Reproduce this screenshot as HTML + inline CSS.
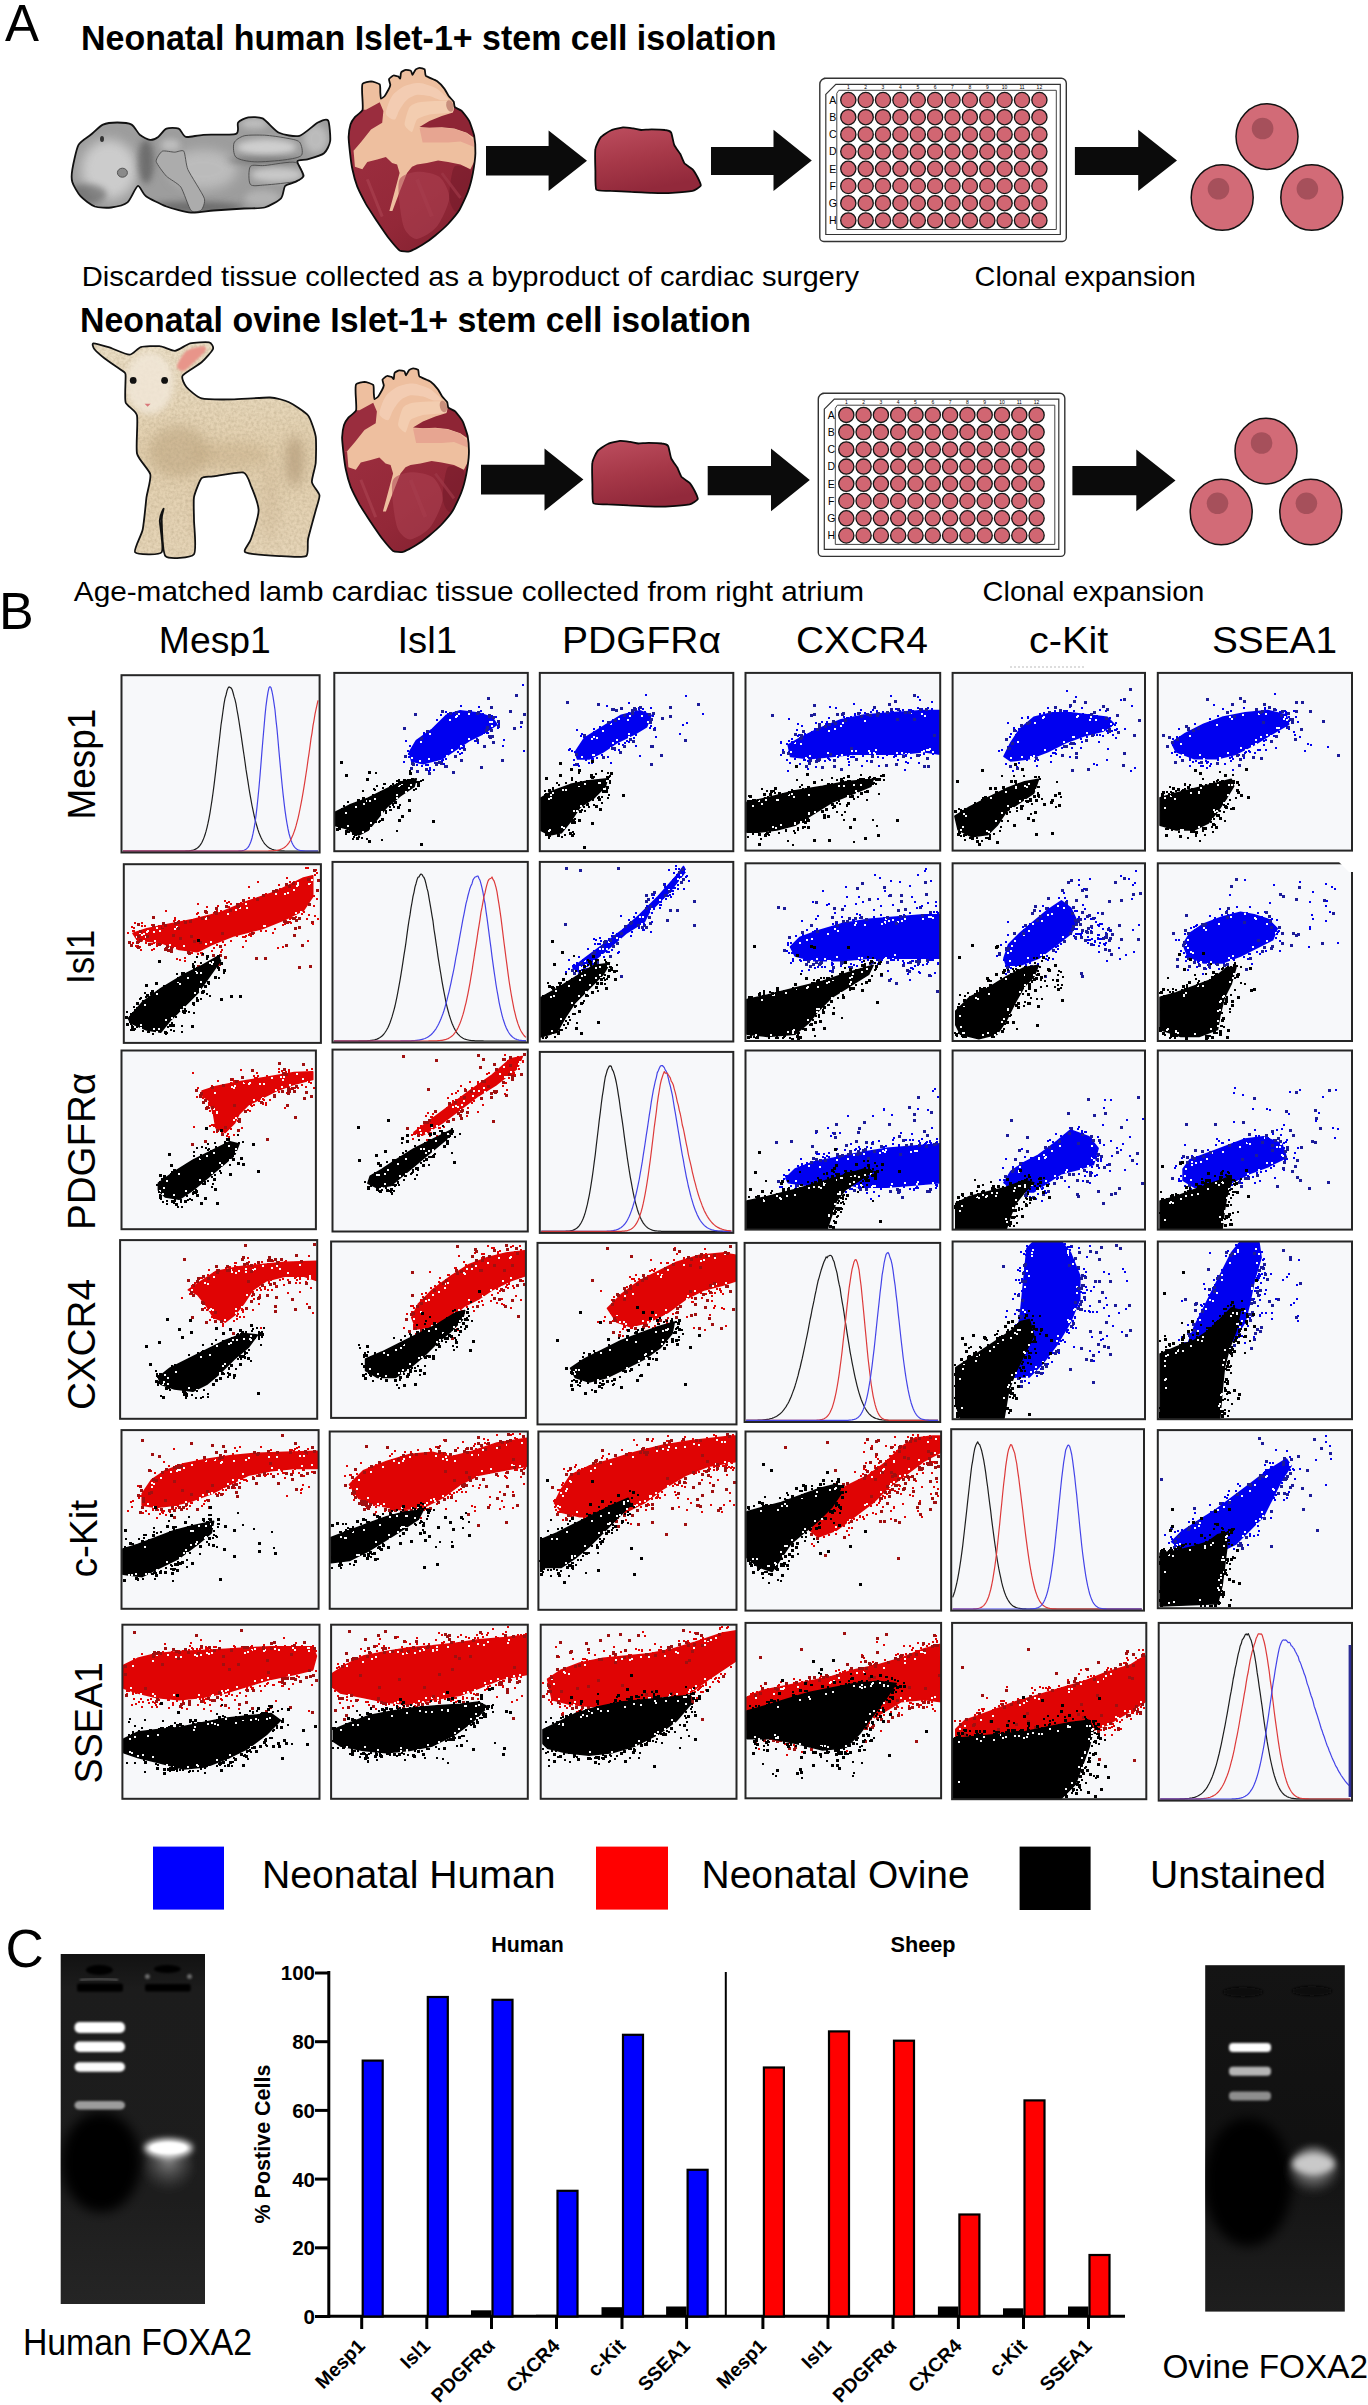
<!DOCTYPE html>
<html><head><meta charset="utf-8"><title>Figure</title>
<style>
html,body{margin:0;padding:0;background:#fff;}
body{width:1368px;height:2405px;overflow:hidden;}
svg{display:block;font-family:"Liberation Sans", sans-serif;}
</style></head><body>
<svg width="1368" height="2405" viewBox="0 0 1368 2405">
<rect width="1368" height="2405" fill="#fff"/>
<defs><filter id="blur1" x="-50%" y="-50%" width="200%" height="200%"><feGaussianBlur stdDeviation="1.2"/></filter><filter id="blur3" x="-100%" y="-100%" width="300%" height="300%"><feGaussianBlur stdDeviation="3"/></filter><filter id="blur6" x="-50%" y="-50%" width="200%" height="200%"><feGaussianBlur stdDeviation="6"/></filter></defs>
<text x="5" y="40.5" font-size="51" font-weight="normal" text-anchor="start" fill="#000" textLength="34" lengthAdjust="spacingAndGlyphs" >A</text>
<text x="81" y="50" font-size="34.5" font-weight="bold" text-anchor="start" fill="#000" textLength="695.5" lengthAdjust="spacingAndGlyphs" >Neonatal human Islet-1+ stem cell isolation</text>
<text x="80" y="331.5" font-size="34.5" font-weight="bold" text-anchor="start" fill="#000" textLength="671" lengthAdjust="spacingAndGlyphs" >Neonatal ovine Islet-1+ stem cell isolation</text>
<text x="81.8" y="285.6" font-size="28.5" font-weight="normal" text-anchor="start" fill="#000" textLength="777.3" lengthAdjust="spacingAndGlyphs" >Discarded tissue collected as a byproduct of cardiac surgery</text>
<text x="974.6" y="285.6" font-size="28.5" font-weight="normal" text-anchor="start" fill="#000" textLength="221.2" lengthAdjust="spacingAndGlyphs" >Clonal expansion</text>
<text x="73.8" y="600.7" font-size="28.5" font-weight="normal" text-anchor="start" fill="#000" textLength="790.2" lengthAdjust="spacingAndGlyphs" >Age-matched lamb cardiac tissue collected from right atrium</text>
<text x="982.6" y="600.7" font-size="28.5" font-weight="normal" text-anchor="start" fill="#000" textLength="221.7" lengthAdjust="spacingAndGlyphs" >Clonal expansion</text>
<defs><clipPath id="bclip"><path d="M72.3,169.6C73,165.3 76.3,149.1 78.4,145.1C80.6,141 87.8,137.2 90.7,134.8C93.6,132.4 99.9,126 103,124.6C106.1,123.2 114,122.5 117.3,122.5C120.6,122.5 129,123.2 131.6,124.6C134.3,126 137.7,133 139.8,134.8C142,136.6 147.9,139.7 150.1,139.9C152.2,140.2 156.3,138.2 158.2,136.9C160.2,135.6 164,129.6 166.4,128.7C168.8,127.7 176.4,127.7 178.7,128.7C181,129.6 183,136.2 185.9,136.9C188.7,137.6 197.4,135.2 203.3,134.8C209.1,134.5 232,135.2 236,133.8C240.1,132.4 236.6,124.5 238.1,122.5C239.5,120.6 245.4,117.9 248.3,117.4C251.2,116.9 259,116.7 262.6,118.4C266.2,120.2 274.7,130.7 279,132.8C283.3,134.8 294.9,137 299.5,135.8C304,134.6 314.5,124.3 317.9,122.5C321.2,120.7 326.7,118.3 328.1,120.5C329.5,122.6 330.6,137.1 330.2,141C329.7,144.8 326.6,151.1 324,153.2C321.4,155.4 310.8,158.4 307.6,159.4C304.5,160.3 297.9,159.5 297.4,161.4C296.9,163.3 303.8,173.4 303.6,175.8C303.3,178.1 297.5,180.7 295.4,181.9C293.2,183.1 286.8,184.1 285.1,186C283.5,187.9 283.4,195.8 281,198.3C278.7,200.8 269,206.3 264.7,207.5C260.4,208.7 250.2,208.1 244.2,208.5C238.2,208.9 219.7,210.1 213.5,210.5C207.3,211 196.5,213.1 191,212.6C185.5,212.1 171.7,208.4 166.4,206.5C161.2,204.5 149.3,198.6 146,196.2C142.6,193.8 139.9,185.3 137.8,186C135.6,186.7 130.6,199.9 127.5,202.4C124.4,204.9 115,207 111.2,207.5C107.3,208 98.4,207.8 94.8,206.5C91.2,205.1 83.1,199.1 80.5,196.2C77.8,193.4 73.2,185 72.3,181.9C71.3,178.8 71.6,173.9 72.3,169.6Z"/></clipPath></defs>
<path d="M72.3,169.6C73,165.3 76.3,149.1 78.4,145.1C80.6,141 87.8,137.2 90.7,134.8C93.6,132.4 99.9,126 103,124.6C106.1,123.2 114,122.5 117.3,122.5C120.6,122.5 129,123.2 131.6,124.6C134.3,126 137.7,133 139.8,134.8C142,136.6 147.9,139.7 150.1,139.9C152.2,140.2 156.3,138.2 158.2,136.9C160.2,135.6 164,129.6 166.4,128.7C168.8,127.7 176.4,127.7 178.7,128.7C181,129.6 183,136.2 185.9,136.9C188.7,137.6 197.4,135.2 203.3,134.8C209.1,134.5 232,135.2 236,133.8C240.1,132.4 236.6,124.5 238.1,122.5C239.5,120.6 245.4,117.9 248.3,117.4C251.2,116.9 259,116.7 262.6,118.4C266.2,120.2 274.7,130.7 279,132.8C283.3,134.8 294.9,137 299.5,135.8C304,134.6 314.5,124.3 317.9,122.5C321.2,120.7 326.7,118.3 328.1,120.5C329.5,122.6 330.6,137.1 330.2,141C329.7,144.8 326.6,151.1 324,153.2C321.4,155.4 310.8,158.4 307.6,159.4C304.5,160.3 297.9,159.5 297.4,161.4C296.9,163.3 303.8,173.4 303.6,175.8C303.3,178.1 297.5,180.7 295.4,181.9C293.2,183.1 286.8,184.1 285.1,186C283.5,187.9 283.4,195.8 281,198.3C278.7,200.8 269,206.3 264.7,207.5C260.4,208.7 250.2,208.1 244.2,208.5C238.2,208.9 219.7,210.1 213.5,210.5C207.3,211 196.5,213.1 191,212.6C185.5,212.1 171.7,208.4 166.4,206.5C161.2,204.5 149.3,198.6 146,196.2C142.6,193.8 139.9,185.3 137.8,186C135.6,186.7 130.6,199.9 127.5,202.4C124.4,204.9 115,207 111.2,207.5C107.3,208 98.4,207.8 94.8,206.5C91.2,205.1 83.1,199.1 80.5,196.2C77.8,193.4 73.2,185 72.3,181.9C71.3,178.8 71.6,173.9 72.3,169.6Z" fill="#9d9d9d"/>
<g clip-path="url(#bclip)">
<ellipse cx="109.1" cy="169.6" rx="28" ry="30" fill="#d2d2d2" opacity="0.9" filter="url(#blur6)"/>
<ellipse cx="86.6" cy="194.2" rx="20" ry="10" fill="#5e5e5e" opacity="0.6" filter="url(#blur3)"/>
<ellipse cx="203.3" cy="169.6" rx="34" ry="20" fill="#c4c4c4" opacity="0.8" filter="url(#blur6)"/>
<ellipse cx="193" cy="207.5" rx="50" ry="6" fill="#5a5a5a" opacity="0.7" filter="url(#blur3)"/>
<ellipse cx="146" cy="161.4" rx="8" ry="22" fill="#5c5c5c" opacity="0.7" filter="url(#blur3)"/>
<ellipse cx="266.7" cy="147.1" rx="30" ry="8" fill="#d4d4d4" opacity="0.9" filter="url(#blur3)"/>
<ellipse cx="264.7" cy="160.4" rx="38" ry="3" fill="#5a5a5a" opacity="0.6" filter="url(#blur3)"/>
<ellipse cx="315.8" cy="138.9" rx="12" ry="14" fill="#c4c4c4" opacity="0.8" filter="url(#blur3)"/>
<ellipse cx="276.9" cy="174.7" rx="26" ry="7" fill="#cdcdcd" opacity="0.9" filter="url(#blur3)"/>
<ellipse cx="262.6" cy="198.3" rx="18" ry="8" fill="#b8b8b8" opacity="0.8" filter="url(#blur3)"/>
<ellipse cx="170.5" cy="145.1" rx="10" ry="6" fill="#c8c8c8" opacity="0.8" filter="url(#blur3)"/>
<ellipse cx="254.4" cy="123.6" rx="14" ry="5" fill="#c8c8c8" opacity="0.8" filter="url(#blur3)"/>
</g>
<path d="M234,143C235.1,140.1 240.1,136.9 244.2,135.8C248.3,134.8 259.2,135 264.7,135.2C270.1,135.5 280.5,137 285.1,137.9C289.8,138.8 297.3,139.7 299.5,142C301.6,144.3 303.4,152.9 301.5,155.3C299.6,157.7 291.4,158.9 285.1,159.8C278.9,160.7 261,162.2 254.4,161.8C247.9,161.5 238.7,159.8 236,157.3C233.3,154.8 232.9,145.9 234,143Z" fill="none" stroke="#4a4a4a" stroke-width="0.9"/>
<path d="M250.3,166.5C252.2,164 258.7,166.1 264.7,165.5C270.7,165 290.3,161.1 295.4,162.4C300.4,163.8 302.5,173.2 302.5,175.8C302.5,178.3 300.4,180.3 295.4,181.5C290.3,182.7 270.7,184.6 264.7,185C258.7,185.3 252.2,186.8 250.3,184.3C248.4,181.9 248.4,169.1 250.3,166.5Z" fill="none" stroke="#4a4a4a" stroke-width="0.9"/>
<path d="M156.2,161.4C155.8,158.9 160.5,152.1 162.3,151.2C164.2,150.3 172.5,152.2 174.6,152.2C176.8,152.2 182.5,149.5 183.8,151.2C185.2,152.9 185.9,164.9 187.9,169.6C190,174.3 203,194.2 204.3,198.3C205.6,202.3 202.6,208.9 201.2,210.1C199.9,211.4 193,212.9 191,210.5C188.9,208.2 183.2,190.4 180.8,187C178.3,183.6 168.9,178.7 166.4,176.2C164,173.6 156.6,163.9 156.2,161.4Z" fill="#acacac" stroke="#4a4a4a" stroke-width="0.9"/>
<ellipse cx="122.4" cy="172.7" rx="5" ry="4.5" fill="#8a8a8a" stroke="#555" stroke-width="1"/>
<ellipse cx="102" cy="138.9" rx="2" ry="3" fill="#333"/>
<path d="M72.3,169.6C73,165.3 76.3,149.1 78.4,145.1C80.6,141 87.8,137.2 90.7,134.8C93.6,132.4 99.9,126 103,124.6C106.1,123.2 114,122.5 117.3,122.5C120.6,122.5 129,123.2 131.6,124.6C134.3,126 137.7,133 139.8,134.8C142,136.6 147.9,139.7 150.1,139.9C152.2,140.2 156.3,138.2 158.2,136.9C160.2,135.6 164,129.6 166.4,128.7C168.8,127.7 176.4,127.7 178.7,128.7C181,129.6 183,136.2 185.9,136.9C188.7,137.6 197.4,135.2 203.3,134.8C209.1,134.5 232,135.2 236,133.8C240.1,132.4 236.6,124.5 238.1,122.5C239.5,120.6 245.4,117.9 248.3,117.4C251.2,116.9 259,116.7 262.6,118.4C266.2,120.2 274.7,130.7 279,132.8C283.3,134.8 294.9,137 299.5,135.8C304,134.6 314.5,124.3 317.9,122.5C321.2,120.7 326.7,118.3 328.1,120.5C329.5,122.6 330.6,137.1 330.2,141C329.7,144.8 326.6,151.1 324,153.2C321.4,155.4 310.8,158.4 307.6,159.4C304.5,160.3 297.9,159.5 297.4,161.4C296.9,163.3 303.8,173.4 303.6,175.8C303.3,178.1 297.5,180.7 295.4,181.9C293.2,183.1 286.8,184.1 285.1,186C283.5,187.9 283.4,195.8 281,198.3C278.7,200.8 269,206.3 264.7,207.5C260.4,208.7 250.2,208.1 244.2,208.5C238.2,208.9 219.7,210.1 213.5,210.5C207.3,211 196.5,213.1 191,212.6C185.5,212.1 171.7,208.4 166.4,206.5C161.2,204.5 149.3,198.6 146,196.2C142.6,193.8 139.9,185.3 137.8,186C135.6,186.7 130.6,199.9 127.5,202.4C124.4,204.9 115,207 111.2,207.5C107.3,208 98.4,207.8 94.8,206.5C91.2,205.1 83.1,199.1 80.5,196.2C77.8,193.4 73.2,185 72.3,181.9C71.3,178.8 71.6,173.9 72.3,169.6Z" fill="none" stroke="#111" stroke-width="1.8" stroke-linejoin="round"/>
<clipPath id="hc0"><path d="M362.6,109.7C363.2,107.6 362.1,94.4 362.1,92.3C362.1,90.1 361.8,84.7 362.6,83.8C363.3,82.9 369.6,81.3 371,81.3C372.4,81.4 378.9,83.4 379.7,84.3C380.5,85.2 380.2,91.1 380.3,92.3C380.4,93.5 380.6,98.2 381,98.5C381.3,98.8 384.1,96.7 384.7,96C385.3,95.3 387.9,90.7 388.4,89.8C388.9,88.9 390.2,85.7 390.3,84.8C390.3,83.9 388.8,80 389,79.2C389.3,78.5 392.6,75.7 393.4,75.5C394.1,75.3 397.5,76.1 398.1,76.4C398.7,76.6 400,78.9 400.2,78.6C400.5,78.3 400.6,73.1 401.1,72.4C401.5,71.7 405,70 405.8,69.9C406.6,69.8 410.5,70.5 411,70.9C411.6,71.3 412.1,75 412.5,74.9C412.9,74.8 414.9,70.2 415.5,69.7C416.1,69.1 419,67.9 419.7,67.9C420.5,67.9 424.2,68.8 424.7,69.4C425.2,70.1 424.9,74.9 425.9,75.9C427,76.9 435.3,80 436.9,81.1C438.4,82.2 443.3,87.3 444.3,88.6C445.3,89.8 447.9,94.9 448.7,96C449.5,97.1 453.1,100.7 453.6,101.6C454.2,102.5 454.2,106.4 454.9,107.2C455.6,108 460.5,109.8 461.7,110.9C462.9,112.1 468.1,118.8 469.2,120.9C470.2,122.9 473.6,133.1 474.2,135.8C474.7,138.5 475.5,150.1 475.4,153.2C475.3,156.3 473.5,169.8 472.9,173.1C472.3,176.3 469.1,188.6 467.9,191.7C466.8,194.8 460.9,207.6 459.2,210.3C457.6,213 450,221.9 448.1,224C446.1,226.1 437.8,233.4 435.6,235.2C433.5,237 424.1,243.8 422,245.1C419.8,246.5 411.4,250.9 409.5,251.3C407.7,251.8 401.4,251.5 399.6,250.4C397.8,249.2 390.3,240.1 388.4,237.7C386.5,235.3 379.1,224.3 377.2,221.5C375.4,218.7 367.7,207 366,204.1C364.4,201.2 358.5,189.6 357.3,186.7C356.2,183.8 353,172.2 352.4,169.3C351.7,166.4 350.2,154.6 349.9,151.9C349.6,149.2 348.6,139.3 348.6,137C348.7,134.7 350,126.2 350.5,124.6C351,122.9 353.8,118.4 354.9,117.1C355.9,115.9 362,111.7 362.6,109.7Z"/></clipPath>
<path d="M362.6,109.7C363.2,107.6 362.1,94.4 362.1,92.3C362.1,90.1 361.8,84.7 362.6,83.8C363.3,82.9 369.6,81.3 371,81.3C372.4,81.4 378.9,83.4 379.7,84.3C380.5,85.2 380.2,91.1 380.3,92.3C380.4,93.5 380.6,98.2 381,98.5C381.3,98.8 384.1,96.7 384.7,96C385.3,95.3 387.9,90.7 388.4,89.8C388.9,88.9 390.2,85.7 390.3,84.8C390.3,83.9 388.8,80 389,79.2C389.3,78.5 392.6,75.7 393.4,75.5C394.1,75.3 397.5,76.1 398.1,76.4C398.7,76.6 400,78.9 400.2,78.6C400.5,78.3 400.6,73.1 401.1,72.4C401.5,71.7 405,70 405.8,69.9C406.6,69.8 410.5,70.5 411,70.9C411.6,71.3 412.1,75 412.5,74.9C412.9,74.8 414.9,70.2 415.5,69.7C416.1,69.1 419,67.9 419.7,67.9C420.5,67.9 424.2,68.8 424.7,69.4C425.2,70.1 424.9,74.9 425.9,75.9C427,76.9 435.3,80 436.9,81.1C438.4,82.2 443.3,87.3 444.3,88.6C445.3,89.8 447.9,94.9 448.7,96C449.5,97.1 453.1,100.7 453.6,101.6C454.2,102.5 454.2,106.4 454.9,107.2C455.6,108 460.5,109.8 461.7,110.9C462.9,112.1 468.1,118.8 469.2,120.9C470.2,122.9 473.6,133.1 474.2,135.8C474.7,138.5 475.5,150.1 475.4,153.2C475.3,156.3 473.5,169.8 472.9,173.1C472.3,176.3 469.1,188.6 467.9,191.7C466.8,194.8 460.9,207.6 459.2,210.3C457.6,213 450,221.9 448.1,224C446.1,226.1 437.8,233.4 435.6,235.2C433.5,237 424.1,243.8 422,245.1C419.8,246.5 411.4,250.9 409.5,251.3C407.7,251.8 401.4,251.5 399.6,250.4C397.8,249.2 390.3,240.1 388.4,237.7C386.5,235.3 379.1,224.3 377.2,221.5C375.4,218.7 367.7,207 366,204.1C364.4,201.2 358.5,189.6 357.3,186.7C356.2,183.8 353,172.2 352.4,169.3C351.7,166.4 350.2,154.6 349.9,151.9C349.6,149.2 348.6,139.3 348.6,137C348.7,134.7 350,126.2 350.5,124.6C351,122.9 353.8,118.4 354.9,117.1C355.9,115.9 362,111.7 362.6,109.7Z" fill="#eebf9f"/>
<g clip-path="url(#hc0)">
<defs><linearGradient id="hg0" x1="0" y1="0" x2="1" y2="1"><stop offset="0" stop-color="#9c2e3f"/><stop offset="0.5" stop-color="#932838"/><stop offset="1" stop-color="#7a1d2c"/></linearGradient></defs>
<polygon points="344.9,151.9 353.6,150.7 354.9,166.8 362.3,169.3 367.3,161.9 377.2,159.4 385.9,156.9 392.1,163.1 397.1,164.4 399.6,173.1 394.6,191.7 389.4,211 392.4,211 399.6,191.7 407,173.1 412,166.8 417,164.4 426.9,163.1 438.1,160.6 448.1,161.9 460.5,164.4 470.4,169.3 476.6,156.9 485.3,154.4 485.3,266.3 342.4,266.3" fill="url(#hg0)"/>
<polygon points="342.4,137 344.9,119.6 354.9,113.4 362.6,109.7 366,109.7 379.7,102.2 383.4,110.9 382.2,122.7 371,129.6 361.1,142 353.6,150.7 344.9,153.2" fill="#9a2d3e"/>
<polygon points="419.5,127.1 429.4,120.9 441.8,115.9 453,112.4 454.3,104.7 461.7,109.7 479.1,120.9 479.1,139.5 472.9,137 466.7,132.7 454.3,128.6 441.8,127.3 429.4,127.7" fill="#8e2535"/>
<polygon points="419.5,128.1 441.8,127.8 454.3,129.1 466.7,133 474.2,140.7 474.2,147 460.5,141.4 448.1,142.6 435.6,142.6 422.6,142.6" fill="#e7a591"/>
<path d="M385.9,113.4C385.6,110.3 389.6,99.7 392.1,96C394.6,92.4 400.9,87.8 404.6,86.1C408.2,84.3 415.3,82.7 419.5,83C423.6,83.2 432.1,86.2 435.6,87.9C439.1,89.7 443.9,94.4 445.6,96C447.2,97.6 448.9,99.2 448.1,99.7C447.2,100.2 441.8,100.2 439.4,99.7C436.9,99.2 432.4,96.7 429.4,96C426.4,95.3 420,94.3 417,94.8C414,95.3 409.4,97.7 407,99.7C404.7,101.7 401.2,107 399.6,109.7C397.9,112.3 396.4,119.1 394.6,119.6C392.8,120.1 386.3,116.6 385.9,113.4Z" fill="#f4d0b6" opacity="0.8"/>
<path d="M404.6,124.6C404.3,122.1 408,109.4 409.5,107.2C411,105 415.6,102.8 419.5,102.2C423.3,101.6 444.6,100.5 448.1,101C451.5,101.5 453.3,106.1 453.6,107.2C454,108.3 454.2,111.4 451.8,112.2C449.4,112.9 432.9,113.9 429.4,114.6C425.9,115.4 418.7,117.9 417,119.6C415.2,121.4 413.3,131.6 412,132C410.8,132.5 404.8,127.1 404.6,124.6Z" fill="#f3cdb0"/>
<ellipse cx="449.9" cy="106" rx="3.5" ry="6" fill="#c98f7c" transform="rotate(-15 449.9 106)"/>
<path d="M399.6,179.3C401.9,175 411.7,172.1 417,171.8C422.3,171.5 435,173.3 439.4,176.8C443.7,180.3 449.6,191.3 449.3,197.9C449,204.5 441.2,221 436.9,226.5C432.6,232 421.3,238.6 417,238.9C412.7,239.3 406.9,233.6 404.6,229C402.2,224.3 400.3,210.8 399.6,204.1C398.9,197.5 397.3,183.6 399.6,179.3Z" fill="#ad4152" opacity="0.55"/>
<path d="M454.3,166.8C457.1,163.2 468.4,167.3 470.4,170.6C472.4,173.9 471,186.2 469.2,191.7C467.4,197.2 459.4,210.8 456.8,211.6C454.1,212.4 449.6,203.9 449.3,197.9C449,191.9 451.5,170.5 454.3,166.8Z" fill="#741a29" opacity="0.6"/>
<line x1="367.3" y1="179.3" x2="382.2" y2="216.6" stroke="#a9404f" stroke-width="3" opacity="0.7"/>
<line x1="417" y1="179.3" x2="431.9" y2="216.6" stroke="#a63c4c" stroke-width="4" opacity="0.7"/>
<line x1="441.8" y1="173.1" x2="460.5" y2="197.9" stroke="#9f3848" stroke-width="3" opacity="0.7"/>
<line x1="361.1" y1="197.9" x2="373.5" y2="216.6" stroke="#a33a4a" stroke-width="3" opacity="0.7"/>
</g>
<path d="M362.6,109.7C363.2,107.6 362.1,94.4 362.1,92.3C362.1,90.1 361.8,84.7 362.6,83.8C363.3,82.9 369.6,81.3 371,81.3C372.4,81.4 378.9,83.4 379.7,84.3C380.5,85.2 380.2,91.1 380.3,92.3C380.4,93.5 380.6,98.2 381,98.5C381.3,98.8 384.1,96.7 384.7,96C385.3,95.3 387.9,90.7 388.4,89.8C388.9,88.9 390.2,85.7 390.3,84.8C390.3,83.9 388.8,80 389,79.2C389.3,78.5 392.6,75.7 393.4,75.5C394.1,75.3 397.5,76.1 398.1,76.4C398.7,76.6 400,78.9 400.2,78.6C400.5,78.3 400.6,73.1 401.1,72.4C401.5,71.7 405,70 405.8,69.9C406.6,69.8 410.5,70.5 411,70.9C411.6,71.3 412.1,75 412.5,74.9C412.9,74.8 414.9,70.2 415.5,69.7C416.1,69.1 419,67.9 419.7,67.9C420.5,67.9 424.2,68.8 424.7,69.4C425.2,70.1 424.9,74.9 425.9,75.9C427,76.9 435.3,80 436.9,81.1C438.4,82.2 443.3,87.3 444.3,88.6C445.3,89.8 447.9,94.9 448.7,96C449.5,97.1 453.1,100.7 453.6,101.6C454.2,102.5 454.2,106.4 454.9,107.2C455.6,108 460.5,109.8 461.7,110.9C462.9,112.1 468.1,118.8 469.2,120.9C470.2,122.9 473.6,133.1 474.2,135.8C474.7,138.5 475.5,150.1 475.4,153.2C475.3,156.3 473.5,169.8 472.9,173.1C472.3,176.3 469.1,188.6 467.9,191.7C466.8,194.8 460.9,207.6 459.2,210.3C457.6,213 450,221.9 448.1,224C446.1,226.1 437.8,233.4 435.6,235.2C433.5,237 424.1,243.8 422,245.1C419.8,246.5 411.4,250.9 409.5,251.3C407.7,251.8 401.4,251.5 399.6,250.4C397.8,249.2 390.3,240.1 388.4,237.7C386.5,235.3 379.1,224.3 377.2,221.5C375.4,218.7 367.7,207 366,204.1C364.4,201.2 358.5,189.6 357.3,186.7C356.2,183.8 353,172.2 352.4,169.3C351.7,166.4 350.2,154.6 349.9,151.9C349.6,149.2 348.6,139.3 348.6,137C348.7,134.7 350,126.2 350.5,124.6C351,122.9 353.8,118.4 354.9,117.1C355.9,115.9 362,111.7 362.6,109.7Z" fill="none" stroke="#0d0d0d" stroke-width="1.8" stroke-linejoin="round"/>
<clipPath id="hc300"><path d="M356.1,410.2C356.7,408.1 355.6,394.9 355.6,392.8C355.6,390.6 355.3,385.2 356.1,384.3C356.8,383.4 363.1,381.8 364.5,381.8C365.9,381.9 372.4,383.9 373.2,384.8C374,385.7 373.7,391.6 373.8,392.8C373.9,394 374.1,398.7 374.5,399C374.8,399.3 377.6,397.2 378.2,396.5C378.8,395.8 381.4,391.2 381.9,390.3C382.4,389.4 383.7,386.2 383.8,385.3C383.8,384.4 382.3,380.5 382.5,379.7C382.8,379 386.1,376.2 386.9,376C387.6,375.8 391,376.6 391.6,376.9C392.2,377.1 393.5,379.4 393.7,379.1C394,378.8 394.1,373.6 394.6,372.9C395,372.2 398.5,370.5 399.3,370.4C400.1,370.3 404,371 404.5,371.4C405.1,371.8 405.6,375.5 406,375.4C406.4,375.3 408.4,370.7 409,370.2C409.6,369.6 412.5,368.4 413.2,368.4C414,368.4 417.7,369.3 418.2,369.9C418.7,370.6 418.4,375.4 419.4,376.4C420.5,377.4 428.8,380.5 430.4,381.6C431.9,382.7 436.8,387.8 437.8,389.1C438.8,390.3 441.4,395.4 442.2,396.5C443,397.6 446.6,401.2 447.1,402.1C447.7,403 447.7,406.9 448.4,407.7C449.1,408.5 454,410.3 455.2,411.4C456.4,412.6 461.6,419.3 462.7,421.4C463.7,423.4 467.1,433.6 467.7,436.3C468.2,439 469,450.6 468.9,453.7C468.8,456.8 467,470.3 466.4,473.6C465.8,476.8 462.6,489.1 461.4,492.2C460.3,495.3 454.4,508.1 452.7,510.8C451.1,513.5 443.5,522.4 441.6,524.5C439.6,526.6 431.3,533.9 429.1,535.7C427,537.5 417.6,544.3 415.5,545.6C413.3,547 404.9,551.4 403,551.8C401.2,552.3 394.9,552 393.1,550.9C391.3,549.7 383.8,540.6 381.9,538.2C380,535.8 372.6,524.8 370.7,522C368.9,519.2 361.2,507.5 359.5,504.6C357.9,501.7 352,490.1 350.8,487.2C349.7,484.3 346.5,472.7 345.9,469.8C345.2,466.9 343.7,455.1 343.4,452.4C343.1,449.7 342.1,439.8 342.1,437.5C342.2,435.2 343.5,426.7 344,425.1C344.5,423.4 347.3,418.9 348.4,417.6C349.4,416.4 355.5,412.2 356.1,410.2Z"/></clipPath>
<path d="M356.1,410.2C356.7,408.1 355.6,394.9 355.6,392.8C355.6,390.6 355.3,385.2 356.1,384.3C356.8,383.4 363.1,381.8 364.5,381.8C365.9,381.9 372.4,383.9 373.2,384.8C374,385.7 373.7,391.6 373.8,392.8C373.9,394 374.1,398.7 374.5,399C374.8,399.3 377.6,397.2 378.2,396.5C378.8,395.8 381.4,391.2 381.9,390.3C382.4,389.4 383.7,386.2 383.8,385.3C383.8,384.4 382.3,380.5 382.5,379.7C382.8,379 386.1,376.2 386.9,376C387.6,375.8 391,376.6 391.6,376.9C392.2,377.1 393.5,379.4 393.7,379.1C394,378.8 394.1,373.6 394.6,372.9C395,372.2 398.5,370.5 399.3,370.4C400.1,370.3 404,371 404.5,371.4C405.1,371.8 405.6,375.5 406,375.4C406.4,375.3 408.4,370.7 409,370.2C409.6,369.6 412.5,368.4 413.2,368.4C414,368.4 417.7,369.3 418.2,369.9C418.7,370.6 418.4,375.4 419.4,376.4C420.5,377.4 428.8,380.5 430.4,381.6C431.9,382.7 436.8,387.8 437.8,389.1C438.8,390.3 441.4,395.4 442.2,396.5C443,397.6 446.6,401.2 447.1,402.1C447.7,403 447.7,406.9 448.4,407.7C449.1,408.5 454,410.3 455.2,411.4C456.4,412.6 461.6,419.3 462.7,421.4C463.7,423.4 467.1,433.6 467.7,436.3C468.2,439 469,450.6 468.9,453.7C468.8,456.8 467,470.3 466.4,473.6C465.8,476.8 462.6,489.1 461.4,492.2C460.3,495.3 454.4,508.1 452.7,510.8C451.1,513.5 443.5,522.4 441.6,524.5C439.6,526.6 431.3,533.9 429.1,535.7C427,537.5 417.6,544.3 415.5,545.6C413.3,547 404.9,551.4 403,551.8C401.2,552.3 394.9,552 393.1,550.9C391.3,549.7 383.8,540.6 381.9,538.2C380,535.8 372.6,524.8 370.7,522C368.9,519.2 361.2,507.5 359.5,504.6C357.9,501.7 352,490.1 350.8,487.2C349.7,484.3 346.5,472.7 345.9,469.8C345.2,466.9 343.7,455.1 343.4,452.4C343.1,449.7 342.1,439.8 342.1,437.5C342.2,435.2 343.5,426.7 344,425.1C344.5,423.4 347.3,418.9 348.4,417.6C349.4,416.4 355.5,412.2 356.1,410.2Z" fill="#eebf9f"/>
<g clip-path="url(#hc300)">
<defs><linearGradient id="hg300" x1="0" y1="0" x2="1" y2="1"><stop offset="0" stop-color="#9c2e3f"/><stop offset="0.5" stop-color="#932838"/><stop offset="1" stop-color="#7a1d2c"/></linearGradient></defs>
<polygon points="338.4,452.4 347.1,451.2 348.4,467.3 355.8,469.8 360.8,462.4 370.7,459.9 379.4,457.4 385.6,463.6 390.6,464.9 393.1,473.6 388.1,492.2 382.9,511.5 385.9,511.5 393.1,492.2 400.5,473.6 405.5,467.3 410.5,464.9 420.4,463.6 431.6,461.1 441.6,462.4 454,464.9 463.9,469.8 470.1,457.4 478.8,454.9 478.8,566.8 335.9,566.8" fill="url(#hg300)"/>
<polygon points="335.9,437.5 338.4,420.1 348.4,413.9 356.1,410.2 359.5,410.2 373.2,402.7 376.9,411.4 375.7,423.2 364.5,430.1 354.6,442.5 347.1,451.2 338.4,453.7" fill="#9a2d3e"/>
<polygon points="413,427.6 422.9,421.4 435.3,416.4 446.5,412.9 447.8,405.2 455.2,410.2 472.6,421.4 472.6,440 466.4,437.5 460.2,433.2 447.8,429.1 435.3,427.8 422.9,428.2" fill="#8e2535"/>
<polygon points="413,428.6 435.3,428.3 447.8,429.6 460.2,433.5 467.7,441.2 467.7,447.5 454,441.9 441.6,443.1 429.1,443.1 416.1,443.1" fill="#e7a591"/>
<path d="M379.4,413.9C379.1,410.8 383.1,400.2 385.6,396.5C388.1,392.9 394.4,388.3 398.1,386.6C401.7,384.8 408.8,383.2 413,383.5C417.1,383.7 425.6,386.7 429.1,388.4C432.6,390.2 437.4,394.9 439.1,396.5C440.7,398.1 442.4,399.7 441.6,400.2C440.7,400.7 435.3,400.7 432.9,400.2C430.4,399.7 425.9,397.2 422.9,396.5C419.9,395.8 413.5,394.8 410.5,395.3C407.5,395.8 402.9,398.2 400.5,400.2C398.2,402.2 394.7,407.5 393.1,410.2C391.4,412.8 389.9,419.6 388.1,420.1C386.3,420.6 379.8,417.1 379.4,413.9Z" fill="#f4d0b6" opacity="0.8"/>
<path d="M398.1,425.1C397.8,422.6 401.5,409.9 403,407.7C404.5,405.5 409.1,403.3 413,402.7C416.8,402.1 438.1,401 441.6,401.5C445,402 446.8,406.6 447.1,407.7C447.5,408.8 447.7,411.9 445.3,412.7C442.9,413.4 426.4,414.4 422.9,415.1C419.4,415.9 412.2,418.4 410.5,420.1C408.7,421.9 406.8,432.1 405.5,432.5C404.3,433 398.3,427.6 398.1,425.1Z" fill="#f3cdb0"/>
<ellipse cx="443.4" cy="406.5" rx="3.5" ry="6" fill="#c98f7c" transform="rotate(-15 443.4 406.5)"/>
<path d="M393.1,479.8C395.4,475.5 405.2,472.6 410.5,472.3C415.8,472 428.5,473.8 432.9,477.3C437.2,480.8 443.1,491.8 442.8,498.4C442.5,505 434.7,521.5 430.4,527C426.1,532.5 414.8,539.1 410.5,539.4C406.2,539.8 400.4,534.1 398.1,529.5C395.7,524.8 393.8,511.3 393.1,504.6C392.4,498 390.8,484.1 393.1,479.8Z" fill="#ad4152" opacity="0.55"/>
<path d="M447.8,467.3C450.6,463.7 461.9,467.8 463.9,471.1C465.9,474.4 464.5,486.7 462.7,492.2C460.9,497.7 452.9,511.3 450.3,512.1C447.6,512.9 443.1,504.4 442.8,498.4C442.5,492.4 445,471 447.8,467.3Z" fill="#741a29" opacity="0.6"/>
<line x1="360.8" y1="479.8" x2="375.7" y2="517.1" stroke="#a9404f" stroke-width="3" opacity="0.7"/>
<line x1="410.5" y1="479.8" x2="425.4" y2="517.1" stroke="#a63c4c" stroke-width="4" opacity="0.7"/>
<line x1="435.3" y1="473.6" x2="454" y2="498.4" stroke="#9f3848" stroke-width="3" opacity="0.7"/>
<line x1="354.6" y1="498.4" x2="367" y2="517.1" stroke="#a33a4a" stroke-width="3" opacity="0.7"/>
</g>
<path d="M356.1,410.2C356.7,408.1 355.6,394.9 355.6,392.8C355.6,390.6 355.3,385.2 356.1,384.3C356.8,383.4 363.1,381.8 364.5,381.8C365.9,381.9 372.4,383.9 373.2,384.8C374,385.7 373.7,391.6 373.8,392.8C373.9,394 374.1,398.7 374.5,399C374.8,399.3 377.6,397.2 378.2,396.5C378.8,395.8 381.4,391.2 381.9,390.3C382.4,389.4 383.7,386.2 383.8,385.3C383.8,384.4 382.3,380.5 382.5,379.7C382.8,379 386.1,376.2 386.9,376C387.6,375.8 391,376.6 391.6,376.9C392.2,377.1 393.5,379.4 393.7,379.1C394,378.8 394.1,373.6 394.6,372.9C395,372.2 398.5,370.5 399.3,370.4C400.1,370.3 404,371 404.5,371.4C405.1,371.8 405.6,375.5 406,375.4C406.4,375.3 408.4,370.7 409,370.2C409.6,369.6 412.5,368.4 413.2,368.4C414,368.4 417.7,369.3 418.2,369.9C418.7,370.6 418.4,375.4 419.4,376.4C420.5,377.4 428.8,380.5 430.4,381.6C431.9,382.7 436.8,387.8 437.8,389.1C438.8,390.3 441.4,395.4 442.2,396.5C443,397.6 446.6,401.2 447.1,402.1C447.7,403 447.7,406.9 448.4,407.7C449.1,408.5 454,410.3 455.2,411.4C456.4,412.6 461.6,419.3 462.7,421.4C463.7,423.4 467.1,433.6 467.7,436.3C468.2,439 469,450.6 468.9,453.7C468.8,456.8 467,470.3 466.4,473.6C465.8,476.8 462.6,489.1 461.4,492.2C460.3,495.3 454.4,508.1 452.7,510.8C451.1,513.5 443.5,522.4 441.6,524.5C439.6,526.6 431.3,533.9 429.1,535.7C427,537.5 417.6,544.3 415.5,545.6C413.3,547 404.9,551.4 403,551.8C401.2,552.3 394.9,552 393.1,550.9C391.3,549.7 383.8,540.6 381.9,538.2C380,535.8 372.6,524.8 370.7,522C368.9,519.2 361.2,507.5 359.5,504.6C357.9,501.7 352,490.1 350.8,487.2C349.7,484.3 346.5,472.7 345.9,469.8C345.2,466.9 343.7,455.1 343.4,452.4C343.1,449.7 342.1,439.8 342.1,437.5C342.2,435.2 343.5,426.7 344,425.1C344.5,423.4 347.3,418.9 348.4,417.6C349.4,416.4 355.5,412.2 356.1,410.2Z" fill="none" stroke="#0d0d0d" stroke-width="1.8" stroke-linejoin="round"/>
<polygon points="486,146 548.6,146 548.6,130.5 587,160.8 548.6,191 548.6,175.5 486,175.5" fill="#0b0b0b"/>
<polygon points="711,146.9 773.5,146.9 773.5,129.8 811.8,160.4 773.5,191 773.5,175 711,175" fill="#0b0b0b"/>
<polygon points="1074.9,146.9 1138.2,146.9 1138.2,129.8 1177,160.4 1138.2,191 1138.2,175 1074.9,175" fill="#0b0b0b"/>
<polygon points="481,464.8 544.5,464.8 544.5,448.4 583.4,479.6 544.5,510.8 544.5,494.5 481,494.5" fill="#0b0b0b"/>
<polygon points="707.7,466 771,466 771,448.4 809.8,479.9 771,511.3 771,495.2 707.7,495.2" fill="#0b0b0b"/>
<polygon points="1072.4,466 1136.3,466 1136.3,449.4 1175.5,480.4 1136.3,511.3 1136.3,495.2 1072.4,495.2" fill="#0b0b0b"/>
<defs><linearGradient id="tg0" x1="0" y1="0" x2="0.3" y2="1"><stop offset="0" stop-color="#bd4e5f"/><stop offset="0.55" stop-color="#a63848"/><stop offset="1" stop-color="#92293b"/></linearGradient></defs>
<path d="M595.4,148.9C595.8,146.1 599.2,139.2 600.5,137.6C601.7,136.1 608.8,131.3 610.7,130.5C612.6,129.6 621.1,127.6 623,127.4C624.9,127.2 631.7,128.2 633.2,128.4C634.8,128.6 639.9,129.9 641.4,130C642.9,130 649.7,129.4 651.6,129.4C653.6,129.4 663.3,129.7 664.9,130C666.6,130.2 670.3,131.3 671.1,132.5C671.9,133.8 673.4,143 674.2,144.8C674.9,146.6 679.4,152.5 680.3,154C681.1,155.5 683.4,161.9 684.4,163.2C685.4,164.5 691.5,168.2 692.6,169.4C693.7,170.6 697,176.2 697.7,177.5C698.4,178.9 701.2,184.6 700.8,185.7C700.3,186.8 695,190.3 692.6,190.9C690.2,191.4 675.5,192.7 672.1,192.9C668.7,193.1 655.1,193 651.6,192.9C648.2,192.8 634.6,192 631.2,191.9C627.8,191.7 613.6,191 610.7,190.9C607.8,190.7 597.7,191.4 596.4,189.8C595.1,188.2 595.4,174.8 595.4,171.4C595.3,168 594.9,151.7 595.4,148.9Z" fill="url(#tg0)" stroke="#0a0a0a" stroke-width="1.8" stroke-linejoin="round"/>
<defs><linearGradient id="tg313" x1="0" y1="0" x2="0.3" y2="1"><stop offset="0" stop-color="#bd4e5f"/><stop offset="0.55" stop-color="#a63848"/><stop offset="1" stop-color="#92293b"/></linearGradient></defs>
<path d="M592.4,462.4C592.8,459.6 596.2,452.7 597.5,451.1C598.7,449.6 605.8,444.8 607.7,444C609.6,443.1 618.1,441.1 620,440.9C621.9,440.7 628.7,441.7 630.2,441.9C631.8,442.1 636.9,443.4 638.4,443.5C639.9,443.5 646.7,442.9 648.6,442.9C650.6,442.9 660.3,443.2 661.9,443.5C663.6,443.7 667.3,444.8 668.1,446C668.9,447.3 670.4,456.5 671.2,458.3C671.9,460.1 676.4,466 677.3,467.5C678.1,469 680.4,475.4 681.4,476.7C682.4,478 688.5,481.7 689.6,482.9C690.7,484.1 694,489.7 694.7,491C695.4,492.4 698.2,498.1 697.8,499.2C697.3,500.3 692,503.8 689.6,504.4C687.2,504.9 672.5,506.2 669.1,506.4C665.7,506.6 652.1,506.5 648.6,506.4C645.2,506.3 631.6,505.5 628.2,505.4C624.8,505.2 610.6,504.5 607.7,504.4C604.8,504.2 594.7,504.9 593.4,503.3C592.1,501.7 592.4,488.3 592.4,484.9C592.3,481.5 591.9,465.2 592.4,462.4Z" fill="url(#tg313)" stroke="#0a0a0a" stroke-width="1.8" stroke-linejoin="round"/>
<g>
<path d="M823.8,78.3 h237.5 a5,5 0 0 1 5,5 v154.2 a4,4 0 0 1 -4,4 h-238.5 a4,4 0 0 1 -4,-4 v-153.2 a6,6 0 0 1 6,-6z" fill="#fff" stroke="#333" stroke-width="1.4"/>
<path d="M825.8,94.3 L835.8,84.3 H1060.3 V234.5 H825.8 Z" fill="none" stroke="#333" stroke-width="1.2"/>
<path d="M836.8,93.3 L838.8,90.3 H1056.3 V229.5 H836.8 Z" fill="none" stroke="#444" stroke-width="1"/>
<g fill="#d16672" stroke="#161616" stroke-width="1.3"><circle cx="848.3" cy="100" r="7.6"/><circle cx="865.7" cy="100" r="7.6"/><circle cx="883" cy="100" r="7.6"/><circle cx="900.4" cy="100" r="7.6"/><circle cx="917.8" cy="100" r="7.6"/><circle cx="935.1" cy="100" r="7.6"/><circle cx="952.5" cy="100" r="7.6"/><circle cx="969.9" cy="100" r="7.6"/><circle cx="987.3" cy="100" r="7.6"/><circle cx="1004.6" cy="100" r="7.6"/><circle cx="1022" cy="100" r="7.6"/><circle cx="1039.4" cy="100" r="7.6"/><circle cx="848.3" cy="117.2" r="7.6"/><circle cx="865.7" cy="117.2" r="7.6"/><circle cx="883" cy="117.2" r="7.6"/><circle cx="900.4" cy="117.2" r="7.6"/><circle cx="917.8" cy="117.2" r="7.6"/><circle cx="935.1" cy="117.2" r="7.6"/><circle cx="952.5" cy="117.2" r="7.6"/><circle cx="969.9" cy="117.2" r="7.6"/><circle cx="987.3" cy="117.2" r="7.6"/><circle cx="1004.6" cy="117.2" r="7.6"/><circle cx="1022" cy="117.2" r="7.6"/><circle cx="1039.4" cy="117.2" r="7.6"/><circle cx="848.3" cy="134.4" r="7.6"/><circle cx="865.7" cy="134.4" r="7.6"/><circle cx="883" cy="134.4" r="7.6"/><circle cx="900.4" cy="134.4" r="7.6"/><circle cx="917.8" cy="134.4" r="7.6"/><circle cx="935.1" cy="134.4" r="7.6"/><circle cx="952.5" cy="134.4" r="7.6"/><circle cx="969.9" cy="134.4" r="7.6"/><circle cx="987.3" cy="134.4" r="7.6"/><circle cx="1004.6" cy="134.4" r="7.6"/><circle cx="1022" cy="134.4" r="7.6"/><circle cx="1039.4" cy="134.4" r="7.6"/><circle cx="848.3" cy="151.6" r="7.6"/><circle cx="865.7" cy="151.6" r="7.6"/><circle cx="883" cy="151.6" r="7.6"/><circle cx="900.4" cy="151.6" r="7.6"/><circle cx="917.8" cy="151.6" r="7.6"/><circle cx="935.1" cy="151.6" r="7.6"/><circle cx="952.5" cy="151.6" r="7.6"/><circle cx="969.9" cy="151.6" r="7.6"/><circle cx="987.3" cy="151.6" r="7.6"/><circle cx="1004.6" cy="151.6" r="7.6"/><circle cx="1022" cy="151.6" r="7.6"/><circle cx="1039.4" cy="151.6" r="7.6"/><circle cx="848.3" cy="168.8" r="7.6"/><circle cx="865.7" cy="168.8" r="7.6"/><circle cx="883" cy="168.8" r="7.6"/><circle cx="900.4" cy="168.8" r="7.6"/><circle cx="917.8" cy="168.8" r="7.6"/><circle cx="935.1" cy="168.8" r="7.6"/><circle cx="952.5" cy="168.8" r="7.6"/><circle cx="969.9" cy="168.8" r="7.6"/><circle cx="987.3" cy="168.8" r="7.6"/><circle cx="1004.6" cy="168.8" r="7.6"/><circle cx="1022" cy="168.8" r="7.6"/><circle cx="1039.4" cy="168.8" r="7.6"/><circle cx="848.3" cy="186" r="7.6"/><circle cx="865.7" cy="186" r="7.6"/><circle cx="883" cy="186" r="7.6"/><circle cx="900.4" cy="186" r="7.6"/><circle cx="917.8" cy="186" r="7.6"/><circle cx="935.1" cy="186" r="7.6"/><circle cx="952.5" cy="186" r="7.6"/><circle cx="969.9" cy="186" r="7.6"/><circle cx="987.3" cy="186" r="7.6"/><circle cx="1004.6" cy="186" r="7.6"/><circle cx="1022" cy="186" r="7.6"/><circle cx="1039.4" cy="186" r="7.6"/><circle cx="848.3" cy="203.2" r="7.6"/><circle cx="865.7" cy="203.2" r="7.6"/><circle cx="883" cy="203.2" r="7.6"/><circle cx="900.4" cy="203.2" r="7.6"/><circle cx="917.8" cy="203.2" r="7.6"/><circle cx="935.1" cy="203.2" r="7.6"/><circle cx="952.5" cy="203.2" r="7.6"/><circle cx="969.9" cy="203.2" r="7.6"/><circle cx="987.3" cy="203.2" r="7.6"/><circle cx="1004.6" cy="203.2" r="7.6"/><circle cx="1022" cy="203.2" r="7.6"/><circle cx="1039.4" cy="203.2" r="7.6"/><circle cx="848.3" cy="220.4" r="7.6"/><circle cx="865.7" cy="220.4" r="7.6"/><circle cx="883" cy="220.4" r="7.6"/><circle cx="900.4" cy="220.4" r="7.6"/><circle cx="917.8" cy="220.4" r="7.6"/><circle cx="935.1" cy="220.4" r="7.6"/><circle cx="952.5" cy="220.4" r="7.6"/><circle cx="969.9" cy="220.4" r="7.6"/><circle cx="987.3" cy="220.4" r="7.6"/><circle cx="1004.6" cy="220.4" r="7.6"/><circle cx="1022" cy="220.4" r="7.6"/><circle cx="1039.4" cy="220.4" r="7.6"/></g>
<text x="832.8" y="103.8" font-size="10.5" font-weight="normal" text-anchor="middle" fill="#000" >A</text>
<text x="832.8" y="121" font-size="10.5" font-weight="normal" text-anchor="middle" fill="#000" >B</text>
<text x="832.8" y="138.2" font-size="10.5" font-weight="normal" text-anchor="middle" fill="#000" >C</text>
<text x="832.8" y="155.4" font-size="10.5" font-weight="normal" text-anchor="middle" fill="#000" >D</text>
<text x="832.8" y="172.6" font-size="10.5" font-weight="normal" text-anchor="middle" fill="#000" >E</text>
<text x="832.8" y="189.8" font-size="10.5" font-weight="normal" text-anchor="middle" fill="#000" >F</text>
<text x="832.8" y="207" font-size="10.5" font-weight="normal" text-anchor="middle" fill="#000" >G</text>
<text x="832.8" y="224.2" font-size="10.5" font-weight="normal" text-anchor="middle" fill="#000" >H</text>
<text x="848.3" y="88.8" font-size="5" font-weight="normal" text-anchor="middle" fill="#000" >1</text>
<text x="865.7" y="88.8" font-size="5" font-weight="normal" text-anchor="middle" fill="#000" >2</text>
<text x="883" y="88.8" font-size="5" font-weight="normal" text-anchor="middle" fill="#000" >3</text>
<text x="900.4" y="88.8" font-size="5" font-weight="normal" text-anchor="middle" fill="#000" >4</text>
<text x="917.8" y="88.8" font-size="5" font-weight="normal" text-anchor="middle" fill="#000" >5</text>
<text x="935.1" y="88.8" font-size="5" font-weight="normal" text-anchor="middle" fill="#000" >6</text>
<text x="952.5" y="88.8" font-size="5" font-weight="normal" text-anchor="middle" fill="#000" >7</text>
<text x="969.9" y="88.8" font-size="5" font-weight="normal" text-anchor="middle" fill="#000" >8</text>
<text x="987.3" y="88.8" font-size="5" font-weight="normal" text-anchor="middle" fill="#000" >9</text>
<text x="1004.6" y="88.8" font-size="5" font-weight="normal" text-anchor="middle" fill="#000" >10</text>
<text x="1022" y="88.8" font-size="5" font-weight="normal" text-anchor="middle" fill="#000" >11</text>
<text x="1039.4" y="88.8" font-size="5" font-weight="normal" text-anchor="middle" fill="#000" >12</text>
</g>
<g>
<path d="M822.3,393.2 h237.5 a5,5 0 0 1 5,5 v154.2 a4,4 0 0 1 -4,4 h-238.5 a4,4 0 0 1 -4,-4 v-153.2 a6,6 0 0 1 6,-6z" fill="#fff" stroke="#333" stroke-width="1.4"/>
<path d="M824.3,409.2 L834.3,399.2 H1058.8 V549.4 H824.3 Z" fill="none" stroke="#333" stroke-width="1.2"/>
<path d="M835.3,408.2 L837.3,405.2 H1054.8 V544.4 H835.3 Z" fill="none" stroke="#444" stroke-width="1"/>
<g fill="#d16672" stroke="#161616" stroke-width="1.3"><circle cx="846.3" cy="414.9" r="7.6"/><circle cx="863.6" cy="414.9" r="7.6"/><circle cx="880.9" cy="414.9" r="7.6"/><circle cx="898.2" cy="414.9" r="7.6"/><circle cx="915.5" cy="414.9" r="7.6"/><circle cx="932.8" cy="414.9" r="7.6"/><circle cx="950.1" cy="414.9" r="7.6"/><circle cx="967.4" cy="414.9" r="7.6"/><circle cx="984.7" cy="414.9" r="7.6"/><circle cx="1002" cy="414.9" r="7.6"/><circle cx="1019.3" cy="414.9" r="7.6"/><circle cx="1036.6" cy="414.9" r="7.6"/><circle cx="846.3" cy="432.1" r="7.6"/><circle cx="863.6" cy="432.1" r="7.6"/><circle cx="880.9" cy="432.1" r="7.6"/><circle cx="898.2" cy="432.1" r="7.6"/><circle cx="915.5" cy="432.1" r="7.6"/><circle cx="932.8" cy="432.1" r="7.6"/><circle cx="950.1" cy="432.1" r="7.6"/><circle cx="967.4" cy="432.1" r="7.6"/><circle cx="984.7" cy="432.1" r="7.6"/><circle cx="1002" cy="432.1" r="7.6"/><circle cx="1019.3" cy="432.1" r="7.6"/><circle cx="1036.6" cy="432.1" r="7.6"/><circle cx="846.3" cy="449.4" r="7.6"/><circle cx="863.6" cy="449.4" r="7.6"/><circle cx="880.9" cy="449.4" r="7.6"/><circle cx="898.2" cy="449.4" r="7.6"/><circle cx="915.5" cy="449.4" r="7.6"/><circle cx="932.8" cy="449.4" r="7.6"/><circle cx="950.1" cy="449.4" r="7.6"/><circle cx="967.4" cy="449.4" r="7.6"/><circle cx="984.7" cy="449.4" r="7.6"/><circle cx="1002" cy="449.4" r="7.6"/><circle cx="1019.3" cy="449.4" r="7.6"/><circle cx="1036.6" cy="449.4" r="7.6"/><circle cx="846.3" cy="466.6" r="7.6"/><circle cx="863.6" cy="466.6" r="7.6"/><circle cx="880.9" cy="466.6" r="7.6"/><circle cx="898.2" cy="466.6" r="7.6"/><circle cx="915.5" cy="466.6" r="7.6"/><circle cx="932.8" cy="466.6" r="7.6"/><circle cx="950.1" cy="466.6" r="7.6"/><circle cx="967.4" cy="466.6" r="7.6"/><circle cx="984.7" cy="466.6" r="7.6"/><circle cx="1002" cy="466.6" r="7.6"/><circle cx="1019.3" cy="466.6" r="7.6"/><circle cx="1036.6" cy="466.6" r="7.6"/><circle cx="846.3" cy="483.8" r="7.6"/><circle cx="863.6" cy="483.8" r="7.6"/><circle cx="880.9" cy="483.8" r="7.6"/><circle cx="898.2" cy="483.8" r="7.6"/><circle cx="915.5" cy="483.8" r="7.6"/><circle cx="932.8" cy="483.8" r="7.6"/><circle cx="950.1" cy="483.8" r="7.6"/><circle cx="967.4" cy="483.8" r="7.6"/><circle cx="984.7" cy="483.8" r="7.6"/><circle cx="1002" cy="483.8" r="7.6"/><circle cx="1019.3" cy="483.8" r="7.6"/><circle cx="1036.6" cy="483.8" r="7.6"/><circle cx="846.3" cy="501" r="7.6"/><circle cx="863.6" cy="501" r="7.6"/><circle cx="880.9" cy="501" r="7.6"/><circle cx="898.2" cy="501" r="7.6"/><circle cx="915.5" cy="501" r="7.6"/><circle cx="932.8" cy="501" r="7.6"/><circle cx="950.1" cy="501" r="7.6"/><circle cx="967.4" cy="501" r="7.6"/><circle cx="984.7" cy="501" r="7.6"/><circle cx="1002" cy="501" r="7.6"/><circle cx="1019.3" cy="501" r="7.6"/><circle cx="1036.6" cy="501" r="7.6"/><circle cx="846.3" cy="518.3" r="7.6"/><circle cx="863.6" cy="518.3" r="7.6"/><circle cx="880.9" cy="518.3" r="7.6"/><circle cx="898.2" cy="518.3" r="7.6"/><circle cx="915.5" cy="518.3" r="7.6"/><circle cx="932.8" cy="518.3" r="7.6"/><circle cx="950.1" cy="518.3" r="7.6"/><circle cx="967.4" cy="518.3" r="7.6"/><circle cx="984.7" cy="518.3" r="7.6"/><circle cx="1002" cy="518.3" r="7.6"/><circle cx="1019.3" cy="518.3" r="7.6"/><circle cx="1036.6" cy="518.3" r="7.6"/><circle cx="846.3" cy="535.5" r="7.6"/><circle cx="863.6" cy="535.5" r="7.6"/><circle cx="880.9" cy="535.5" r="7.6"/><circle cx="898.2" cy="535.5" r="7.6"/><circle cx="915.5" cy="535.5" r="7.6"/><circle cx="932.8" cy="535.5" r="7.6"/><circle cx="950.1" cy="535.5" r="7.6"/><circle cx="967.4" cy="535.5" r="7.6"/><circle cx="984.7" cy="535.5" r="7.6"/><circle cx="1002" cy="535.5" r="7.6"/><circle cx="1019.3" cy="535.5" r="7.6"/><circle cx="1036.6" cy="535.5" r="7.6"/></g>
<text x="831.3" y="418.7" font-size="10.5" font-weight="normal" text-anchor="middle" fill="#000" >A</text>
<text x="831.3" y="435.9" font-size="10.5" font-weight="normal" text-anchor="middle" fill="#000" >B</text>
<text x="831.3" y="453.2" font-size="10.5" font-weight="normal" text-anchor="middle" fill="#000" >C</text>
<text x="831.3" y="470.4" font-size="10.5" font-weight="normal" text-anchor="middle" fill="#000" >D</text>
<text x="831.3" y="487.6" font-size="10.5" font-weight="normal" text-anchor="middle" fill="#000" >E</text>
<text x="831.3" y="504.8" font-size="10.5" font-weight="normal" text-anchor="middle" fill="#000" >F</text>
<text x="831.3" y="522.1" font-size="10.5" font-weight="normal" text-anchor="middle" fill="#000" >G</text>
<text x="831.3" y="539.3" font-size="10.5" font-weight="normal" text-anchor="middle" fill="#000" >H</text>
<text x="846.3" y="403.7" font-size="5" font-weight="normal" text-anchor="middle" fill="#000" >1</text>
<text x="863.6" y="403.7" font-size="5" font-weight="normal" text-anchor="middle" fill="#000" >2</text>
<text x="880.9" y="403.7" font-size="5" font-weight="normal" text-anchor="middle" fill="#000" >3</text>
<text x="898.2" y="403.7" font-size="5" font-weight="normal" text-anchor="middle" fill="#000" >4</text>
<text x="915.5" y="403.7" font-size="5" font-weight="normal" text-anchor="middle" fill="#000" >5</text>
<text x="932.8" y="403.7" font-size="5" font-weight="normal" text-anchor="middle" fill="#000" >6</text>
<text x="950.1" y="403.7" font-size="5" font-weight="normal" text-anchor="middle" fill="#000" >7</text>
<text x="967.4" y="403.7" font-size="5" font-weight="normal" text-anchor="middle" fill="#000" >8</text>
<text x="984.7" y="403.7" font-size="5" font-weight="normal" text-anchor="middle" fill="#000" >9</text>
<text x="1002" y="403.7" font-size="5" font-weight="normal" text-anchor="middle" fill="#000" >10</text>
<text x="1019.3" y="403.7" font-size="5" font-weight="normal" text-anchor="middle" fill="#000" >11</text>
<text x="1036.6" y="403.7" font-size="5" font-weight="normal" text-anchor="middle" fill="#000" >12</text>
</g>
<ellipse cx="1267" cy="136.6" rx="31" ry="32.8" fill="#d26b77" stroke="#111" stroke-width="1.5"/>
<circle cx="1262.6" cy="128.5" r="10.8" fill="#a6505b"/>
<ellipse cx="1222.2" cy="197.5" rx="31" ry="32.8" fill="#d26b77" stroke="#111" stroke-width="1.5"/>
<circle cx="1218.5" cy="188.8" r="10.8" fill="#a6505b"/>
<ellipse cx="1311.8" cy="197.5" rx="31" ry="32.8" fill="#d26b77" stroke="#111" stroke-width="1.5"/>
<circle cx="1307.4" cy="188.8" r="10.8" fill="#a6505b"/>
<ellipse cx="1266" cy="451.1" rx="31" ry="32.8" fill="#d26b77" stroke="#111" stroke-width="1.5"/>
<circle cx="1261.6" cy="443" r="10.8" fill="#a6505b"/>
<ellipse cx="1221.2" cy="512" rx="31" ry="32.8" fill="#d26b77" stroke="#111" stroke-width="1.5"/>
<circle cx="1217.5" cy="503.3" r="10.8" fill="#a6505b"/>
<ellipse cx="1310.8" cy="512" rx="31" ry="32.8" fill="#d26b77" stroke="#111" stroke-width="1.5"/>
<circle cx="1306.4" cy="503.3" r="10.8" fill="#a6505b"/>
<defs><linearGradient id="lg1" x1="0" y1="0" x2="0" y2="1"><stop offset="0" stop-color="#ece0c8"/><stop offset="0.5" stop-color="#e2cfae"/><stop offset="1" stop-color="#e6d5b8"/></linearGradient><clipPath id="lclip"><path d="M93.3,343.3C94.7,343.1 104.9,346 108.5,347.1C112.1,348.2 126.2,354.7 129.4,354.7C132.6,354.7 137.8,348 140.8,347.1C143.9,346.2 156.4,345.8 159.8,346.2C163.2,346.5 172,351.2 175,350.9C178.1,350.6 186.8,344.2 190.2,343.3C193.6,342.4 206.9,341.8 209.2,342.4C211.5,342.9 213.8,347 213,349C212.3,351 204.7,359.6 201.6,362.3C198.6,365 184.1,373.1 182.6,375.6C181.1,378.1 184.5,384.7 186.4,387C188.3,389.3 197.1,397.2 201.6,398.4C206.2,399.7 225.2,399.5 232,399.4C238.9,399.3 264.3,397.2 270,397.5C275.7,397.7 285.2,400.4 289,402.2C292.8,404 305.4,412.1 308.1,415.5C310.7,418.9 314.9,431.7 315.7,436.4C316.4,441.2 316,458.5 315.7,463C315.3,467.6 311.5,478.8 311.9,482C312.2,485.3 319.1,492.5 319.5,495.3C319.8,498.2 316.8,506.2 315.7,510.5C314.5,514.9 309,534.5 308.1,539C307.1,543.6 309,554.4 306.1,556.1C303.3,557.9 285.6,556.5 279.5,556.1C273.5,555.8 248.2,554.1 245.3,552.3C242.5,550.6 249.7,543.2 251,539C252.4,534.9 258.6,515.9 258.6,510.5C258.6,505.2 252.6,489.6 251,485.8C249.5,482 247.2,473.5 243.4,472.5C239.6,471.6 217.2,475.8 213,476.3C208.8,476.9 203.5,476.1 201.6,478.2C199.7,480.3 194.8,493.1 194,497.2C193.3,501.4 194,514.3 194,520C194,525.7 196.9,550.6 194,554.2C191.2,557.9 168.7,559.6 165.5,556.1C162.3,552.7 161.9,524.8 161.7,520C161.5,515.3 163.8,508.6 163.6,508.6C163.4,508.6 160,515.7 159.8,520C159.6,524.4 164.2,549.1 161.7,552.3C159.2,555.6 137,554.6 135.1,552.3C133.2,550.1 141.6,535.1 142.7,529.5C143.9,524 145.8,502.7 146.5,497.2C147.3,491.7 151.3,478.8 150.3,474.4C149.4,470.1 138.3,459.4 137,453.5C135.7,447.6 138.2,420.6 137,415.5C135.9,410.4 126.8,406.2 125.6,402.2C124.5,398.2 125.8,378.7 125.6,375.6C125.4,372.6 125.8,373.5 123.7,371.8C121.6,370.1 107.7,360.8 104.7,358.5C101.8,356.2 95.4,350.5 94.3,349C93.1,347.5 91.9,343.5 93.3,343.3Z"/></clipPath><filter id="wool" x="0" y="0" width="100%" height="100%"><feTurbulence type="fractalNoise" baseFrequency="0.35" numOctaves="2" seed="3"/><feColorMatrix values="0 0 0 0 0.45  0 0 0 0 0.36  0 0 0 0 0.22  0 0 0 -1.6 1.05"/></filter></defs>
<path d="M93.3,343.3C94.7,343.1 104.9,346 108.5,347.1C112.1,348.2 126.2,354.7 129.4,354.7C132.6,354.7 137.8,348 140.8,347.1C143.9,346.2 156.4,345.8 159.8,346.2C163.2,346.5 172,351.2 175,350.9C178.1,350.6 186.8,344.2 190.2,343.3C193.6,342.4 206.9,341.8 209.2,342.4C211.5,342.9 213.8,347 213,349C212.3,351 204.7,359.6 201.6,362.3C198.6,365 184.1,373.1 182.6,375.6C181.1,378.1 184.5,384.7 186.4,387C188.3,389.3 197.1,397.2 201.6,398.4C206.2,399.7 225.2,399.5 232,399.4C238.9,399.3 264.3,397.2 270,397.5C275.7,397.7 285.2,400.4 289,402.2C292.8,404 305.4,412.1 308.1,415.5C310.7,418.9 314.9,431.7 315.7,436.4C316.4,441.2 316,458.5 315.7,463C315.3,467.6 311.5,478.8 311.9,482C312.2,485.3 319.1,492.5 319.5,495.3C319.8,498.2 316.8,506.2 315.7,510.5C314.5,514.9 309,534.5 308.1,539C307.1,543.6 309,554.4 306.1,556.1C303.3,557.9 285.6,556.5 279.5,556.1C273.5,555.8 248.2,554.1 245.3,552.3C242.5,550.6 249.7,543.2 251,539C252.4,534.9 258.6,515.9 258.6,510.5C258.6,505.2 252.6,489.6 251,485.8C249.5,482 247.2,473.5 243.4,472.5C239.6,471.6 217.2,475.8 213,476.3C208.8,476.9 203.5,476.1 201.6,478.2C199.7,480.3 194.8,493.1 194,497.2C193.3,501.4 194,514.3 194,520C194,525.7 196.9,550.6 194,554.2C191.2,557.9 168.7,559.6 165.5,556.1C162.3,552.7 161.9,524.8 161.7,520C161.5,515.3 163.8,508.6 163.6,508.6C163.4,508.6 160,515.7 159.8,520C159.6,524.4 164.2,549.1 161.7,552.3C159.2,555.6 137,554.6 135.1,552.3C133.2,550.1 141.6,535.1 142.7,529.5C143.9,524 145.8,502.7 146.5,497.2C147.3,491.7 151.3,478.8 150.3,474.4C149.4,470.1 138.3,459.4 137,453.5C135.7,447.6 138.2,420.6 137,415.5C135.9,410.4 126.8,406.2 125.6,402.2C124.5,398.2 125.8,378.7 125.6,375.6C125.4,372.6 125.8,373.5 123.7,371.8C121.6,370.1 107.7,360.8 104.7,358.5C101.8,356.2 95.4,350.5 94.3,349C93.1,347.5 91.9,343.5 93.3,343.3Z" fill="url(#lg1)"/>
<g clip-path="url(#lclip)">
<ellipse cx="178.8" cy="451.6" rx="30" ry="26" fill="#b59b74" opacity="0.45" filter="url(#blur6)"/>
<ellipse cx="232" cy="455.4" rx="38" ry="14" fill="#bfa47c" opacity="0.35" filter="url(#blur6)"/>
<ellipse cx="294.7" cy="461.1" rx="9" ry="26" fill="#9e8260" opacity="0.5" filter="url(#blur6)"/>
<ellipse cx="201.6" cy="516.2" rx="8" ry="30" fill="#c2a988" opacity="0.35" filter="url(#blur6)"/>
<ellipse cx="270" cy="501" rx="10" ry="40" fill="#c9b08e" opacity="0.3" filter="url(#blur6)"/>
<rect x="80" y="330" width="250" height="232" filter="url(#wool)" opacity="0.5"/>
<ellipse cx="149.4" cy="383.2" rx="24" ry="31" fill="#f1e7d8" opacity="0.85" filter="url(#blur3)"/>
</g>
<path d="M176.9,366.1C177.3,363.4 182.9,353.6 186.4,350.9C190,348.2 201,346.2 203.5,346.2C206.1,346.2 206.7,348.8 205.4,350.9C204.2,353.1 196.9,359.6 194,362.3C191.1,365 185.9,370.4 183.6,370.9C181.3,371.4 176.5,368.8 176.9,366.1Z" fill="#e8958a" filter="url(#blur1)"/>
<path d="M93.3,343.3C94.7,343.1 104.9,346 108.5,347.1C112.1,348.2 126.2,354.7 129.4,354.7C132.6,354.7 137.8,348 140.8,347.1C143.9,346.2 156.4,345.8 159.8,346.2C163.2,346.5 172,351.2 175,350.9C178.1,350.6 186.8,344.2 190.2,343.3C193.6,342.4 206.9,341.8 209.2,342.4C211.5,342.9 213.8,347 213,349C212.3,351 204.7,359.6 201.6,362.3C198.6,365 184.1,373.1 182.6,375.6C181.1,378.1 184.5,384.7 186.4,387C188.3,389.3 197.1,397.2 201.6,398.4C206.2,399.7 225.2,399.5 232,399.4C238.9,399.3 264.3,397.2 270,397.5C275.7,397.7 285.2,400.4 289,402.2C292.8,404 305.4,412.1 308.1,415.5C310.7,418.9 314.9,431.7 315.7,436.4C316.4,441.2 316,458.5 315.7,463C315.3,467.6 311.5,478.8 311.9,482C312.2,485.3 319.1,492.5 319.5,495.3C319.8,498.2 316.8,506.2 315.7,510.5C314.5,514.9 309,534.5 308.1,539C307.1,543.6 309,554.4 306.1,556.1C303.3,557.9 285.6,556.5 279.5,556.1C273.5,555.8 248.2,554.1 245.3,552.3C242.5,550.6 249.7,543.2 251,539C252.4,534.9 258.6,515.9 258.6,510.5C258.6,505.2 252.6,489.6 251,485.8C249.5,482 247.2,473.5 243.4,472.5C239.6,471.6 217.2,475.8 213,476.3C208.8,476.9 203.5,476.1 201.6,478.2C199.7,480.3 194.8,493.1 194,497.2C193.3,501.4 194,514.3 194,520C194,525.7 196.9,550.6 194,554.2C191.2,557.9 168.7,559.6 165.5,556.1C162.3,552.7 161.9,524.8 161.7,520C161.5,515.3 163.8,508.6 163.6,508.6C163.4,508.6 160,515.7 159.8,520C159.6,524.4 164.2,549.1 161.7,552.3C159.2,555.6 137,554.6 135.1,552.3C133.2,550.1 141.6,535.1 142.7,529.5C143.9,524 145.8,502.7 146.5,497.2C147.3,491.7 151.3,478.8 150.3,474.4C149.4,470.1 138.3,459.4 137,453.5C135.7,447.6 138.2,420.6 137,415.5C135.9,410.4 126.8,406.2 125.6,402.2C124.5,398.2 125.8,378.7 125.6,375.6C125.4,372.6 125.8,373.5 123.7,371.8C121.6,370.1 107.7,360.8 104.7,358.5C101.8,356.2 95.4,350.5 94.3,349C93.1,347.5 91.9,343.5 93.3,343.3Z" fill="none" stroke="#111" stroke-width="1.8" stroke-linejoin="round"/>
<circle cx="133.2" cy="380.4" r="3.4" fill="#111"/>
<circle cx="164.6" cy="380.4" r="3.4" fill="#111"/>
<path d="M144.6,403.7 l3,3 l3,-3z" fill="#d9787a"/>
<text x="-1" y="629" font-size="52" font-weight="normal" text-anchor="start" fill="#000" >B</text>
<text x="158.8" y="653" font-size="36.5" font-weight="normal" text-anchor="start" fill="#000" textLength="112" lengthAdjust="spacingAndGlyphs" >Mesp1</text>
<text x="397.4" y="653" font-size="36.5" font-weight="normal" text-anchor="start" fill="#000" textLength="59.6" lengthAdjust="spacingAndGlyphs" >Isl1</text>
<text x="562" y="653" font-size="36.5" font-weight="normal" text-anchor="start" fill="#000" textLength="159" lengthAdjust="spacingAndGlyphs" >PDGFRα</text>
<text x="796" y="653" font-size="36.5" font-weight="normal" text-anchor="start" fill="#000" textLength="132" lengthAdjust="spacingAndGlyphs" >CXCR4</text>
<text x="1029" y="653" font-size="36.5" font-weight="normal" text-anchor="start" fill="#000" textLength="79.2" lengthAdjust="spacingAndGlyphs" >c-Kit</text>
<text x="1212" y="653" font-size="36.5" font-weight="normal" text-anchor="start" fill="#000" textLength="125" lengthAdjust="spacingAndGlyphs" >SSEA1</text>
<rect x="120" y="656" width="1248" height="14" fill="#fff"/>
<line x1="1010" y1="667" x2="1085" y2="667" stroke="#bbb" stroke-width="1" stroke-dasharray="2,2"/>
<text x="0" y="0" font-size="38.5" transform="translate(95,819.4) rotate(-90)" textLength="110.7" lengthAdjust="spacingAndGlyphs">Mesp1</text>
<text x="0" y="0" font-size="38.5" transform="translate(93.8,983.9) rotate(-90)" textLength="54.1" lengthAdjust="spacingAndGlyphs">Isl1</text>
<text x="0" y="0" font-size="38.5" transform="translate(95.2,1229.9) rotate(-90)" textLength="157.1" lengthAdjust="spacingAndGlyphs">PDGFRα</text>
<text x="0" y="0" font-size="38.5" transform="translate(95.1,1410.1) rotate(-90)" textLength="131.1" lengthAdjust="spacingAndGlyphs">CXCR4</text>
<text x="0" y="0" font-size="38.5" transform="translate(96.7,1577.5) rotate(-90)" textLength="77.6" lengthAdjust="spacingAndGlyphs">c-Kit</text>
<text x="0" y="0" font-size="38.5" transform="translate(102.3,1783.4) rotate(-90)" textLength="121.4" lengthAdjust="spacingAndGlyphs">SSEA1</text>
<clipPath id="cp11"><rect x="121.5" y="675.2" width="198.1" height="177.3"/></clipPath>
<rect x="121.5" y="675.2" width="198.1" height="177.3" fill="#f7f8fa"/>
<g clip-path="url(#cp11)">
<polyline points="123,851 124,851 125,851 126,851 127,851 128,851 129,851 130,851 131,851 132,851 133,851 134,851 135,851 136,851 137,851 138,851 139,851 140,851 141,851 142,851 143,851 144,851 145,851 146,851 147,851 148,851 149,851 150,851 151,851 152,851 153,851 154,851 155,851 156,851 157,851 158,851 159,851 160,851 161,851 162,851 163,851 164,851 165,851 166,851 167,851 168,851 169,851 170,851 171,851 172,851 173,851 174,851 175,851 176,851 177,851 178,851 179,851 180,851 181,851 182,851 183,851 184,851 185,851 186,850.9 187,850.9 188,850.8 189,850.8 190,850.6 191,850.5 192,850.3 193,850.1 194,849.8 195,849.4 196,848.9 197,848.3 198,847.5 199,846.5 200,845.4 201,843.9 202,842.2 203,840.1 204,837.6 205,834.8 206,831.4 207,827.6 208,823.2 209,818.3 210,812.9 211,806.5 212,800.1 213,793 214,785.3 215,777.1 216,768.9 217,759.7 218,751 219,743 220,734.3 221,725 222,718.3 223,711 224,703.8 225,698.4 226,695 227,690.8 228,688.1 229,686.8 230,687.4 231,687.9 232,689.3 233,692.5 234,696.4 235,699.6 236,703.9 237,710 238,715.4 239,721.5 240,728.2 241,734.4 242,741.4 243,748.4 244,755 245,762 246,769.4 247,775.6 248,781.9 249,788.5 250,794.3 251,799.9 252,805.5 253,810.2 254,815 255,819.2 256,823.1 257,826.5 258,829.9 259,832.8 260,835.2 261,837.5 262,839.5 263,841.2 264,842.8 265,844.1 266,845.2 267,846.2 268,847.1 269,847.7 270,848.4 271,848.8 272,849.3 273,849.6 274,849.9 275,850.1 276,850.3 277,850.5 278,850.6 279,850.7 280,850.8 281,850.8 282,850.9 283,850.9 284,850.9 285,851 286,851 287,851 288,851 289,851 290,851 291,851 292,851 293,851 294,851 295,851 296,851 297,851 298,851 299,851 300,851 301,851 302,851 303,851 304,851 305,851 306,851 307,851 308,851 309,851 310,851 311,851 312,851 313,851 314,851 315,851 316,851 317,851 318,851" fill="none" stroke="#1e1e1e" stroke-width="1.2" stroke-linejoin="round"/>
<polyline points="123,851 124,851 125,851 126,851 127,851 128,851 129,851 130,851 131,851 132,851 133,851 134,851 135,851 136,851 137,851 138,851 139,851 140,851 141,851 142,851 143,851 144,851 145,851 146,851 147,851 148,851 149,851 150,851 151,851 152,851 153,851 154,851 155,851 156,851 157,851 158,851 159,851 160,851 161,851 162,851 163,851 164,851 165,851 166,851 167,851 168,851 169,851 170,851 171,851 172,851 173,851 174,851 175,851 176,851 177,851 178,851 179,851 180,851 181,851 182,851 183,851 184,851 185,851 186,851 187,851 188,851 189,851 190,851 191,851 192,851 193,851 194,851 195,851 196,851 197,851 198,851 199,851 200,851 201,851 202,851 203,851 204,851 205,851 206,851 207,851 208,851 209,851 210,851 211,851 212,851 213,851 214,851 215,851 216,851 217,851 218,851 219,851 220,851 221,851 222,851 223,851 224,851 225,851 226,851 227,851 228,851 229,851 230,851 231,851 232,851 233,851 234,851 235,851 236,851 237,851 238,851 239,850.9 240,850.9 241,850.8 242,850.7 243,850.5 244,850.2 245,849.8 246,849.2 247,848.4 248,847.3 249,845.8 250,843.8 251,841.2 252,838 253,833.7 254,828.6 255,822.7 256,815.6 257,807.1 258,797.5 259,787.3 260,775.8 261,763.4 262,750.6 263,738.7 264,727.3 265,715.6 266,705.8 267,698.4 268,692.1 269,687.7 270,686.6 271,687.7 272,691.5 273,696.6 274,703.2 275,710 276,720.4 277,729.1 278,740.3 279,751.8 280,762.6 281,773.4 282,783.8 283,793.4 284,802.1 285,810.4 286,817.3 287,823.5 288,828.9 289,833.5 290,837.1 291,840.3 292,842.8 293,844.8 294,846.4 295,847.6 296,848.5 297,849.2 298,849.7 299,850.1 300,850.4 301,850.6 302,850.7 303,850.8 304,850.9 305,851 306,851 307,851 308,851 309,851 310,851 311,851 312,851 313,851 314,851 315,851 316,851 317,851 318,851" fill="none" stroke="#4444e8" stroke-width="1.2" stroke-linejoin="round"/>
<polyline points="123,851 124,851 125,851 126,851 127,851 128,851 129,851 130,851 131,851 132,851 133,851 134,851 135,851 136,851 137,851 138,851 139,851 140,851 141,851 142,851 143,851 144,851 145,851 146,851 147,851 148,851 149,851 150,851 151,851 152,851 153,851 154,851 155,851 156,851 157,851 158,851 159,851 160,851 161,851 162,851 163,851 164,851 165,851 166,851 167,851 168,851 169,851 170,851 171,851 172,851 173,851 174,851 175,851 176,851 177,851 178,851 179,851 180,851 181,851 182,851 183,851 184,851 185,851 186,851 187,851 188,851 189,851 190,851 191,851 192,851 193,851 194,851 195,851 196,851 197,851 198,851 199,851 200,851 201,851 202,851 203,851 204,851 205,851 206,851 207,851 208,851 209,851 210,851 211,851 212,851 213,851 214,851 215,851 216,851 217,851 218,851 219,851 220,851 221,851 222,851 223,851 224,851 225,851 226,851 227,851 228,851 229,851 230,851 231,851 232,851 233,851 234,851 235,851 236,851 237,851 238,851 239,851 240,851 241,851 242,851 243,851 244,851 245,851 246,851 247,851 248,851 249,851 250,851 251,851 252,851 253,851 254,851 255,851 256,851 257,851 258,851 259,851 260,851 261,851 262,851 263,851 264,851 265,851 266,851 267,851 268,851 269,850.9 270,850.9 271,850.9 272,850.8 273,850.8 274,850.7 275,850.6 276,850.5 277,850.3 278,850.1 279,849.9 280,849.6 281,849.2 282,848.8 283,848.3 284,847.7 285,847 286,846.1 287,845.1 288,844 289,842.6 290,841 291,839.2 292,837 293,834.8 294,832.1 295,829.3 296,825.9 297,822.1 298,818.3 299,813.8 300,809 301,803.9 302,798.6 303,792.9 304,786.9 305,780.6 306,774 307,767.5 308,760.1 309,753.6 310,746.4 311,738.7 312,733.1 313,725.7 314,720.3 315,714.1 316,709.3 317,704.9 318,700.4" fill="none" stroke="#dd3a3a" stroke-width="1.2" stroke-linejoin="round"/>
</g>
<rect x="121.5" y="675.2" width="198.1" height="177.3" fill="none" stroke="#262626" stroke-width="2"/>
<clipPath id="cp12"><rect x="334.3" y="672.9" width="193.5" height="178.3"/></clipPath>
<rect x="334.3" y="672.9" width="193.5" height="178.3" fill="#f7f8fa"/>
<g clip-path="url(#cp12)">
<polygon points="409.4,752.1 416.3,740.6 432.4,729.1 446.3,715.3 460.1,710.7 478.5,713 492.3,717.6 496.9,724.5 483.1,733.7 469.3,740.6 455.5,749.8 441.6,759 423.2,763.6 411.7,761.3" fill="#0000f0" stroke="#0000f0" stroke-width="1.6" stroke-linejoin="round"/>
<path d="M491 722h2M449 720h2M421 739h2M458 714h2M483 734h2M419 761h2M455 717h2M429 734h2M456 716h2M412 748h2M489 722h2M411 758h2M428 759h2M491 726h2M460 746h2M420 742h2M446 756h2M477 714h2M468 714h2M468 739h2M451 750h2" stroke="#f7f8fa" stroke-width="2" fill="none"/>
<path d="M457 752h2M462 748h2M421 766h2M428 771h2M408 757h2M476 739h2M403 762h2M459 712h2M442 720h2M463 746h2M481 715h2M416 765h2M445 712h2M407 751h2M487 733h2M405 741h2M430 732h2M422 737h2M491 716h2M429 770h2M453 713h2M470 711h2M487 733h2M459 749h2M461 753h2M495 717h2M497 721h2M474 741h2M427 765h2M409 746h2M423 733h2M429 768h2M436 720h2M440 715h2M498 725h2M463 747h2M459 754h2M442 760h2M461 748h2M482 714h2M480 711h2M433 770h2M427 765h2M447 714h2M434 763h2M441 761h2M432 730h2M498 724h2M443 764h2M425 765h2M423 734h2M486 733h2M498 725h2M412 748h2M445 759h2M478 707h2M477 743h2M410 752h2M460 706h2M408 754h2" stroke="#0000f0" stroke-width="2" fill="none"/>
<path d="M488 716.5h3M491 736.5h3M497 721.5h3M404 756.5h3M441 711.5h3M410 768.5h3M488 715.5h3M435 763.5h3M445 766.5h3M412 764.5h3M476 713.5h3M438 762.5h3M454 756.5h3M411 763.5h3M476 740.5h3M497 726.5h3M463 749.5h3M455 712.5h3M428 773.5h3M420 738.5h3M449 713.5h3M477 712.5h3M425 769.5h3M426 731.5h3M440 763.5h3M490 730.5h3M468 711.5h3M435 764.5h3M492 717.5h3M483 746.5h3M515 695.5h3M480 767.5h3M416 771.5h3M452 772.5h3M414 714.5h3M460 760.5h3M403 728.5h3M501 760.5h3M444 766.5h3M489 737.5h3" stroke="#1c1c9a" stroke-width="3" fill="none"/>
<path d="M522 685h2M520 727h2M488 698h2M502 746h2M497 728h2M503 740h2M483 733h2M481 731h2M523 751h2M486 729h2" stroke="#0000f0" stroke-width="2" fill="none"/>
<path d="M513 728.5h3M490 707.5h3M492 742.5h3M488 736.5h3M523 714.5h3M485 730.5h3M520 722.5h3M487 698.5h3M486 727.5h3M509 711.5h3" stroke="#1c1c9a" stroke-width="3" fill="none"/>
<polygon points="335.7,812 349.5,805.1 367.9,798.2 386.4,789 404.8,780.7 416.3,778.8 414,786.7 400.2,795.9 386.4,807.4 377.2,818.9 367.9,830.4 358.7,835 344.9,828.1 335.7,825.8" fill="#000000" stroke="#000000" stroke-width="1.6" stroke-linejoin="round"/>
<path d="M381 812h2M374 799h2M370 823h2M363 804h2M410 785h2M370 828h2M365 801h2M345 813h2M396 798h2M355 807h2M369 801h2M401 784h2M405 792h2M362 832h2M408 788h2M381 814h2M399 785h2M398 786h2M396 795h2M347 826h2" stroke="#f7f8fa" stroke-width="2" fill="none"/>
<path d="M345 834h2M392 804h2M341 809h2M413 790h2M407 780h2M399 784h2M348 832h2M352 839h2M396 781h2M381 840h2M347 802h2M362 791h2M355 835h2M389 787h2M361 838h2M373 789h2M396 831h2M392 784h2M344 808h2M383 784h2M375 773h2M390 786h2M390 810h2M377 794h2M366 839h2M375 822h2M385 813h2M398 780h2M397 784h2M392 805h2M409 771h2M392 787h2M382 788h2M372 795h2M422 780h2M392 804h2M374 790h2M393 807h2M379 821h2M384 784h2M395 803h2M399 805h2M415 789h2M389 810h2M378 822h2M416 782h2M417 783h2M354 835h2M389 807h2M353 837h2M420 781h2M385 811h2M376 786h2M398 782h2M358 837h2M383 792h2M343 806h2M339 829h2M381 820h2M392 787h2" stroke="#000000" stroke-width="2" fill="none"/>
<path d="M401 816.5h3M411 779.5h3M404 781.5h3M400 782.5h3M407 780.5h3M388 789.5h3M336 812.5h3M377 794.5h3M393 786.5h3M397 807.5h3M336 829.5h3M338 828.5h3M408 800.5h3M396 784.5h3M380 792.5h3M352 833.5h3M381 819.5h3M368 841.5h3M356 838.5h3M417 785.5h3M363 800.5h3M417 782.5h3M362 798.5h3M403 780.5h3M345 831.5h3M394 802.5h3M399 782.5h3M345 775.5h3M432 821.5h3M357 800.5h3M366 779.5h3M398 820.5h3M408 810.5h3M409 773.5h3M340 762.5h3M420 844.5h3M368 772.5h3" stroke="#000000" stroke-width="3" fill="none"/>
</g>
<rect x="334.3" y="672.9" width="193.5" height="178.3" fill="none" stroke="#262626" stroke-width="2"/>
<clipPath id="cp13"><rect x="539.8" y="672.9" width="193.5" height="178.3"/></clipPath>
<rect x="539.8" y="672.9" width="193.5" height="178.3" fill="#f7f8fa"/>
<g clip-path="url(#cp13)">
<polygon points="575.2,752.1 584.4,738.3 602.9,726.8 621.3,715.3 639.7,710.7 651.2,715.3 646.6,726.8 635.1,733.7 616.7,742.9 602.9,752.1 589,759 577.5,759" fill="#0000f0" stroke="#0000f0" stroke-width="1.6" stroke-linejoin="round"/>
<path d="M612 743h2M610 724h2M647 722h2M610 748h2M627 720h2M596 738h2M641 716h2M593 755h2M628 734h2M616 740h2M591 739h2M592 755h2M628 737h2M581 757h2M618 719h2M602 731h2M629 716h2M593 737h2" stroke="#f7f8fa" stroke-width="2" fill="none"/>
<path d="M578 766h2M619 717h2M591 763h2M618 744h2M626 715h2M596 758h2M609 723h2M628 703h2M599 727h2M571 751h2M596 731h2M610 763h2M628 742h2M568 750h2M573 760h2M577 764h2M601 755h2M622 745h2M602 721h2M633 738h2M644 712h2M624 743h2M642 709h2M639 756h2M612 720h2M628 713h2M638 708h2M635 746h2M592 759h2M593 729h2M614 750h2M585 760h2M607 757h2M574 752h2M635 735h2M650 708h2M573 765h2M614 720h2M618 750h2M649 728h2M576 730h2M650 726h2M652 716h2M588 763h2M626 741h2M606 706h2M569 749h2M649 723h2M583 737h2M593 732h2M580 736h2M638 709h2M591 759h2M581 734h2" stroke="#0000f0" stroke-width="2" fill="none"/>
<path d="M629 739.5h3M607 722.5h3M631 713.5h3M575 754.5h3M602 757.5h3M611 709.5h3M633 708.5h3M648 714.5h3M575 764.5h3M639 707.5h3M611 748.5h3M614 720.5h3M653 729.5h3M612 709.5h3M623 715.5h3M631 710.5h3M652 713.5h3M620 708.5h3M631 711.5h3M661 718.5h3M650 719.5h3M583 735.5h3M613 748.5h3M649 722.5h3M623 746.5h3M650 746.5h3M619 752.5h3M650 764.5h3M615 710.5h3M597 704.5h3M660 755.5h3M566 702.5h3M632 741.5h3M651 746.5h3M634 709.5h3" stroke="#1c1c9a" stroke-width="3" fill="none"/>
<path d="M702 714h2M685 696h2M686 723h2M655 737h2M682 725h2M679 734h2M645 695h2M654 728h2" stroke="#0000f0" stroke-width="2" fill="none"/>
<path d="M684 740.5h3M669 707.5h3M697 704.5h3M669 716.5h3" stroke="#1c1c9a" stroke-width="3" fill="none"/>
<polygon points="540.7,798.2 552.2,791.3 570.6,784.4 589,780.7 607.5,778.8 605.2,786.7 593.6,798.2 579.8,807.4 570.6,821.2 561.4,832.7 549.9,835 540.7,830.4" fill="#000000" stroke="#000000" stroke-width="1.6" stroke-linejoin="round"/>
<path d="M563 828h2M565 790h2M606 781h2M584 784h2M578 786h2M580 806h2M599 783h2M561 827h2M550 795h2M549 830h2M598 783h2M548 831h2M562 790h2M552 793h2M550 798h2M603 789h2M548 799h2M576 811h2M573 811h2" stroke="#f7f8fa" stroke-width="2" fill="none"/>
<path d="M587 804h2M592 800h2M601 803h2M608 795h2M565 783h2M583 807h2M599 781h2M571 778h2M545 794h2M593 777h2M571 780h2M568 786h2M609 781h2M607 779h2M584 811h2M558 785h2M544 795h2M552 789h2M546 835h2M556 783h2M597 798h2M593 805h2M607 798h2M574 819h2M573 822h2M591 776h2M586 805h2M602 792h2M598 797h2M590 781h2M544 791h2M580 782h2M548 838h2M557 836h2M608 777h2M588 807h2M555 791h2M606 790h2M606 777h2M601 797h2M601 771h2M581 810h2M550 793h2M572 832h2M578 773h2M595 781h2M573 834h2M609 776h2M575 782h2M587 805h2M595 774h2M609 782h2M552 788h2M572 822h2M607 773h2M564 835h2M568 830h2M561 837h2M609 783h2" stroke="#000000" stroke-width="2" fill="none"/>
<path d="M605 791.5h3M548 835.5h3M572 820.5h3M571 822.5h3M578 820.5h3M590 775.5h3M610 773.5h3M602 791.5h3M590 776.5h3M569 833.5h3M591 777.5h3M548 790.5h3M599 809.5h3M545 834.5h3M579 811.5h3M606 787.5h3M541 799.5h3M586 781.5h3M598 799.5h3M559 775.5h3M578 784.5h3M571 835.5h3M573 822.5h3M583 847.5h3M545 778.5h3M591 761.5h3M622 795.5h3M557 835.5h3M591 823.5h3M570 769.5h3M559 763.5h3M595 806.5h3M578 770.5h3" stroke="#000000" stroke-width="3" fill="none"/>
</g>
<rect x="539.8" y="672.9" width="193.5" height="178.3" fill="none" stroke="#262626" stroke-width="2"/>
<clipPath id="cp14"><rect x="745.5" y="672.9" width="194.7" height="177.7"/></clipPath>
<rect x="745.5" y="672.9" width="194.7" height="177.7" fill="#f7f8fa"/>
<g clip-path="url(#cp14)">
<polygon points="788.2,744.9 799.7,738.1 818.1,728.9 841,719.7 864,715.1 891.5,712.8 923.7,710.5 940.2,710.5 940.2,754.1 923.7,751.8 900.7,754.1 877.7,754.1 854.8,754.1 831.8,756.4 808.9,758.7 790.5,756.4" fill="#0000f0" stroke="#0000f0" stroke-width="1.6" stroke-linejoin="round"/>
<path d="M809 756h2M794 743h2M908 754h2M790 752h2M921 753h2M873 753h2M840 726h2M851 751h2M896 753h2M850 756h2M921 752h2M932 752h2M827 753h2M921 714h2M842 723h2M841 755h2M923 751h2M928 750h2M800 744h2M869 753h2M910 713h2M929 749h2M836 756h2M901 753h2M875 750h2M805 758h2M864 721h2M924 716h2M868 751h2M806 759h2M874 754h2M834 729h2M855 751h2M926 750h2M905 754h2M828 731h2" stroke="#f7f8fa" stroke-width="2" fill="none"/>
<path d="M912 711h2M780 743h2M821 722h2M919 755h2M780 755h2M902 710h2M793 742h2M894 756h2M786 744h2M801 726h2M796 730h2M787 771h2M917 708h2M791 742h2M807 761h2M794 759h2M799 738h2M893 757h2M851 757h2M870 712h2M853 757h2M908 710h2M905 762h2M904 770h2M899 711h2M798 735h2M864 713h2M860 710h2M917 755h2M811 732h2M825 724h2M780 742h2M824 761h2M844 719h2M797 724h2M910 710h2M808 764h2M816 759h2M910 758h2M804 734h2M825 727h2M861 766h2M931 702h2M890 711h2M859 713h2M905 755h2M850 717h2M815 767h2M804 760h2M911 712h2M847 759h2M882 712h2M835 723h2M828 718h2M872 710h2M895 756h2M826 724h2M918 763h2M854 714h2M847 756h2M923 754h2M905 756h2M931 709h2M837 757h2M788 741h2M876 711h2M848 765h2M804 736h2M875 715h2M882 758h2M788 752h2M829 760h2M807 769h2M918 756h2M866 761h2M799 764h2M850 757h2M782 750h2M892 712h2M927 708h2M828 759h2M788 719h2M921 709h2M932 754h2M846 718h2M791 739h2M803 760h2M877 757h2M886 755h2M817 760h2M844 719h2M829 725h2M928 711h2M814 729h2M848 762h2M789 763h2M847 718h2M788 754h2M897 760h2M843 717h2M918 711h2M786 760h2M797 736h2M908 712h2M820 729h2M862 756h2M827 758h2M826 722h2M854 715h2" stroke="#0000f0" stroke-width="2" fill="none"/>
<path d="M800 735.5h3M818 759.5h3M886 712.5h3M871 756.5h3M844 720.5h3M919 709.5h3M836 714.5h3M860 716.5h3M866 714.5h3M816 729.5h3M799 738.5h3M877 713.5h3M908 712.5h3M857 713.5h3M897 709.5h3M802 731.5h3M869 715.5h3M834 723.5h3M828 724.5h3M794 734.5h3M842 713.5h3M917 755.5h3M916 755.5h3M821 767.5h3M926 758.5h3M824 726.5h3M890 709.5h3M815 761.5h3M782 752.5h3M787 753.5h3M800 737.5h3M805 766.5h3M833 766.5h3M873 707.5h3M833 760.5h3M841 714.5h3M876 713.5h3M809 760.5h3M817 760.5h3M808 763.5h3M902 756.5h3M876 715.5h3M818 727.5h3M925 709.5h3M771 715.5h3M885 765.5h3M840 769.5h3M888 704.5h3M813 705.5h3M927 766.5h3M904 712.5h3M923 766.5h3M870 761.5h3" stroke="#1c1c9a" stroke-width="3" fill="none"/>
<path d="M829 707h2M913 718h2M815 723h2M866 744h2M878 766h2M927 747h2M885 745h2M890 696h2M895 709h2M859 744h2M917 697h2M895 728h2M916 728h2M809 740h2M830 739h2M861 739h2M881 744h2M835 708h2M879 716h2M899 743h2M919 700h2M907 763h2M918 717h2M853 704h2M900 733h2M868 733h2M915 732h2" stroke="#0000f0" stroke-width="2" fill="none"/>
<path d="M895 764.5h3M813 714.5h3M810 715.5h3M829 754.5h3M850 748.5h3M832 721.5h3M933 735.5h3M913 695.5h3M855 759.5h3M896 719.5h3M894 701.5h3M913 719.5h3M818 724.5h3" stroke="#1c1c9a" stroke-width="3" fill="none"/>
<polygon points="746.9,802.3 767.5,797.7 795.1,790.9 822.6,786.3 845.6,781.7 873.1,779.4 870.9,786.3 854.8,793.1 831.8,802.3 813.5,813.8 795.1,825.3 776.7,829.9 758.4,832.2 746.9,832.2" fill="#000000" stroke="#000000" stroke-width="1.6" stroke-linejoin="round"/>
<path d="M777 800h2M838 786h2M761 804h2M808 814h2M775 828h2M765 800h2M752 806h2M855 791h2M795 792h2M794 823h2M856 793h2M843 786h2M802 822h2M860 785h2M805 820h2M780 825h2M800 822h2M808 795h2M814 812h2M808 813h2M788 795h2M791 794h2M765 800h2M772 827h2M758 801h2M794 824h2M793 797h2M853 785h2M847 796h2M776 800h2" stroke="#f7f8fa" stroke-width="2" fill="none"/>
<path d="M859 779h2M872 779h2M805 789h2M774 793h2M821 780h2M843 778h2M787 794h2M804 827h2M791 790h2M873 783h2M847 781h2M785 830h2M861 779h2M761 789h2M787 841h2M810 789h2M752 834h2M846 806h2M752 802h2M878 794h2M801 785h2M766 791h2M842 781h2M857 797h2M778 833h2M866 800h2M802 827h2M872 784h2M836 812h2M805 790h2M819 788h2M760 839h2M796 780h2M865 780h2M840 782h2M868 778h2M846 805h2M795 792h2M802 828h2M757 800h2M831 778h2M759 835h2M857 780h2M793 831h2M863 779h2M832 808h2M764 798h2M849 797h2M802 789h2M875 784h2M868 779h2M797 828h2M778 794h2M883 780h2M795 791h2M765 834h2M836 780h2M876 780h2M748 796h2M802 827h2M838 801h2M843 820h2M880 776h2M869 777h2M824 815h2M794 833h2M793 792h2M831 784h2M785 831h2M769 832h2M768 835h2M754 800h2M767 797h2M839 804h2M773 791h2M852 797h2M853 799h2M747 801h2M822 787h2M836 803h2M864 792h2M860 775h2M869 780h2M799 787h2" stroke="#000000" stroke-width="2" fill="none"/>
<path d="M807 787.5h3M749 796.5h3M848 781.5h3M763 794.5h3M758 834.5h3M766 833.5h3M798 791.5h3M831 804.5h3M762 800.5h3M792 791.5h3M833 806.5h3M878 779.5h3M847 781.5h3M808 789.5h3M875 779.5h3M764 835.5h3M840 779.5h3M807 827.5h3M866 791.5h3M873 778.5h3M778 793.5h3M769 794.5h3M770 791.5h3M827 816.5h3M752 800.5h3M859 781.5h3M847 803.5h3M782 794.5h3M806 819.5h3M882 775.5h3M749 801.5h3M827 784.5h3M813 789.5h3M851 796.5h3M847 776.5h3M821 811.5h3M860 793.5h3M877 779.5h3M825 809.5h3M804 822.5h3M863 780.5h3M813 782.5h3M823 815.5h3M795 766.5h3M806 774.5h3M823 817.5h3M774 788.5h3M807 820.5h3M853 819.5h3M864 838.5h3M788 792.5h3M896 820.5h3" stroke="#000000" stroke-width="3" fill="none"/>
<path d="M841 815h2M844 812h2M747 837h2M792 845h2M853 842h2M872 820h2M797 830h2M876 826h2" stroke="#000000" stroke-width="2" fill="none"/>
<path d="M828 840.5h3M758 844.5h3M877 835.5h3M813 840.5h3M806 820.5h3M849 827.5h3M802 821.5h3" stroke="#000000" stroke-width="3" fill="none"/>
</g>
<rect x="745.5" y="672.9" width="194.7" height="177.7" fill="none" stroke="#262626" stroke-width="2"/>
<clipPath id="cp15"><rect x="952.6" y="672.9" width="192.4" height="177.7"/></clipPath>
<rect x="952.6" y="672.9" width="192.4" height="177.7" fill="#f7f8fa"/>
<g clip-path="url(#cp15)">
<polygon points="1004,756.4 1010.9,742.6 1020.1,728.9 1033.8,717.4 1052.2,712.8 1070.6,712.8 1088.9,715.1 1107.3,717.4 1114.2,724.3 1102.7,731.2 1084.4,735.8 1066,742.6 1047.6,751.8 1029.3,758.7 1010.9,761" fill="#0000f0" stroke="#0000f0" stroke-width="1.6" stroke-linejoin="round"/>
<path d="M1010 758h2M1033 756h2M1017 742h2M1072 737h2M1021 757h2M1063 742h2M1044 750h2M1034 723h2M1110 724h2M1095 720h2M1112 727h2M1043 717h2M1090 717h2M1113 726h2M1073 737h2M1086 733h2M1089 720h2M1030 757h2M1076 717h2M1102 730h2M1032 758h2M1042 718h2M1030 758h2M1073 737h2M1077 716h2" stroke="#f7f8fa" stroke-width="2" fill="none"/>
<path d="M1063 711h2M1019 731h2M1009 737h2M1007 723h2M1052 753h2M1047 708h2M1114 725h2M1093 735h2M1096 716h2M1053 753h2M1069 707h2M1021 718h2M1010 734h2M1015 735h2M1061 748h2M998 751h2M1115 738h2M1063 747h2M1009 746h2M1060 713h2M1005 764h2M1036 766h2M1007 747h2M1032 720h2M1096 716h2M1039 714h2M1050 762h2M1054 711h2M1074 744h2M1081 742h2M1115 723h2M1116 729h2M1086 737h2M1039 715h2M1018 763h2M1088 715h2M1069 744h2M1016 767h2M1105 711h2M1071 748h2M1030 722h2M1115 730h2M1035 759h2M1054 753h2M1037 717h2M1116 729h2M1090 714h2M1106 731h2M1050 756h2M1098 742h2M1080 739h2M1011 743h2M1065 711h2M1091 715h2M1037 760h2M1057 713h2M1026 760h2M1114 730h2M1027 723h2M1001 750h2M1102 736h2M1096 735h2M1027 718h2M1013 728h2M1066 711h2M1029 722h2M1107 733h2M1012 771h2M1043 713h2M1027 717h2M1033 718h2M1015 731h2M1073 711h2M1012 741h2M1034 761h2M1018 729h2M1099 735h2M1020 729h2M1082 714h2M1109 718h2M1099 710h2M1055 750h2M1055 754h2" stroke="#0000f0" stroke-width="2" fill="none"/>
<path d="M1085 740.5h3M1059 710.5h3M1048 712.5h3M1007 748.5h3M1011 743.5h3M1009 766.5h3M1008 748.5h3M1035 758.5h3M1091 735.5h3M1093 712.5h3M1063 746.5h3M1026 723.5h3M1016 768.5h3M1013 730.5h3M1070 743.5h3M1108 729.5h3M1117 732.5h3M1090 714.5h3M1108 731.5h3M1063 746.5h3M1065 746.5h3M1028 722.5h3M1054 707.5h3M1069 705.5h3M1123 753.5h3M1102 706.5h3M1020 725.5h3M1122 765.5h3M1061 755.5h3M1073 701.5h3M1071 770.5h3M1005 739.5h3M1075 757.5h3" stroke="#1c1c9a" stroke-width="3" fill="none"/>
<path d="M1069 757h2M1124 729h2M1130 771h2M1066 691h2M1139 721h2M1075 697h2M1093 731h2M1106 760h2M1134 768h2M1077 721h2M1081 708h2M1112 735h2M1093 764h2M1131 706h2M1111 731h2M1080 748h2M1107 749h2M1096 765h2M1120 700h2" stroke="#0000f0" stroke-width="2" fill="none"/>
<path d="M1084 702.5h3M1129 689.5h3M1138 720.5h3M1116 715.5h3M1133 735.5h3M1105 718.5h3M1087 769.5h3M1072 743.5h3M1106 709.5h3M1123 699.5h3M1075 753.5h3" stroke="#1c1c9a" stroke-width="3" fill="none"/>
<polygon points="954.9,816.1 969.6,806.9 987.9,797.7 1006.3,788.6 1024.7,781.7 1038.4,779.4 1033.8,793.1 1020.1,802.3 1006.3,811.5 997.1,825.3 987.9,834.5 971.9,836.8 958.1,829.9" fill="#000000" stroke="#000000" stroke-width="1.6" stroke-linejoin="round"/>
<path d="M1005 792h2M960 830h2M1012 808h2M1035 790h2M986 831h2M1024 786h2M963 814h2M1015 787h2M1001 813h2M995 821h2M1015 788h2M1024 800h2M1028 784h2M1010 809h2M1007 806h2M990 798h2M962 827h2M988 832h2M1026 787h2M965 816h2M1019 801h2" stroke="#f7f8fa" stroke-width="2" fill="none"/>
<path d="M1037 793h2M963 835h2M995 794h2M989 835h2M975 805h2M1006 813h2M976 838h2M1035 777h2M1022 783h2M1023 776h2M982 800h2M964 840h2M981 800h2M995 793h2M993 834h2M960 836h2M964 809h2M985 838h2M1038 787h2M1015 784h2M1001 821h2M973 805h2M1016 811h2M1007 821h2M985 800h2M1016 808h2M1001 776h2M1034 777h2M986 838h2M974 803h2M999 831h2M1000 827h2M1024 782h2M1038 777h2M981 841h2M1013 776h2M1022 806h2M1030 801h2M1033 796h2M968 809h2M972 838h2M965 835h2M1028 801h2M1031 804h2M1009 812h2M963 836h2M1037 787h2M969 838h2M1025 801h2M983 800h2M1003 789h2M1006 814h2M965 811h2M1003 787h2M989 837h2M977 804h2M1039 779h2M985 800h2M1029 799h2M1020 806h2M958 809h2M1041 799h2M1027 802h2M960 810h2" stroke="#000000" stroke-width="2" fill="none"/>
<path d="M1018 784.5h3M996 842.5h3M984 797.5h3M994 788.5h3M1029 799.5h3M1033 796.5h3M1013 825.5h3M986 799.5h3M976 841.5h3M971 838.5h3M958 832.5h3M1037 795.5h3M1000 792.5h3M954 811.5h3M956 816.5h3M955 816.5h3M988 838.5h3M995 792.5h3M1024 782.5h3M1020 808.5h3M978 844.5h3M982 798.5h3M957 834.5h3M962 811.5h3M1014 781.5h3M960 812.5h3M1002 787.5h3M1014 764.5h3M1010 781.5h3M989 788.5h3M956 781.5h3M981 770.5h3M1021 769.5h3M1043 804.5h3M1051 833.5h3M1035 834.5h3" stroke="#000000" stroke-width="3" fill="none"/>
<path d="M1038 797h2M1055 807h2M1030 814h2M1056 782h2M1060 797h2" stroke="#000000" stroke-width="2" fill="none"/>
<path d="M1051 800.5h3M1032 820.5h3M1034 812.5h3M1026 801.5h3M1058 805.5h3M1058 793.5h3M1035 800.5h3M1027 818.5h3M1050 802.5h3M1054 795.5h3" stroke="#000000" stroke-width="3" fill="none"/>
</g>
<rect x="952.6" y="672.9" width="192.4" height="177.7" fill="none" stroke="#262626" stroke-width="2"/>
<clipPath id="cp16"><rect x="1157.8" y="672.9" width="194.2" height="177.7"/></clipPath>
<rect x="1157.8" y="672.9" width="194.2" height="177.7" fill="#f7f8fa"/>
<g clip-path="url(#cp16)">
<polygon points="1171.6,742.6 1185.4,733.5 1203.7,724.3 1222.1,717.4 1245.1,712.8 1268,710.5 1286.4,715.1 1288.7,724.3 1272.6,733.5 1254.2,744.9 1235.9,754.1 1217.5,758.7 1194.5,758.7 1176.2,751.8" fill="#0000f0" stroke="#0000f0" stroke-width="1.6" stroke-linejoin="round"/>
<path d="M1203 759h2M1189 736h2M1270 736h2M1229 717h2M1255 744h2M1242 715h2M1283 719h2M1265 714h2M1286 720h2M1219 758h2M1227 753h2M1216 725h2M1284 717h2M1180 744h2M1258 714h2M1266 735h2M1276 728h2M1245 750h2M1199 755h2M1260 737h2M1182 755h2M1240 748h2M1255 740h2M1231 719h2M1278 728h2M1251 746h2" stroke="#f7f8fa" stroke-width="2" fill="none"/>
<path d="M1206 763h2M1293 711h2M1230 711h2M1200 766h2M1263 745h2M1194 724h2M1229 758h2M1274 736h2M1209 719h2M1192 762h2M1209 766h2M1217 716h2M1286 728h2M1213 705h2M1232 759h2M1254 753h2M1232 770h2M1293 732h2M1237 756h2M1283 711h2M1248 751h2M1285 714h2M1226 712h2M1205 761h2M1238 755h2M1178 729h2M1275 710h2M1230 761h2M1176 755h2M1210 764h2M1217 760h2M1189 760h2M1198 763h2M1288 717h2M1209 722h2M1264 709h2M1195 761h2M1171 753h2M1264 708h2M1265 740h2M1299 737h2M1189 758h2M1288 721h2M1243 758h2M1284 711h2M1171 753h2M1206 768h2M1172 745h2M1202 766h2M1243 708h2M1172 739h2M1260 712h2M1289 720h2M1231 757h2M1244 753h2M1179 757h2M1189 766h2M1285 712h2M1279 712h2M1174 752h2M1288 729h2M1179 737h2M1207 762h2M1179 738h2M1278 732h2M1273 736h2M1286 727h2M1208 723h2M1176 737h2M1279 712h2M1245 752h2M1263 741h2M1222 718h2M1224 764h2M1222 709h2" stroke="#0000f0" stroke-width="2" fill="none"/>
<path d="M1192 730.5h3M1236 755.5h3M1171 742.5h3M1291 719.5h3M1174 762.5h3M1187 728.5h3M1233 716.5h3M1166 746.5h3M1242 755.5h3M1281 711.5h3M1291 722.5h3M1181 760.5h3M1200 762.5h3M1231 704.5h3M1185 726.5h3M1239 759.5h3M1162 735.5h3M1216 763.5h3M1268 707.5h3M1168 737.5h3M1243 701.5h3M1261 711.5h3M1289 719.5h3M1255 709.5h3M1197 728.5h3M1280 715.5h3M1275 736.5h3M1259 712.5h3M1187 729.5h3M1287 727.5h3M1259 712.5h3M1252 757.5h3M1176 739.5h3M1270 741.5h3M1287 713.5h3M1295 702.5h3M1226 712.5h3M1294 739.5h3M1206 699.5h3M1295 711.5h3M1238 765.5h3M1239 698.5h3M1273 709.5h3M1301 702.5h3M1260 758.5h3" stroke="#1c1c9a" stroke-width="3" fill="none"/>
<path d="M1295 717h2M1257 750h2M1307 744h2M1274 694h2M1327 747h2M1249 752h2M1265 750h2M1310 745h2M1297 722h2M1294 735h2M1258 712h2M1259 750h2M1246 748h2M1251 715h2M1267 723h2M1275 748h2M1267 732h2M1304 751h2M1268 728h2" stroke="#0000f0" stroke-width="2" fill="none"/>
<path d="M1300 729.5h3M1322 721.5h3M1263 704.5h3M1262 722.5h3M1337 755.5h3M1309 711.5h3" stroke="#1c1c9a" stroke-width="3" fill="none"/>
<polygon points="1160.1,797.7 1176.2,793.1 1194.5,788.6 1212.9,784 1231.3,779.4 1233.6,786.3 1226.7,797.7 1217.5,811.5 1208.3,823 1194.5,829.9 1176.2,829.9 1160.1,825.3" fill="#000000" stroke="#000000" stroke-width="1.6" stroke-linejoin="round"/>
<path d="M1227 795h2M1212 819h2M1174 799h2M1198 792h2M1182 830h2M1164 808h2M1223 803h2M1170 796h2M1228 785h2M1164 798h2M1180 830h2M1216 811h2M1200 788h2M1231 785h2M1190 793h2M1217 785h2M1198 793h2M1198 827h2M1214 812h2M1213 810h2" stroke="#f7f8fa" stroke-width="2" fill="none"/>
<path d="M1193 789h2M1224 821h2M1202 779h2M1227 804h2M1205 785h2M1226 781h2M1202 831h2M1165 829h2M1167 829h2M1204 835h2M1187 838h2M1208 786h2M1230 809h2M1166 792h2M1201 786h2M1235 798h2M1160 804h2M1184 785h2M1195 836h2M1219 782h2M1232 775h2M1175 791h2M1213 782h2M1229 800h2M1209 784h2M1224 806h2M1189 785h2M1195 834h2M1223 812h2M1171 830h2M1161 797h2M1170 792h2M1184 784h2M1181 791h2M1211 827h2M1223 805h2M1238 785h2M1172 793h2M1225 782h2M1219 811h2M1210 822h2M1214 825h2M1219 772h2M1217 780h2M1184 789h2M1216 781h2M1172 794h2M1169 787h2M1193 789h2M1212 832h2M1168 794h2M1160 810h2M1191 789h2M1199 841h2M1178 832h2M1213 819h2" stroke="#000000" stroke-width="2" fill="none"/>
<path d="M1224 775.5h3M1204 828.5h3M1232 808.5h3M1225 807.5h3M1174 794.5h3M1212 824.5h3M1216 815.5h3M1165 835.5h3M1232 781.5h3M1210 784.5h3M1236 782.5h3M1162 792.5h3M1221 781.5h3M1215 827.5h3M1172 788.5h3M1199 785.5h3M1182 790.5h3M1219 818.5h3M1190 831.5h3M1199 773.5h3M1161 794.5h3M1205 786.5h3M1192 831.5h3M1202 828.5h3M1177 789.5h3M1232 782.5h3M1175 794.5h3M1171 794.5h3M1224 806.5h3M1245 769.5h3M1236 790.5h3M1187 787.5h3M1217 815.5h3M1237 792.5h3M1247 797.5h3M1194 770.5h3M1179 836.5h3M1240 795.5h3M1195 832.5h3" stroke="#000000" stroke-width="3" fill="none"/>
</g>
<rect x="1157.8" y="672.9" width="194.2" height="177.7" fill="none" stroke="#262626" stroke-width="2"/>
<clipPath id="cp21"><rect x="123.8" y="864.2" width="197.1" height="178.7"/></clipPath>
<rect x="123.8" y="864.2" width="197.1" height="178.7" fill="#f7f8fa"/>
<g clip-path="url(#cp21)">
<polygon points="133,933.3 146.8,928.7 169.9,924.1 192.9,919.5 220.5,912.6 248.2,901.1 275.8,891.8 303.5,878 312.7,875.7 312.7,896.5 303.5,910.3 285,919.5 262,928.7 234.4,935.6 211.3,944.8 197.5,951.7 179.1,949.4 160.7,942.5 137.6,940.2" fill="#e00404" stroke="#e00404" stroke-width="1.6" stroke-linejoin="round"/>
<path d="M136 937h2M139 933h2M284 894h2M143 934h2M275 894h2M143 941h2M297 885h2M300 912h2M264 926h2M169 945h2M156 928h2M296 886h2M153 932h2M293 890h2M147 931h2M205 944h2M174 948h2M309 883h2M145 937h2M295 913h2M263 926h2M205 918h2M308 904h2M227 914h2M235 910h2M245 904h2M154 941h2M146 932h2M297 883h2M239 908h2M246 908h2M183 946h2M308 884h2M287 893h2M311 880h2M176 927h2M210 942h2M174 929h2M159 931h2M205 919h2M141 935h2" stroke="#f7f8fa" stroke-width="2" fill="none"/>
<path d="M272 933h2M242 937h2M308 915h2M306 919h2M170 948h2M303 912h2M314 875h2M179 960h2M282 925h2M257 898h2M286 884h2M239 904h2M144 926h2M150 944h2M228 907h2M308 905h2M294 883h2M183 921h2M230 904h2M153 943h2M132 931h2M216 911h2M135 946h2M178 921h2M160 944h2M222 942h2M139 947h2M279 889h2M248 887h2M228 902h2M253 933h2M245 941h2M184 958h2M242 900h2M289 919h2M197 954h2M213 948h2M236 907h2M192 920h2M285 921h2M265 894h2M236 936h2M200 953h2M151 944h2M242 947h2M213 913h2M211 963h2M133 931h2M230 941h2M214 913h2M158 926h2M248 898h2M256 899h2M160 926h2M214 914h2M316 873h2M198 917h2M240 903h2M171 949h2M293 882h2M315 870h2M226 911h2M134 923h2M284 924h2M191 953h2M219 947h2M295 917h2M248 935h2M140 950h2M307 868h2M127 933h2M184 961h2M129 943h2M145 943h2M180 923h2M153 949h2M132 943h2M156 944h2M245 936h2M137 946h2M196 914h2M174 920h2M260 931h2M286 878h2M316 899h2M216 945h2M305 868h2M290 923h2M257 882h2M244 937h2M226 903h2M136 939h2M173 921h2M301 914h2M227 911h2M204 917h2M251 901h2M276 892h2M224 901h2M151 925h2M240 904h2M176 959h2M136 947h2M253 898h2M171 925h2M169 925h2M138 942h2M141 923h2M265 931h2M289 885h2M197 904h2M249 934h2M206 907h2M250 936h2M224 945h2M141 926h2M217 906h2M289 922h2M271 894h2M197 913h2M288 922h2M289 882h2M313 896h2M313 906h2M201 953h2M156 946h2M285 922h2" stroke="#e00404" stroke-width="2" fill="none"/>
<path d="M316 890.5h3M293 918.5h3M229 910.5h3M262 895.5h3M137 947.5h3M164 949.5h3M136 942.5h3M177 922.5h3M174 923.5h3M308 904.5h3M242 900.5h3M295 920.5h3M201 954.5h3M219 946.5h3M189 921.5h3M214 912.5h3M311 922.5h3M166 946.5h3M292 918.5h3M286 922.5h3M236 905.5h3M158 944.5h3M298 918.5h3M236 904.5h3M313 870.5h3M275 890.5h3M148 944.5h3M188 953.5h3M288 886.5h3M212 955.5h3M165 948.5h3M187 952.5h3M256 899.5h3M164 925.5h3M167 950.5h3M207 917.5h3M139 931.5h3M317 880.5h3M237 906.5h3M152 925.5h3M251 933.5h3M162 923.5h3M161 927.5h3M177 922.5h3M152 917.5h3M255 958.5h3M298 927.5h3M298 967.5h3M128 942.5h3M197 966.5h3M309 966.5h3M264 958.5h3M204 911.5h3M218 964.5h3M285 945.5h3" stroke="#a01010" stroke-width="3" fill="none"/>
<path d="M221 950h2M175 935h2M165 911h2M166 931h2M131 927h2M151 950h2M189 944h2M203 943h2M162 927h2M199 927h2M133 928h2M220 952h2M206 927h2M188 936h2M211 951h2M174 918h2M220 911h2M162 930h2" stroke="#e00404" stroke-width="2" fill="none"/>
<path d="M139 940.5h3M219 955.5h3M177 928.5h3M179 938.5h3M130 945.5h3M215 913.5h3M199 942.5h3M224 957.5h3M201 918.5h3M221 933.5h3M184 922.5h3M137 936.5h3M225 906.5h3M193 941.5h3M146 936.5h3M170 948.5h3M170 951.5h3M190 936.5h3M215 908.5h3M137 924.5h3M172 935.5h3M205 912.5h3" stroke="#a01010" stroke-width="3" fill="none"/>
<path d="M272 893h2M277 948h2M312 924h2M307 941h2M300 883h2M278 885h2M274 929h2M317 919h2M314 916h2M290 918h2M282 947h2M309 882h2" stroke="#e00404" stroke-width="2" fill="none"/>
<path d="M272 891.5h3M283 921.5h3M293 935.5h3M301 945.5h3M294 928.5h3M307 879.5h3M292 883.5h3M285 884.5h3" stroke="#a01010" stroke-width="3" fill="none"/>
<polygon points="128.4,1018.5 142.2,1002.4 160.7,988.6 183.7,974.8 202.1,965.5 218.2,956.3 220.5,960.9 209,977.1 197.5,993.2 183.7,1007 169.9,1020.8 160.7,1032.3 146.8,1030 130.7,1023.1" fill="#000000" stroke="#000000" stroke-width="1.6" stroke-linejoin="round"/>
<path d="M187 978h2M158 1029h2M179 984h2M165 1020h2M211 964h2M140 1025h2M194 993h2M156 994h2M200 973h2M180 1010h2M209 963h2M196 973h2M199 991h2M199 989h2M144 1005h2M153 1029h2M177 982h2M183 1007h2M171 1018h2M212 962h2M140 1028h2M156 1032h2M200 982h2M195 971h2" stroke="#f7f8fa" stroke-width="2" fill="none"/>
<path d="M136 1027h2M140 998h2M148 1032h2M171 1023h2M218 970h2M206 994h2M181 1026h2M145 997h2M170 1030h2M167 1027h2M176 974h2M185 1011h2M200 999h2M130 1030h2M188 1012h2M217 967h2M218 968h2M193 971h2M209 996h2M152 1034h2M177 978h2M148 998h2M126 1012h2M193 969h2M173 1031h2M131 1014h2M126 1025h2M218 978h2M175 1017h2M196 998h2M140 1005h2M188 974h2M131 1026h2M130 1023h2M196 968h2M202 954h2M136 1008h2M184 1010h2M129 1021h2M142 1031h2M208 984h2M167 1027h2M194 962h2M192 964h2M132 1013h2M144 993h2M129 1017h2M181 1032h2M131 1027h2M133 1007h2M218 970h2M165 1034h2M147 1032h2M183 975h2M217 968h2M184 1009h2M193 1013h2M195 970h2M206 959h2M223 973h2M142 1001h2M166 1033h2M139 999h2M200 963h2M134 1029h2M193 1005h2M130 1024h2M196 957h2M170 983h2" stroke="#000000" stroke-width="2" fill="none"/>
<path d="M134 1010.5h3M196 968.5h3M188 973.5h3M202 991.5h3M182 1011.5h3M181 973.5h3M207 982.5h3M172 1025.5h3M131 1027.5h3M130 1014.5h3M157 991.5h3M206 956.5h3M126 1024.5h3M152 994.5h3M192 1003.5h3M223 970.5h3M220 963.5h3M136 1003.5h3M176 980.5h3M125 1017.5h3M192 966.5h3M129 1021.5h3M204 986.5h3M217 956.5h3M150 993.5h3M164 1032.5h3M163 986.5h3M201 992.5h3M146 995.5h3M196 1000.5h3M182 973.5h3M214 977.5h3M169 1025.5h3M183 1012.5h3M145 985.5h3M151 991.5h3M155 983.5h3M191 1026.5h3M239 996.5h3M230 996.5h3M220 999.5h3M197 940.5h3M132 1029.5h3M158 961.5h3" stroke="#000000" stroke-width="3" fill="none"/>
</g>
<rect x="123.8" y="864.2" width="197.1" height="178.7" fill="none" stroke="#262626" stroke-width="2"/>
<clipPath id="cp22"><rect x="332.5" y="861.9" width="195.3" height="180.6"/></clipPath>
<rect x="332.5" y="861.9" width="195.3" height="180.6" fill="#f7f8fa"/>
<g clip-path="url(#cp22)">
<polyline points="334,1041 335,1041 336,1041 337,1041 338,1041 339,1041 340,1041 341,1041 342,1041 343,1041 344,1041 345,1041 346,1041 347,1041 348,1041 349,1041 350,1041 351,1041 352,1041 353,1041 354,1041 355,1041 356,1041 357,1041 358,1041 359,1040.9 360,1040.9 361,1040.9 362,1040.9 363,1040.9 364,1040.9 365,1040.9 366,1040.8 367,1040.8 368,1040.7 369,1040.6 370,1040.6 371,1040.4 372,1040.3 373,1040.1 374,1040 375,1039.7 376,1039.4 377,1039.1 378,1038.6 379,1038.1 380,1037.5 381,1036.8 382,1036 383,1035 384,1033.9 385,1032.5 386,1031 387,1029.3 388,1027.5 389,1025.2 390,1022.8 391,1019.9 392,1016.9 393,1013.4 394,1009.8 395,1006 396,1001.3 397,996.6 398,991.4 399,985.8 400,980.3 401,974.3 402,968.1 403,961.7 404,954.9 405,948.9 406,942.1 407,934.3 408,927.2 409,920.5 410,914.9 411,907.8 412,902.5 413,896.4 414,892.3 415,886.9 416,883.7 417,879.9 418,877.3 419,876.9 420,875 421,874 422,874.5 423,876.3 424,877.5 425,880 426,883.8 427,888.4 428,891.8 429,897.8 430,903.7 431,909.4 432,915.6 433,921.2 434,929.5 435,935.6 436,942.6 437,949.1 438,956.6 439,962.9 440,969.1 441,975 442,981.4 443,986.9 444,992.1 445,997.2 446,1002.4 447,1006.6 448,1010.5 449,1014.2 450,1017.4 451,1020.4 452,1023.2 453,1025.6 454,1027.8 455,1029.6 456,1031.3 457,1032.8 458,1034.1 459,1035.1 460,1036.1 461,1036.9 462,1037.6 463,1038.2 464,1038.7 465,1039.1 466,1039.5 467,1039.7 468,1040 469,1040.2 470,1040.3 471,1040.5 472,1040.6 473,1040.7 474,1040.7 475,1040.8 476,1040.8 477,1040.9 478,1040.9 479,1040.9 480,1040.9 481,1040.9 482,1040.9 483,1040.9 484,1041 485,1041 486,1041 487,1041 488,1041 489,1041 490,1041 491,1041 492,1041 493,1041 494,1041 495,1041 496,1041 497,1041 498,1041 499,1041 500,1041 501,1041 502,1041 503,1041 504,1041 505,1041 506,1041 507,1041 508,1041 509,1041 510,1041 511,1041 512,1041 513,1041 514,1041 515,1041 516,1041 517,1041 518,1041 519,1041 520,1041 521,1041 522,1041 523,1041 524,1041 525,1041 526,1041" fill="none" stroke="#1e1e1e" stroke-width="1.2" stroke-linejoin="round"/>
<polyline points="334,1041 335,1041 336,1041 337,1041 338,1041 339,1041 340,1041 341,1041 342,1041 343,1041 344,1041 345,1041 346,1041 347,1041 348,1041 349,1041 350,1041 351,1041 352,1041 353,1041 354,1041 355,1041 356,1041 357,1041 358,1041 359,1041 360,1041 361,1041 362,1041 363,1041 364,1041 365,1041 366,1041 367,1041 368,1041 369,1041 370,1041 371,1041 372,1041 373,1041 374,1041 375,1041 376,1041 377,1041 378,1041 379,1041 380,1041 381,1041 382,1041 383,1041 384,1041 385,1041 386,1041 387,1041 388,1041 389,1041 390,1041 391,1041 392,1041 393,1041 394,1041 395,1041 396,1041 397,1041 398,1041 399,1041 400,1041 401,1040.9 402,1040.9 403,1040.9 404,1040.9 405,1040.9 406,1040.9 407,1040.9 408,1040.9 409,1040.8 410,1040.8 411,1040.8 412,1040.7 413,1040.7 414,1040.6 415,1040.5 416,1040.4 417,1040.3 418,1040.2 419,1040.1 420,1039.9 421,1039.7 422,1039.4 423,1039.2 424,1038.8 425,1038.5 426,1038 427,1037.5 428,1036.9 429,1036.3 430,1035.5 431,1034.7 432,1033.8 433,1032.7 434,1031.5 435,1030.1 436,1028.8 437,1027 438,1025.2 439,1023.3 440,1021.1 441,1018.7 442,1016.1 443,1013.5 444,1010.5 445,1007.1 446,1003.5 447,999.9 448,995.7 449,991.8 450,987.4 451,982.8 452,977.9 453,973.4 454,968.5 455,962.9 456,957 457,952.3 458,946.5 459,941.1 460,935.4 461,930 462,924.3 463,918.8 464,914.1 465,908.9 466,903.7 467,899.9 468,895.5 469,891.8 470,888.2 471,885.6 472,883.7 473,879.9 474,878.3 475,877 476,876.9 477,876.1 478,876 479,878.5 480,880.3 481,883.9 482,887.9 483,892.5 484,899 485,903.4 486,911.1 487,917.8 488,925.4 489,933.2 490,940.8 491,948.1 492,956.4 493,963.6 494,970.9 495,977.5 496,984.5 497,990.5 498,995.9 499,1001.8 500,1006.6 501,1010.9 502,1015.1 503,1018.7 504,1021.7 505,1024.7 506,1027.2 507,1029.4 508,1031.3 509,1033 510,1034.3 511,1035.5 512,1036.5 513,1037.4 514,1038.1 515,1038.7 516,1039.1 517,1039.5 518,1039.8 519,1040.1 520,1040.3 521,1040.4 522,1040.6 523,1040.7 524,1040.7 525,1040.8 526,1040.8" fill="none" stroke="#4444e8" stroke-width="1.2" stroke-linejoin="round"/>
<polyline points="334,1041 335,1041 336,1041 337,1041 338,1041 339,1041 340,1041 341,1041 342,1041 343,1041 344,1041 345,1041 346,1041 347,1041 348,1041 349,1041 350,1041 351,1041 352,1041 353,1041 354,1041 355,1041 356,1041 357,1041 358,1041 359,1041 360,1041 361,1041 362,1041 363,1041 364,1041 365,1041 366,1041 367,1041 368,1041 369,1041 370,1041 371,1041 372,1041 373,1041 374,1041 375,1041 376,1041 377,1041 378,1041 379,1041 380,1041 381,1041 382,1041 383,1041 384,1041 385,1041 386,1041 387,1041 388,1041 389,1041 390,1041 391,1041 392,1041 393,1041 394,1041 395,1041 396,1041 397,1041 398,1041 399,1041 400,1041 401,1041 402,1041 403,1041 404,1041 405,1041 406,1041 407,1041 408,1041 409,1041 410,1041 411,1041 412,1041 413,1041 414,1041 415,1041 416,1041 417,1041 418,1041 419,1041 420,1041 421,1041 422,1041 423,1041 424,1041 425,1041 426,1041 427,1041 428,1041 429,1040.9 430,1040.9 431,1040.9 432,1040.9 433,1040.9 434,1040.9 435,1040.8 436,1040.8 437,1040.8 438,1040.7 439,1040.6 440,1040.5 441,1040.4 442,1040.3 443,1040.1 444,1039.9 445,1039.7 446,1039.4 447,1039 448,1038.6 449,1038.1 450,1037.5 451,1036.8 452,1036 453,1035.1 454,1034 455,1032.7 456,1031.3 457,1029.6 458,1027.7 459,1025.6 460,1023.2 461,1020.6 462,1017.6 463,1014.4 464,1010.8 465,1006.7 466,1002.8 467,998.2 468,993.4 469,988.1 470,982.8 471,976.7 472,971 473,964.2 474,958 475,951.1 476,945.1 477,938.6 478,931.6 479,925.6 480,919.4 481,912.2 482,907.4 483,901.8 484,896.3 485,892.9 486,888.2 487,884.4 488,881.1 489,879.4 490,878.6 491,878.3 492,877 493,879.4 494,880.8 495,883.9 496,887.4 497,891.8 498,898.4 499,904.4 500,911.2 501,918.2 502,926.1 503,934.4 504,942.5 505,950.2 506,958 507,965.4 508,973.1 509,980.5 510,986.8 511,993 512,998.7 513,1003.8 514,1009.1 515,1013.2 516,1017.3 517,1020.8 518,1023.9 519,1026.6 520,1029 521,1031 522,1032.7 523,1034.2 524,1035.5 525,1036.5 526,1037.4" fill="none" stroke="#dd3a3a" stroke-width="1.2" stroke-linejoin="round"/>
</g>
<rect x="332.5" y="861.9" width="195.3" height="180.6" fill="none" stroke="#262626" stroke-width="2"/>
<clipPath id="cp23"><rect x="539.8" y="861.9" width="193.5" height="179.6"/></clipPath>
<rect x="539.8" y="861.9" width="193.5" height="179.6" fill="#f7f8fa"/>
<g clip-path="url(#cp23)">
<polygon points="572.9,967.9 584.4,958.6 602.9,944.8 621.3,931 639.7,914.9 658.1,896.5 676.6,875.7 683.5,866.5 685.8,871.1 669.6,891.8 648.9,912.6 644.3,921.8 625.9,933.3 607.5,949.4 593.6,960.9 579.8,972.5" fill="#0000f0" stroke="#0000f0" stroke-width="1.6" stroke-linejoin="round"/>
<path d="M599 949h2M593 961h2M679 880h2M599 949h2M579 967h2M601 955h2M582 967h2M641 924h2M659 900h2M585 965h2M651 909h2M680 875h2M642 917h2M677 879h2M685 871h2M580 972h2M584 961h2M583 967h2M619 939h2M650 911h2M602 949h2M579 969h2M585 968h2M639 917h2M668 890h2M606 949h2M616 938h2M608 942h2M680 879h2M581 968h2M639 926h2" stroke="#f7f8fa" stroke-width="2" fill="none"/>
<path d="M608 939h2M597 944h2M630 936h2M568 969h2M597 960h2M603 957h2M660 905h2M576 965h2M653 909h2M671 891h2M674 888h2M603 945h2M643 930h2M607 952h2M651 913h2M616 934h2M573 981h2M577 978h2M670 897h2M590 966h2M669 895h2M672 894h2M611 936h2M677 885h2M599 938h2M620 916h2M594 944h2M672 891h2M688 881h2M672 880h2M584 976h2M608 952h2M673 873h2M612 933h2M633 917h2M593 951h2M583 974h2M595 940h2M664 887h2M681 882h2M583 976h2M578 957h2M573 965h2M668 870h2M583 960h2M686 876h2M568 960h2M618 952h2M641 927h2M677 889h2M582 960h2M628 920h2M603 946h2M603 945h2M675 866h2M673 879h2M596 969h2M675 869h2M606 952h2M683 889h2M574 967h2M614 937h2M603 943h2M667 896h2M612 946h2M617 953h2M642 930h2M580 977h2M575 971h2M593 939h2M592 964h2M630 936h2M646 906h2M572 966h2M665 899h2M678 869h2M600 941h2M576 963h2M581 976h2M659 905h2M638 928h2M631 932h2M565 972h2M622 930h2M651 922h2M611 950h2M587 949h2M650 932h2M676 875h2M599 944h2M660 902h2" stroke="#0000f0" stroke-width="2" fill="none"/>
<path d="M579 977.5h3M676 910.5h3M645 908.5h3M663 884.5h3M643 925.5h3M616 943.5h3M649 923.5h3M596 964.5h3M609 940.5h3M603 942.5h3M647 899.5h3M599 967.5h3M620 933.5h3M666 920.5h3M580 963.5h3M645 901.5h3M678 872.5h3M600 971.5h3M613 936.5h3M649 906.5h3M591 954.5h3M604 941.5h3M629 923.5h3M571 970.5h3M584 975.5h3M645 927.5h3M593 952.5h3M601 946.5h3M573 973.5h3M624 926.5h3M596 961.5h3M578 974.5h3M609 956.5h3M669 910.5h3M648 917.5h3M641 927.5h3M651 894.5h3M612 946.5h3M681 869.5h3M680 882.5h3M579 870.5h3M564 924.5h3M693 925.5h3M585 969.5h3M682 879.5h3M565 868.5h3M617 868.5h3M630 922.5h3M693 901.5h3M620 976.5h3" stroke="#1c1c9a" stroke-width="3" fill="none"/>
<path d="M673 888h2M653 895h2M652 898h2M643 924h2M664 884h2M639 922h2M635 913h2M659 908h2M685 877h2M662 898h2" stroke="#0000f0" stroke-width="2" fill="none"/>
<path d="M664 895.5h3M653 892.5h3M645 895.5h3M637 925.5h3M668 891.5h3" stroke="#1c1c9a" stroke-width="3" fill="none"/>
<polygon points="540.7,997.8 556.8,988.6 575.2,977.1 593.6,965.5 609.8,963.2 602.9,974.8 589,988.6 575.2,1002.4 566,1016.2 556.8,1032.3 540.7,1036.9" fill="#000000" stroke="#000000" stroke-width="1.6" stroke-linejoin="round"/>
<path d="M581 976h2M578 996h2M551 1031h2M578 996h2M550 997h2M600 978h2M579 980h2M552 1035h2M553 996h2M584 975h2M595 978h2M568 986h2M599 967h2M609 964h2M595 968h2M599 975h2M571 1003h2M585 992h2M607 966h2M589 985h2M555 991h2M560 1019h2" stroke="#f7f8fa" stroke-width="2" fill="none"/>
<path d="M606 979h2M545 1038h2M547 983h2M610 968h2M609 967h2M561 1030h2M542 996h2M571 979h2M587 960h2M583 1001h2M604 975h2M574 1006h2M557 989h2M590 965h2M610 969h2M579 971h2M574 1014h2M575 971h2M576 1023h2M569 1020h2M587 965h2M565 1028h2M574 1006h2M558 987h2M579 972h2M560 986h2M563 986h2M611 968h2M597 991h2M574 1007h2M556 987h2M561 987h2M604 980h2M565 974h2M605 962h2M604 960h2M597 960h2M595 960h2M610 967h2M547 994h2M558 983h2M604 984h2M582 1003h2M616 971h2M542 1038h2M559 1030h2M557 1034h2M575 1006h2M611 970h2M587 996h2M607 964h2M603 978h2M567 1023h2M546 1037h2M566 982h2M568 1017h2M574 1007h2M572 1014h2M595 961h2M573 956h2M567 1024h2M563 1025h2M554 1037h2M559 985h2M552 992h2M560 983h2M565 1021h2M616 965h2M558 1032h2" stroke="#000000" stroke-width="2" fill="none"/>
<path d="M583 966.5h3M600 983.5h3M589 962.5h3M551 987.5h3M559 987.5h3M582 970.5h3M608 970.5h3M557 1033.5h3M571 980.5h3M575 1028.5h3M600 979.5h3M585 995.5h3M591 992.5h3M607 976.5h3M552 988.5h3M614 979.5h3M613 971.5h3M594 963.5h3M596 983.5h3M557 988.5h3M595 987.5h3M588 961.5h3M592 956.5h3M562 979.5h3M548 986.5h3M578 1011.5h3M551 941.5h3M580 1003.5h3M597 1022.5h3M607 963.5h3M553 964.5h3M605 988.5h3M580 1033.5h3M561 952.5h3" stroke="#000000" stroke-width="3" fill="none"/>
</g>
<rect x="539.8" y="861.9" width="193.5" height="179.6" fill="none" stroke="#262626" stroke-width="2"/>
<clipPath id="cp24"><rect x="745.5" y="863.3" width="194.7" height="177.7"/></clipPath>
<rect x="745.5" y="863.3" width="194.7" height="177.7" fill="#f7f8fa"/>
<g clip-path="url(#cp24)">
<polygon points="790.5,946.8 799.7,937.6 818.1,930.8 841,923.9 868.6,919.3 896.1,917 923.7,914.7 940.2,914.7 940.2,958.3 923.7,958.3 896.1,958.3 868.6,958.3 841,960.6 813.5,960.6 795.1,956" fill="#0000f0" stroke="#0000f0" stroke-width="1.6" stroke-linejoin="round"/>
<path d="M885 919h2M854 925h2M922 919h2M811 961h2M811 939h2M930 917h2M858 958h2M928 917h2M904 919h2M837 931h2M881 924h2M855 923h2M884 923h2M861 958h2M885 958h2M829 961h2M834 929h2M828 961h2M806 940h2M836 957h2M824 959h2M892 920h2M827 961h2M864 925h2M897 922h2M816 959h2M888 921h2M894 955h2M932 918h2M884 959h2M799 943h2M827 934h2M884 922h2M901 921h2M892 959h2" stroke="#f7f8fa" stroke-width="2" fill="none"/>
<path d="M816 932h2M813 964h2M890 960h2M919 960h2M792 959h2M835 924h2M910 968h2M867 960h2M786 951h2M933 912h2M859 960h2M787 945h2M836 925h2M915 961h2M929 960h2M861 962h2M806 930h2M873 917h2M893 960h2M911 968h2M799 940h2M829 928h2M859 918h2M829 971h2M800 961h2M792 946h2M819 931h2M894 918h2M814 931h2M909 913h2M927 962h2M840 925h2M824 967h2M850 964h2M832 924h2M918 972h2M917 959h2M930 960h2M835 924h2M799 939h2M844 923h2M801 921h2M855 919h2M903 965h2M914 966h2M897 960h2M853 922h2M922 965h2M790 963h2M831 918h2M805 936h2M932 916h2M932 960h2M937 913h2M853 965h2M903 965h2M832 964h2M790 943h2M803 960h2M892 960h2M891 918h2M817 967h2M806 965h2M791 953h2M821 967h2M810 966h2M816 932h2M878 919h2M853 921h2M828 928h2M831 963h2M917 965h2M840 966h2M902 961h2M805 960h2M911 961h2M787 943h2M820 963h2M852 920h2M801 971h2M932 916h2M925 915h2M806 960h2M876 960h2M795 936h2M883 918h2M903 915h2M926 964h2M831 965h2M877 964h2M799 960h2M907 963h2M878 960h2M935 906h2M793 953h2M832 969h2M802 935h2M788 953h2M841 917h2M848 967h2M856 966h2M937 963h2M792 961h2M912 961h2M881 960h2M814 968h2M936 912h2M849 923h2M808 970h2M937 964h2" stroke="#0000f0" stroke-width="2" fill="none"/>
<path d="M926 960.5h3M902 965.5h3M841 962.5h3M854 918.5h3M886 917.5h3M807 961.5h3M929 912.5h3M917 963.5h3M915 961.5h3M818 964.5h3M865 919.5h3M816 931.5h3M860 917.5h3M815 962.5h3M840 962.5h3M840 963.5h3M842 921.5h3M886 962.5h3M832 967.5h3M846 921.5h3M835 922.5h3M919 907.5h3M869 963.5h3M918 961.5h3M921 915.5h3M909 962.5h3M899 916.5h3M836 925.5h3M903 916.5h3M819 963.5h3M908 971.5h3M788 937.5h3M848 918.5h3M820 962.5h3M812 964.5h3M878 960.5h3M801 932.5h3M897 910.5h3M809 966.5h3M850 967.5h3M805 964.5h3M871 962.5h3M900 901.5h3M833 908.5h3M783 950.5h3M831 971.5h3M777 907.5h3M783 908.5h3M831 917.5h3" stroke="#1c1c9a" stroke-width="3" fill="none"/>
<path d="M828 904h2M890 881h2M917 875h2M826 905h2M858 897h2M862 902h2M909 886h2M812 932h2M844 906h2M859 921h2M873 910h2M884 891h2M899 882h2M845 887h2M914 902h2M855 904h2M911 897h2M925 869h2M843 927h2M880 906h2M836 923h2M935 902h2M880 921h2M892 905h2M919 918h2M815 919h2M930 881h2M921 906h2M874 875h2M846 897h2M859 915h2M834 913h2M816 929h2M927 903h2M822 891h2M916 908h2M856 914h2M930 914h2M812 902h2M877 899h2M888 896h2M879 878h2M883 924h2M817 916h2M880 915h2M924 871h2M873 924h2" stroke="#0000f0" stroke-width="2" fill="none"/>
<path d="M815 902.5h3M810 925.5h3M895 923.5h3M861 883.5h3M889 895.5h3M841 909.5h3M900 895.5h3M904 909.5h3M856 888.5h3M925 894.5h3M883 887.5h3M868 899.5h3M924 882.5h3" stroke="#1c1c9a" stroke-width="3" fill="none"/>
<path d="M887 971h2M930 976h2M903 963h2M909 980h2M919 973h2M890 979h2M907 974h2M934 973h2M912 969h2" stroke="#0000f0" stroke-width="2" fill="none"/>
<path d="M906 970.5h3M928 975.5h3M880 975.5h3M936 991.5h3M888 980.5h3M895 983.5h3" stroke="#1c1c9a" stroke-width="3" fill="none"/>
<polygon points="746.9,999.6 767.5,995 795.1,988.1 822.6,981.3 850.2,972.1 873.1,965.2 868.6,974.4 850.2,985.9 831.8,997.3 818.1,1011.1 808.9,1022.6 795.1,1034.1 767.5,1036.4 746.9,1034.1" fill="#000000" stroke="#000000" stroke-width="1.6" stroke-linejoin="round"/>
<path d="M828 982h2M866 969h2M817 987h2M826 983h2M772 995h2M828 982h2M849 978h2M831 998h2M755 1035h2M795 989h2M770 1035h2M773 995h2M792 1033h2M852 974h2M818 1009h2M792 1031h2M816 1009h2M785 993h2M807 1020h2M861 972h2M840 993h2M761 1000h2M849 984h2M832 980h2M816 1012h2M807 987h2M806 988h2M850 982h2M851 977h2M793 1030h2M787 1032h2" stroke="#f7f8fa" stroke-width="2" fill="none"/>
<path d="M809 1025h2M860 969h2M769 995h2M837 998h2M771 994h2M782 1038h2M836 977h2M849 990h2M784 1036h2M816 981h2M836 977h2M817 982h2M813 980h2M797 1034h2M871 966h2M818 1017h2M769 992h2M763 993h2M763 995h2M796 988h2M847 974h2M794 989h2M772 993h2M783 1037h2M828 978h2M792 988h2M844 968h2M763 996h2M872 958h2M777 988h2M751 997h2M800 974h2M815 1016h2M828 1005h2M818 1016h2M747 1013h2M756 998h2M820 978h2M880 962h2M783 991h2M823 978h2M755 1038h2M836 977h2M871 976h2M762 996h2M810 1025h2M775 993h2M750 1036h2M827 1005h2M874 963h2M869 963h2M793 989h2M763 991h2M842 995h2M841 1018h2M794 989h2M850 988h2M863 961h2M776 1037h2M875 969h2M833 1008h2M867 957h2M814 1036h2M789 1038h2M866 982h2M831 976h2M783 1037h2M818 1015h2M750 1037h2M812 1020h2M798 1033h2M753 1037h2M776 988h2M802 1029h2M759 993h2M822 1010h2M855 985h2M775 1038h2M765 996h2M813 983h2M825 981h2M768 1038h2M861 984h2M840 976h2M832 979h2M874 970h2M777 1038h2M818 983h2M864 964h2" stroke="#000000" stroke-width="2" fill="none"/>
<path d="M796 1036.5h3M748 997.5h3M823 1028.5h3M799 1037.5h3M842 997.5h3M855 970.5h3M804 1029.5h3M761 997.5h3M771 993.5h3M863 968.5h3M832 1013.5h3M797 1039.5h3M812 1029.5h3M839 974.5h3M758 994.5h3M805 978.5h3M861 965.5h3M791 1039.5h3M875 966.5h3M817 980.5h3M747 1024.5h3M776 990.5h3M794 984.5h3M870 961.5h3M811 983.5h3M810 1024.5h3M863 965.5h3M747 1037.5h3M849 988.5h3M814 1022.5h3M830 1001.5h3M823 981.5h3M868 980.5h3M823 981.5h3M826 978.5h3M823 1007.5h3M819 1021.5h3M756 1037.5h3M865 982.5h3M777 992.5h3M852 988.5h3M861 990.5h3M836 978.5h3M849 969.5h3M878 963.5h3M753 946.5h3M841 972.5h3M822 1012.5h3M810 946.5h3M844 962.5h3M876 1002.5h3M813 947.5h3M796 955.5h3M880 974.5h3M847 947.5h3" stroke="#000000" stroke-width="3" fill="none"/>
</g>
<rect x="745.5" y="863.3" width="194.7" height="177.7" fill="none" stroke="#262626" stroke-width="2"/>
<clipPath id="cp25"><rect x="952.6" y="863.3" width="192.4" height="177.7"/></clipPath>
<rect x="952.6" y="863.3" width="192.4" height="177.7" fill="#f7f8fa"/>
<g clip-path="url(#cp25)">
<polygon points="1004,958.3 1008.6,944.5 1020.1,933.1 1033.8,921.6 1047.6,910.1 1061.4,900.9 1070.6,907.8 1076.1,919.3 1071.5,933.1 1056.8,944.5 1038.4,958.3 1020.1,965.2 1006.3,965.2" fill="#0000f0" stroke="#0000f0" stroke-width="1.6" stroke-linejoin="round"/>
<path d="M1057 906h2M1019 966h2M1027 958h2M1009 961h2M1028 931h2M1070 934h2M1043 955h2M1051 914h2M1062 937h2M1071 917h2M1041 921h2M1007 953h2M1063 908h2M1032 924h2M1010 951h2M1023 935h2M1014 941h2M1040 955h2M1011 946h2M1047 915h2" stroke="#f7f8fa" stroke-width="2" fill="none"/>
<path d="M1066 901h2M1074 929h2M1084 909h2M1045 959h2M1073 936h2M1010 968h2M1007 935h2M1022 927h2M1078 917h2M996 956h2M1052 959h2M1028 926h2M1031 976h2M1027 928h2M1075 929h2M1004 958h2M1084 919h2M1005 974h2M1047 908h2M1010 943h2M1007 922h2M1008 967h2M1005 950h2M1037 964h2M1058 898h2M1004 958h2M1075 939h2M1015 938h2M1025 926h2M1005 966h2M1005 962h2M1029 924h2M1046 956h2M1047 960h2M1039 917h2M1057 946h2M1076 911h2M1055 952h2M1040 916h2M1042 906h2M1000 945h2M1057 904h2M1066 904h2M1024 973h2M1024 968h2M1023 930h2M1074 911h2M1005 942h2M1003 960h2M1060 944h2M1077 919h2M1057 949h2M1079 934h2M1063 893h2M1015 966h2M1012 941h2M1057 946h2M1055 947h2M1039 911h2M1025 965h2M1077 922h2M1029 963h2" stroke="#0000f0" stroke-width="2" fill="none"/>
<path d="M1045 908.5h3M1036 920.5h3M1031 913.5h3M1065 902.5h3M1030 966.5h3M1052 950.5h3M1081 912.5h3M998 954.5h3M1006 967.5h3M1021 974.5h3M1072 907.5h3M1006 949.5h3M1022 933.5h3M1007 948.5h3M1063 941.5h3M1005 948.5h3M1007 971.5h3M1024 925.5h3M1033 910.5h3M1036 920.5h3M1077 920.5h3M1044 976.5h3M1013 933.5h3M1061 890.5h3M1085 896.5h3M1047 898.5h3M1034 906.5h3M1085 889.5h3M1080 973.5h3M1081 976.5h3M998 953.5h3M1039 916.5h3M1080 937.5h3" stroke="#1c1c9a" stroke-width="3" fill="none"/>
<path d="M1077 922h2M1133 952h2M1118 948h2M1097 939h2M1089 879h2M1083 889h2M1094 942h2M1082 905h2M1064 898h2M1125 955h2M1132 930h2M1138 925h2M1128 879h2M1119 959h2M1131 899h2M1134 883h2M1078 880h2M1106 961h2M1135 871h2M1095 922h2M1098 952h2M1120 876h2M1097 913h2M1078 885h2M1064 932h2M1132 885h2M1097 935h2" stroke="#0000f0" stroke-width="2" fill="none"/>
<path d="M1110 954.5h3M1137 939.5h3M1111 934.5h3M1101 913.5h3M1118 925.5h3M1120 900.5h3M1104 949.5h3M1132 894.5h3M1067 882.5h3M1070 880.5h3M1075 921.5h3M1120 939.5h3M1081 890.5h3M1069 933.5h3M1108 940.5h3M1139 893.5h3M1109 930.5h3M1108 950.5h3M1075 900.5h3M1108 901.5h3M1123 878.5h3M1088 915.5h3M1114 882.5h3" stroke="#1c1c9a" stroke-width="3" fill="none"/>
<path d="M1102 929h2M1070 928h2M1089 940h2M1077 934h2M1099 939h2M1086 916h2M1101 924h2M1090 919h2M1099 924h2M1087 937h2M1099 943h2M1076 923h2M1094 941h2M1071 917h2M1075 934h2M1101 939h2M1104 937h2M1071 912h2M1090 931h2M1105 943h2M1080 935h2M1082 931h2M1091 928h2M1097 925h2M1094 918h2M1086 933h2M1072 928h2M1109 931h2M1074 925h2M1108 928h2M1091 939h2M1098 946h2M1076 929h2M1087 943h2M1093 945h2M1097 938h2M1087 940h2M1103 944h2M1081 933h2M1098 935h2M1105 933h2M1084 940h2M1075 925h2M1087 929h2M1104 945h2M1098 926h2" stroke="#0000f0" stroke-width="2" fill="none"/>
<path d="M1086 916.5h3M1105 934.5h3M1077 921.5h3M1087 928.5h3M1090 926.5h3M1071 929.5h3M1086 932.5h3M1079 924.5h3M1107 929.5h3M1090 944.5h3M1090 932.5h3M1074 937.5h3M1109 938.5h3M1072 926.5h3M1081 930.5h3M1085 931.5h3M1092 918.5h3M1071 913.5h3M1105 937.5h3M1102 938.5h3M1079 919.5h3M1084 940.5h3M1075 924.5h3M1074 920.5h3" stroke="#1c1c9a" stroke-width="3" fill="none"/>
<polygon points="955.8,1011.1 969.6,997.3 987.9,988.1 1006.3,976.7 1024.7,967.5 1038.4,965.2 1033.8,976.7 1024.7,985.9 1015.5,1001.9 1006.3,1020.3 997.1,1034.1 978.8,1038.7 960.4,1034.1 955.8,1024.9" fill="#000000" stroke="#000000" stroke-width="1.6" stroke-linejoin="round"/>
<path d="M1033 975h2M977 999h2M1007 1010h2M1023 975h2M959 1016h2M988 994h2M994 1035h2M975 998h2M982 1035h2M963 1006h2M1007 1009h2M987 1033h2M1001 1022h2M1009 1015h2M962 1033h2M1024 985h2M963 1033h2M1003 1019h2M1024 988h2M960 1027h2M997 1033h2M1005 979h2M1019 992h2" stroke="#f7f8fa" stroke-width="2" fill="none"/>
<path d="M1046 986h2M1016 1029h2M1013 971h2M961 1036h2M1030 998h2M1033 958h2M979 988h2M1037 971h2M955 1018h2M1037 966h2M1017 1004h2M1024 969h2M1010 1015h2M1003 1029h2M1007 970h2M1025 968h2M1019 966h2M1039 967h2M965 1037h2M976 992h2M1000 978h2M1036 958h2M1015 969h2M1008 976h2M991 1037h2M967 993h2M1034 963h2M1040 980h2M993 1037h2M1029 985h2M971 998h2M1024 1002h2M1031 981h2M1040 987h2M1036 979h2M990 986h2M1031 982h2M1012 969h2M1029 988h2M954 1033h2M958 1033h2M956 1036h2M1035 966h2M1035 966h2M1036 975h2M1048 958h2M958 1007h2M993 985h2M990 981h2M958 1004h2M1044 981h2M996 975h2M1009 1016h2M1041 961h2M1008 976h2M959 995h2M1004 1024h2M964 996h2M976 991h2M974 994h2M1044 976h2M1025 991h2" stroke="#000000" stroke-width="2" fill="none"/>
<path d="M1010 974.5h3M1037 974.5h3M1015 1005.5h3M1034 990.5h3M1003 970.5h3M1006 1022.5h3M1027 994.5h3M963 1000.5h3M1024 967.5h3M1033 979.5h3M1017 1007.5h3M989 985.5h3M1040 977.5h3M1037 1006.5h3M1028 988.5h3M1035 978.5h3M962 1036.5h3M955 1018.5h3M979 990.5h3M957 1007.5h3M1012 1022.5h3M1047 969.5h3M1028 987.5h3M987 980.5h3M995 974.5h3M987 988.5h3M1035 978.5h3M964 1003.5h3M1001 1031.5h3M1028 984.5h3M955 1034.5h3M969 997.5h3M1042 957.5h3M983 988.5h3M955 1012.5h3M963 1004.5h3M1016 970.5h3M1017 1003.5h3M995 947.5h3M1002 972.5h3M996 946.5h3M1036 1025.5h3M1028 1003.5h3M986 978.5h3M1027 1003.5h3M981 989.5h3M971 945.5h3M958 957.5h3" stroke="#000000" stroke-width="3" fill="none"/>
<path d="M1061 985h2M1058 971h2M1036 999h2M1022 994h2M1054 987h2M1060 988h2M1052 980h2M1057 975h2M1057 985h2M1062 977h2M1023 1006h2M1058 989h2M1060 972h2M1041 999h2" stroke="#000000" stroke-width="2" fill="none"/>
<path d="M1057 989.5h3M1054 965.5h3M1021 974.5h3M1061 1000.5h3M1056 980.5h3M1048 970.5h3" stroke="#000000" stroke-width="3" fill="none"/>
</g>
<rect x="952.6" y="863.3" width="192.4" height="177.7" fill="none" stroke="#262626" stroke-width="2"/>
<clipPath id="cp26"><rect x="1157.8" y="863.3" width="194.2" height="177.7"/></clipPath>
<rect x="1157.8" y="863.3" width="194.2" height="177.7" fill="#f7f8fa"/>
<g clip-path="url(#cp26)">
<polygon points="1183.1,944.5 1190,933.1 1203.7,923.9 1222.1,917 1240.5,912.4 1254.2,914.7 1268,919.3 1277.2,928.5 1272.6,939.9 1258.8,946.8 1240.5,956 1222.1,962.9 1203.7,962.9 1187.7,956" fill="#0000f0" stroke="#0000f0" stroke-width="1.6" stroke-linejoin="round"/>
<path d="M1200 962h2M1205 930h2M1230 917h2M1210 962h2M1192 953h2M1207 964h2M1187 948h2M1255 919h2M1190 952h2M1230 960h2M1244 914h2M1266 924h2M1203 928h2M1228 958h2M1252 947h2M1187 940h2M1266 941h2M1218 924h2M1185 945h2M1275 933h2M1254 918h2M1232 956h2" stroke="#f7f8fa" stroke-width="2" fill="none"/>
<path d="M1184 944h2M1248 954h2M1194 960h2M1261 917h2M1198 964h2M1209 968h2M1186 956h2M1269 920h2M1213 920h2M1185 957h2M1185 961h2M1276 934h2M1246 913h2M1202 974h2M1279 951h2M1251 964h2M1190 928h2M1275 938h2M1219 909h2M1271 919h2M1184 934h2M1264 912h2M1209 964h2M1187 956h2M1180 951h2M1195 926h2M1196 967h2M1223 964h2M1175 940h2M1183 953h2M1256 952h2M1276 920h2M1263 947h2M1209 916h2M1231 968h2M1257 913h2M1232 913h2M1278 931h2M1249 907h2M1205 969h2M1207 965h2M1265 951h2M1259 954h2M1194 930h2M1203 969h2M1197 962h2M1221 915h2M1236 907h2M1196 925h2M1215 920h2M1187 956h2M1178 940h2M1227 915h2M1218 969h2M1277 932h2M1226 911h2M1187 970h2M1193 927h2M1233 960h2M1215 964h2M1247 959h2M1214 918h2M1243 957h2M1249 954h2" stroke="#0000f0" stroke-width="2" fill="none"/>
<path d="M1203 968.5h3M1230 968.5h3M1223 965.5h3M1187 958.5h3M1188 966.5h3M1278 927.5h3M1182 945.5h3M1208 964.5h3M1216 964.5h3M1225 912.5h3M1193 962.5h3M1263 947.5h3M1176 959.5h3M1281 933.5h3M1208 966.5h3M1226 917.5h3M1204 924.5h3M1187 933.5h3M1201 924.5h3M1269 921.5h3M1270 948.5h3M1202 925.5h3M1281 943.5h3M1183 942.5h3M1245 969.5h3M1184 930.5h3M1249 958.5h3M1261 951.5h3M1198 965.5h3M1268 916.5h3M1271 946.5h3M1172 933.5h3M1297 934.5h3M1265 912.5h3M1185 915.5h3M1226 964.5h3M1227 908.5h3M1295 935.5h3M1176 966.5h3M1295 899.5h3" stroke="#1c1c9a" stroke-width="3" fill="none"/>
<path d="M1269 903h2M1331 887h2M1312 919h2M1273 885h2M1299 882h2M1252 929h2M1325 906h2M1260 928h2M1309 927h2M1249 947h2M1326 901h2M1244 880h2M1279 941h2M1309 902h2M1325 921h2M1265 920h2M1229 895h2M1308 947h2M1311 915h2M1337 943h2M1312 892h2M1309 929h2M1253 929h2M1329 912h2M1325 884h2M1258 933h2M1334 889h2" stroke="#0000f0" stroke-width="2" fill="none"/>
<path d="M1323 900.5h3M1230 886.5h3M1332 913.5h3M1282 896.5h3M1270 927.5h3M1279 894.5h3M1292 933.5h3M1298 887.5h3M1235 879.5h3M1290 945.5h3M1257 940.5h3M1321 943.5h3M1243 922.5h3" stroke="#1c1c9a" stroke-width="3" fill="none"/>
<polygon points="1160.1,997.3 1176.2,992.7 1194.5,985.9 1212.9,979 1226.7,967.5 1235.9,967.5 1231.3,983.6 1224.4,997.3 1219.8,1015.7 1217.5,1029.5 1199.1,1036.4 1180.8,1036.4 1160.1,1029.5" fill="#000000" stroke="#000000" stroke-width="1.6" stroke-linejoin="round"/>
<path d="M1217 1011h2M1210 1029h2M1223 996h2M1219 1010h2M1197 986h2M1220 1001h2M1194 1034h2M1177 1033h2M1175 1031h2M1219 1002h2M1229 982h2M1167 1029h2M1183 996h2M1202 986h2M1183 995h2M1233 974h2M1232 978h2M1175 1032h2M1166 1030h2M1217 1026h2M1222 997h2M1185 993h2M1217 1021h2" stroke="#f7f8fa" stroke-width="2" fill="none"/>
<path d="M1230 967h2M1169 1038h2M1218 976h2M1176 1036h2M1186 987h2M1211 979h2M1223 1027h2M1164 1035h2M1169 1038h2M1172 989h2M1213 977h2M1175 990h2M1206 1037h2M1181 990h2M1196 985h2M1159 993h2M1244 984h2M1225 1001h2M1236 966h2M1170 1037h2M1205 974h2M1229 1012h2M1221 969h2M1237 977h2M1235 966h2M1222 968h2M1230 995h2M1172 992h2M1229 1009h2M1234 978h2M1195 979h2M1227 967h2M1221 1013h2M1210 964h2M1197 983h2M1161 997h2M1163 996h2M1226 1002h2M1226 997h2M1240 967h2M1236 977h2M1216 1033h2M1174 1038h2M1209 1036h2M1160 1010h2M1186 985h2M1235 966h2M1234 963h2M1169 992h2M1221 1020h2M1236 966h2M1214 976h2M1167 978h2M1220 1026h2M1234 990h2M1225 1000h2M1159 1028h2M1211 977h2M1204 982h2M1194 975h2M1167 990h2M1220 1032h2M1198 981h2M1240 983h2M1229 968h2M1208 1036h2M1221 1026h2" stroke="#000000" stroke-width="2" fill="none"/>
<path d="M1209 980.5h3M1162 1033.5h3M1219 1031.5h3M1160 1008.5h3M1175 1035.5h3M1206 1037.5h3M1170 1034.5h3M1231 1001.5h3M1236 975.5h3M1185 1038.5h3M1215 974.5h3M1237 974.5h3M1219 1034.5h3M1211 1037.5h3M1233 965.5h3M1224 1003.5h3M1205 1036.5h3M1171 994.5h3M1184 989.5h3M1237 997.5h3M1159 1030.5h3M1222 1018.5h3M1212 972.5h3M1213 1032.5h3M1162 989.5h3M1188 982.5h3M1205 1039.5h3M1231 1005.5h3M1226 1037.5h3M1182 986.5h3M1221 1020.5h3M1218 976.5h3M1172 1035.5h3M1178 954.5h3M1160 992.5h3M1227 1030.5h3M1250 990.5h3M1225 999.5h3M1183 969.5h3M1253 989.5h3M1249 968.5h3M1202 953.5h3M1189 959.5h3" stroke="#000000" stroke-width="3" fill="none"/>
</g>
<rect x="1157.8" y="863.3" width="194.2" height="177.7" fill="none" stroke="#262626" stroke-width="2"/>
<clipPath id="cp31"><rect x="121.5" y="1050.5" width="194.4" height="178.7"/></clipPath>
<rect x="121.5" y="1050.5" width="194.4" height="178.7" fill="#f7f8fa"/>
<g clip-path="url(#cp31)">
<polygon points="202.1,1091.1 215.9,1086.5 239,1081.8 266.6,1077.2 294.2,1072.6 312.7,1071.7 312.7,1079.5 294.2,1084.2 275.8,1091.1 262,1098 248.2,1104.9 239,1114.1 234.4,1123.3 225.2,1132.5 215.9,1127.9 213.6,1114.1 209,1100.3 202.1,1095.7" fill="#e00404" stroke="#e00404" stroke-width="1.6" stroke-linejoin="round"/>
<path d="M216 1112h2M307 1082h2M216 1113h2M263 1084h2M289 1085h2M296 1074h2M283 1077h2M262 1098h2M233 1120h2M249 1083h2M233 1088h2M253 1100h2M275 1090h2M282 1080h2M231 1087h2M261 1099h2M235 1118h2M214 1093h2M259 1084h2M280 1077h2M271 1078h2M213 1109h2M248 1084h2M302 1079h2M281 1087h2M243 1083h2M234 1086h2" stroke="#f7f8fa" stroke-width="2" fill="none"/>
<path d="M266 1076h2M197 1088h2M254 1078h2M253 1105h2M308 1082h2M211 1089h2M227 1134h2M297 1088h2M310 1083h2M221 1133h2M278 1072h2M237 1081h2M212 1113h2M263 1100h2M237 1121h2M288 1072h2M276 1076h2M213 1088h2M195 1090h2M286 1093h2M294 1088h2M199 1095h2M244 1111h2M230 1083h2M262 1103h2M247 1110h2M208 1108h2M311 1069h2M257 1076h2M193 1127h2M230 1129h2M263 1078h2M262 1104h2M192 1073h2M278 1092h2M213 1126h2M251 1106h2M269 1100h2M249 1111h2M301 1085h2M213 1132h2M213 1125h2M199 1097h2M256 1078h2M290 1089h2M253 1076h2M216 1132h2M232 1079h2M288 1070h2M306 1070h2M228 1137h2M299 1073h2M217 1081h2M306 1070h2M236 1082h2M258 1101h2M210 1088h2M233 1081h2M265 1103h2M256 1079h2M285 1072h2M208 1105h2M258 1079h2M262 1099h2M265 1105h2M283 1075h2M240 1070h2M313 1088h2M240 1082h2M256 1073h2M250 1105h2M241 1128h2M226 1136h2M208 1103h2M308 1073h2M202 1098h2M261 1103h2M211 1086h2M278 1069h2M211 1125h2M281 1071h2M244 1082h2M233 1135h2" stroke="#e00404" stroke-width="2" fill="none"/>
<path d="M293 1091.5h3M221 1134.5h3M206 1107.5h3M278 1063.5h3M200 1093.5h3M287 1091.5h3M199 1096.5h3M238 1121.5h3M230 1079.5h3M287 1088.5h3M283 1069.5h3M260 1102.5h3M211 1087.5h3M288 1091.5h3M285 1074.5h3M238 1119.5h3M284 1074.5h3M204 1100.5h3M291 1088.5h3M302 1064.5h3M281 1091.5h3M287 1093.5h3M241 1077.5h3M282 1073.5h3M244 1111.5h3M216 1130.5h3M202 1102.5h3M222 1085.5h3M273 1095.5h3M273 1096.5h3M235 1081.5h3M211 1087.5h3M305 1092.5h3M205 1108.5h3M266 1139.5h3M294 1117.5h3M191 1144.5h3M195 1090.5h3M237 1130.5h3M251 1070.5h3M204 1141.5h3M295 1086.5h3M286 1105.5h3" stroke="#a01010" stroke-width="3" fill="none"/>
<path d="M249 1100h2M301 1085h2M209 1126h2M209 1111h2M196 1097h2M284 1108h2M305 1087h2" stroke="#e00404" stroke-width="2" fill="none"/>
<path d="M211 1107.5h3M224 1127.5h3M233 1105.5h3M303 1098.5h3M310 1096.5h3" stroke="#a01010" stroke-width="3" fill="none"/>
<polygon points="158.4,1183.2 174.5,1171.7 192.9,1160.2 211.3,1150.9 229.8,1141.7 239,1144 234.4,1155.5 220.5,1167.1 206.7,1178.6 192.9,1190.1 179.1,1199.3 165.3,1197 158.4,1190.1" fill="#000000" stroke="#000000" stroke-width="1.6" stroke-linejoin="round"/>
<path d="M235 1152h2M163 1188h2M211 1173h2M199 1180h2M235 1149h2M199 1159h2M162 1194h2M219 1163h2M221 1168h2M213 1153h2M178 1174h2M229 1160h2M206 1156h2M173 1195h2M234 1156h2M185 1191h2M159 1191h2M221 1165h2M228 1146h2M166 1181h2" stroke="#f7f8fa" stroke-width="2" fill="none"/>
<path d="M208 1149h2M226 1139h2M215 1147h2M180 1200h2M161 1179h2M211 1177h2M174 1200h2M181 1207h2M214 1143h2M159 1182h2M192 1193h2M192 1194h2M195 1190h2M156 1185h2M207 1150h2M238 1143h2M160 1196h2M171 1175h2M201 1147h2M200 1155h2M187 1200h2M158 1192h2M219 1171h2M180 1202h2M196 1148h2M193 1192h2M195 1193h2M162 1202h2M212 1184h2M214 1175h2M170 1174h2M158 1186h2M204 1184h2M193 1152h2M211 1187h2M224 1142h2M207 1181h2M215 1150h2M226 1140h2M160 1199h2M208 1153h2M159 1195h2M186 1196h2M205 1148h2M204 1182h2M229 1165h2M242 1142h2M191 1200h2M159 1198h2M189 1199h2M202 1184h2M237 1135h2M210 1151h2M166 1201h2M211 1177h2M166 1204h2M207 1144h2M220 1173h2M173 1203h2M177 1207h2M209 1153h2M174 1201h2M193 1156h2M171 1172h2" stroke="#000000" stroke-width="2" fill="none"/>
<path d="M163 1176.5h3M193 1160.5h3M204 1198.5h3M200 1157.5h3M195 1191.5h3M159 1175.5h3M193 1192.5h3M162 1179.5h3M175 1204.5h3M173 1170.5h3M162 1179.5h3M227 1139.5h3M159 1196.5h3M240 1158.5h3M196 1195.5h3M184 1201.5h3M171 1201.5h3M214 1189.5h3M170 1165.5h3M213 1179.5h3M232 1159.5h3M224 1143.5h3M168 1154.5h3M257 1171.5h3M205 1128.5h3M242 1164.5h3M220 1130.5h3M200 1203.5h3M216 1203.5h3M252 1144.5h3M229 1174.5h3M237 1163.5h3" stroke="#000000" stroke-width="3" fill="none"/>
</g>
<rect x="121.5" y="1050.5" width="194.4" height="178.7" fill="none" stroke="#262626" stroke-width="2"/>
<clipPath id="cp32"><rect x="332.5" y="1049.6" width="195.3" height="181.9"/></clipPath>
<rect x="332.5" y="1049.6" width="195.3" height="181.9" fill="#f7f8fa"/>
<g clip-path="url(#cp32)">
<polygon points="414,1132.5 432.4,1118.7 450.9,1104.9 469.3,1091.1 492.3,1074.9 510.7,1058.8 522.3,1056.5 517.6,1068 496.9,1084.2 478.5,1095.7 460.1,1109.5 441.6,1123.3 423.2,1134.8" fill="#e00404" stroke="#e00404" stroke-width="1.6" stroke-linejoin="round"/>
<path d="M517 1068h2M431 1130h2M420 1133h2M461 1105h2M510 1072h2M473 1091h2M484 1092h2M425 1133h2M484 1092h2M518 1064h2M455 1106h2M506 1077h2M463 1101h2M472 1096h2M519 1062h2M436 1126h2M483 1088h2M503 1067h2M501 1069h2M431 1127h2M460 1110h2M478 1091h2M457 1107h2M499 1074h2M419 1130h2M452 1107h2M504 1077h2" stroke="#f7f8fa" stroke-width="2" fill="none"/>
<path d="M425 1116h2M513 1073h2M464 1089h2M517 1057h2M413 1134h2M501 1069h2M493 1075h2M522 1062h2M507 1061h2M508 1078h2M438 1128h2M452 1101h2M426 1140h2M488 1073h2M482 1105h2M505 1083h2M471 1103h2M427 1113h2M428 1121h2M467 1108h2M431 1117h2M469 1082h2M522 1061h2M417 1128h2M477 1084h2M429 1121h2M452 1103h2M443 1127h2M507 1063h2M458 1113h2M513 1073h2M504 1094h2M415 1133h2M466 1116h2M420 1126h2M460 1097h2M477 1082h2M453 1102h2M516 1059h2M429 1120h2M438 1115h2M448 1105h2M451 1094h2M511 1074h2M457 1100h2M518 1069h2M421 1135h2M411 1135h2M430 1117h2M477 1112h2M455 1100h2M436 1136h2M509 1060h2M412 1139h2M518 1058h2M430 1133h2M471 1088h2M439 1128h2M446 1122h2M477 1084h2M511 1077h2M455 1093h2M499 1070h2M430 1120h2M457 1091h2M432 1114h2M486 1074h2M447 1098h2M461 1111h2M473 1101h2M443 1136h2M452 1120h2M504 1055h2M448 1107h2M429 1136h2M414 1134h2M446 1108h2M406 1128h2" stroke="#e00404" stroke-width="2" fill="none"/>
<path d="M434 1111.5h3M493 1064.5h3M520 1074.5h3M461 1110.5h3M417 1135.5h3M428 1120.5h3M511 1076.5h3M406 1128.5h3M502 1059.5h3M452 1119.5h3M428 1133.5h3M480 1098.5h3M464 1090.5h3M454 1102.5h3M457 1113.5h3M509 1057.5h3M490 1093.5h3M493 1091.5h3M495 1091.5h3M448 1103.5h3M503 1059.5h3M511 1079.5h3M483 1081.5h3M513 1075.5h3M481 1081.5h3M463 1097.5h3M447 1121.5h3M460 1118.5h3M495 1069.5h3M490 1097.5h3M423 1122.5h3M523 1054.5h3M460 1111.5h3M426 1122.5h3M459 1115.5h3M466 1112.5h3M482 1059.5h3M406 1141.5h3M470 1091.5h3M477 1055.5h3M502 1082.5h3M427 1089.5h3M402 1056.5h3M492 1121.5h3M435 1060.5h3" stroke="#a01010" stroke-width="3" fill="none"/>
<path d="M502 1086h2M514 1075h2M506 1090h2M460 1086h2" stroke="#e00404" stroke-width="2" fill="none"/>
<path d="M494 1092.5h3M479 1067.5h3M509 1065.5h3M508 1074.5h3M487 1086.5h3M505 1095.5h3" stroke="#a01010" stroke-width="3" fill="none"/>
<polygon points="370.2,1176.3 381.8,1169.4 395.6,1160.2 414,1148.6 432.4,1139.4 450.9,1130.2 446.3,1139.4 432.4,1150.9 418.6,1162.5 404.8,1174 391,1185.5 377.2,1187.8 367.9,1183.2" fill="#000000" stroke="#000000" stroke-width="1.6" stroke-linejoin="round"/>
<path d="M378 1175h2M435 1141h2M420 1149h2M405 1174h2M428 1151h2M381 1188h2M378 1175h2M376 1175h2M432 1150h2M384 1184h2M425 1153h2M405 1159h2M418 1148h2M432 1152h2M387 1170h2M397 1164h2M384 1174h2M447 1134h2M399 1176h2M423 1149h2" stroke="#f7f8fa" stroke-width="2" fill="none"/>
<path d="M394 1185h2M402 1153h2M412 1170h2M442 1126h2M397 1182h2M404 1176h2M390 1192h2M451 1129h2M416 1175h2M386 1162h2M433 1155h2M374 1173h2M420 1163h2M368 1187h2M412 1150h2M385 1188h2M439 1131h2M414 1149h2M364 1182h2M454 1137h2M451 1153h2M417 1170h2M395 1185h2M430 1141h2M448 1137h2M415 1168h2M414 1146h2M412 1172h2M414 1179h2M401 1143h2M418 1148h2M370 1186h2M423 1161h2M391 1193h2M430 1157h2M392 1185h2M394 1186h2M397 1183h2M411 1173h2M381 1190h2M393 1191h2M389 1191h2M418 1140h2M441 1131h2M403 1180h2M378 1191h2M405 1151h2M405 1176h2M428 1165h2M410 1174h2M459 1134h2M444 1133h2M373 1175h2M391 1194h2M434 1154h2M449 1136h2M398 1185h2M428 1157h2M367 1187h2" stroke="#000000" stroke-width="2" fill="none"/>
<path d="M384 1151.5h3M420 1146.5h3M446 1143.5h3M432 1156.5h3M406 1141.5h3M428 1140.5h3M386 1190.5h3M422 1165.5h3M451 1131.5h3M429 1134.5h3M446 1141.5h3M379 1165.5h3M425 1159.5h3M367 1188.5h3M450 1133.5h3M441 1133.5h3M399 1157.5h3M415 1168.5h3M433 1133.5h3M393 1160.5h3M416 1168.5h3M377 1163.5h3M376 1189.5h3M390 1189.5h3M443 1146.5h3M425 1143.5h3M379 1191.5h3M453 1162.5h3M375 1155.5h3M358 1160.5h3M406 1135.5h3M357 1127.5h3M387 1120.5h3M401 1138.5h3M392 1160.5h3M424 1143.5h3M430 1125.5h3" stroke="#000000" stroke-width="3" fill="none"/>
</g>
<rect x="332.5" y="1049.6" width="195.3" height="181.9" fill="none" stroke="#262626" stroke-width="2"/>
<clipPath id="cp33"><rect x="539.8" y="1051.9" width="193.5" height="181"/></clipPath>
<rect x="539.8" y="1051.9" width="193.5" height="181" fill="#f7f8fa"/>
<g clip-path="url(#cp33)">
<polyline points="541.3,1231.4 542.3,1231.4 543.3,1231.4 544.3,1231.4 545.3,1231.4 546.3,1231.4 547.3,1231.4 548.3,1231.4 549.3,1231.4 550.3,1231.4 551.3,1231.4 552.3,1231.4 553.3,1231.4 554.3,1231.4 555.3,1231.4 556.3,1231.4 557.3,1231.4 558.3,1231.4 559.3,1231.4 560.3,1231.4 561.3,1231.4 562.3,1231.4 563.3,1231.4 564.3,1231.3 565.3,1231.3 566.3,1231.2 567.3,1231.2 568.3,1231.1 569.3,1231 570.3,1230.8 571.3,1230.6 572.3,1230.4 573.3,1230.1 574.3,1229.6 575.3,1229.1 576.3,1228.5 577.3,1227.7 578.3,1226.8 579.3,1225.6 580.3,1224.2 581.3,1222.5 582.3,1220.5 583.3,1218.2 584.3,1215.5 585.3,1212.4 586.3,1208.7 587.3,1204.7 588.3,1199.9 589.3,1195.1 590.3,1189.4 591.3,1183.2 592.3,1176.6 593.3,1169.5 594.3,1161.7 595.3,1154.3 596.3,1145.4 597.3,1137 598.3,1128.7 599.3,1119.9 600.3,1112.4 601.3,1103.8 602.3,1096.2 603.3,1090.1 604.3,1082.9 605.3,1077 606.3,1073.6 607.3,1070 608.3,1068 609.3,1066.1 610.3,1065.9 611.3,1066.3 612.3,1069.6 613.3,1071.3 614.3,1074.4 615.3,1078 616.3,1082.5 617.3,1087.9 618.3,1094.3 619.3,1100.3 620.3,1108 621.3,1114.8 622.3,1121.3 623.3,1128.5 624.3,1136.4 625.3,1143.6 626.3,1150.7 627.3,1158 628.3,1164.5 629.3,1171 630.3,1177.1 631.3,1182.4 632.3,1188 633.3,1193.1 634.3,1197.8 635.3,1202.1 636.3,1205.7 637.3,1209.2 638.3,1212.3 639.3,1214.9 640.3,1217.4 641.3,1219.6 642.3,1221.4 643.3,1223.1 644.3,1224.4 645.3,1225.6 646.3,1226.6 647.3,1227.5 648.3,1228.2 649.3,1228.8 650.3,1229.3 651.3,1229.7 652.3,1230.1 653.3,1230.4 654.3,1230.6 655.3,1230.8 656.3,1230.9 657.3,1231 658.3,1231.1 659.3,1231.2 660.3,1231.2 661.3,1231.3 662.3,1231.3 663.3,1231.3 664.3,1231.4 665.3,1231.4 666.3,1231.4 667.3,1231.4 668.3,1231.4 669.3,1231.4 670.3,1231.4 671.3,1231.4 672.3,1231.4 673.3,1231.4 674.3,1231.4 675.3,1231.4 676.3,1231.4 677.3,1231.4 678.3,1231.4 679.3,1231.4 680.3,1231.4 681.3,1231.4 682.3,1231.4 683.3,1231.4 684.3,1231.4 685.3,1231.4 686.3,1231.4 687.3,1231.4 688.3,1231.4 689.3,1231.4 690.3,1231.4 691.3,1231.4 692.3,1231.4 693.3,1231.4 694.3,1231.4 695.3,1231.4 696.3,1231.4 697.3,1231.4 698.3,1231.4 699.3,1231.4 700.3,1231.4 701.3,1231.4 702.3,1231.4 703.3,1231.4 704.3,1231.4 705.3,1231.4 706.3,1231.4 707.3,1231.4 708.3,1231.4 709.3,1231.4 710.3,1231.4 711.3,1231.4 712.3,1231.4 713.3,1231.4 714.3,1231.4 715.3,1231.4 716.3,1231.4 717.3,1231.4 718.3,1231.4 719.3,1231.4 720.3,1231.4 721.3,1231.4 722.3,1231.4 723.3,1231.4 724.3,1231.4 725.3,1231.4 726.3,1231.4 727.3,1231.4 728.3,1231.4 729.3,1231.4 730.3,1231.4 731.3,1231.4" fill="none" stroke="#1e1e1e" stroke-width="1.2" stroke-linejoin="round"/>
<polyline points="541.3,1231.4 542.3,1231.4 543.3,1231.4 544.3,1231.4 545.3,1231.4 546.3,1231.4 547.3,1231.4 548.3,1231.4 549.3,1231.4 550.3,1231.4 551.3,1231.4 552.3,1231.4 553.3,1231.4 554.3,1231.4 555.3,1231.4 556.3,1231.4 557.3,1231.4 558.3,1231.4 559.3,1231.4 560.3,1231.4 561.3,1231.4 562.3,1231.4 563.3,1231.4 564.3,1231.4 565.3,1231.4 566.3,1231.4 567.3,1231.4 568.3,1231.4 569.3,1231.4 570.3,1231.4 571.3,1231.4 572.3,1231.4 573.3,1231.4 574.3,1231.4 575.3,1231.4 576.3,1231.4 577.3,1231.4 578.3,1231.4 579.3,1231.4 580.3,1231.4 581.3,1231.4 582.3,1231.4 583.3,1231.4 584.3,1231.4 585.3,1231.4 586.3,1231.4 587.3,1231.4 588.3,1231.4 589.3,1231.4 590.3,1231.4 591.3,1231.4 592.3,1231.4 593.3,1231.4 594.3,1231.4 595.3,1231.4 596.3,1231.4 597.3,1231.4 598.3,1231.4 599.3,1231.4 600.3,1231.4 601.3,1231.4 602.3,1231.4 603.3,1231.4 604.3,1231.3 605.3,1231.3 606.3,1231.3 607.3,1231.2 608.3,1231.2 609.3,1231.1 610.3,1231 611.3,1230.9 612.3,1230.8 613.3,1230.6 614.3,1230.4 615.3,1230.2 616.3,1229.9 617.3,1229.5 618.3,1229.1 619.3,1228.6 620.3,1228 621.3,1227.4 622.3,1226.5 623.3,1225.6 624.3,1224.5 625.3,1223.3 626.3,1221.9 627.3,1220.2 628.3,1218.3 629.3,1216.2 630.3,1213.8 631.3,1211.1 632.3,1208.3 633.3,1204.9 634.3,1201.6 635.3,1197.3 636.3,1193.1 637.3,1188.6 638.3,1183.8 639.3,1179 640.3,1173.2 641.3,1167.5 642.3,1161.7 643.3,1154.9 644.3,1148.7 645.3,1142 646.3,1135.1 647.3,1128.9 648.3,1122 649.3,1115.1 650.3,1109 651.3,1101.8 652.3,1096.2 653.3,1090.3 654.3,1085.8 655.3,1081.2 656.3,1077.6 657.3,1072.6 658.3,1070.7 659.3,1068.3 660.3,1066.3 661.3,1065.6 662.3,1065.5 663.3,1066.5 664.3,1067.6 665.3,1070.1 666.3,1071.4 667.3,1074.1 668.3,1078.1 669.3,1082.5 670.3,1086 671.3,1090.5 672.3,1094.8 673.3,1101 674.3,1107.3 675.3,1112.9 676.3,1118.8 677.3,1124.8 678.3,1131 679.3,1136.9 680.3,1143.1 681.3,1149.2 682.3,1155 683.3,1159.9 684.3,1166 685.3,1171.2 686.3,1176.6 687.3,1181 688.3,1186 689.3,1189.8 690.3,1194 691.3,1197.9 692.3,1201.2 693.3,1204.6 694.3,1207.5 695.3,1210.3 696.3,1212.6 697.3,1215 698.3,1216.9 699.3,1218.9 700.3,1220.5 701.3,1221.9 702.3,1223.2 703.3,1224.3 704.3,1225.4 705.3,1226.3 706.3,1227 707.3,1227.7 708.3,1228.3 709.3,1228.8 710.3,1229.2 711.3,1229.6 712.3,1229.9 713.3,1230.1 714.3,1230.4 715.3,1230.6 716.3,1230.7 717.3,1230.8 718.3,1231 719.3,1231 720.3,1231.1 721.3,1231.2 722.3,1231.2 723.3,1231.3 724.3,1231.3 725.3,1231.3 726.3,1231.4 727.3,1231.4 728.3,1231.4 729.3,1231.4 730.3,1231.4 731.3,1231.4" fill="none" stroke="#4444e8" stroke-width="1.2" stroke-linejoin="round"/>
<polyline points="541.3,1231.4 542.3,1231.4 543.3,1231.4 544.3,1231.4 545.3,1231.4 546.3,1231.4 547.3,1231.4 548.3,1231.4 549.3,1231.4 550.3,1231.4 551.3,1231.4 552.3,1231.4 553.3,1231.4 554.3,1231.4 555.3,1231.4 556.3,1231.4 557.3,1231.4 558.3,1231.4 559.3,1231.4 560.3,1231.4 561.3,1231.4 562.3,1231.4 563.3,1231.4 564.3,1231.4 565.3,1231.4 566.3,1231.4 567.3,1231.4 568.3,1231.4 569.3,1231.4 570.3,1231.4 571.3,1231.4 572.3,1231.4 573.3,1231.4 574.3,1231.4 575.3,1231.4 576.3,1231.4 577.3,1231.4 578.3,1231.4 579.3,1231.4 580.3,1231.4 581.3,1231.4 582.3,1231.4 583.3,1231.4 584.3,1231.4 585.3,1231.4 586.3,1231.4 587.3,1231.4 588.3,1231.4 589.3,1231.4 590.3,1231.4 591.3,1231.4 592.3,1231.4 593.3,1231.4 594.3,1231.4 595.3,1231.4 596.3,1231.4 597.3,1231.4 598.3,1231.4 599.3,1231.4 600.3,1231.4 601.3,1231.4 602.3,1231.4 603.3,1231.4 604.3,1231.4 605.3,1231.4 606.3,1231.4 607.3,1231.4 608.3,1231.4 609.3,1231.4 610.3,1231.4 611.3,1231.4 612.3,1231.4 613.3,1231.4 614.3,1231.4 615.3,1231.4 616.3,1231.4 617.3,1231.4 618.3,1231.4 619.3,1231.4 620.3,1231.3 621.3,1231.3 622.3,1231.2 623.3,1231.2 624.3,1231.1 625.3,1230.9 626.3,1230.8 627.3,1230.6 628.3,1230.3 629.3,1229.9 630.3,1229.5 631.3,1229 632.3,1228.3 633.3,1227.4 634.3,1226.4 635.3,1225.2 636.3,1223.7 637.3,1221.9 638.3,1219.8 639.3,1217.4 640.3,1214.4 641.3,1211.2 642.3,1207.5 643.3,1203.2 644.3,1198.4 645.3,1193.2 646.3,1187.4 647.3,1181.1 648.3,1174.6 649.3,1167.1 650.3,1159.9 651.3,1151.9 652.3,1143.6 653.3,1135.5 654.3,1126.8 655.3,1119.6 656.3,1112 657.3,1103.3 658.3,1096.3 659.3,1090.5 660.3,1084.4 661.3,1080 662.3,1077 663.3,1073.9 664.3,1071.5 665.3,1073.2 666.3,1073.1 667.3,1073 668.3,1074.8 669.3,1076.4 670.3,1077.8 671.3,1081.4 672.3,1082.7 673.3,1085 674.3,1089.1 675.3,1092.6 676.3,1096.8 677.3,1101.8 678.3,1105.2 679.3,1110.3 680.3,1114 681.3,1119 682.3,1125 683.3,1128.5 684.3,1133.4 685.3,1138.6 686.3,1143.8 687.3,1148.3 688.3,1154.1 689.3,1158.6 690.3,1162.6 691.3,1166.9 692.3,1171.8 693.3,1175.8 694.3,1180.1 695.3,1183.6 696.3,1187.7 697.3,1191.2 698.3,1194.5 699.3,1197.6 700.3,1200.5 701.3,1203.1 702.3,1205.9 703.3,1208.3 704.3,1210.7 705.3,1212.6 706.3,1214.6 707.3,1216.3 708.3,1217.8 709.3,1219.3 710.3,1220.7 711.3,1221.9 712.3,1223 713.3,1224 714.3,1224.9 715.3,1225.7 716.3,1226.4 717.3,1227.1 718.3,1227.6 719.3,1228.1 720.3,1228.6 721.3,1228.9 722.3,1229.3 723.3,1229.6 724.3,1229.9 725.3,1230.1 726.3,1230.3 727.3,1230.5 728.3,1230.6 729.3,1230.7 730.3,1230.8 731.3,1230.9" fill="none" stroke="#dd3a3a" stroke-width="1.2" stroke-linejoin="round"/>
</g>
<rect x="539.8" y="1051.9" width="193.5" height="181" fill="none" stroke="#262626" stroke-width="2"/>
<clipPath id="cp34"><rect x="745.5" y="1050.5" width="194.7" height="179.1"/></clipPath>
<rect x="745.5" y="1050.5" width="194.7" height="179.1" fill="#f7f8fa"/>
<g clip-path="url(#cp34)">
<polygon points="785.9,1178.1 795.1,1169 813.5,1162.1 836.4,1157.5 859.4,1152.9 886.9,1148.3 914.5,1146 940.2,1143.7 940.2,1182.7 914.5,1185 886.9,1187.3 859.4,1187.3 841,1182.7 822.6,1182.7 804.3,1185 788.2,1182.7" fill="#0000f0" stroke="#0000f0" stroke-width="1.6" stroke-linejoin="round"/>
<path d="M849 1183h2M916 1184h2M808 1166h2M860 1185h2M916 1151h2M910 1152h2M904 1183h2M885 1150h2M872 1186h2M874 1186h2M816 1183h2M840 1182h2M917 1182h2M825 1181h2M819 1167h2M836 1181h2M824 1181h2M856 1186h2M863 1154h2M829 1180h2M891 1184h2M861 1186h2M882 1151h2M795 1181h2M914 1151h2M871 1187h2M884 1152h2M847 1159h2M853 1155h2M890 1187h2M847 1181h2M819 1182h2M879 1153h2M932 1183h2M836 1160h2" stroke="#f7f8fa" stroke-width="2" fill="none"/>
<path d="M878 1196h2M794 1189h2M826 1186h2M801 1166h2M930 1143h2M855 1149h2M929 1141h2M821 1187h2M806 1187h2M785 1176h2M797 1166h2M820 1193h2M893 1138h2M866 1152h2M880 1189h2M783 1179h2M935 1185h2M899 1192h2M795 1187h2M859 1149h2M805 1165h2M916 1187h2M870 1199h2M783 1175h2M895 1148h2M790 1186h2M838 1189h2M864 1152h2M781 1187h2M897 1193h2M812 1189h2M826 1156h2M786 1176h2M854 1150h2M844 1150h2M898 1147h2M858 1147h2M837 1186h2M860 1190h2M916 1146h2M849 1188h2M839 1157h2M921 1139h2M818 1188h2M903 1187h2M818 1154h2M859 1189h2M794 1198h2M800 1167h2M842 1185h2M898 1145h2M795 1185h2M925 1143h2M866 1193h2M913 1190h2M858 1188h2M845 1192h2M798 1168h2M823 1154h2M843 1187h2M779 1187h2M836 1149h2M849 1189h2M836 1157h2M924 1144h2M924 1146h2M870 1148h2M788 1170h2M935 1145h2M859 1190h2M913 1189h2M909 1189h2M873 1192h2M794 1198h2M815 1185h2M801 1164h2M831 1189h2M817 1187h2M923 1145h2M932 1145h2M929 1142h2M807 1187h2M806 1163h2M926 1142h2M912 1140h2M836 1191h2M892 1144h2M918 1141h2M936 1186h2M883 1147h2M828 1153h2M866 1147h2M795 1187h2M915 1188h2M851 1189h2M783 1179h2M935 1188h2M936 1185h2M800 1197h2M828 1157h2M934 1145h2M812 1189h2M812 1187h2M822 1184h2M878 1141h2M917 1188h2M800 1159h2M816 1162h2M798 1168h2" stroke="#0000f0" stroke-width="2" fill="none"/>
<path d="M898 1190.5h3M853 1190.5h3M928 1191.5h3M856 1154.5h3M865 1189.5h3M926 1135.5h3M902 1140.5h3M862 1150.5h3M864 1149.5h3M859 1153.5h3M849 1153.5h3M846 1187.5h3M896 1189.5h3M889 1191.5h3M849 1151.5h3M898 1136.5h3M857 1151.5h3M838 1156.5h3M824 1160.5h3M819 1160.5h3M929 1189.5h3M796 1185.5h3M896 1189.5h3M905 1145.5h3M918 1145.5h3M815 1152.5h3M935 1143.5h3M901 1197.5h3M815 1159.5h3M933 1144.5h3M910 1144.5h3M845 1185.5h3M843 1186.5h3M859 1189.5h3M865 1189.5h3M871 1143.5h3M873 1151.5h3M880 1146.5h3M847 1154.5h3M897 1192.5h3M925 1146.5h3M855 1141.5h3M789 1195.5h3M790 1141.5h3M811 1146.5h3M926 1191.5h3M865 1142.5h3M777 1181.5h3M775 1142.5h3M845 1145.5h3M848 1187.5h3" stroke="#1c1c9a" stroke-width="3" fill="none"/>
<path d="M905 1140h2M866 1147h2M883 1110h2M931 1128h2M927 1110h2M830 1136h2M883 1109h2M891 1115h2M910 1147h2M816 1154h2M937 1097h2M917 1153h2M892 1140h2M872 1142h2M847 1116h2M866 1154h2M832 1133h2M827 1128h2M850 1144h2M933 1152h2M936 1142h2M936 1139h2M934 1089h2M822 1157h2M839 1133h2M900 1133h2M822 1163h2M885 1146h2M872 1116h2M917 1109h2M849 1156h2M919 1143h2M815 1133h2M933 1149h2M824 1158h2M932 1091h2M911 1134h2M842 1159h2M909 1140h2M836 1156h2" stroke="#0000f0" stroke-width="2" fill="none"/>
<path d="M899 1154.5h3M908 1107.5h3M857 1132.5h3M917 1097.5h3M810 1162.5h3M836 1154.5h3M913 1114.5h3M888 1124.5h3M812 1158.5h3M815 1131.5h3M923 1131.5h3M858 1128.5h3M833 1133.5h3M835 1124.5h3M913 1120.5h3M841 1155.5h3M930 1112.5h3M863 1122.5h3M867 1158.5h3M834 1137.5h3" stroke="#1c1c9a" stroke-width="3" fill="none"/>
<polygon points="746.9,1201.1 767.5,1196.5 795.1,1189.6 818.1,1182.7 841,1175.9 864,1169 873.1,1171.3 859.4,1180.4 845.6,1189.6 836.4,1201.1 831.8,1214.9 827.2,1228.7 746.9,1228.7" fill="#000000" stroke="#000000" stroke-width="1.6" stroke-linejoin="round"/>
<path d="M839 1192h2M858 1177h2M839 1194h2M820 1188h2M786 1196h2M850 1176h2M828 1215h2M833 1211h2M840 1178h2M828 1216h2M854 1176h2M864 1175h2M813 1187h2M853 1182h2M837 1194h2M763 1200h2M870 1174h2M794 1195h2M779 1198h2M776 1196h2M824 1183h2M818 1187h2M808 1188h2M834 1204h2M849 1184h2M835 1180h2M823 1185h2M841 1178h2M823 1183h2M763 1201h2M780 1199h2" stroke="#f7f8fa" stroke-width="2" fill="none"/>
<path d="M826 1173h2M876 1166h2M771 1191h2M869 1170h2M856 1172h2M835 1174h2M787 1181h2M840 1198h2M748 1197h2M823 1174h2M840 1203h2M838 1201h2M786 1192h2M834 1211h2M812 1185h2M801 1185h2M836 1217h2M872 1201h2M865 1180h2M756 1199h2M842 1196h2M864 1168h2M818 1182h2M877 1172h2M800 1185h2M843 1204h2M845 1199h2M799 1188h2M770 1193h2M850 1171h2M768 1197h2M755 1197h2M850 1174h2M806 1186h2M862 1181h2M833 1221h2M842 1202h2M863 1161h2M807 1182h2M836 1176h2M872 1169h2M765 1181h2M827 1178h2M833 1172h2M817 1178h2M844 1174h2M867 1161h2M868 1168h2M782 1193h2M840 1212h2M787 1189h2M842 1198h2M820 1180h2M866 1178h2M824 1182h2M868 1169h2M868 1181h2M842 1176h2M834 1222h2M874 1163h2M841 1209h2M829 1227h2M799 1172h2M788 1190h2M838 1178h2M857 1192h2M765 1197h2M764 1196h2M776 1194h2M811 1183h2M862 1187h2M837 1203h2M872 1169h2M881 1170h2M867 1177h2M837 1216h2M788 1188h2M835 1212h2M843 1195h2M830 1179h2M845 1171h2M845 1173h2M837 1210h2M840 1208h2M842 1199h2M860 1183h2M794 1190h2M826 1174h2M829 1180h2M866 1185h2M865 1181h2M844 1171h2" stroke="#000000" stroke-width="2" fill="none"/>
<path d="M814 1182.5h3M802 1188.5h3M874 1178.5h3M867 1180.5h3M852 1172.5h3M782 1192.5h3M871 1175.5h3M833 1179.5h3M757 1196.5h3M876 1171.5h3M849 1174.5h3M787 1191.5h3M832 1227.5h3M835 1208.5h3M847 1173.5h3M846 1195.5h3M761 1191.5h3M782 1189.5h3M834 1222.5h3M831 1170.5h3M781 1181.5h3M831 1176.5h3M874 1172.5h3M874 1175.5h3M864 1178.5h3M780 1183.5h3M843 1175.5h3M795 1189.5h3M838 1208.5h3M855 1164.5h3M867 1165.5h3M829 1226.5h3M833 1213.5h3M818 1180.5h3M863 1170.5h3M837 1174.5h3M764 1198.5h3M789 1191.5h3M791 1191.5h3M837 1209.5h3M898 1171.5h3M837 1176.5h3M879 1221.5h3M835 1165.5h3M833 1168.5h3M754 1172.5h3M834 1149.5h3M881 1164.5h3M749 1189.5h3M758 1152.5h3" stroke="#000000" stroke-width="3" fill="none"/>
</g>
<rect x="745.5" y="1050.5" width="194.7" height="179.1" fill="none" stroke="#262626" stroke-width="2"/>
<clipPath id="cp35"><rect x="952.6" y="1050.5" width="192.4" height="179.1"/></clipPath>
<rect x="952.6" y="1050.5" width="192.4" height="179.1" fill="#f7f8fa"/>
<g clip-path="url(#cp35)">
<polygon points="1004,1182.7 1010.9,1171.3 1024.7,1162.1 1038.4,1155.2 1056.8,1141.4 1070.6,1129.9 1088.9,1136.8 1098.1,1148.3 1093.5,1164.4 1079.8,1169 1061.4,1173.6 1047.6,1182.7 1033.8,1191.9 1015.5,1191.9" fill="#0000f0" stroke="#0000f0" stroke-width="1.6" stroke-linejoin="round"/>
<path d="M1045 1181h2M1054 1176h2M1045 1157h2M1087 1166h2M1036 1190h2M1093 1160h2M1080 1169h2M1038 1188h2M1043 1155h2M1091 1158h2M1038 1159h2M1018 1171h2M1065 1172h2M1019 1167h2M1051 1151h2M1044 1158h2M1059 1146h2M1010 1186h2M1066 1170h2M1018 1172h2M1037 1189h2M1038 1158h2M1091 1146h2" stroke="#f7f8fa" stroke-width="2" fill="none"/>
<path d="M1106 1165h2M1031 1158h2M1056 1179h2M1081 1131h2M1003 1180h2M1085 1132h2M1024 1157h2M1069 1128h2M1037 1194h2M1091 1167h2M1020 1165h2M1097 1156h2M1044 1191h2M1050 1147h2M1022 1163h2M1048 1184h2M1078 1174h2M1008 1193h2M1068 1132h2M1084 1171h2M1029 1197h2M1002 1168h2M999 1180h2M1052 1145h2M1097 1137h2M1100 1161h2M1017 1195h2M1098 1168h2M1045 1193h2M1035 1199h2M1006 1186h2M1096 1175h2M1099 1143h2M1041 1201h2M1096 1166h2M1030 1159h2M1077 1129h2M1020 1193h2M1089 1175h2M1042 1188h2M1009 1174h2M1090 1139h2M1052 1142h2M1052 1145h2M1007 1190h2M1047 1141h2M1084 1132h2M1057 1142h2M1041 1189h2M1100 1159h2M1021 1149h2M1002 1193h2M1012 1167h2M1064 1181h2M1082 1134h2M1064 1135h2M1049 1140h2M1009 1194h2M1027 1194h2M1078 1127h2M1060 1136h2M1055 1134h2M1005 1159h2M1022 1193h2M1042 1192h2M1005 1181h2M1030 1158h2M1057 1178h2" stroke="#0000f0" stroke-width="2" fill="none"/>
<path d="M1047 1191.5h3M1025 1194.5h3M1013 1193.5h3M1070 1128.5h3M1098 1140.5h3M1089 1175.5h3M1032 1197.5h3M1083 1170.5h3M1048 1147.5h3M1096 1159.5h3M1024 1195.5h3M1053 1183.5h3M1025 1195.5h3M1092 1140.5h3M1090 1136.5h3M1068 1133.5h3M1089 1172.5h3M1019 1163.5h3M1058 1141.5h3M1042 1194.5h3M1014 1159.5h3M1076 1180.5h3M1044 1147.5h3M1081 1134.5h3M1060 1177.5h3M1011 1171.5h3M1100 1156.5h3M1072 1174.5h3M1012 1169.5h3M1096 1165.5h3M1097 1154.5h3M1067 1113.5h3M1026 1137.5h3M1018 1150.5h3M1010 1120.5h3M1110 1194.5h3M1006 1135.5h3M1004 1176.5h3M1093 1115.5h3M1026 1151.5h3M1102 1203.5h3" stroke="#1c1c9a" stroke-width="3" fill="none"/>
<path d="M1092 1157h2M1088 1147h2M1111 1156h2M1095 1157h2M1091 1173h2M1083 1143h2M1097 1161h2M1129 1137h2M1124 1170h2M1103 1145h2M1103 1108h2M1104 1100h2M1136 1164h2M1129 1156h2M1109 1171h2M1110 1100h2M1068 1187h2M1142 1119h2M1081 1133h2M1082 1181h2M1102 1125h2M1089 1183h2M1110 1141h2M1120 1150h2M1116 1148h2M1122 1144h2M1086 1172h2M1084 1176h2M1064 1152h2M1094 1176h2M1126 1120h2M1066 1140h2" stroke="#0000f0" stroke-width="2" fill="none"/>
<path d="M1108 1164.5h3M1141 1183.5h3M1097 1191.5h3M1077 1196.5h3M1137 1097.5h3M1116 1152.5h3M1104 1113.5h3M1120 1127.5h3M1087 1099.5h3M1103 1167.5h3M1077 1143.5h3M1114 1193.5h3M1076 1194.5h3M1136 1153.5h3M1131 1160.5h3M1086 1181.5h3M1118 1188.5h3M1068 1174.5h3" stroke="#1c1c9a" stroke-width="3" fill="none"/>
<polygon points="955.8,1203.4 969.6,1196.5 987.9,1191.9 1006.3,1187.3 1024.7,1180.4 1033.8,1182.7 1024.7,1191.9 1015.5,1203.4 1010.9,1214.9 1006.3,1228.7 955.8,1228.7" fill="#000000" stroke="#000000" stroke-width="1.6" stroke-linejoin="round"/>
<path d="M996 1193h2M1012 1208h2M1006 1222h2M986 1196h2M991 1193h2M1024 1187h2M976 1197h2M1014 1188h2M1018 1186h2M1013 1191h2M1019 1186h2M959 1211h2M1031 1185h2M978 1198h2M961 1206h2M995 1196h2M1024 1185h2M985 1197h2M982 1195h2M1015 1200h2M1005 1219h2" stroke="#f7f8fa" stroke-width="2" fill="none"/>
<path d="M1016 1216h2M1009 1187h2M1029 1189h2M1042 1192h2M1027 1192h2M1023 1202h2M975 1196h2M1013 1210h2M1011 1185h2M959 1201h2M971 1194h2M1014 1217h2M965 1199h2M1021 1182h2M977 1194h2M967 1198h2M1027 1194h2M1016 1204h2M1028 1177h2M1038 1179h2M1009 1226h2M964 1198h2M1039 1186h2M974 1180h2M1034 1186h2M1013 1211h2M994 1189h2M958 1202h2M1026 1199h2M1028 1175h2M956 1202h2M1025 1198h2M1021 1209h2M1030 1180h2M1015 1211h2M976 1191h2M1024 1180h2M1009 1184h2M962 1196h2M1029 1177h2M1025 1204h2M1004 1188h2M1026 1179h2M1018 1208h2M1008 1225h2M990 1182h2M955 1204h2M982 1185h2M981 1192h2M954 1208h2M955 1223h2M955 1226h2M1018 1210h2M955 1223h2M1016 1223h2M1002 1187h2M1021 1181h2M1029 1203h2M1024 1176h2M1013 1226h2M955 1227h2M1037 1184h2M955 1205h2M1043 1178h2M967 1198h2" stroke="#000000" stroke-width="2" fill="none"/>
<path d="M1031 1183.5h3M1018 1182.5h3M1009 1222.5h3M1039 1182.5h3M1009 1183.5h3M954 1206.5h3M1025 1205.5h3M1029 1199.5h3M1008 1188.5h3M957 1197.5h3M1010 1186.5h3M1021 1216.5h3M1009 1223.5h3M992 1186.5h3M991 1188.5h3M970 1193.5h3M1012 1217.5h3M982 1192.5h3M1036 1188.5h3M1042 1192.5h3M1029 1198.5h3M1039 1178.5h3M1006 1179.5h3M1011 1217.5h3M1033 1198.5h3M977 1186.5h3M982 1191.5h3M1019 1170.5h3M997 1186.5h3M985 1193.5h3M1048 1197.5h3M1046 1185.5h3M1014 1210.5h3M961 1194.5h3" stroke="#000000" stroke-width="3" fill="none"/>
</g>
<rect x="952.6" y="1050.5" width="192.4" height="179.1" fill="none" stroke="#262626" stroke-width="2"/>
<clipPath id="cp36"><rect x="1157.8" y="1050.5" width="194.2" height="179.1"/></clipPath>
<rect x="1157.8" y="1050.5" width="194.2" height="179.1" fill="#f7f8fa"/>
<g clip-path="url(#cp36)">
<polygon points="1183.1,1169 1190,1159.8 1208.3,1152.9 1226.7,1146 1245.1,1139.1 1263.4,1136.8 1281.8,1143.7 1286.4,1157.5 1268,1166.7 1249.6,1173.6 1231.3,1182.7 1212.9,1187.3 1194.5,1187.3 1183.1,1180.4" fill="#0000f0" stroke="#0000f0" stroke-width="1.6" stroke-linejoin="round"/>
<path d="M1280 1144h2M1249 1144h2M1185 1169h2M1276 1147h2M1247 1174h2M1258 1170h2M1266 1163h2M1206 1159h2M1200 1162h2M1190 1180h2M1263 1138h2M1195 1163h2M1211 1153h2M1279 1147h2M1184 1176h2M1281 1155h2M1271 1163h2M1282 1156h2M1191 1162h2M1239 1147h2M1191 1165h2M1246 1143h2M1272 1141h2M1222 1152h2" stroke="#f7f8fa" stroke-width="2" fill="none"/>
<path d="M1180 1176h2M1233 1143h2M1286 1140h2M1243 1139h2M1194 1158h2M1270 1168h2M1268 1139h2M1190 1189h2M1260 1172h2M1194 1158h2M1252 1177h2M1273 1166h2M1184 1186h2M1294 1153h2M1229 1189h2M1241 1183h2M1228 1140h2M1255 1136h2M1191 1156h2M1178 1181h2M1230 1185h2M1281 1129h2M1185 1166h2M1207 1150h2M1218 1141h2M1216 1190h2M1188 1162h2M1211 1194h2M1181 1158h2M1216 1191h2M1272 1134h2M1180 1181h2M1283 1143h2M1178 1179h2M1248 1177h2M1254 1130h2M1262 1138h2M1239 1180h2M1197 1158h2M1256 1173h2M1243 1140h2M1258 1136h2M1198 1193h2M1221 1143h2M1210 1153h2M1247 1176h2M1267 1138h2M1195 1190h2M1231 1185h2M1274 1178h2M1239 1182h2M1283 1148h2M1211 1188h2M1216 1139h2M1273 1140h2M1254 1183h2M1175 1166h2M1225 1147h2M1222 1143h2M1275 1141h2M1215 1145h2M1184 1145h2M1271 1132h2M1260 1138h2M1272 1141h2M1196 1157h2M1174 1168h2M1280 1135h2M1212 1190h2M1284 1160h2M1285 1142h2M1202 1188h2M1293 1158h2M1273 1140h2M1286 1159h2" stroke="#0000f0" stroke-width="2" fill="none"/>
<path d="M1179 1162.5h3M1274 1140.5h3M1284 1151.5h3M1276 1186.5h3M1294 1166.5h3M1201 1198.5h3M1277 1138.5h3M1202 1156.5h3M1256 1175.5h3M1244 1178.5h3M1186 1157.5h3M1207 1193.5h3M1283 1162.5h3M1182 1156.5h3M1228 1145.5h3M1240 1186.5h3M1265 1135.5h3M1188 1185.5h3M1247 1178.5h3M1286 1149.5h3M1209 1152.5h3M1286 1147.5h3M1238 1182.5h3M1193 1158.5h3M1271 1131.5h3M1194 1150.5h3M1201 1151.5h3M1225 1187.5h3M1279 1141.5h3M1186 1162.5h3M1300 1147.5h3M1185 1124.5h3M1191 1157.5h3M1214 1124.5h3M1299 1180.5h3M1289 1130.5h3M1171 1178.5h3M1308 1188.5h3" stroke="#1c1c9a" stroke-width="3" fill="none"/>
<path d="M1269 1110h2M1247 1142h2M1334 1138h2M1297 1148h2M1276 1130h2M1255 1148h2M1335 1090h2M1278 1157h2M1283 1125h2M1266 1109h2M1288 1114h2M1289 1092h2M1315 1121h2M1332 1128h2M1233 1122h2M1299 1090h2M1252 1109h2M1265 1171h2M1337 1129h2M1233 1093h2M1242 1095h2M1234 1088h2M1318 1113h2M1283 1170h2M1265 1155h2M1322 1097h2M1259 1181h2" stroke="#0000f0" stroke-width="2" fill="none"/>
<path d="M1248 1134.5h3M1255 1155.5h3M1311 1141.5h3M1315 1118.5h3M1319 1128.5h3M1261 1142.5h3M1285 1111.5h3M1291 1171.5h3M1282 1168.5h3M1296 1177.5h3M1314 1110.5h3M1241 1159.5h3M1327 1182.5h3M1314 1142.5h3M1292 1135.5h3M1242 1122.5h3M1271 1150.5h3M1296 1160.5h3M1328 1090.5h3M1295 1092.5h3M1284 1157.5h3M1271 1145.5h3M1253 1098.5h3" stroke="#1c1c9a" stroke-width="3" fill="none"/>
<polygon points="1160.1,1201.1 1176.2,1196.5 1194.5,1189.6 1212.9,1182.7 1226.7,1178.1 1231.3,1182.7 1226.7,1196.5 1224.4,1210.3 1222.1,1228.7 1160.1,1228.7" fill="#000000" stroke="#000000" stroke-width="1.6" stroke-linejoin="round"/>
<path d="M1197 1194h2M1185 1196h2M1226 1198h2M1221 1222h2M1222 1183h2M1228 1189h2M1224 1212h2M1207 1189h2M1224 1211h2M1180 1199h2M1164 1220h2M1215 1183h2M1221 1182h2M1170 1202h2M1219 1217h2M1223 1222h2M1218 1185h2M1169 1203h2M1191 1195h2M1223 1220h2M1172 1203h2" stroke="#f7f8fa" stroke-width="2" fill="none"/>
<path d="M1228 1173h2M1160 1225h2M1186 1187h2M1176 1197h2M1234 1181h2M1166 1199h2M1222 1171h2M1226 1176h2M1230 1198h2M1170 1196h2M1228 1202h2M1232 1192h2M1231 1189h2M1184 1192h2M1227 1177h2M1232 1213h2M1189 1190h2M1225 1175h2M1208 1181h2M1175 1194h2M1221 1173h2M1234 1185h2M1240 1179h2M1224 1179h2M1219 1181h2M1200 1188h2M1229 1190h2M1221 1172h2M1197 1188h2M1199 1189h2M1230 1205h2M1230 1220h2M1232 1180h2M1201 1179h2M1189 1188h2M1160 1222h2M1221 1177h2M1208 1185h2M1159 1213h2M1168 1200h2M1160 1192h2M1184 1193h2M1209 1183h2M1234 1192h2M1177 1197h2M1212 1184h2M1230 1176h2M1233 1184h2M1200 1186h2M1207 1184h2M1228 1194h2M1232 1195h2M1214 1176h2M1233 1180h2M1227 1172h2M1205 1183h2M1219 1177h2M1164 1201h2M1175 1196h2M1177 1195h2M1224 1219h2M1237 1212h2" stroke="#000000" stroke-width="2" fill="none"/>
<path d="M1225 1216.5h3M1191 1191.5h3M1219 1177.5h3M1224 1225.5h3M1205 1180.5h3M1225 1217.5h3M1228 1176.5h3M1185 1187.5h3M1235 1183.5h3M1220 1173.5h3M1219 1180.5h3M1226 1205.5h3M1208 1180.5h3M1201 1182.5h3M1229 1224.5h3M1187 1191.5h3M1227 1216.5h3M1170 1198.5h3M1204 1185.5h3M1236 1192.5h3M1226 1179.5h3M1171 1195.5h3M1229 1180.5h3M1161 1199.5h3M1228 1214.5h3M1197 1186.5h3M1228 1177.5h3M1207 1173.5h3M1245 1170.5h3M1181 1162.5h3M1247 1196.5h3M1179 1163.5h3M1204 1183.5h3M1229 1177.5h3M1161 1166.5h3M1195 1184.5h3M1230 1224.5h3" stroke="#000000" stroke-width="3" fill="none"/>
</g>
<rect x="1157.8" y="1050.5" width="194.2" height="179.1" fill="none" stroke="#262626" stroke-width="2"/>
<clipPath id="cp41"><rect x="120.1" y="1240.1" width="197.1" height="178.7"/></clipPath>
<rect x="120.1" y="1240.1" width="197.1" height="178.7" fill="#f7f8fa"/>
<g clip-path="url(#cp41)">
<polygon points="188.3,1289.9 202.1,1280.7 215.9,1271.5 239,1266.8 262,1264.5 285,1262.2 317.3,1261.3 317.3,1280.7 303.5,1276.1 285,1276.1 266.6,1280.7 252.8,1289.9 243.6,1303.7 234.4,1315.2 225.2,1322.1 213.6,1317.5 206.7,1306 197.5,1294.5" fill="#e00404" stroke="#e00404" stroke-width="1.6" stroke-linejoin="round"/>
<path d="M252 1270h2M287 1273h2M245 1272h2M235 1273h2M246 1295h2M230 1270h2M191 1290h2M238 1271h2M251 1271h2M299 1265h2M209 1310h2M309 1278h2M241 1307h2M207 1284h2M235 1313h2M213 1277h2M210 1309h2M271 1268h2M229 1271h2M235 1309h2M204 1283h2M224 1320h2M245 1269h2M262 1266h2M287 1273h2M254 1269h2M279 1269h2M212 1310h2M276 1266h2M231 1272h2M309 1276h2" stroke="#f7f8fa" stroke-width="2" fill="none"/>
<path d="M283 1285h2M299 1277h2M243 1317h2M307 1279h2M241 1310h2M201 1278h2M242 1310h2M225 1268h2M213 1273h2M260 1328h2M268 1282h2M282 1279h2M200 1278h2M264 1289h2M204 1308h2M233 1321h2M234 1263h2M272 1261h2M267 1264h2M287 1280h2M236 1319h2M239 1317h2M189 1294h2M241 1309h2M243 1267h2M259 1288h2M253 1299h2M258 1304h2M310 1288h2M242 1312h2M244 1267h2M308 1256h2M190 1294h2M259 1295h2M214 1322h2M311 1262h2M310 1262h2M217 1271h2M213 1318h2M216 1270h2M254 1264h2M236 1316h2M271 1290h2M246 1263h2M209 1320h2M269 1264h2M227 1266h2M305 1282h2M256 1290h2M285 1261h2M227 1267h2M268 1283h2M206 1310h2M235 1263h2M264 1287h2M222 1324h2M313 1262h2M278 1262h2M269 1285h2M295 1277h2M299 1279h2M260 1290h2M234 1266h2M295 1283h2M284 1262h2M248 1262h2M211 1317h2M208 1270h2M237 1314h2M285 1261h2M205 1279h2M216 1271h2M252 1292h2M279 1280h2M240 1330h2M236 1267h2M261 1262h2M181 1298h2M251 1296h2M294 1278h2M247 1258h2M201 1282h2M307 1278h2M229 1267h2M207 1275h2M252 1310h2M267 1290h2M295 1255h2M194 1283h2" stroke="#e00404" stroke-width="2" fill="none"/>
<path d="M201 1302.5h3M300 1261.5h3M257 1298.5h3M228 1270.5h3M202 1303.5h3M217 1270.5h3M201 1309.5h3M246 1263.5h3M192 1295.5h3M276 1262.5h3M274 1259.5h3M261 1285.5h3M187 1280.5h3M214 1321.5h3M250 1265.5h3M216 1272.5h3M269 1284.5h3M196 1281.5h3M226 1270.5h3M220 1321.5h3M280 1259.5h3M288 1282.5h3M257 1262.5h3M295 1255.5h3M242 1257.5h3M202 1276.5h3M305 1283.5h3M273 1283.5h3M197 1278.5h3M190 1292.5h3M245 1308.5h3M214 1321.5h3M276 1263.5h3M250 1301.5h3M226 1266.5h3M268 1257.5h3M207 1278.5h3M241 1259.5h3M275 1286.5h3M276 1262.5h3M243 1264.5h3M270 1260.5h3M215 1266.5h3M267 1260.5h3M294 1309.5h3M232 1333.5h3M191 1317.5h3M274 1311.5h3M192 1285.5h3M252 1294.5h3M183 1259.5h3M313 1244.5h3M244 1245.5h3M274 1306.5h3" stroke="#a01010" stroke-width="3" fill="none"/>
<path d="M291 1299h2M262 1268h2M232 1286h2M299 1283h2M270 1280h2M240 1296h2M212 1293h2M222 1326h2M289 1272h2M312 1313h2M275 1286h2M242 1273h2M287 1293h2M214 1315h2M296 1280h2M299 1292h2M257 1286h2M191 1286h2M306 1304h2M232 1284h2M280 1274h2" stroke="#e00404" stroke-width="2" fill="none"/>
<path d="M258 1297.5h3M291 1299.5h3M308 1307.5h3M205 1322.5h3M275 1297.5h3M247 1281.5h3M250 1271.5h3M214 1312.5h3M266 1295.5h3" stroke="#a01010" stroke-width="3" fill="none"/>
<polygon points="158.4,1377.4 169.9,1368.2 188.3,1359 206.7,1349.8 225.2,1340.5 243.6,1333.6 257.4,1335 248.2,1347.5 234.4,1359 220.5,1372.8 206.7,1384.3 192.9,1391.2 174.5,1388.9 160.7,1384.3" fill="#000000" stroke="#000000" stroke-width="1.6" stroke-linejoin="round"/>
<path d="M167 1378h2M167 1384h2M196 1390h2M250 1336h2M243 1339h2M175 1372h2M249 1339h2M188 1388h2M209 1355h2M163 1382h2M216 1346h2M250 1340h2M232 1340h2M228 1344h2M236 1340h2M219 1375h2M219 1373h2M224 1364h2M164 1375h2M222 1366h2M200 1357h2M230 1343h2M162 1384h2" stroke="#f7f8fa" stroke-width="2" fill="none"/>
<path d="M237 1359h2M236 1335h2M227 1377h2M258 1339h2M195 1398h2M202 1345h2M235 1369h2M185 1361h2M228 1368h2M244 1352h2M202 1351h2M211 1344h2M186 1394h2M196 1391h2M169 1390h2M258 1337h2M184 1362h2M159 1374h2M201 1352h2M184 1391h2M174 1365h2M256 1328h2M261 1337h2M222 1341h2M203 1390h2M258 1332h2M185 1398h2M155 1371h2M185 1361h2M244 1358h2M200 1398h2M160 1396h2M160 1374h2M233 1378h2M240 1334h2M203 1352h2M248 1350h2M220 1344h2M252 1329h2M261 1336h2M181 1363h2M228 1369h2M168 1388h2M159 1377h2M157 1385h2M259 1333h2M202 1397h2M207 1397h2M237 1334h2M227 1373h2M245 1332h2M197 1353h2M156 1374h2M261 1332h2M171 1366h2M191 1395h2M240 1359h2M260 1345h2M212 1347h2M244 1354h2M250 1361h2M244 1357h2M231 1338h2M246 1335h2M222 1342h2M188 1355h2M207 1394h2M223 1374h2M156 1376h2M215 1340h2M185 1393h2M246 1353h2" stroke="#000000" stroke-width="2" fill="none"/>
<path d="M160 1382.5h3M149 1364.5h3M182 1391.5h3M185 1395.5h3M221 1373.5h3M155 1381.5h3M219 1378.5h3M242 1356.5h3M157 1382.5h3M229 1329.5h3M250 1325.5h3M222 1333.5h3M239 1356.5h3M162 1397.5h3M215 1380.5h3M157 1376.5h3M212 1384.5h3M239 1330.5h3M241 1332.5h3M165 1388.5h3M228 1374.5h3M199 1354.5h3M230 1365.5h3M233 1375.5h3M183 1394.5h3M239 1364.5h3M261 1334.5h3M257 1393.5h3M247 1358.5h3M190 1332.5h3M166 1319.5h3M215 1328.5h3M158 1342.5h3M178 1329.5h3M145 1346.5h3M181 1337.5h3M189 1320.5h3" stroke="#000000" stroke-width="3" fill="none"/>
<path d="M251 1331h2M263 1328h2M252 1336h2M248 1335h2" stroke="#000000" stroke-width="2" fill="none"/>
<path d="M253 1337.5h3M258 1334.5h3" stroke="#000000" stroke-width="3" fill="none"/>
</g>
<rect x="120.1" y="1240.1" width="197.1" height="178.7" fill="none" stroke="#262626" stroke-width="2"/>
<clipPath id="cp42"><rect x="331.1" y="1241.5" width="194.8" height="176.4"/></clipPath>
<rect x="331.1" y="1241.5" width="194.8" height="176.4" fill="#f7f8fa"/>
<g clip-path="url(#cp42)">
<polygon points="411.7,1317.5 418.6,1303.7 432.4,1289.9 450.9,1276.1 469.3,1264.5 487.7,1257.6 506.1,1253 524.6,1250.7 524.6,1276.1 510.7,1280.7 492.3,1289.9 478.5,1299.1 464.7,1306 450.9,1317.5 432.4,1326.7 416.3,1329" fill="#e00404" stroke="#e00404" stroke-width="1.6" stroke-linejoin="round"/>
<path d="M444 1288h2M458 1310h2M425 1301h2M510 1278h2M501 1287h2M447 1283h2M463 1273h2M447 1320h2M482 1296h2M438 1292h2M420 1312h2M475 1266h2M498 1258h2M510 1257h2M468 1300h2M490 1290h2M428 1300h2M471 1269h2M464 1274h2M432 1295h2M413 1319h2M444 1284h2M509 1258h2M487 1263h2M466 1269h2M431 1326h2M502 1281h2M454 1313h2M435 1324h2" stroke="#f7f8fa" stroke-width="2" fill="none"/>
<path d="M491 1295h2M499 1251h2M519 1246h2M488 1257h2M514 1252h2M413 1325h2M516 1252h2M451 1277h2M426 1330h2M420 1300h2M507 1253h2M446 1281h2M412 1306h2M450 1319h2M415 1334h2M465 1265h2M481 1301h2M456 1319h2M508 1284h2M497 1293h2M454 1268h2M466 1307h2M406 1314h2M512 1246h2M436 1332h2M483 1254h2M446 1324h2M505 1287h2M454 1316h2M429 1272h2M456 1329h2M487 1246h2M472 1307h2M450 1322h2M448 1275h2M431 1292h2M481 1254h2M499 1255h2M455 1268h2M437 1287h2M449 1278h2M413 1328h2M422 1297h2M410 1306h2M439 1283h2M458 1256h2M497 1254h2M473 1311h2M463 1262h2M415 1327h2M474 1253h2M507 1288h2M510 1247h2M490 1301h2M520 1250h2M458 1272h2M430 1288h2M413 1327h2M496 1289h2M457 1330h2M421 1294h2M481 1260h2M508 1283h2M466 1307h2M439 1278h2M506 1285h2M522 1281h2M434 1286h2M513 1288h2M413 1316h2M461 1311h2M403 1328h2M438 1282h2M425 1293h2M413 1329h2M482 1305h2M413 1308h2M412 1312h2M447 1275h2M411 1312h2M478 1302h2" stroke="#e00404" stroke-width="2" fill="none"/>
<path d="M412 1313.5h3M445 1280.5h3M459 1314.5h3M405 1319.5h3M481 1260.5h3M443 1323.5h3M506 1249.5h3M433 1290.5h3M462 1312.5h3M411 1295.5h3M425 1338.5h3M416 1306.5h3M457 1314.5h3M498 1299.5h3M435 1332.5h3M423 1298.5h3M420 1303.5h3M502 1290.5h3M515 1248.5h3M456 1273.5h3M420 1330.5h3M423 1332.5h3M488 1256.5h3M500 1289.5h3M475 1260.5h3M454 1318.5h3M455 1270.5h3M423 1335.5h3M442 1283.5h3M423 1331.5h3M429 1329.5h3M476 1306.5h3M482 1257.5h3M460 1315.5h3M493 1250.5h3M410 1314.5h3M516 1253.5h3M437 1330.5h3M460 1271.5h3M408 1331.5h3M420 1331.5h3M471 1265.5h3M519 1280.5h3M451 1338.5h3M471 1256.5h3M475 1251.5h3M474 1249.5h3M430 1343.5h3M411 1272.5h3M414 1328.5h3M517 1316.5h3M437 1339.5h3M456 1246.5h3" stroke="#a01010" stroke-width="3" fill="none"/>
<path d="M507 1274h2M497 1252h2M493 1279h2M499 1291h2M501 1304h2M485 1261h2M510 1308h2M500 1266h2M503 1305h2M520 1300h2M496 1280h2M481 1258h2M501 1299h2M503 1279h2M515 1296h2M480 1276h2M492 1269h2M493 1248h2M521 1252h2M491 1248h2M483 1295h2M496 1303h2M500 1256h2M512 1286h2" stroke="#e00404" stroke-width="2" fill="none"/>
<path d="M504 1306.5h3M480 1270.5h3M493 1298.5h3M516 1285.5h3M505 1245.5h3M511 1265.5h3M503 1270.5h3M511 1300.5h3M523 1284.5h3M493 1265.5h3M479 1270.5h3" stroke="#a01010" stroke-width="3" fill="none"/>
<polygon points="365.6,1359 381.8,1352.1 400.2,1342.9 418.6,1333.6 437,1324.4 455.5,1312.9 464.7,1310.6 462.4,1319.8 450.9,1331.3 437,1342.9 423.2,1356.7 409.4,1368.2 395.6,1377.4 377.2,1377.4 365.6,1370.5" fill="#000000" stroke="#000000" stroke-width="1.6" stroke-linejoin="round"/>
<path d="M439 1340h2M400 1348h2M435 1329h2M462 1318h2M398 1373h2M458 1324h2M453 1327h2M402 1370h2M401 1373h2M379 1378h2M403 1345h2M395 1350h2M383 1353h2M459 1321h2M418 1358h2M369 1369h2M387 1355h2M385 1376h2M428 1331h2M421 1357h2M442 1333h2M409 1364h2M377 1374h2M407 1370h2M436 1342h2" stroke="#f7f8fa" stroke-width="2" fill="none"/>
<path d="M438 1344h2M371 1357h2M380 1379h2M454 1310h2M425 1321h2M453 1350h2M452 1346h2M417 1366h2M447 1319h2M455 1314h2M368 1373h2M455 1340h2M374 1355h2M419 1375h2M363 1355h2M441 1341h2M399 1380h2M423 1331h2M370 1376h2M457 1329h2M424 1366h2M429 1317h2M414 1368h2M466 1312h2M415 1371h2M410 1336h2M404 1336h2M435 1350h2M470 1302h2M430 1328h2M410 1335h2M436 1345h2M435 1326h2M452 1311h2M444 1338h2M400 1340h2M367 1352h2M411 1368h2M464 1329h2M398 1388h2M445 1342h2M466 1318h2M361 1364h2M424 1324h2M416 1325h2M402 1342h2M444 1339h2M364 1353h2M422 1330h2M454 1338h2M468 1316h2M365 1374h2M460 1327h2M426 1356h2M467 1320h2M363 1357h2M358 1345h2M409 1334h2M374 1353h2M396 1385h2M359 1348h2M445 1320h2M370 1357h2M399 1377h2M462 1312h2M393 1338h2M418 1335h2M414 1371h2M427 1356h2M372 1381h2M403 1374h2" stroke="#000000" stroke-width="2" fill="none"/>
<path d="M394 1380.5h3M459 1331.5h3M362 1375.5h3M407 1374.5h3M369 1374.5h3M406 1376.5h3M409 1370.5h3M462 1323.5h3M446 1318.5h3M464 1319.5h3M465 1326.5h3M438 1346.5h3M425 1329.5h3M424 1357.5h3M399 1377.5h3M432 1356.5h3M437 1325.5h3M423 1373.5h3M446 1338.5h3M428 1356.5h3M401 1343.5h3M365 1355.5h3M434 1326.5h3M416 1332.5h3M366 1346.5h3M367 1359.5h3M385 1380.5h3M419 1370.5h3M448 1335.5h3M425 1330.5h3M450 1336.5h3M409 1371.5h3M363 1366.5h3M454 1330.5h3M478 1291.5h3M421 1313.5h3M469 1350.5h3M432 1358.5h3M466 1312.5h3M455 1342.5h3M364 1378.5h3M403 1385.5h3M414 1384.5h3M472 1341.5h3" stroke="#000000" stroke-width="3" fill="none"/>
<path d="M451 1330h2M467 1320h2M446 1330h2M467 1309h2M471 1321h2M456 1347h2M443 1334h2M433 1339h2M458 1335h2" stroke="#000000" stroke-width="2" fill="none"/>
<path d="M433 1323.5h3" stroke="#000000" stroke-width="3" fill="none"/>
</g>
<rect x="331.1" y="1241.5" width="194.8" height="176.4" fill="none" stroke="#262626" stroke-width="2"/>
<clipPath id="cp43"><rect x="537.5" y="1242.9" width="199" height="181.5"/></clipPath>
<rect x="537.5" y="1242.9" width="199" height="181.5" fill="#f7f8fa"/>
<g clip-path="url(#cp43)">
<polygon points="607.5,1308.3 621.3,1294.5 639.7,1280.7 658.1,1271.5 676.6,1262.2 699.6,1255.3 722.6,1253 736.4,1255.3 736.4,1280.7 722.6,1285.3 704.2,1289.9 685.8,1299.1 667.3,1312.9 648.9,1322.1 630.5,1326.7 616.7,1322.1" fill="#e00404" stroke="#e00404" stroke-width="1.6" stroke-linejoin="round"/>
<path d="M665 1315h2M660 1277h2M708 1256h2M661 1275h2M619 1322h2M657 1274h2M703 1260h2M686 1300h2M686 1299h2M642 1321h2M655 1315h2M714 1258h2M667 1270h2M616 1316h2M647 1322h2M634 1327h2M700 1261h2M683 1265h2M625 1324h2M651 1321h2M624 1296h2M724 1254h2M725 1283h2M651 1319h2M687 1296h2M715 1284h2M712 1286h2M694 1291h2M632 1294h2M665 1310h2M623 1322h2" stroke="#f7f8fa" stroke-width="2" fill="none"/>
<path d="M613 1297h2M652 1328h2M674 1265h2M636 1334h2M664 1330h2M695 1257h2M711 1293h2M711 1301h2M704 1249h2M660 1263h2M650 1260h2M624 1327h2M691 1298h2M700 1293h2M633 1279h2M622 1336h2M705 1294h2M670 1266h2M713 1255h2M705 1254h2M611 1305h2M722 1294h2M653 1271h2M728 1253h2M651 1270h2M666 1263h2M676 1254h2M604 1317h2M673 1260h2M645 1324h2M675 1313h2M624 1289h2M657 1323h2M622 1329h2M603 1321h2M639 1280h2M701 1298h2M611 1300h2M672 1314h2M619 1332h2M631 1328h2M703 1295h2M612 1321h2M637 1330h2M630 1285h2M667 1318h2M612 1301h2M666 1323h2M716 1289h2M635 1285h2M683 1259h2M635 1275h2M706 1255h2M686 1259h2M667 1263h2M653 1275h2M714 1293h2M708 1291h2M638 1279h2M629 1277h2M674 1248h2M631 1279h2M720 1292h2M623 1326h2M692 1302h2M719 1289h2M630 1285h2M649 1271h2M662 1270h2M716 1254h2M691 1302h2M719 1290h2M696 1257h2M633 1286h2M723 1253h2M630 1328h2M683 1258h2M627 1337h2M615 1302h2M626 1287h2M691 1258h2M626 1330h2M659 1271h2M597 1322h2M634 1281h2M720 1291h2M654 1269h2M623 1327h2M647 1276h2M711 1296h2" stroke="#e00404" stroke-width="2" fill="none"/>
<path d="M642 1275.5h3M645 1325.5h3M687 1257.5h3M695 1256.5h3M634 1328.5h3M659 1320.5h3M725 1286.5h3M611 1304.5h3M645 1278.5h3M694 1304.5h3M664 1268.5h3M676 1308.5h3M724 1252.5h3M629 1288.5h3M706 1300.5h3M617 1295.5h3M694 1298.5h3M679 1306.5h3M629 1286.5h3M643 1325.5h3M665 1320.5h3M609 1322.5h3M636 1284.5h3M713 1255.5h3M699 1256.5h3M624 1291.5h3M643 1278.5h3M726 1286.5h3M672 1264.5h3M705 1256.5h3M625 1292.5h3M618 1335.5h3M623 1288.5h3M700 1254.5h3M729 1291.5h3M673 1249.5h3M726 1253.5h3M612 1332.5h3M702 1294.5h3M690 1259.5h3M612 1300.5h3M642 1327.5h3M709 1292.5h3M698 1328.5h3M614 1320.5h3M675 1317.5h3M704 1307.5h3M630 1256.5h3M678 1251.5h3M729 1246.5h3M606 1248.5h3M591 1280.5h3M694 1314.5h3" stroke="#a01010" stroke-width="3" fill="none"/>
<path d="M686 1317h2M617 1318h2M725 1326h2M616 1317h2M666 1275h2M644 1294h2M600 1291h2M723 1309h2M713 1308h2M693 1328h2M654 1326h2M662 1276h2M672 1302h2M697 1289h2M704 1330h2M714 1306h2M659 1301h2M693 1279h2M721 1308h2M656 1277h2M666 1281h2M679 1293h2M709 1315h2M610 1313h2M648 1327h2" stroke="#e00404" stroke-width="2" fill="none"/>
<path d="M623 1299.5h3M641 1280.5h3M711 1324.5h3M699 1267.5h3M708 1318.5h3M689 1265.5h3M713 1283.5h3M676 1312.5h3M616 1294.5h3M709 1285.5h3M689 1291.5h3M732 1309.5h3M690 1315.5h3M613 1318.5h3M720 1328.5h3" stroke="#a01010" stroke-width="3" fill="none"/>
<polygon points="570.6,1368.2 584.4,1359 602.9,1349.8 621.3,1340.5 639.7,1333.6 658.1,1326.7 674.3,1322.1 672,1333.6 660.4,1347.5 644.3,1359 625.9,1368.2 607.5,1377.4 589,1382 575.2,1377.4" fill="#000000" stroke="#000000" stroke-width="1.6" stroke-linejoin="round"/>
<path d="M573 1372h2M626 1340h2M607 1377h2M609 1350h2M597 1380h2M662 1340h2M574 1374h2M645 1358h2M666 1330h2M600 1353h2M635 1342h2M662 1331h2M651 1351h2M626 1368h2M655 1332h2M645 1354h2M600 1353h2M575 1370h2M638 1361h2M644 1355h2M665 1330h2M667 1329h2M578 1370h2M661 1344h2" stroke="#f7f8fa" stroke-width="2" fill="none"/>
<path d="M583 1360h2M580 1362h2M577 1385h2M599 1387h2M577 1364h2M682 1334h2M631 1337h2M679 1329h2M629 1371h2M578 1363h2M603 1384h2M666 1342h2M582 1357h2M627 1337h2M666 1345h2M613 1384h2M612 1385h2M663 1322h2M579 1386h2M678 1337h2M582 1361h2M599 1383h2M576 1382h2M618 1338h2M673 1333h2M579 1361h2M652 1359h2M658 1327h2M589 1355h2M622 1371h2M571 1381h2M579 1383h2M631 1369h2M656 1353h2M681 1330h2M602 1381h2M678 1340h2M666 1321h2M671 1319h2M638 1365h2M675 1322h2M587 1383h2M580 1363h2M589 1356h2M637 1330h2M601 1388h2M658 1324h2M676 1328h2M591 1390h2M580 1381h2M593 1351h2M639 1376h2M634 1333h2M657 1324h2M619 1377h2M675 1329h2M677 1327h2M583 1353h2M659 1318h2M608 1345h2M670 1323h2M573 1380h2M611 1381h2" stroke="#000000" stroke-width="2" fill="none"/>
<path d="M667 1325.5h3M640 1375.5h3M607 1339.5h3M678 1329.5h3M594 1353.5h3M671 1341.5h3M571 1373.5h3M671 1339.5h3M598 1386.5h3M635 1332.5h3M663 1348.5h3M655 1359.5h3M565 1368.5h3M656 1320.5h3M571 1389.5h3M570 1372.5h3M594 1391.5h3M594 1382.5h3M674 1332.5h3M648 1358.5h3M630 1369.5h3M613 1379.5h3M588 1354.5h3M636 1380.5h3M584 1393.5h3M627 1330.5h3M579 1363.5h3M670 1321.5h3M626 1336.5h3M641 1329.5h3M575 1381.5h3M647 1364.5h3M624 1371.5h3M649 1318.5h3M677 1323.5h3M601 1384.5h3M678 1320.5h3M620 1387.5h3M675 1340.5h3M606 1381.5h3M570 1385.5h3M651 1312.5h3M556 1340.5h3M698 1335.5h3M636 1307.5h3M676 1344.5h3M684 1384.5h3M642 1312.5h3M689 1347.5h3M579 1312.5h3M599 1322.5h3" stroke="#000000" stroke-width="3" fill="none"/>
</g>
<rect x="537.5" y="1242.9" width="199" height="181.5" fill="none" stroke="#262626" stroke-width="2"/>
<clipPath id="cp44"><rect x="744.6" y="1242.9" width="195.6" height="179.1"/></clipPath>
<rect x="744.6" y="1242.9" width="195.6" height="179.1" fill="#f7f8fa"/>
<g clip-path="url(#cp44)">
<polyline points="746.1,1420.4 747.1,1420.4 748.1,1420.4 749.1,1420.4 750.1,1420.4 751.1,1420.4 752.1,1420.4 753.1,1420.3 754.1,1420.3 755.1,1420.3 756.1,1420.3 757.1,1420.3 758.1,1420.2 759.1,1420.2 760.1,1420.1 761.1,1420.1 762.1,1420 763.1,1419.9 764.1,1419.8 765.1,1419.7 766.1,1419.6 767.1,1419.4 768.1,1419.3 769.1,1419.1 770.1,1418.8 771.1,1418.5 772.1,1418.3 773.1,1417.9 774.1,1417.5 775.1,1417 776.1,1416.6 777.1,1416 778.1,1415.3 779.1,1414.6 780.1,1413.8 781.1,1412.8 782.1,1411.8 783.1,1410.7 784.1,1409.4 785.1,1408 786.1,1406.6 787.1,1404.8 788.1,1403.2 789.1,1401.2 790.1,1398.9 791.1,1396.7 792.1,1394.1 793.1,1391.4 794.1,1388.7 795.1,1385.7 796.1,1382.4 797.1,1378.8 798.1,1375.4 799.1,1371 800.1,1367.5 801.1,1363 802.1,1358.9 803.1,1354.3 804.1,1349.7 805.1,1345 806.1,1340 807.1,1335.3 808.1,1330.3 809.1,1324.9 810.1,1319.5 811.1,1315 812.1,1309.4 813.1,1304.8 814.1,1300.2 815.1,1294.8 816.1,1290.4 817.1,1285.3 818.1,1280.8 819.1,1277.6 820.1,1273.9 821.1,1270.3 822.1,1267.2 823.1,1264.2 824.1,1261.5 825.1,1259.6 826.1,1256.9 827.1,1257.8 828.1,1256.1 829.1,1255.8 830.1,1255.4 831.1,1255.5 832.1,1256.8 833.1,1259.7 834.1,1261.7 835.1,1266.1 836.1,1269.6 837.1,1273.3 838.1,1279.3 839.1,1284.2 840.1,1288.3 841.1,1295.5 842.1,1301.6 843.1,1307 844.1,1313.4 845.1,1320.4 846.1,1326.3 847.1,1333.1 848.1,1339.3 849.1,1345.3 850.1,1351.8 851.1,1357 852.1,1362.6 853.1,1367.5 854.1,1372.6 855.1,1377.4 856.1,1381.7 857.1,1385.8 858.1,1389.6 859.1,1393.1 860.1,1396.2 861.1,1399.2 862.1,1401.7 863.1,1404.1 864.1,1406.2 865.1,1408.2 866.1,1409.8 867.1,1411.4 868.1,1412.7 869.1,1413.8 870.1,1414.8 871.1,1415.7 872.1,1416.5 873.1,1417.1 874.1,1417.6 875.1,1418.1 876.1,1418.5 877.1,1418.8 878.1,1419.1 879.1,1419.4 880.1,1419.6 881.1,1419.7 882.1,1419.9 883.1,1420 884.1,1420.1 885.1,1420.1 886.1,1420.2 887.1,1420.2 888.1,1420.3 889.1,1420.3 890.1,1420.3 891.1,1420.4 892.1,1420.4 893.1,1420.4 894.1,1420.4 895.1,1420.4 896.1,1420.4 897.1,1420.4 898.1,1420.4 899.1,1420.4 900.1,1420.4 901.1,1420.4 902.1,1420.4 903.1,1420.4 904.1,1420.4 905.1,1420.4 906.1,1420.4 907.1,1420.4 908.1,1420.4 909.1,1420.4 910.1,1420.4 911.1,1420.4 912.1,1420.4 913.1,1420.4 914.1,1420.4 915.1,1420.4 916.1,1420.4 917.1,1420.4 918.1,1420.4 919.1,1420.4 920.1,1420.4 921.1,1420.4 922.1,1420.4 923.1,1420.4 924.1,1420.4 925.1,1420.4 926.1,1420.4 927.1,1420.4 928.1,1420.4 929.1,1420.4 930.1,1420.4 931.1,1420.4 932.1,1420.4 933.1,1420.4 934.1,1420.4 935.1,1420.4 936.1,1420.4 937.1,1420.4 938.1,1420.4" fill="none" stroke="#1e1e1e" stroke-width="1.2" stroke-linejoin="round"/>
<polyline points="746.1,1420.4 747.1,1420.4 748.1,1420.4 749.1,1420.4 750.1,1420.4 751.1,1420.4 752.1,1420.4 753.1,1420.4 754.1,1420.4 755.1,1420.4 756.1,1420.4 757.1,1420.4 758.1,1420.4 759.1,1420.4 760.1,1420.4 761.1,1420.4 762.1,1420.4 763.1,1420.4 764.1,1420.4 765.1,1420.4 766.1,1420.4 767.1,1420.4 768.1,1420.4 769.1,1420.4 770.1,1420.4 771.1,1420.4 772.1,1420.4 773.1,1420.4 774.1,1420.4 775.1,1420.4 776.1,1420.4 777.1,1420.4 778.1,1420.4 779.1,1420.4 780.1,1420.4 781.1,1420.4 782.1,1420.4 783.1,1420.4 784.1,1420.4 785.1,1420.4 786.1,1420.4 787.1,1420.4 788.1,1420.4 789.1,1420.4 790.1,1420.4 791.1,1420.4 792.1,1420.4 793.1,1420.4 794.1,1420.4 795.1,1420.4 796.1,1420.4 797.1,1420.4 798.1,1420.4 799.1,1420.4 800.1,1420.4 801.1,1420.4 802.1,1420.4 803.1,1420.4 804.1,1420.4 805.1,1420.4 806.1,1420.4 807.1,1420.4 808.1,1420.4 809.1,1420.4 810.1,1420.4 811.1,1420.4 812.1,1420.4 813.1,1420.4 814.1,1420.4 815.1,1420.3 816.1,1420.3 817.1,1420.2 818.1,1420.2 819.1,1420.1 820.1,1419.9 821.1,1419.7 822.1,1419.5 823.1,1419.1 824.1,1418.7 825.1,1418.1 826.1,1417.4 827.1,1416.5 828.1,1415.4 829.1,1414 830.1,1412.2 831.1,1410.1 832.1,1407.7 833.1,1404.6 834.1,1401.1 835.1,1397 836.1,1392.3 837.1,1387 838.1,1381.2 839.1,1374.6 840.1,1366.9 841.1,1359.5 842.1,1351.4 843.1,1342 844.1,1333.1 845.1,1324.7 846.1,1315.1 847.1,1305.9 848.1,1296.9 849.1,1288.2 850.1,1281.7 851.1,1274.8 852.1,1269.2 853.1,1265.5 854.1,1261.7 855.1,1259.8 856.1,1259.7 857.1,1261.9 858.1,1265.7 859.1,1270.2 860.1,1278.4 861.1,1285.9 862.1,1296 863.1,1306.3 864.1,1316.6 865.1,1327.5 866.1,1337.8 867.1,1348.5 868.1,1358.8 869.1,1367.1 870.1,1375.5 871.1,1383.5 872.1,1389.9 873.1,1395.8 874.1,1400.4 875.1,1404.7 876.1,1408 877.1,1410.9 878.1,1413.1 879.1,1414.9 880.1,1416.3 881.1,1417.4 882.1,1418.2 883.1,1418.9 884.1,1419.3 885.1,1419.6 886.1,1419.9 887.1,1420.1 888.1,1420.2 889.1,1420.3 890.1,1420.3 891.1,1420.3 892.1,1420.4 893.1,1420.4 894.1,1420.4 895.1,1420.4 896.1,1420.4 897.1,1420.4 898.1,1420.4 899.1,1420.4 900.1,1420.4 901.1,1420.4 902.1,1420.4 903.1,1420.4 904.1,1420.4 905.1,1420.4 906.1,1420.4 907.1,1420.4 908.1,1420.4 909.1,1420.4 910.1,1420.4 911.1,1420.4 912.1,1420.4 913.1,1420.4 914.1,1420.4 915.1,1420.4 916.1,1420.4 917.1,1420.4 918.1,1420.4 919.1,1420.4 920.1,1420.4 921.1,1420.4 922.1,1420.4 923.1,1420.4 924.1,1420.4 925.1,1420.4 926.1,1420.4 927.1,1420.4 928.1,1420.4 929.1,1420.4 930.1,1420.4 931.1,1420.4 932.1,1420.4 933.1,1420.4 934.1,1420.4 935.1,1420.4 936.1,1420.4 937.1,1420.4 938.1,1420.4" fill="none" stroke="#dd3a3a" stroke-width="1.2" stroke-linejoin="round"/>
<polyline points="746.1,1420.4 747.1,1420.4 748.1,1420.4 749.1,1420.4 750.1,1420.4 751.1,1420.4 752.1,1420.4 753.1,1420.4 754.1,1420.4 755.1,1420.4 756.1,1420.4 757.1,1420.4 758.1,1420.4 759.1,1420.4 760.1,1420.4 761.1,1420.4 762.1,1420.4 763.1,1420.4 764.1,1420.4 765.1,1420.4 766.1,1420.4 767.1,1420.4 768.1,1420.4 769.1,1420.4 770.1,1420.4 771.1,1420.4 772.1,1420.4 773.1,1420.4 774.1,1420.4 775.1,1420.4 776.1,1420.4 777.1,1420.4 778.1,1420.4 779.1,1420.4 780.1,1420.4 781.1,1420.4 782.1,1420.4 783.1,1420.4 784.1,1420.4 785.1,1420.4 786.1,1420.4 787.1,1420.4 788.1,1420.4 789.1,1420.4 790.1,1420.4 791.1,1420.4 792.1,1420.4 793.1,1420.4 794.1,1420.4 795.1,1420.4 796.1,1420.4 797.1,1420.4 798.1,1420.4 799.1,1420.4 800.1,1420.4 801.1,1420.4 802.1,1420.4 803.1,1420.4 804.1,1420.4 805.1,1420.4 806.1,1420.4 807.1,1420.4 808.1,1420.4 809.1,1420.4 810.1,1420.4 811.1,1420.4 812.1,1420.4 813.1,1420.4 814.1,1420.4 815.1,1420.4 816.1,1420.4 817.1,1420.4 818.1,1420.4 819.1,1420.4 820.1,1420.4 821.1,1420.4 822.1,1420.4 823.1,1420.4 824.1,1420.4 825.1,1420.4 826.1,1420.4 827.1,1420.4 828.1,1420.4 829.1,1420.4 830.1,1420.4 831.1,1420.4 832.1,1420.4 833.1,1420.4 834.1,1420.4 835.1,1420.4 836.1,1420.4 837.1,1420.4 838.1,1420.4 839.1,1420.4 840.1,1420.4 841.1,1420.4 842.1,1420.4 843.1,1420.4 844.1,1420.4 845.1,1420.4 846.1,1420.4 847.1,1420.3 848.1,1420.3 849.1,1420.2 850.1,1420.2 851.1,1420 852.1,1419.9 853.1,1419.7 854.1,1419.5 855.1,1419.1 856.1,1418.7 857.1,1418.1 858.1,1417.4 859.1,1416.4 860.1,1415.3 861.1,1413.8 862.1,1412.1 863.1,1409.9 864.1,1407.3 865.1,1404.1 866.1,1400.7 867.1,1396.6 868.1,1391.8 869.1,1386 870.1,1380.2 871.1,1373 872.1,1365.6 873.1,1357.1 874.1,1349.1 875.1,1339.7 876.1,1330.1 877.1,1320.5 878.1,1311.2 879.1,1302.3 880.1,1292.5 881.1,1284.4 882.1,1275.1 883.1,1269.5 884.1,1263 885.1,1258.3 886.1,1254.4 887.1,1253.1 888.1,1252.5 889.1,1254.4 890.1,1257.8 891.1,1260.3 892.1,1264.6 893.1,1270.9 894.1,1278.7 895.1,1285.3 896.1,1294.6 897.1,1302.3 898.1,1312.6 899.1,1321.2 900.1,1330.5 901.1,1339.8 902.1,1348.2 903.1,1357 904.1,1364.5 905.1,1371.8 906.1,1378.5 907.1,1384.3 908.1,1389.9 909.1,1394.7 910.1,1398.9 911.1,1402.7 912.1,1405.7 913.1,1408.5 914.1,1410.8 915.1,1412.7 916.1,1414.3 917.1,1415.6 918.1,1416.6 919.1,1417.5 920.1,1418.2 921.1,1418.7 922.1,1419.1 923.1,1419.4 924.1,1419.7 925.1,1419.9 926.1,1420 927.1,1420.1 928.1,1420.2 929.1,1420.3 930.1,1420.3 931.1,1420.3 932.1,1420.4 933.1,1420.4 934.1,1420.4 935.1,1420.4 936.1,1420.4 937.1,1420.4 938.1,1420.4" fill="none" stroke="#4444e8" stroke-width="1.2" stroke-linejoin="round"/>
</g>
<rect x="744.6" y="1242.9" width="195.6" height="179.1" fill="none" stroke="#262626" stroke-width="2"/>
<clipPath id="cp45"><rect x="952.6" y="1241.5" width="192.4" height="177.7"/></clipPath>
<rect x="952.6" y="1241.5" width="192.4" height="177.7" fill="#f7f8fa"/>
<g clip-path="url(#cp45)">
<polygon points="1010.9,1363.1 1015.5,1340.2 1020.1,1317.2 1022.4,1294.3 1024.7,1271.3 1027,1248.4 1033.8,1241.5 1061.4,1241.5 1070.6,1253 1079.8,1275.9 1079.8,1298.9 1070.6,1321.8 1056.8,1344.8 1043,1363.1 1029.3,1376.9 1015.5,1376.9" fill="#0000f0" stroke="#0000f0" stroke-width="1.6" stroke-linejoin="round"/>
<path d="M1067 1253h2M1075 1303h2M1069 1321h2M1031 1253h2M1022 1310h2M1012 1364h2M1057 1336h2M1026 1271h2M1074 1309h2M1073 1310h2M1015 1373h2M1016 1355h2M1067 1320h2M1067 1251h2M1076 1287h2M1068 1322h2M1026 1377h2M1017 1332h2M1056 1341h2M1030 1372h2M1016 1356h2M1028 1276h2M1067 1255h2M1035 1367h2M1072 1264h2M1024 1312h2M1034 1371h2M1031 1256h2M1032 1250h2M1020 1327h2M1076 1293h2M1024 1287h2M1042 1362h2" stroke="#f7f8fa" stroke-width="2" fill="none"/>
<path d="M1020 1316h2M1012 1332h2M1078 1248h2M1011 1346h2M1012 1373h2M1089 1306h2M1020 1252h2M1030 1246h2M1084 1300h2M1016 1310h2M1014 1332h2M1042 1373h2M1010 1371h2M1014 1377h2M1021 1291h2M1019 1268h2M1008 1371h2M1073 1260h2M1082 1293h2M1078 1306h2M1019 1321h2M1012 1375h2M1025 1251h2M1020 1318h2M1085 1272h2M1084 1293h2M1060 1341h2M1023 1265h2M1089 1312h2M1048 1358h2M1025 1255h2M1067 1247h2M1069 1250h2M1002 1357h2M1021 1304h2M1047 1364h2M1014 1347h2M1023 1272h2M1024 1265h2M1021 1306h2M1062 1340h2M1020 1315h2M1068 1247h2M1012 1299h2M1017 1324h2M1072 1321h2M1018 1294h2M1080 1292h2M1025 1255h2M1009 1353h2M1051 1362h2M1066 1330h2M1072 1325h2M1088 1311h2M1021 1279h2M1036 1376h2M1007 1364h2M1005 1327h2M1019 1283h2M1018 1280h2M1085 1287h2M1064 1342h2M1007 1368h2M1064 1244h2M1014 1294h2M1040 1369h2M1081 1275h2M1027 1248h2M1015 1325h2M1042 1373h2M1024 1268h2M1024 1381h2M1019 1271h2M1015 1328h2M1017 1270h2M1017 1326h2M1074 1318h2M1052 1353h2M1010 1354h2M1073 1347h2M1066 1332h2M1026 1246h2M1005 1317h2M1023 1254h2M1078 1269h2M1081 1285h2M1014 1314h2M1067 1330h2M1023 1285h2M1058 1344h2M1028 1383h2M1084 1276h2M1068 1333h2M1075 1328h2M1010 1335h2M1009 1365h2M1058 1353h2M1006 1311h2M1015 1280h2M1074 1317h2" stroke="#0000f0" stroke-width="2" fill="none"/>
<path d="M1035 1372.5h3M1077 1267.5h3M1080 1301.5h3M1045 1366.5h3M1018 1310.5h3M1020 1316.5h3M1070 1246.5h3M1021 1281.5h3M1017 1295.5h3M1082 1285.5h3M1020 1381.5h3M1079 1309.5h3M1079 1304.5h3M1016 1337.5h3M1011 1355.5h3M1010 1370.5h3M1057 1350.5h3M1017 1378.5h3M1077 1308.5h3M1044 1364.5h3M1055 1351.5h3M1024 1264.5h3M1081 1285.5h3M1022 1273.5h3M1072 1323.5h3M1080 1288.5h3M1023 1265.5h3M1074 1258.5h3M1083 1297.5h3M1021 1300.5h3M1081 1275.5h3M1019 1317.5h3M1037 1372.5h3M1018 1316.5h3M1054 1353.5h3M1070 1326.5h3M1084 1277.5h3M1041 1367.5h3M1080 1309.5h3M1080 1278.5h3M1024 1281.5h3M1041 1368.5h3M1002 1266.5h3M1020 1386.5h3M1069 1369.5h3M1040 1373.5h3M1001 1337.5h3M1003 1358.5h3M1090 1360.5h3M1089 1331.5h3M1092 1382.5h3" stroke="#1c1c9a" stroke-width="3" fill="none"/>
<path d="M1096 1312h2M1118 1313h2M1122 1269h2M1103 1272h2M1105 1298h2M1072 1328h2M1075 1269h2M1098 1352h2M1103 1308h2M1089 1351h2M1106 1305h2M1106 1336h2M1070 1247h2M1102 1339h2M1078 1287h2M1099 1260h2M1092 1312h2M1068 1292h2M1089 1246h2M1072 1268h2M1108 1274h2M1126 1281h2M1086 1290h2M1116 1245h2M1084 1311h2M1086 1257h2M1108 1316h2M1072 1287h2M1091 1337h2M1083 1269h2M1112 1326h2M1125 1309h2M1093 1361h2M1121 1332h2M1093 1287h2M1124 1272h2M1066 1255h2M1090 1291h2M1100 1340h2M1116 1245h2M1071 1293h2M1070 1270h2" stroke="#0000f0" stroke-width="2" fill="none"/>
<path d="M1089 1251.5h3M1092 1355.5h3M1097 1344.5h3M1109 1354.5h3M1099 1332.5h3M1100 1247.5h3M1103 1346.5h3M1129 1330.5h3M1077 1288.5h3M1105 1322.5h3M1080 1348.5h3M1114 1305.5h3M1109 1281.5h3M1074 1302.5h3M1128 1305.5h3M1094 1281.5h3M1098 1259.5h3M1078 1252.5h3M1085 1359.5h3M1115 1245.5h3M1101 1292.5h3M1068 1265.5h3M1098 1281.5h3M1095 1252.5h3M1125 1335.5h3M1098 1301.5h3M1107 1347.5h3M1119 1248.5h3" stroke="#1c1c9a" stroke-width="3" fill="none"/>
<polygon points="955.8,1367.7 969.6,1358.6 983.3,1349.4 997.1,1340.2 1010.9,1331 1020.1,1321.8 1029.3,1319.5 1033.8,1335.6 1024.7,1354 1015.5,1372.3 1008.6,1390.7 1004,1418.2 960.4,1418.2 955.8,1404.5" fill="#000000" stroke="#000000" stroke-width="1.6" stroke-linejoin="round"/>
<path d="M1008 1385h2M978 1355h2M1011 1382h2M1002 1340h2M1010 1338h2M963 1364h2M962 1369h2M961 1408h2M993 1347h2M1031 1332h2M1011 1375h2M978 1355h2M1023 1352h2M1014 1333h2M1017 1330h2M989 1351h2M975 1361h2M976 1356h2M1019 1330h2M1003 1398h2M1028 1345h2M997 1343h2M1024 1353h2M1007 1387h2M1015 1373h2M959 1379h2M993 1347h2M1016 1334h2" stroke="#f7f8fa" stroke-width="2" fill="none"/>
<path d="M996 1334h2M1039 1334h2M1009 1393h2M1030 1353h2M980 1348h2M1019 1378h2M959 1415h2M1014 1326h2M968 1348h2M967 1359h2M1012 1331h2M1032 1316h2M1009 1397h2M986 1340h2M955 1388h2M1028 1356h2M1027 1351h2M1033 1323h2M979 1347h2M1034 1337h2M1014 1383h2M1011 1328h2M1007 1330h2M1040 1331h2M1020 1370h2M975 1352h2M954 1398h2M1019 1323h2M1042 1363h2M1023 1376h2M1034 1339h2M1008 1413h2M1031 1320h2M964 1363h2M972 1358h2M1031 1342h2M1008 1323h2M1011 1394h2M1018 1318h2M1012 1398h2M1024 1371h2M970 1347h2M1034 1349h2M997 1331h2M973 1357h2M973 1353h2M1035 1342h2M1021 1371h2M1017 1326h2M1039 1316h2M1018 1387h2M1019 1368h2M1021 1364h2M1001 1336h2M1028 1353h2M1027 1363h2M994 1335h2M987 1345h2M954 1365h2M967 1358h2M1035 1353h2M975 1354h2M1033 1329h2M964 1362h2M954 1386h2M1028 1311h2M1020 1371h2M997 1341h2M969 1357h2M1011 1393h2M994 1335h2M955 1378h2M1012 1393h2M1032 1327h2M1010 1390h2M1024 1322h2M954 1406h2M1030 1364h2M1012 1388h2M973 1355h2M1022 1362h2M1024 1318h2" stroke="#000000" stroke-width="2" fill="none"/>
<path d="M969 1357.5h3M1004 1326.5h3M954 1374.5h3M999 1337.5h3M1009 1410.5h3M964 1344.5h3M984 1338.5h3M1025 1315.5h3M955 1378.5h3M1040 1329.5h3M1006 1332.5h3M976 1354.5h3M956 1416.5h3M1025 1315.5h3M967 1357.5h3M1011 1388.5h3M968 1356.5h3M1010 1332.5h3M963 1362.5h3M1006 1408.5h3M996 1341.5h3M996 1338.5h3M1007 1322.5h3M955 1399.5h3M956 1387.5h3M1028 1357.5h3M955 1401.5h3M956 1407.5h3M1011 1321.5h3M1033 1341.5h3M1017 1386.5h3M956 1413.5h3M1015 1398.5h3M960 1359.5h3M1010 1393.5h3M965 1351.5h3M1035 1329.5h3M1024 1357.5h3M1013 1395.5h3M1050 1340.5h3M1049 1353.5h3M1022 1367.5h3M983 1337.5h3M1028 1414.5h3M961 1338.5h3M1009 1391.5h3M972 1335.5h3M1045 1335.5h3M1032 1326.5h3" stroke="#000000" stroke-width="3" fill="none"/>
</g>
<rect x="952.6" y="1241.5" width="192.4" height="177.7" fill="none" stroke="#262626" stroke-width="2"/>
<clipPath id="cp46"><rect x="1157.8" y="1241.5" width="194.2" height="177.7"/></clipPath>
<rect x="1157.8" y="1241.5" width="194.2" height="177.7" fill="#f7f8fa"/>
<g clip-path="url(#cp46)">
<polygon points="1187.7,1344.8 1194.5,1326.4 1203.7,1308.1 1212.9,1289.7 1222.1,1271.3 1231.3,1253 1240.5,1241.5 1258.8,1241.5 1261.1,1257.5 1254.2,1280.5 1249.6,1303.5 1245.1,1321.8 1233.6,1340.2 1222.1,1349.4 1199.1,1354" fill="#0000f0" stroke="#0000f0" stroke-width="1.6" stroke-linejoin="round"/>
<path d="M1219 1351h2M1194 1330h2M1234 1254h2M1252 1286h2M1216 1293h2M1239 1327h2M1255 1249h2M1227 1340h2M1237 1252h2M1209 1300h2M1212 1301h2M1237 1250h2M1197 1331h2M1210 1350h2M1251 1287h2M1258 1254h2M1213 1291h2M1256 1263h2M1221 1280h2M1244 1311h2M1251 1289h2M1229 1263h2M1252 1282h2M1202 1351h2M1221 1275h2M1199 1320h2M1205 1309h2M1241 1321h2M1245 1323h2" stroke="#f7f8fa" stroke-width="2" fill="none"/>
<path d="M1257 1276h2M1212 1288h2M1214 1285h2M1217 1353h2M1208 1295h2M1235 1245h2M1201 1310h2M1222 1355h2M1249 1318h2M1209 1253h2M1257 1280h2M1259 1270h2M1189 1361h2M1211 1357h2M1229 1347h2M1261 1274h2M1217 1281h2M1178 1340h2M1263 1259h2M1197 1354h2M1228 1347h2M1227 1262h2M1235 1245h2M1199 1361h2M1191 1336h2M1257 1287h2M1186 1345h2M1227 1251h2M1225 1360h2M1196 1357h2M1190 1352h2M1181 1301h2M1217 1281h2M1264 1273h2M1232 1252h2M1261 1252h2M1190 1350h2M1257 1288h2M1260 1283h2M1184 1352h2M1234 1341h2M1262 1267h2M1263 1278h2M1207 1301h2M1224 1357h2M1189 1337h2M1197 1319h2M1254 1291h2M1262 1260h2M1221 1270h2M1208 1364h2M1203 1304h2M1200 1305h2M1253 1327h2M1241 1336h2M1225 1256h2M1204 1289h2M1222 1354h2M1251 1316h2M1256 1278h2M1244 1343h2M1197 1360h2M1247 1326h2M1199 1314h2M1259 1275h2M1217 1276h2M1181 1337h2M1258 1270h2M1181 1345h2M1214 1352h2M1238 1337h2M1258 1274h2M1213 1361h2M1253 1337h2M1246 1324h2M1203 1284h2M1213 1280h2M1187 1325h2M1201 1306h2M1258 1278h2M1255 1288h2M1190 1334h2" stroke="#0000f0" stroke-width="2" fill="none"/>
<path d="M1264 1274.5h3M1251 1312.5h3M1253 1302.5h3M1205 1356.5h3M1208 1289.5h3M1260 1327.5h3M1238 1334.5h3M1192 1324.5h3M1202 1355.5h3M1201 1311.5h3M1248 1314.5h3M1231 1253.5h3M1218 1277.5h3M1184 1343.5h3M1245 1322.5h3M1250 1303.5h3M1216 1278.5h3M1233 1345.5h3M1258 1270.5h3M1213 1353.5h3M1213 1287.5h3M1218 1276.5h3M1194 1310.5h3M1260 1267.5h3M1193 1330.5h3M1187 1333.5h3M1229 1255.5h3M1249 1320.5h3M1216 1353.5h3M1256 1329.5h3M1213 1353.5h3M1195 1360.5h3M1207 1269.5h3M1259 1290.5h3M1225 1252.5h3M1263 1264.5h3M1188 1335.5h3M1251 1299.5h3M1195 1303.5h3M1262 1268.5h3M1254 1333.5h3M1266 1279.5h3M1184 1299.5h3M1251 1315.5h3M1194 1304.5h3M1193 1357.5h3M1213 1291.5h3M1250 1348.5h3M1277 1299.5h3M1253 1339.5h3" stroke="#1c1c9a" stroke-width="3" fill="none"/>
<path d="M1271 1319h2M1265 1290h2M1288 1274h2M1286 1277h2M1255 1251h2M1259 1300h2M1282 1280h2M1290 1305h2M1271 1313h2M1265 1313h2M1298 1260h2M1296 1299h2M1259 1295h2M1275 1299h2M1293 1303h2M1253 1299h2M1259 1315h2M1257 1306h2M1296 1285h2M1270 1274h2M1297 1316h2M1261 1313h2M1252 1282h2M1259 1316h2M1259 1276h2M1264 1294h2M1297 1321h2" stroke="#0000f0" stroke-width="2" fill="none"/>
<path d="M1256 1291.5h3M1268 1301.5h3M1253 1253.5h3M1251 1285.5h3M1257 1295.5h3M1289 1259.5h3M1282 1250.5h3M1259 1331.5h3M1295 1317.5h3M1256 1292.5h3M1271 1305.5h3M1299 1283.5h3M1289 1257.5h3" stroke="#1c1c9a" stroke-width="3" fill="none"/>
<polygon points="1160.1,1354 1176.2,1347.1 1194.5,1340.2 1208.3,1331 1222.1,1317.2 1231.3,1308.1 1240.5,1310.3 1235.9,1331 1229,1349.4 1224.4,1367.7 1222.1,1390.7 1219.8,1418.2 1160.1,1418.2" fill="#000000" stroke="#000000" stroke-width="1.6" stroke-linejoin="round"/>
<path d="M1222 1365h2M1182 1351h2M1175 1353h2M1164 1361h2M1220 1409h2M1201 1341h2M1224 1350h2M1219 1404h2M1167 1355h2M1221 1394h2M1237 1324h2M1229 1349h2M1218 1406h2M1236 1324h2M1223 1360h2M1165 1379h2M1165 1388h2M1197 1340h2M1165 1356h2M1221 1394h2M1164 1366h2M1220 1395h2M1236 1314h2M1232 1313h2M1230 1316h2M1226 1315h2M1190 1346h2M1236 1313h2M1177 1350h2M1164 1380h2M1202 1337h2M1177 1351h2" stroke="#f7f8fa" stroke-width="2" fill="none"/>
<path d="M1233 1342h2M1160 1355h2M1165 1350h2M1240 1329h2M1210 1329h2M1238 1336h2M1243 1337h2M1224 1410h2M1238 1332h2M1227 1365h2M1224 1313h2M1229 1393h2M1231 1356h2M1181 1323h2M1231 1347h2M1233 1306h2M1160 1393h2M1225 1309h2M1224 1382h2M1241 1310h2M1246 1314h2M1229 1367h2M1168 1350h2M1160 1414h2M1230 1373h2M1161 1352h2M1233 1342h2M1228 1361h2M1159 1413h2M1192 1335h2M1211 1330h2M1227 1381h2M1229 1352h2M1191 1330h2M1231 1353h2M1200 1325h2M1159 1408h2M1222 1316h2M1169 1346h2M1217 1321h2M1231 1404h2M1230 1354h2M1227 1306h2M1165 1347h2M1226 1394h2M1226 1379h2M1237 1327h2M1223 1317h2M1246 1324h2M1183 1335h2M1160 1409h2M1219 1320h2M1231 1353h2M1206 1328h2M1230 1305h2M1196 1337h2M1249 1341h2M1224 1399h2M1224 1399h2M1212 1326h2M1164 1336h2M1238 1321h2M1159 1341h2M1221 1415h2M1231 1355h2M1177 1347h2M1214 1324h2M1228 1370h2M1222 1400h2M1223 1309h2M1212 1321h2M1228 1411h2M1173 1349h2M1243 1309h2M1224 1388h2M1216 1322h2M1231 1349h2M1241 1301h2M1206 1331h2M1225 1369h2M1219 1316h2M1229 1353h2M1230 1366h2M1179 1346h2M1242 1313h2M1217 1323h2M1227 1400h2M1227 1416h2M1224 1314h2M1226 1370h2M1244 1353h2" stroke="#000000" stroke-width="2" fill="none"/>
<path d="M1233 1351.5h3M1241 1309.5h3M1231 1302.5h3M1237 1342.5h3M1191 1321.5h3M1235 1337.5h3M1227 1362.5h3M1165 1350.5h3M1227 1392.5h3M1159 1416.5h3M1196 1333.5h3M1238 1310.5h3M1179 1345.5h3M1208 1328.5h3M1229 1350.5h3M1181 1339.5h3M1231 1349.5h3M1221 1411.5h3M1168 1344.5h3M1219 1321.5h3M1237 1398.5h3M1226 1383.5h3M1232 1308.5h3M1159 1414.5h3M1224 1390.5h3M1226 1366.5h3M1175 1348.5h3M1223 1413.5h3M1199 1337.5h3M1179 1347.5h3M1189 1340.5h3M1214 1323.5h3M1172 1343.5h3M1234 1340.5h3M1238 1330.5h3M1221 1416.5h3M1244 1329.5h3M1238 1335.5h3M1182 1337.5h3M1164 1339.5h3M1239 1323.5h3M1183 1345.5h3M1181 1346.5h3M1225 1314.5h3M1181 1343.5h3M1225 1379.5h3M1246 1316.5h3M1238 1394.5h3M1233 1390.5h3M1182 1272.5h3M1244 1336.5h3M1252 1314.5h3M1245 1321.5h3M1253 1326.5h3M1255 1280.5h3M1187 1331.5h3M1163 1293.5h3" stroke="#000000" stroke-width="3" fill="none"/>
</g>
<rect x="1157.8" y="1241.5" width="194.2" height="177.7" fill="none" stroke="#262626" stroke-width="2"/>
<clipPath id="cp51"><rect x="121.5" y="1430.1" width="197.1" height="178.7"/></clipPath>
<rect x="121.5" y="1430.1" width="197.1" height="178.7" fill="#f7f8fa"/>
<g clip-path="url(#cp51)">
<polygon points="142.2,1493.7 151.5,1479.9 165.3,1470.7 183.7,1463.8 206.7,1459.2 229.8,1455.9 257.4,1453.2 285,1452.2 317.3,1451.3 317.3,1468.4 294.2,1468.4 271.2,1470.7 248.2,1475.3 229.8,1484.5 211.3,1493.7 192.9,1500.6 174.5,1505.2 156.1,1507.5 142.2,1505.2" fill="#e00404" stroke="#e00404" stroke-width="1.6" stroke-linejoin="round"/>
<path d="M238 1480h2M242 1474h2M170 1472h2M248 1458h2M299 1456h2M232 1480h2M151 1487h2M202 1495h2M153 1507h2M177 1470h2M191 1465h2M211 1493h2M185 1502h2M220 1463h2M311 1465h2M151 1483h2M183 1468h2M179 1470h2M268 1457h2M301 1466h2M268 1457h2M208 1494h2M223 1489h2M221 1462h2M147 1504h2M199 1498h2M303 1456h2M276 1457h2M160 1478h2M271 1468h2M207 1492h2M233 1461h2M153 1484h2M205 1461h2M278 1470h2M227 1484h2M214 1460h2M176 1471h2M245 1460h2" stroke="#f7f8fa" stroke-width="2" fill="none"/>
<path d="M243 1480h2M223 1456h2M298 1473h2M298 1451h2M277 1474h2M175 1508h2M182 1464h2M303 1470h2M163 1462h2M256 1476h2M228 1457h2M173 1449h2M160 1474h2M282 1473h2M234 1483h2M291 1450h2M307 1449h2M168 1466h2M284 1473h2M239 1483h2M163 1511h2M140 1496h2M150 1471h2M175 1466h2M289 1450h2M173 1511h2M292 1471h2M303 1476h2M232 1454h2M218 1493h2M281 1471h2M270 1474h2M189 1506h2M233 1487h2M234 1488h2M264 1476h2M303 1452h2M242 1455h2M246 1481h2M197 1500h2M206 1500h2M190 1503h2M282 1453h2M215 1494h2M284 1478h2M141 1490h2M186 1509h2M173 1468h2M185 1506h2M267 1474h2M156 1518h2M148 1514h2M138 1498h2M258 1476h2M204 1458h2M227 1487h2M294 1469h2M296 1448h2M222 1494h2M154 1473h2M152 1509h2M221 1495h2M132 1501h2M245 1480h2M303 1452h2M293 1451h2M137 1486h2M260 1447h2M165 1515h2M232 1455h2M157 1510h2M203 1504h2M296 1448h2M302 1452h2M222 1490h2M311 1472h2M161 1512h2M263 1475h2M177 1506h2M298 1447h2M294 1449h2M296 1453h2M187 1464h2M204 1460h2M196 1460h2M191 1503h2M265 1475h2M169 1512h2M300 1452h2M185 1464h2M162 1513h2M159 1514h2M152 1510h2M143 1493h2M234 1448h2M270 1450h2M239 1447h2M292 1473h2M313 1452h2M254 1455h2M142 1507h2M252 1477h2M300 1452h2M225 1490h2M236 1451h2M174 1510h2M308 1487h2M166 1470h2M145 1511h2M302 1470h2" stroke="#e00404" stroke-width="2" fill="none"/>
<path d="M141 1507.5h3M311 1447.5h3M203 1457.5h3M221 1457.5h3M139 1512.5h3M289 1452.5h3M196 1509.5h3M176 1467.5h3M142 1501.5h3M258 1475.5h3M171 1507.5h3M208 1507.5h3M224 1451.5h3M232 1485.5h3M306 1473.5h3M207 1500.5h3M155 1509.5h3M152 1479.5h3M216 1495.5h3M173 1467.5h3M235 1484.5h3M304 1451.5h3M180 1509.5h3M168 1510.5h3M139 1486.5h3M294 1443.5h3M180 1466.5h3M300 1475.5h3M276 1452.5h3M151 1454.5h3M257 1453.5h3M231 1487.5h3M305 1453.5h3M291 1479.5h3M140 1490.5h3M272 1476.5h3M148 1470.5h3M290 1474.5h3M256 1454.5h3M160 1509.5h3M235 1492.5h3M137 1495.5h3M220 1494.5h3M238 1487.5h3M313 1451.5h3M142 1498.5h3M253 1452.5h3M177 1465.5h3M255 1483.5h3M219 1455.5h3M218 1458.5h3M178 1507.5h3M267 1451.5h3M173 1510.5h3M185 1504.5h3M215 1452.5h3M285 1473.5h3M313 1472.5h3M182 1507.5h3M222 1446.5h3M177 1467.5h3M141 1440.5h3M173 1517.5h3M211 1445.5h3M190 1443.5h3M158 1456.5h3M281 1435.5h3" stroke="#a01010" stroke-width="3" fill="none"/>
<path d="M188 1490h2M179 1473h2M289 1468h2M236 1461h2M241 1479h2M182 1500h2M204 1501h2M195 1496h2M201 1506h2M300 1493h2M286 1496h2M177 1502h2M197 1478h2M131 1507h2M181 1499h2M142 1513h2M175 1505h2M225 1462h2M213 1459h2M202 1490h2M169 1485h2M300 1490h2M260 1455h2M130 1502h2M287 1466h2M233 1469h2M196 1480h2M301 1489h2M171 1509h2M305 1455h2M302 1485h2M127 1511h2" stroke="#e00404" stroke-width="2" fill="none"/>
<path d="M161 1472.5h3M269 1463.5h3M227 1487.5h3M148 1493.5h3M277 1483.5h3M263 1473.5h3M165 1469.5h3M190 1494.5h3M211 1485.5h3M164 1500.5h3M295 1489.5h3M155 1480.5h3M150 1492.5h3M252 1478.5h3M236 1496.5h3M181 1490.5h3M173 1481.5h3M206 1491.5h3" stroke="#a01010" stroke-width="3" fill="none"/>
<polygon points="122.9,1549 137.6,1544.4 156.1,1537.5 174.5,1530.5 192.9,1525.9 213.6,1521.3 211.3,1532.9 197.5,1544.4 179.1,1558.2 160.7,1567.4 142.2,1576.6 122.9,1574.3" fill="#000000" stroke="#000000" stroke-width="1.6" stroke-linejoin="round"/>
<path d="M185 1550h2M186 1553h2M190 1545h2M205 1526h2M166 1562h2M196 1542h2M198 1526h2M144 1547h2M190 1531h2M135 1574h2M128 1575h2M209 1524h2M212 1527h2M148 1574h2M145 1574h2M192 1531h2M195 1544h2M156 1570h2M205 1537h2M131 1575h2M179 1558h2M204 1538h2M183 1553h2" stroke="#f7f8fa" stroke-width="2" fill="none"/>
<path d="M152 1574h2M143 1535h2M132 1544h2M175 1527h2M188 1517h2M181 1563h2M188 1528h2M165 1535h2M172 1581h2M160 1536h2M218 1524h2M174 1531h2M176 1530h2M156 1533h2M173 1569h2M174 1569h2M154 1579h2M210 1515h2M199 1554h2M203 1521h2M143 1538h2M151 1574h2M153 1532h2M161 1536h2M125 1539h2M173 1531h2M153 1528h2M216 1537h2M154 1572h2M160 1532h2M155 1573h2M207 1522h2M177 1562h2M124 1547h2M137 1580h2M170 1569h2M153 1573h2M213 1531h2M148 1541h2M123 1573h2M169 1532h2M212 1538h2M142 1579h2M189 1553h2M160 1571h2M208 1515h2M171 1566h2M186 1567h2M170 1565h2M173 1530h2M137 1579h2M186 1560h2M165 1568h2M218 1520h2M208 1544h2M145 1535h2M138 1539h2M217 1527h2M213 1535h2M143 1542h2M208 1545h2M217 1524h2M143 1543h2M191 1525h2M201 1525h2M160 1536h2M215 1536h2M184 1529h2M206 1542h2M208 1519h2M168 1521h2" stroke="#000000" stroke-width="2" fill="none"/>
<path d="M160 1537.5h3M171 1573.5h3M135 1578.5h3M179 1563.5h3M191 1563.5h3M125 1548.5h3M202 1519.5h3M148 1540.5h3M174 1564.5h3M141 1541.5h3M187 1527.5h3M174 1532.5h3M123 1580.5h3M155 1575.5h3M148 1540.5h3M181 1562.5h3M172 1569.5h3M209 1519.5h3M207 1523.5h3M159 1572.5h3M152 1535.5h3M184 1522.5h3M208 1538.5h3M176 1564.5h3M129 1543.5h3M166 1526.5h3M199 1546.5h3M209 1507.5h3M170 1515.5h3M233 1556.5h3M176 1570.5h3M219 1579.5h3M206 1522.5h3M124 1530.5h3M164 1572.5h3M172 1527.5h3M154 1507.5h3" stroke="#000000" stroke-width="3" fill="none"/>
<path d="M216 1547h2M237 1513h2M253 1529h2M217 1519h2M242 1525h2M273 1548h2M271 1532h2" stroke="#000000" stroke-width="2" fill="none"/>
<path d="M223 1549.5h3M274 1553.5h3M258 1543.5h3M212 1545.5h3M224 1526.5h3M258 1551.5h3M233 1530.5h3M217 1519.5h3" stroke="#000000" stroke-width="3" fill="none"/>
</g>
<rect x="121.5" y="1430.1" width="197.1" height="178.7" fill="none" stroke="#262626" stroke-width="2"/>
<clipPath id="cp52"><rect x="329.7" y="1431.5" width="198.1" height="177.3"/></clipPath>
<rect x="329.7" y="1431.5" width="198.1" height="177.3" fill="#f7f8fa"/>
<g clip-path="url(#cp52)">
<polygon points="349.5,1484.5 363.3,1470.7 386.4,1461.5 409.4,1454.5 432.4,1452.2 450.9,1456.8 469.3,1452.2 496.9,1443 526.9,1438.4 526.9,1466.1 501.5,1470.7 478.5,1475.3 460.1,1484.5 441.6,1498.3 423.2,1507.5 400.2,1509.8 377.2,1505.2 358.7,1498.3" fill="#e00404" stroke="#e00404" stroke-width="1.6" stroke-linejoin="round"/>
<path d="M482 1450h2M409 1457h2M411 1508h2M470 1480h2M424 1505h2M511 1465h2M402 1461h2M370 1472h2M383 1504h2M446 1460h2M521 1443h2M393 1461h2M401 1508h2M398 1463h2M471 1455h2M382 1467h2M380 1506h2M490 1469h2M426 1503h2M434 1501h2M430 1500h2M476 1477h2M481 1471h2M496 1448h2M513 1467h2M356 1489h2M505 1445h2M442 1459h2M367 1498h2M442 1496h2M454 1461h2M435 1456h2M519 1466h2M358 1480h2M433 1499h2M477 1455h2M417 1507h2M377 1504h2M513 1466h2M445 1457h2M403 1459h2" stroke="#f7f8fa" stroke-width="2" fill="none"/>
<path d="M465 1449h2M429 1449h2M474 1444h2M441 1453h2M353 1500h2M350 1475h2M475 1449h2M443 1453h2M516 1441h2M487 1440h2M414 1510h2M496 1435h2M451 1495h2M430 1451h2M505 1443h2M394 1451h2M453 1493h2M512 1434h2M389 1456h2M404 1452h2M346 1466h2M353 1495h2M458 1490h2M516 1470h2M514 1470h2M524 1468h2M439 1452h2M445 1509h2M398 1458h2M391 1454h2M497 1476h2M505 1473h2M349 1475h2M356 1474h2M480 1449h2M436 1454h2M516 1439h2M400 1457h2M375 1465h2M360 1463h2M460 1489h2M384 1509h2M447 1498h2M364 1502h2M375 1512h2M354 1497h2M520 1477h2M368 1468h2M504 1476h2M484 1443h2M495 1444h2M344 1476h2M472 1486h2M479 1485h2M390 1509h2M400 1458h2M366 1508h2M355 1494h2M470 1453h2M506 1478h2M384 1511h2M449 1494h2M373 1505h2M410 1452h2M349 1488h2M473 1446h2M490 1446h2M392 1510h2M469 1452h2M417 1450h2M516 1470h2M415 1511h2M352 1478h2M451 1496h2M514 1438h2M516 1470h2M459 1455h2M420 1518h2M462 1442h2M442 1455h2M425 1509h2M464 1453h2M461 1486h2M406 1511h2M465 1492h2M394 1516h2M461 1492h2M352 1481h2M486 1444h2M510 1435h2M445 1454h2M485 1447h2M520 1470h2M423 1510h2M505 1477h2M515 1439h2M435 1447h2M436 1504h2M410 1455h2M375 1507h2M390 1509h2M430 1450h2M391 1460h2M360 1474h2M447 1497h2M519 1434h2" stroke="#e00404" stroke-width="2" fill="none"/>
<path d="M394 1510.5h3M507 1434.5h3M396 1518.5h3M344 1485.5h3M410 1454.5h3M520 1470.5h3M450 1497.5h3M420 1509.5h3M403 1511.5h3M352 1491.5h3M499 1441.5h3M487 1443.5h3M410 1510.5h3M509 1440.5h3M437 1502.5h3M369 1504.5h3M400 1512.5h3M378 1462.5h3M384 1509.5h3M463 1451.5h3M438 1451.5h3M501 1442.5h3M495 1474.5h3M354 1469.5h3M470 1448.5h3M482 1479.5h3M365 1502.5h3M449 1454.5h3M365 1505.5h3M364 1504.5h3M522 1473.5h3M475 1478.5h3M506 1472.5h3M363 1472.5h3M386 1447.5h3M351 1493.5h3M443 1453.5h3M485 1486.5h3M443 1499.5h3M361 1504.5h3M388 1510.5h3M363 1501.5h3M522 1436.5h3M429 1508.5h3M402 1455.5h3M397 1459.5h3M438 1452.5h3M461 1485.5h3M351 1477.5h3M394 1515.5h3M354 1497.5h3M506 1486.5h3M373 1514.5h3M454 1450.5h3M370 1466.5h3M465 1485.5h3M353 1492.5h3M466 1448.5h3M363 1509.5h3M360 1501.5h3M368 1506.5h3M463 1484.5h3M427 1509.5h3M352 1491.5h3M415 1454.5h3M358 1503.5h3M424 1453.5h3M389 1513.5h3M505 1522.5h3M477 1443.5h3M367 1508.5h3M467 1514.5h3M381 1523.5h3M477 1525.5h3M365 1446.5h3M487 1507.5h3M516 1505.5h3" stroke="#a01010" stroke-width="3" fill="none"/>
<path d="M442 1462h2M515 1443h2M521 1460h2M478 1458h2M483 1439h2M503 1507h2M453 1464h2M455 1484h2M449 1461h2M460 1476h2M474 1511h2M501 1501h2M471 1506h2M463 1468h2M488 1473h2M512 1508h2M455 1501h2M478 1488h2M465 1460h2M503 1507h2M456 1492h2M444 1454h2M457 1448h2M453 1456h2M499 1492h2M476 1455h2M504 1445h2M499 1509h2M458 1459h2M481 1448h2M489 1497h2M456 1463h2M516 1468h2M523 1469h2M506 1451h2M512 1492h2M489 1505h2M439 1446h2M443 1440h2M474 1507h2M523 1484h2" stroke="#e00404" stroke-width="2" fill="none"/>
<path d="M462 1486.5h3M465 1472.5h3M469 1480.5h3M506 1441.5h3M466 1452.5h3M480 1445.5h3M444 1471.5h3M498 1447.5h3M444 1440.5h3M496 1498.5h3M453 1480.5h3M477 1437.5h3M512 1459.5h3M503 1494.5h3M468 1477.5h3M513 1467.5h3M437 1447.5h3M484 1449.5h3M512 1495.5h3" stroke="#a01010" stroke-width="3" fill="none"/>
<polygon points="331.1,1537.5 349.5,1530.5 367.9,1523.6 386.4,1516.7 404.8,1512.1 423.2,1509.8 418.6,1519 404.8,1528.2 386.4,1539.8 367.9,1551.3 349.5,1560.5 331.1,1562.8" fill="#000000" stroke="#000000" stroke-width="1.6" stroke-linejoin="round"/>
<path d="M344 1538h2M397 1532h2M389 1517h2M405 1528h2M403 1527h2M345 1538h2M400 1528h2M419 1520h2M356 1555h2M379 1525h2M401 1527h2M388 1535h2M375 1542h2M414 1518h2M406 1516h2M340 1537h2M363 1530h2M389 1539h2M396 1516h2M352 1532h2M400 1528h2M358 1555h2M405 1516h2" stroke="#f7f8fa" stroke-width="2" fill="none"/>
<path d="M368 1522h2M396 1510h2M414 1509h2M370 1557h2M339 1532h2M360 1524h2M340 1532h2M364 1525h2M366 1522h2M422 1509h2M340 1568h2M341 1565h2M415 1525h2M353 1529h2M347 1528h2M382 1544h2M351 1529h2M389 1515h2M422 1530h2M424 1508h2M373 1522h2M433 1510h2M419 1523h2M402 1510h2M417 1510h2M389 1513h2M331 1568h2M349 1564h2M367 1556h2M373 1515h2M421 1522h2M352 1527h2M412 1508h2M377 1559h2M400 1512h2M420 1503h2M362 1520h2M377 1548h2M418 1509h2M390 1514h2M346 1531h2M367 1554h2M383 1546h2M340 1532h2M405 1530h2M365 1520h2M345 1530h2M426 1519h2M382 1514h2M426 1510h2M371 1554h2M336 1536h2M344 1532h2M342 1524h2M349 1564h2M391 1511h2M376 1522h2M414 1524h2M399 1536h2M379 1549h2M415 1512h2M422 1504h2M349 1531h2M351 1531h2M353 1565h2M345 1524h2M423 1523h2M420 1521h2M406 1513h2" stroke="#000000" stroke-width="2" fill="none"/>
<path d="M417 1505.5h3M367 1555.5h3M402 1506.5h3M428 1536.5h3M376 1516.5h3M410 1541.5h3M391 1515.5h3M331 1525.5h3M374 1559.5h3M366 1558.5h3M387 1547.5h3M402 1533.5h3M427 1512.5h3M378 1517.5h3M354 1561.5h3M331 1557.5h3M382 1545.5h3M339 1563.5h3M378 1547.5h3M373 1553.5h3M349 1529.5h3M369 1552.5h3M363 1555.5h3M405 1529.5h3M419 1507.5h3M419 1533.5h3M362 1519.5h3M399 1543.5h3M380 1549.5h3M356 1521.5h3M336 1523.5h3M423 1532.5h3M428 1510.5h3M423 1567.5h3M424 1540.5h3M436 1564.5h3M338 1565.5h3M422 1525.5h3" stroke="#000000" stroke-width="3" fill="none"/>
<path d="M465 1513h2M451 1542h2M462 1528h2M462 1519h2M468 1522h2M439 1542h2M427 1516h2M435 1547h2" stroke="#000000" stroke-width="2" fill="none"/>
<path d="M451 1546.5h3M437 1527.5h3M444 1517.5h3M468 1535.5h3M452 1529.5h3M460 1517.5h3M449 1522.5h3" stroke="#000000" stroke-width="3" fill="none"/>
</g>
<rect x="329.7" y="1431.5" width="198.1" height="177.3" fill="none" stroke="#262626" stroke-width="2"/>
<clipPath id="cp53"><rect x="538.4" y="1431.5" width="198.1" height="178.3"/></clipPath>
<rect x="538.4" y="1431.5" width="198.1" height="178.3" fill="#f7f8fa"/>
<g clip-path="url(#cp53)">
<polygon points="554.5,1502.9 561.4,1489.1 570.6,1475.3 589,1466.1 612.1,1459.2 635.1,1452.2 662.7,1445.3 690.4,1440.7 731.8,1436.1 736.4,1436.1 736.4,1461.5 708.8,1466.1 685.8,1475.3 662.7,1489.1 644.3,1502.9 625.9,1512.1 602.9,1516.7 579.8,1516.7 561.4,1512.1" fill="#e00404" stroke="#e00404" stroke-width="1.6" stroke-linejoin="round"/>
<path d="M715 1464h2M592 1515h2M570 1482h2M728 1463h2M590 1471h2M721 1442h2M566 1489h2M632 1457h2M557 1506h2M650 1496h2M655 1493h2M559 1507h2M698 1445h2M675 1448h2M602 1515h2M562 1496h2M644 1501h2M610 1464h2M724 1442h2M659 1449h2M662 1449h2M656 1451h2M593 1514h2M667 1450h2M693 1444h2M666 1446h2M639 1502h2M667 1486h2M594 1468h2M576 1512h2M724 1462h2M636 1505h2M565 1491h2M649 1497h2M668 1447h2M649 1496h2M569 1481h2M716 1440h2M684 1447h2M578 1473h2M560 1493h2M634 1506h2" stroke="#f7f8fa" stroke-width="2" fill="none"/>
<path d="M667 1436h2M636 1445h2M656 1498h2M581 1469h2M557 1512h2M715 1437h2M581 1524h2M570 1516h2M562 1520h2M651 1499h2M714 1466h2M572 1475h2M602 1456h2M604 1462h2M681 1486h2M710 1439h2M677 1485h2M561 1485h2M710 1477h2M600 1518h2M730 1468h2M556 1499h2M726 1465h2M679 1481h2M645 1510h2M592 1521h2M563 1469h2M657 1495h2M676 1485h2M676 1485h2M558 1496h2M570 1516h2M565 1484h2M709 1469h2M617 1518h2M586 1523h2M581 1469h2M672 1486h2M601 1519h2M726 1468h2M661 1492h2M583 1470h2M669 1443h2M628 1453h2M633 1440h2M606 1459h2M668 1443h2M587 1519h2M701 1440h2M647 1504h2M577 1471h2M651 1441h2M706 1438h2M582 1471h2M603 1462h2M693 1474h2M569 1470h2M575 1465h2M562 1483h2M733 1468h2M608 1454h2M732 1470h2M684 1487h2M699 1441h2M731 1467h2M665 1445h2M648 1449h2M563 1486h2M559 1512h2M567 1524h2M601 1458h2M716 1467h2M656 1497h2M684 1437h2M716 1470h2M648 1505h2M602 1521h2M666 1441h2M652 1439h2M698 1472h2M674 1484h2M553 1501h2M625 1520h2M671 1440h2M555 1510h2M567 1471h2M698 1484h2M554 1507h2M578 1470h2M621 1450h2M557 1490h2M716 1438h2M595 1523h2M718 1466h2M703 1471h2M731 1463h2M681 1441h2M568 1479h2M630 1453h2M725 1465h2M659 1498h2M695 1473h2M732 1435h2M574 1467h2M685 1483h2M619 1514h2M554 1500h2M664 1495h2M555 1505h2M565 1518h2M655 1498h2M630 1524h2M713 1435h2M715 1436h2M586 1519h2M611 1520h2M657 1497h2M674 1492h2M715 1438h2M692 1439h2M583 1518h2M708 1468h2M684 1442h2M622 1457h2M713 1470h2M722 1466h2M700 1440h2M640 1507h2M584 1468h2M559 1490h2M607 1461h2" stroke="#e00404" stroke-width="2" fill="none"/>
<path d="M678 1482.5h3M617 1526.5h3M594 1526.5h3M637 1524.5h3M683 1482.5h3M577 1473.5h3M592 1463.5h3M705 1471.5h3M606 1522.5h3M684 1478.5h3M641 1449.5h3M617 1515.5h3M651 1508.5h3M726 1434.5h3M655 1447.5h3M701 1474.5h3M646 1439.5h3M663 1443.5h3M614 1455.5h3M625 1454.5h3M623 1515.5h3M598 1521.5h3M698 1483.5h3M570 1474.5h3M699 1440.5h3M571 1517.5h3M587 1522.5h3M594 1461.5h3M565 1474.5h3M716 1468.5h3M668 1441.5h3M728 1436.5h3M567 1515.5h3M733 1482.5h3M601 1450.5h3M631 1515.5h3M642 1448.5h3M599 1462.5h3M651 1504.5h3M636 1510.5h3M670 1440.5h3M565 1519.5h3M639 1452.5h3M556 1514.5h3M682 1439.5h3M695 1440.5h3M724 1467.5h3M645 1505.5h3M665 1446.5h3M699 1506.5h3M569 1468.5h3M551 1487.5h3M651 1522.5h3M684 1524.5h3M665 1534.5h3M615 1521.5h3M707 1475.5h3M595 1460.5h3M697 1505.5h3" stroke="#a01010" stroke-width="3" fill="none"/>
<path d="M677 1498h2M697 1455h2M724 1466h2M701 1512h2M693 1448h2M719 1439h2M681 1465h2M701 1480h2M716 1448h2M726 1475h2M650 1451h2M687 1499h2M728 1467h2M674 1462h2M678 1507h2M655 1485h2M658 1486h2M710 1505h2M694 1463h2M665 1447h2M729 1493h2M646 1449h2M687 1445h2M656 1481h2M723 1505h2M690 1503h2M709 1483h2M721 1512h2M717 1480h2M713 1467h2M695 1471h2M733 1505h2M691 1472h2M729 1501h2M681 1446h2M675 1495h2M650 1472h2M686 1510h2" stroke="#e00404" stroke-width="2" fill="none"/>
<path d="M692 1472.5h3M692 1487.5h3M711 1491.5h3M666 1478.5h3M659 1448.5h3M696 1499.5h3M712 1485.5h3M677 1493.5h3M724 1470.5h3M717 1510.5h3M725 1489.5h3M643 1452.5h3M646 1452.5h3M716 1464.5h3M706 1461.5h3M707 1470.5h3M645 1454.5h3M701 1455.5h3M671 1508.5h3M701 1495.5h3M696 1505.5h3M719 1508.5h3" stroke="#a01010" stroke-width="3" fill="none"/>
<polygon points="540.7,1539.8 556.8,1532.9 575.2,1523.6 593.6,1514.4 612.1,1505.2 628.2,1498.3 630.5,1505.2 616.7,1519 602.9,1532.9 589,1546.7 575.2,1558.2 561.4,1567.4 540.7,1567.4" fill="#000000" stroke="#000000" stroke-width="1.6" stroke-linejoin="round"/>
<path d="M565 1563h2M551 1539h2M591 1521h2M616 1516h2M623 1504h2M613 1507h2M608 1513h2M607 1524h2M603 1532h2M598 1533h2M619 1515h2M565 1563h2M623 1502h2M600 1516h2M608 1524h2M566 1532h2M556 1539h2M584 1546h2M571 1558h2M571 1556h2M609 1523h2M627 1501h2M574 1556h2M626 1509h2" stroke="#f7f8fa" stroke-width="2" fill="none"/>
<path d="M608 1506h2M575 1565h2M561 1528h2M624 1514h2M631 1498h2M605 1509h2M603 1539h2M539 1561h2M627 1515h2M568 1576h2M588 1515h2M572 1563h2M557 1529h2M600 1544h2M547 1531h2M556 1570h2M540 1556h2M612 1525h2M596 1545h2M543 1569h2M542 1572h2M569 1521h2M599 1539h2M547 1570h2M550 1520h2M567 1524h2M553 1569h2M540 1547h2M621 1523h2M550 1576h2M562 1531h2M614 1503h2M572 1566h2M611 1533h2M571 1563h2M574 1523h2M572 1569h2M550 1535h2M599 1511h2M633 1507h2M591 1546h2M540 1571h2M585 1573h2M550 1570h2M581 1520h2M629 1514h2M582 1556h2M580 1560h2M543 1569h2M541 1566h2M599 1542h2M597 1553h2M612 1528h2M540 1555h2M616 1530h2M547 1570h2M560 1571h2M570 1565h2M627 1512h2M540 1538h2M627 1523h2M610 1502h2M629 1491h2M588 1553h2M577 1560h2M541 1570h2M598 1507h2M611 1530h2M586 1514h2M583 1553h2M583 1553h2M637 1495h2M550 1570h2" stroke="#000000" stroke-width="2" fill="none"/>
<path d="M630 1504.5h3M551 1535.5h3M604 1510.5h3M540 1539.5h3M601 1501.5h3M612 1506.5h3M596 1547.5h3M568 1565.5h3M632 1492.5h3M630 1505.5h3M617 1495.5h3M621 1521.5h3M589 1504.5h3M571 1567.5h3M614 1526.5h3M605 1508.5h3M540 1569.5h3M566 1567.5h3M607 1531.5h3M601 1541.5h3M610 1506.5h3M588 1518.5h3M580 1522.5h3M593 1513.5h3M557 1573.5h3M540 1574.5h3M579 1523.5h3M558 1575.5h3M605 1533.5h3M630 1504.5h3M633 1574.5h3M591 1481.5h3M585 1553.5h3M630 1548.5h3M640 1558.5h3M563 1582.5h3M546 1480.5h3M571 1518.5h3M597 1570.5h3M588 1515.5h3" stroke="#000000" stroke-width="3" fill="none"/>
</g>
<rect x="538.4" y="1431.5" width="198.1" height="178.3" fill="none" stroke="#262626" stroke-width="2"/>
<clipPath id="cp54"><rect x="745.5" y="1431.5" width="195.6" height="179.1"/></clipPath>
<rect x="745.5" y="1431.5" width="195.6" height="179.1" fill="#f7f8fa"/>
<g clip-path="url(#cp54)">
<polygon points="804.3,1525.6 813.5,1507.2 831.8,1493.5 850.2,1484.3 868.6,1475.1 886.9,1461.3 900.7,1447.5 914.5,1438.4 932.8,1436.1 941.1,1436.1 941.1,1452.1 923.7,1461.3 905.3,1475.1 886.9,1488.9 873.1,1502.6 854.8,1516.4 836.4,1530.2 818.1,1537.1" fill="#e00404" stroke="#e00404" stroke-width="1.6" stroke-linejoin="round"/>
<path d="M835 1527h2M819 1509h2M834 1532h2M810 1529h2M810 1528h2M915 1441h2M837 1493h2M934 1453h2M935 1439h2M815 1516h2M864 1505h2M893 1462h2M918 1460h2M834 1495h2M904 1475h2M813 1514h2M893 1461h2M809 1523h2M847 1522h2M849 1520h2M893 1482h2M810 1521h2M871 1477h2M889 1486h2M927 1442h2M880 1473h2M827 1502h2M880 1492h2M883 1469h2M927 1442h2M908 1469h2M866 1504h2M899 1476h2M890 1484h2M882 1470h2" stroke="#f7f8fa" stroke-width="2" fill="none"/>
<path d="M823 1500h2M887 1460h2M834 1484h2M870 1506h2M923 1464h2M909 1477h2M814 1501h2M935 1437h2M851 1485h2M878 1467h2M860 1476h2M919 1470h2M899 1446h2M908 1480h2M838 1491h2M866 1515h2M878 1503h2M932 1462h2M875 1514h2M893 1452h2M863 1469h2M823 1500h2M878 1463h2M911 1439h2M813 1546h2M929 1461h2M815 1505h2M823 1490h2M917 1435h2M923 1437h2M879 1501h2M802 1522h2M804 1526h2M855 1482h2M825 1494h2M848 1528h2M828 1535h2M835 1534h2M876 1505h2M892 1447h2M894 1445h2M859 1516h2M829 1494h2M911 1476h2M811 1544h2M823 1537h2M862 1517h2M874 1468h2M859 1517h2M851 1528h2M916 1474h2M830 1495h2M886 1494h2M847 1486h2M896 1451h2M917 1436h2M853 1519h2M898 1489h2M846 1531h2M830 1488h2M885 1461h2M903 1480h2M846 1484h2M904 1445h2M894 1491h2M880 1498h2M843 1526h2M858 1480h2M912 1435h2M874 1466h2M856 1520h2M854 1472h2M889 1456h2M832 1491h2M848 1523h2M905 1484h2M881 1498h2M802 1520h2M803 1530h2M827 1490h2M872 1513h2M904 1477h2M871 1472h2M862 1474h2M884 1497h2M870 1473h2M907 1437h2M915 1438h2M836 1485h2M804 1527h2M865 1475h2M865 1470h2M807 1516h2M863 1519h2M918 1470h2M903 1479h2M882 1496h2M804 1525h2M830 1494h2M900 1449h2M889 1490h2M899 1448h2M882 1507h2M848 1535h2M890 1490h2M804 1529h2M899 1486h2" stroke="#e00404" stroke-width="2" fill="none"/>
<path d="M909 1441.5h3M903 1447.5h3M884 1464.5h3M810 1534.5h3M898 1447.5h3M831 1494.5h3M880 1498.5h3M850 1521.5h3M929 1437.5h3M863 1478.5h3M846 1483.5h3M864 1475.5h3M937 1456.5h3M899 1446.5h3M907 1477.5h3M866 1439.5h3M929 1462.5h3M898 1451.5h3M809 1517.5h3M811 1513.5h3M829 1495.5h3M832 1490.5h3M910 1438.5h3M918 1467.5h3M888 1492.5h3M934 1462.5h3M888 1496.5h3M875 1468.5h3M891 1489.5h3M903 1488.5h3M804 1524.5h3M937 1466.5h3M879 1461.5h3M918 1438.5h3M927 1464.5h3M904 1483.5h3M906 1476.5h3M843 1537.5h3M935 1462.5h3M911 1476.5h3M816 1538.5h3M842 1484.5h3M824 1555.5h3M834 1470.5h3M897 1558.5h3M902 1489.5h3M826 1442.5h3M784 1447.5h3M825 1493.5h3M894 1485.5h3M863 1466.5h3M799 1530.5h3" stroke="#a01010" stroke-width="3" fill="none"/>
<path d="M873 1502h2M863 1452h2M901 1459h2M877 1459h2M922 1448h2M904 1517h2M908 1461h2M902 1471h2M885 1446h2M891 1456h2M890 1511h2M907 1451h2M881 1481h2M919 1501h2M936 1482h2M894 1437h2M935 1468h2M864 1443h2M898 1458h2M912 1496h2M902 1504h2M909 1495h2M865 1463h2M931 1473h2M895 1466h2M893 1507h2M871 1446h2M937 1489h2M914 1455h2M881 1474h2M873 1489h2M927 1448h2M893 1508h2M915 1481h2M890 1519h2M916 1461h2M934 1463h2M899 1460h2M884 1498h2M934 1468h2M907 1472h2M933 1487h2M877 1467h2M875 1457h2M930 1494h2M900 1494h2M927 1439h2M871 1495h2M898 1485h2M887 1489h2M921 1517h2M937 1496h2M871 1486h2M922 1473h2M912 1488h2M921 1487h2M885 1472h2M917 1511h2M929 1436h2" stroke="#e00404" stroke-width="2" fill="none"/>
<path d="M929 1481.5h3M866 1471.5h3M898 1522.5h3M913 1479.5h3M875 1454.5h3M877 1440.5h3M934 1502.5h3M933 1502.5h3M881 1472.5h3M930 1453.5h3M886 1503.5h3M934 1467.5h3M921 1468.5h3M869 1462.5h3M886 1486.5h3M928 1458.5h3M895 1485.5h3M930 1464.5h3M891 1476.5h3M919 1514.5h3M880 1511.5h3M916 1507.5h3M918 1503.5h3M875 1441.5h3M879 1498.5h3M912 1491.5h3M894 1520.5h3M927 1451.5h3M931 1498.5h3M890 1472.5h3M874 1479.5h3M883 1521.5h3M896 1492.5h3M935 1493.5h3M926 1463.5h3M897 1479.5h3M903 1457.5h3M914 1440.5h3M884 1492.5h3M907 1458.5h3M870 1448.5h3M905 1441.5h3M920 1469.5h3M935 1478.5h3M890 1447.5h3M894 1475.5h3M893 1474.5h3M902 1479.5h3M929 1509.5h3M870 1496.5h3M879 1521.5h3" stroke="#a01010" stroke-width="3" fill="none"/>
<polygon points="746.9,1511.8 763,1507.2 781.3,1502.6 799.7,1495.8 818.1,1488.9 836.4,1484.3 841,1493.5 831.8,1507.2 818.1,1521 804.3,1532.5 790.5,1544 781.3,1557.7 772.1,1571.5 758.4,1566.9 746.9,1557.7" fill="#000000" stroke="#000000" stroke-width="1.6" stroke-linejoin="round"/>
<path d="M780 1552h2M781 1506h2M834 1489h2M752 1559h2M775 1564h2M829 1490h2M821 1519h2M815 1496h2M804 1529h2M816 1492h2M814 1521h2M786 1546h2M801 1498h2M782 1556h2M786 1506h2M756 1559h2M791 1540h2M784 1546h2M760 1511h2M775 1565h2M777 1510h2M775 1563h2M802 1532h2M784 1504h2M767 1566h2M774 1563h2M835 1488h2M768 1566h2" stroke="#f7f8fa" stroke-width="2" fill="none"/>
<path d="M817 1542h2M763 1506h2M754 1565h2M786 1501h2M838 1486h2M781 1503h2M839 1513h2M833 1523h2M818 1524h2M762 1505h2M805 1533h2M838 1507h2M834 1511h2M792 1544h2M819 1528h2M823 1518h2M823 1484h2M813 1539h2M757 1568h2M753 1506h2M804 1541h2M783 1566h2M833 1510h2M838 1505h2M824 1488h2M759 1568h2M758 1569h2M801 1537h2M834 1485h2M840 1509h2M781 1559h2M784 1499h2M811 1489h2M838 1482h2M804 1494h2M747 1512h2M764 1497h2M845 1492h2M836 1505h2M801 1491h2M830 1512h2M786 1493h2M750 1512h2M748 1509h2M791 1498h2M809 1530h2M833 1484h2M805 1537h2M764 1572h2M810 1529h2M831 1481h2M770 1505h2M824 1488h2M836 1482h2M825 1519h2M782 1503h2M797 1554h2M762 1507h2M831 1511h2M799 1491h2M780 1581h2M819 1523h2M836 1484h2M787 1495h2M830 1486h2M830 1519h2M768 1574h2M835 1506h2M801 1495h2M779 1498h2M811 1486h2M777 1580h2" stroke="#000000" stroke-width="2" fill="none"/>
<path d="M830 1511.5h3M795 1488.5h3M802 1485.5h3M752 1572.5h3M749 1563.5h3M839 1486.5h3M747 1560.5h3M839 1507.5h3M775 1568.5h3M800 1496.5h3M770 1574.5h3M784 1556.5h3M835 1503.5h3M841 1497.5h3M786 1565.5h3M837 1479.5h3M791 1556.5h3M822 1480.5h3M820 1488.5h3M838 1488.5h3M824 1518.5h3M841 1492.5h3M796 1543.5h3M829 1511.5h3M776 1569.5h3M765 1505.5h3M785 1501.5h3M837 1486.5h3M791 1545.5h3M819 1484.5h3M761 1503.5h3M804 1486.5h3M791 1550.5h3M817 1488.5h3M815 1528.5h3M750 1565.5h3M795 1547.5h3M780 1564.5h3M818 1527.5h3M841 1486.5h3M758 1502.5h3M761 1573.5h3M785 1500.5h3M781 1575.5h3M791 1496.5h3M747 1507.5h3M804 1489.5h3M864 1531.5h3M838 1525.5h3M770 1470.5h3M827 1551.5h3M859 1584.5h3M849 1546.5h3M762 1464.5h3M831 1512.5h3M826 1472.5h3M819 1553.5h3" stroke="#000000" stroke-width="3" fill="none"/>
<path d="M788 1561h2M762 1578h2M776 1566h2M779 1554h2M771 1556h2M768 1583h2M787 1569h2M757 1570h2M780 1566h2M766 1572h2" stroke="#000000" stroke-width="2" fill="none"/>
<path d="M776 1561.5h3M781 1565.5h3M783 1563.5h3M788 1554.5h3M762 1557.5h3" stroke="#000000" stroke-width="3" fill="none"/>
</g>
<rect x="745.5" y="1431.5" width="195.6" height="179.1" fill="none" stroke="#262626" stroke-width="2"/>
<clipPath id="cp55"><rect x="951.2" y="1429.2" width="192.8" height="181.4"/></clipPath>
<rect x="951.2" y="1429.2" width="192.8" height="181.4" fill="#f7f8fa"/>
<g clip-path="url(#cp55)">
<polyline points="952.7,1597.4 953.7,1594.5 954.7,1591.5 955.7,1587.6 956.7,1583.5 957.7,1578.7 958.7,1573.1 959.7,1567.1 960.7,1560.6 961.7,1553.3 962.7,1545.9 963.7,1537 964.7,1528.2 965.7,1519.4 966.7,1510.5 967.7,1501.1 968.7,1492.3 969.7,1483.3 970.7,1474.4 971.7,1466.2 972.7,1460.6 973.7,1454 974.7,1448.8 975.7,1445.6 976.7,1443.6 977.7,1441.8 978.7,1443.9 979.7,1444.8 980.7,1447.6 981.7,1450.8 982.7,1455.3 983.7,1460.1 984.7,1466.2 985.7,1472.7 986.7,1480.5 987.7,1487.5 988.7,1495.8 989.7,1503.7 990.7,1511.2 991.7,1519.9 992.7,1527.5 993.7,1535.2 994.7,1542.5 995.7,1549.5 996.7,1556.3 997.7,1562.5 998.7,1568.2 999.7,1573.1 1000.7,1577.7 1001.7,1582.4 1002.7,1586.3 1003.7,1589.7 1004.7,1592.7 1005.7,1595.4 1006.7,1597.6 1007.7,1599.5 1008.7,1601.2 1009.7,1602.7 1010.7,1603.8 1011.7,1604.9 1012.7,1605.7 1013.7,1606.4 1014.7,1606.9 1015.7,1607.4 1016.7,1607.7 1017.7,1608 1018.7,1608.3 1019.7,1608.4 1020.7,1608.6 1021.7,1608.7 1022.7,1608.8 1023.7,1608.8 1024.7,1608.9 1025.7,1608.9 1026.7,1609 1027.7,1609 1028.7,1609 1029.7,1609 1030.7,1609 1031.7,1609 1032.7,1609 1033.7,1609 1034.7,1609 1035.7,1609 1036.7,1609 1037.7,1609 1038.7,1609 1039.7,1609 1040.7,1609 1041.7,1609 1042.7,1609 1043.7,1609 1044.7,1609 1045.7,1609 1046.7,1609 1047.7,1609 1048.7,1609 1049.7,1609 1050.7,1609 1051.7,1609 1052.7,1609 1053.7,1609 1054.7,1609 1055.7,1609 1056.7,1609 1057.7,1609 1058.7,1609 1059.7,1609 1060.7,1609 1061.7,1609 1062.7,1609 1063.7,1609 1064.7,1609 1065.7,1609 1066.7,1609 1067.7,1609 1068.7,1609 1069.7,1609 1070.7,1609 1071.7,1609 1072.7,1609 1073.7,1609 1074.7,1609 1075.7,1609 1076.7,1609 1077.7,1609 1078.7,1609 1079.7,1609 1080.7,1609 1081.7,1609 1082.7,1609 1083.7,1609 1084.7,1609 1085.7,1609 1086.7,1609 1087.7,1609 1088.7,1609 1089.7,1609 1090.7,1609 1091.7,1609 1092.7,1609 1093.7,1609 1094.7,1609 1095.7,1609 1096.7,1609 1097.7,1609 1098.7,1609 1099.7,1609 1100.7,1609 1101.7,1609 1102.7,1609 1103.7,1609 1104.7,1609 1105.7,1609 1106.7,1609 1107.7,1609 1108.7,1609 1109.7,1609 1110.7,1609 1111.7,1609 1112.7,1609 1113.7,1609 1114.7,1609 1115.7,1609 1116.7,1609 1117.7,1609 1118.7,1609 1119.7,1609 1120.7,1609 1121.7,1609 1122.7,1609 1123.7,1609 1124.7,1609 1125.7,1609 1126.7,1609 1127.7,1609 1128.7,1609 1129.7,1609 1130.7,1609 1131.7,1609 1132.7,1609 1133.7,1609 1134.7,1609 1135.7,1609 1136.7,1609 1137.7,1609 1138.7,1609 1139.7,1609 1140.7,1609 1141.7,1609" fill="none" stroke="#1e1e1e" stroke-width="1.2" stroke-linejoin="round"/>
<polyline points="952.7,1609 953.7,1609 954.7,1609 955.7,1609 956.7,1609 957.7,1609 958.7,1609 959.7,1609 960.7,1609 961.7,1609 962.7,1609 963.7,1609 964.7,1609 965.7,1609 966.7,1609 967.7,1609 968.7,1609 969.7,1609 970.7,1609 971.7,1609 972.7,1609 973.7,1608.9 974.7,1608.9 975.7,1608.8 976.7,1608.7 977.7,1608.5 978.7,1608.3 979.7,1608 980.7,1607.6 981.7,1607.1 982.7,1606.4 983.7,1605.6 984.7,1604.4 985.7,1603 986.7,1601.2 987.7,1599.1 988.7,1596.5 989.7,1593.2 990.7,1589.5 991.7,1585 992.7,1579.8 993.7,1573.7 994.7,1567.3 995.7,1560.1 996.7,1552.1 997.7,1543 998.7,1533.3 999.7,1523.9 1000.7,1513.3 1001.7,1503.7 1002.7,1493.3 1003.7,1483.8 1004.7,1475.6 1005.7,1466.4 1006.7,1459.7 1007.7,1453.3 1008.7,1449.2 1009.7,1446.8 1010.7,1444.5 1011.7,1445 1012.7,1447.8 1013.7,1450.5 1014.7,1453.1 1015.7,1458.7 1016.7,1463.5 1017.7,1471.1 1018.7,1477.8 1019.7,1486 1020.7,1493.9 1021.7,1502.2 1022.7,1510.3 1023.7,1519.3 1024.7,1527.3 1025.7,1535.6 1026.7,1543.2 1027.7,1550.6 1028.7,1557.7 1029.7,1564.2 1030.7,1569.9 1031.7,1575.4 1032.7,1580.2 1033.7,1584.5 1034.7,1588.5 1035.7,1591.7 1036.7,1594.6 1037.7,1597.3 1038.7,1599.3 1039.7,1601.1 1040.7,1602.7 1041.7,1604 1042.7,1605 1043.7,1605.8 1044.7,1606.5 1045.7,1607.1 1046.7,1607.5 1047.7,1607.9 1048.7,1608.2 1049.7,1608.4 1050.7,1608.5 1051.7,1608.7 1052.7,1608.8 1053.7,1608.8 1054.7,1608.9 1055.7,1608.9 1056.7,1609 1057.7,1609 1058.7,1609 1059.7,1609 1060.7,1609 1061.7,1609 1062.7,1609 1063.7,1609 1064.7,1609 1065.7,1609 1066.7,1609 1067.7,1609 1068.7,1609 1069.7,1609 1070.7,1609 1071.7,1609 1072.7,1609 1073.7,1609 1074.7,1609 1075.7,1609 1076.7,1609 1077.7,1609 1078.7,1609 1079.7,1609 1080.7,1609 1081.7,1609 1082.7,1609 1083.7,1609 1084.7,1609 1085.7,1609 1086.7,1609 1087.7,1609 1088.7,1609 1089.7,1609 1090.7,1609 1091.7,1609 1092.7,1609 1093.7,1609 1094.7,1609 1095.7,1609 1096.7,1609 1097.7,1609 1098.7,1609 1099.7,1609 1100.7,1609 1101.7,1609 1102.7,1609 1103.7,1609 1104.7,1609 1105.7,1609 1106.7,1609 1107.7,1609 1108.7,1609 1109.7,1609 1110.7,1609 1111.7,1609 1112.7,1609 1113.7,1609 1114.7,1609 1115.7,1609 1116.7,1609 1117.7,1609 1118.7,1609 1119.7,1609 1120.7,1609 1121.7,1609 1122.7,1609 1123.7,1609 1124.7,1609 1125.7,1609 1126.7,1609 1127.7,1609 1128.7,1609 1129.7,1609 1130.7,1609 1131.7,1609 1132.7,1609 1133.7,1609 1134.7,1609 1135.7,1609 1136.7,1609 1137.7,1609 1138.7,1609 1139.7,1609 1140.7,1609 1141.7,1609" fill="none" stroke="#dd3a3a" stroke-width="1.2" stroke-linejoin="round"/>
<polyline points="952.7,1609 953.7,1609 954.7,1609 955.7,1609 956.7,1609 957.7,1609 958.7,1609 959.7,1609 960.7,1609 961.7,1609 962.7,1609 963.7,1609 964.7,1609 965.7,1609 966.7,1609 967.7,1609 968.7,1609 969.7,1609 970.7,1609 971.7,1609 972.7,1609 973.7,1609 974.7,1609 975.7,1609 976.7,1609 977.7,1609 978.7,1609 979.7,1609 980.7,1609 981.7,1609 982.7,1609 983.7,1609 984.7,1609 985.7,1609 986.7,1609 987.7,1609 988.7,1609 989.7,1609 990.7,1609 991.7,1609 992.7,1609 993.7,1609 994.7,1609 995.7,1609 996.7,1609 997.7,1609 998.7,1609 999.7,1609 1000.7,1609 1001.7,1609 1002.7,1609 1003.7,1609 1004.7,1609 1005.7,1609 1006.7,1609 1007.7,1609 1008.7,1609 1009.7,1609 1010.7,1609 1011.7,1609 1012.7,1609 1013.7,1609 1014.7,1609 1015.7,1609 1016.7,1609 1017.7,1609 1018.7,1609 1019.7,1609 1020.7,1609 1021.7,1609 1022.7,1609 1023.7,1609 1024.7,1609 1025.7,1609 1026.7,1609 1027.7,1609 1028.7,1609 1029.7,1609 1030.7,1608.9 1031.7,1608.9 1032.7,1608.8 1033.7,1608.7 1034.7,1608.6 1035.7,1608.4 1036.7,1608.1 1037.7,1607.8 1038.7,1607.3 1039.7,1606.7 1040.7,1605.9 1041.7,1604.9 1042.7,1603.6 1043.7,1602 1044.7,1599.9 1045.7,1597.6 1046.7,1594.6 1047.7,1591.1 1048.7,1586.9 1049.7,1582 1050.7,1576.4 1051.7,1570 1052.7,1562.8 1053.7,1555.1 1054.7,1546.7 1055.7,1536.9 1056.7,1527.2 1057.7,1517.8 1058.7,1507.4 1059.7,1498 1060.7,1487.7 1061.7,1478.1 1062.7,1470.1 1063.7,1462.1 1064.7,1456.2 1065.7,1449.9 1066.7,1447.7 1067.7,1445.4 1068.7,1445.2 1069.7,1446.5 1070.7,1450.2 1071.7,1454.5 1072.7,1461.1 1073.7,1468.9 1074.7,1476.8 1075.7,1486.5 1076.7,1495.1 1077.7,1505.7 1078.7,1515.2 1079.7,1525.8 1080.7,1535.4 1081.7,1545.2 1082.7,1553.7 1083.7,1561.3 1084.7,1568.7 1085.7,1575.3 1086.7,1580.9 1087.7,1585.9 1088.7,1590.2 1089.7,1594 1090.7,1596.9 1091.7,1599.6 1092.7,1601.7 1093.7,1603.4 1094.7,1604.7 1095.7,1605.8 1096.7,1606.6 1097.7,1607.2 1098.7,1607.7 1099.7,1608.1 1100.7,1608.3 1101.7,1608.5 1102.7,1608.7 1103.7,1608.8 1104.7,1608.9 1105.7,1608.9 1106.7,1609 1107.7,1609 1108.7,1609 1109.7,1609 1110.7,1609 1111.7,1609 1112.7,1609 1113.7,1609 1114.7,1609 1115.7,1609 1116.7,1609 1117.7,1609 1118.7,1609 1119.7,1609 1120.7,1609 1121.7,1609 1122.7,1609 1123.7,1609 1124.7,1609 1125.7,1609 1126.7,1609 1127.7,1609 1128.7,1609 1129.7,1609 1130.7,1609 1131.7,1609 1132.7,1609 1133.7,1609 1134.7,1609 1135.7,1609 1136.7,1609 1137.7,1609 1138.7,1609 1139.7,1609 1140.7,1609 1141.7,1609" fill="none" stroke="#4444e8" stroke-width="1.2" stroke-linejoin="round"/>
</g>
<rect x="951.2" y="1429.2" width="192.8" height="181.4" fill="none" stroke="#262626" stroke-width="2"/>
<clipPath id="cp56"><rect x="1157.8" y="1430.1" width="194.2" height="178.1"/></clipPath>
<rect x="1157.8" y="1430.1" width="194.2" height="178.1" fill="#f7f8fa"/>
<g clip-path="url(#cp56)">
<polygon points="1171.6,1541.7 1180.8,1532.5 1194.5,1523.3 1212.9,1511.8 1231.3,1498.1 1249.6,1484.3 1268,1470.5 1286.4,1459 1291,1465.9 1281.8,1479.7 1272.6,1498.1 1263.4,1516.4 1249.6,1530.2 1235.9,1544 1222.1,1550.9 1199.1,1550.9 1180.8,1548.6" fill="#0000f0" stroke="#0000f0" stroke-width="1.6" stroke-linejoin="round"/>
<path d="M1194 1528h2M1256 1524h2M1223 1549h2M1202 1547h2M1254 1485h2M1262 1516h2M1289 1465h2M1179 1544h2M1273 1498h2M1289 1464h2M1223 1507h2M1261 1512h2M1255 1521h2M1176 1545h2M1199 1549h2M1198 1548h2M1242 1536h2M1199 1523h2M1244 1532h2M1273 1490h2M1259 1519h2M1272 1489h2M1198 1526h2M1241 1496h2M1265 1477h2M1266 1476h2M1198 1550h2M1184 1549h2M1249 1491h2M1229 1501h2M1217 1510h2" stroke="#f7f8fa" stroke-width="2" fill="none"/>
<path d="M1270 1518h2M1171 1539h2M1275 1466h2M1177 1549h2M1215 1554h2M1263 1475h2M1289 1457h2M1196 1554h2M1289 1470h2M1213 1557h2M1247 1545h2M1194 1513h2M1257 1479h2M1183 1553h2M1209 1505h2M1194 1552h2M1269 1463h2M1188 1522h2M1224 1497h2M1168 1543h2M1223 1552h2M1281 1483h2M1196 1556h2M1284 1478h2M1175 1546h2M1248 1485h2M1202 1553h2M1223 1554h2M1237 1484h2M1211 1512h2M1170 1537h2M1181 1530h2M1177 1553h2M1210 1512h2M1272 1463h2M1174 1545h2M1192 1519h2M1274 1500h2M1194 1560h2M1179 1550h2M1265 1470h2M1196 1552h2M1288 1492h2M1263 1473h2M1179 1535h2M1292 1469h2M1177 1531h2M1275 1495h2M1275 1466h2M1233 1549h2M1210 1514h2M1217 1554h2M1237 1545h2M1227 1495h2M1216 1555h2M1294 1479h2M1216 1553h2M1253 1536h2M1249 1536h2M1257 1526h2M1228 1491h2M1225 1503h2M1249 1484h2M1283 1500h2M1271 1467h2M1226 1498h2M1282 1480h2M1218 1555h2M1174 1540h2M1263 1474h2M1273 1498h2M1174 1532h2M1258 1531h2M1207 1555h2M1222 1503h2M1257 1535h2M1286 1451h2M1236 1494h2M1239 1486h2M1299 1469h2M1164 1535h2M1249 1534h2M1210 1552h2M1235 1491h2M1208 1515h2M1217 1553h2M1238 1545h2M1209 1552h2M1270 1467h2" stroke="#0000f0" stroke-width="2" fill="none"/>
<path d="M1249 1485.5h3M1259 1475.5h3M1216 1562.5h3M1239 1543.5h3M1249 1484.5h3M1220 1554.5h3M1247 1484.5h3M1277 1493.5h3M1283 1479.5h3M1280 1486.5h3M1216 1553.5h3M1177 1536.5h3M1170 1528.5h3M1285 1478.5h3M1193 1555.5h3M1284 1479.5h3M1263 1518.5h3M1174 1541.5h3M1219 1503.5h3M1286 1476.5h3M1290 1459.5h3M1220 1552.5h3M1258 1478.5h3M1245 1537.5h3M1173 1547.5h3M1179 1558.5h3M1283 1493.5h3M1187 1552.5h3M1240 1545.5h3M1196 1522.5h3M1214 1510.5h3M1187 1529.5h3M1188 1527.5h3M1262 1476.5h3M1237 1545.5h3M1196 1552.5h3M1283 1458.5h3M1282 1462.5h3M1270 1511.5h3M1241 1548.5h3M1289 1473.5h3M1236 1494.5h3M1200 1561.5h3M1302 1509.5h3M1172 1565.5h3M1316 1530.5h3M1193 1508.5h3M1258 1438.5h3M1160 1479.5h3M1261 1443.5h3M1306 1470.5h3M1270 1546.5h3M1228 1502.5h3" stroke="#1c1c9a" stroke-width="3" fill="none"/>
<path d="M1264 1472h2M1325 1436h2M1293 1470h2M1286 1498h2M1275 1450h2M1264 1465h2M1284 1471h2M1325 1442h2M1330 1459h2M1325 1485h2M1329 1446h2M1315 1460h2M1267 1470h2M1274 1480h2" stroke="#0000f0" stroke-width="2" fill="none"/>
<path d="M1313 1439.5h3M1286 1494.5h3M1309 1495.5h3M1291 1485.5h3M1297 1456.5h3M1329 1453.5h3M1320 1448.5h3M1301 1488.5h3M1289 1487.5h3M1282 1464.5h3M1265 1461.5h3" stroke="#1c1c9a" stroke-width="3" fill="none"/>
<polygon points="1160.1,1553.1 1176.2,1550.9 1194.5,1546.3 1208.3,1541.7 1217.5,1534.8 1226.7,1532.5 1226.7,1548.6 1224.4,1566.9 1222.1,1585.3 1217.5,1603.7 1160.1,1606" fill="#000000" stroke="#000000" stroke-width="1.6" stroke-linejoin="round"/>
<path d="M1220 1578h2M1204 1546h2M1210 1545h2M1221 1560h2M1220 1585h2M1164 1572h2M1223 1546h2M1225 1540h2M1172 1556h2M1204 1548h2M1226 1536h2M1223 1560h2M1220 1575h2M1225 1537h2M1218 1590h2M1217 1588h2M1168 1555h2M1222 1557h2M1218 1580h2M1168 1603h2M1212 1543h2M1189 1550h2M1199 1600h2M1223 1572h2M1173 1602h2" stroke="#f7f8fa" stroke-width="2" fill="none"/>
<path d="M1214 1524h2M1159 1564h2M1196 1545h2M1226 1563h2M1209 1540h2M1162 1553h2M1170 1548h2M1180 1551h2M1191 1547h2M1221 1528h2M1159 1601h2M1185 1544h2M1200 1606h2M1219 1603h2M1233 1529h2M1160 1570h2M1162 1553h2M1221 1591h2M1234 1558h2M1159 1600h2M1231 1530h2M1209 1606h2M1223 1532h2M1218 1602h2M1204 1606h2M1223 1595h2M1180 1548h2M1232 1558h2M1168 1551h2M1228 1535h2M1163 1549h2M1229 1564h2M1183 1545h2M1229 1530h2M1164 1553h2M1194 1544h2M1228 1530h2M1209 1535h2M1213 1538h2M1222 1597h2M1218 1536h2M1166 1553h2M1176 1551h2M1231 1545h2M1213 1529h2M1194 1547h2M1225 1534h2M1232 1558h2M1209 1606h2M1230 1600h2M1226 1575h2M1216 1537h2M1204 1538h2M1231 1531h2M1225 1570h2M1159 1557h2M1221 1532h2M1169 1552h2M1218 1604h2M1189 1544h2M1160 1552h2M1229 1569h2M1171 1550h2M1232 1557h2M1224 1571h2M1227 1561h2M1159 1562h2M1227 1532h2M1211 1606h2M1222 1529h2M1160 1551h2M1228 1534h2M1206 1543h2M1228 1544h2M1205 1542h2M1170 1548h2M1169 1550h2" stroke="#000000" stroke-width="2" fill="none"/>
<path d="M1236 1550.5h3M1181 1545.5h3M1177 1547.5h3M1161 1550.5h3M1166 1553.5h3M1226 1559.5h3M1217 1536.5h3M1222 1592.5h3M1232 1581.5h3M1214 1605.5h3M1230 1532.5h3M1170 1551.5h3M1216 1524.5h3M1169 1551.5h3M1228 1579.5h3M1159 1591.5h3M1160 1605.5h3M1224 1573.5h3M1231 1529.5h3M1230 1559.5h3M1227 1540.5h3M1174 1549.5h3M1220 1594.5h3M1160 1587.5h3M1173 1552.5h3M1182 1550.5h3M1181 1545.5h3M1178 1548.5h3M1163 1551.5h3M1169 1530.5h3M1171 1526.5h3M1238 1583.5h3M1228 1509.5h3M1228 1605.5h3M1171 1509.5h3M1200 1535.5h3M1214 1511.5h3M1192 1522.5h3M1200 1518.5h3" stroke="#000000" stroke-width="3" fill="none"/>
</g>
<rect x="1157.8" y="1430.1" width="194.2" height="178.1" fill="none" stroke="#262626" stroke-width="2"/>
<clipPath id="cp61"><rect x="122.4" y="1624.7" width="197.1" height="174.1"/></clipPath>
<rect x="122.4" y="1624.7" width="197.1" height="174.1" fill="#f7f8fa"/>
<g clip-path="url(#cp61)">
<polygon points="123.8,1665.3 137.6,1658.4 156.1,1653.8 179.1,1651.5 202.1,1650.5 225.2,1649.2 248.2,1647.8 271.2,1646.8 294.2,1646.8 312.7,1646.8 316.4,1656.1 312.7,1669.9 294.2,1674.5 271.2,1679.1 248.2,1686 225.2,1692.9 202.1,1697.5 179.1,1699.8 156.1,1697.5 137.6,1692.9 123.8,1688.3" fill="#e00404" stroke="#e00404" stroke-width="1.6" stroke-linejoin="round"/>
<path d="M247 1652h2M261 1680h2M278 1650h2M200 1655h2M263 1651h2M254 1681h2M307 1648h2M132 1666h2M154 1696h2M292 1648h2M274 1649h2M212 1695h2M222 1693h2M227 1690h2M225 1691h2M197 1699h2M211 1653h2M308 1651h2M264 1650h2M294 1650h2M208 1654h2M254 1649h2M236 1687h2M206 1653h2M173 1695h2M130 1688h2M308 1648h2M152 1694h2M156 1655h2M152 1661h2M288 1675h2M140 1694h2M244 1653h2M175 1657h2M180 1657h2M167 1655h2M267 1678h2M198 1695h2M194 1655h2M221 1691h2M251 1650h2M211 1696h2M196 1656h2" stroke="#f7f8fa" stroke-width="2" fill="none"/>
<path d="M182 1701h2M203 1700h2M205 1699h2M219 1641h2M140 1699h2M124 1665h2M245 1690h2M252 1688h2M132 1694h2M220 1699h2M275 1646h2M157 1653h2M284 1679h2M259 1686h2M247 1648h2M245 1696h2M209 1700h2M190 1643h2M283 1638h2M158 1654h2M284 1646h2M225 1696h2M156 1654h2M220 1706h2M168 1708h2M282 1680h2M260 1691h2M154 1703h2M266 1684h2M228 1694h2M186 1709h2M199 1651h2M250 1687h2M199 1649h2M295 1643h2M150 1699h2M197 1705h2M144 1657h2M182 1652h2M196 1649h2M210 1650h2M272 1685h2M267 1683h2M312 1646h2M298 1677h2M167 1700h2M273 1685h2M251 1689h2M151 1707h2M126 1691h2M123 1677h2M200 1640h2M301 1646h2M263 1645h2M172 1705h2M279 1682h2M239 1693h2M250 1647h2M164 1644h2M226 1696h2M138 1702h2M286 1647h2M264 1686h2M288 1689h2M128 1691h2M315 1651h2M156 1699h2M191 1648h2M155 1705h2M192 1649h2M205 1649h2M213 1647h2M220 1695h2M152 1702h2M203 1709h2M131 1705h2M207 1648h2M247 1649h2M278 1682h2M188 1650h2M251 1646h2M228 1693h2M201 1648h2M178 1651h2M158 1700h2M246 1688h2M202 1699h2M133 1659h2M231 1695h2M291 1646h2M193 1651h2M221 1700h2M171 1652h2M189 1646h2M168 1700h2M178 1651h2M281 1686h2M141 1654h2M296 1676h2M176 1701h2M147 1700h2M162 1652h2M203 1702h2M126 1694h2M292 1684h2M124 1665h2M210 1651h2M214 1700h2M217 1697h2M199 1699h2M181 1708h2M230 1649h2M234 1647h2M236 1696h2M135 1693h2M234 1700h2M205 1647h2M230 1649h2M182 1651h2M176 1651h2M132 1692h2M185 1651h2M159 1704h2M215 1647h2M135 1704h2M204 1703h2M233 1646h2" stroke="#e00404" stroke-width="2" fill="none"/>
<path d="M238 1704.5h3M152 1654.5h3M281 1678.5h3M200 1646.5h3M156 1699.5h3M184 1649.5h3M200 1701.5h3M179 1706.5h3M270 1648.5h3M188 1704.5h3M125 1695.5h3M283 1683.5h3M157 1652.5h3M294 1679.5h3M313 1648.5h3M153 1652.5h3M208 1647.5h3M286 1678.5h3M155 1701.5h3M243 1647.5h3M292 1678.5h3M230 1650.5h3M284 1678.5h3M164 1648.5h3M305 1677.5h3M270 1643.5h3M172 1649.5h3M187 1652.5h3M246 1647.5h3M152 1656.5h3M299 1681.5h3M290 1678.5h3M124 1666.5h3M281 1682.5h3M224 1705.5h3M155 1653.5h3M159 1653.5h3M182 1703.5h3M246 1690.5h3M293 1645.5h3M218 1648.5h3M309 1676.5h3M175 1651.5h3M241 1647.5h3M273 1642.5h3M211 1700.5h3M124 1674.5h3M207 1698.5h3M315 1680.5h3M262 1648.5h3M180 1704.5h3M216 1697.5h3M188 1701.5h3M303 1642.5h3M240 1630.5h3M213 1650.5h3M195 1635.5h3M289 1707.5h3M133 1632.5h3M312 1675.5h3M262 1647.5h3M269 1707.5h3M265 1711.5h3M213 1700.5h3" stroke="#a01010" stroke-width="3" fill="none"/>
<path d="M250 1651h2M142 1702h2M315 1671h2M158 1655h2M228 1708h2M165 1659h2M275 1701h2M304 1664h2M241 1648h2M207 1649h2M188 1665h2M172 1703h2M183 1676h2M141 1707h2M133 1699h2M304 1656h2M134 1673h2M290 1661h2M156 1707h2M248 1674h2M219 1670h2M311 1685h2M282 1686h2M278 1667h2M148 1703h2M209 1705h2M210 1711h2M308 1711h2M251 1673h2M238 1709h2M197 1697h2" stroke="#e00404" stroke-width="2" fill="none"/>
<path d="M222 1656.5h3M311 1712.5h3M266 1660.5h3M144 1688.5h3M228 1669.5h3M178 1652.5h3M237 1664.5h3M267 1672.5h3M281 1680.5h3M218 1692.5h3M290 1654.5h3M308 1670.5h3M161 1664.5h3M222 1664.5h3M177 1658.5h3M245 1702.5h3M252 1690.5h3M197 1653.5h3M251 1708.5h3" stroke="#a01010" stroke-width="3" fill="none"/>
<polygon points="123.8,1739 137.6,1732.1 156.1,1729.8 179.1,1727.5 202.1,1722.9 225.2,1718.2 248.2,1715.9 271.2,1713.6 280.4,1720.5 266.6,1734.4 248.2,1748.2 229.8,1757.4 206.7,1766.6 183.7,1768.9 156.1,1762 137.6,1757.4 123.8,1752.8" fill="#000000" stroke="#000000" stroke-width="1.6" stroke-linejoin="round"/>
<path d="M193 1730h2M196 1765h2M269 1718h2M134 1737h2M214 1724h2M208 1767h2M217 1725h2M129 1752h2M142 1755h2M131 1753h2M225 1719h2M197 1766h2M255 1719h2M229 1755h2M207 1724h2M129 1739h2M266 1719h2M152 1757h2M226 1760h2M258 1720h2M166 1765h2M250 1720h2M211 1723h2M216 1760h2M172 1767h2M187 1767h2M235 1723h2M147 1736h2M137 1756h2M157 1735h2M194 1727h2M223 1720h2M242 1720h2M250 1747h2" stroke="#f7f8fa" stroke-width="2" fill="none"/>
<path d="M174 1767h2M168 1727h2M171 1767h2M171 1770h2M266 1713h2M225 1760h2M251 1748h2M200 1769h2M222 1716h2M144 1772h2M266 1746h2M173 1768h2M264 1713h2M246 1751h2M128 1722h2M268 1706h2M162 1721h2M157 1765h2M216 1714h2M246 1715h2M189 1771h2M248 1751h2M176 1769h2M223 1763h2M205 1721h2M126 1763h2M216 1720h2M155 1764h2M244 1715h2M195 1721h2M188 1772h2M224 1766h2M150 1731h2M171 1769h2M131 1735h2M132 1732h2M222 1716h2M160 1728h2M141 1728h2M249 1750h2M150 1731h2M169 1771h2M176 1771h2M240 1717h2M192 1722h2M265 1715h2M247 1759h2M246 1752h2M276 1728h2M216 1766h2M233 1758h2M221 1705h2M204 1773h2M252 1712h2M265 1739h2M276 1726h2M134 1763h2M132 1733h2M138 1731h2M256 1711h2M235 1717h2M166 1728h2M174 1723h2M178 1725h2M128 1735h2M189 1722h2M266 1715h2M249 1711h2M269 1738h2M277 1711h2M134 1726h2M192 1771h2M197 1771h2M243 1756h2M158 1729h2M252 1712h2M129 1719h2M231 1766h2M179 1770h2M176 1771h2M272 1712h2M250 1752h2M281 1709h2M197 1723h2M244 1755h2M273 1730h2M219 1765h2M218 1764h2M252 1713h2M209 1722h2M177 1726h2M260 1714h2M232 1762h2M144 1720h2M174 1729h2M143 1760h2M271 1738h2M204 1768h2M224 1717h2M272 1731h2M182 1770h2" stroke="#000000" stroke-width="2" fill="none"/>
<path d="M171 1728.5h3M283 1740.5h3M263 1742.5h3M161 1728.5h3M222 1762.5h3M163 1773.5h3M187 1726.5h3M230 1719.5h3M245 1756.5h3M149 1730.5h3M174 1768.5h3M176 1725.5h3M179 1724.5h3M246 1717.5h3M171 1768.5h3M229 1762.5h3M227 1765.5h3M190 1726.5h3M222 1719.5h3M263 1714.5h3M280 1727.5h3M257 1708.5h3M156 1768.5h3M192 1724.5h3M218 1717.5h3M194 1720.5h3M169 1768.5h3M264 1740.5h3M255 1751.5h3M267 1709.5h3M240 1754.5h3M219 1763.5h3M278 1746.5h3M281 1721.5h3M172 1769.5h3M181 1726.5h3M144 1762.5h3M163 1769.5h3M167 1769.5h3M189 1720.5h3M199 1723.5h3M253 1747.5h3M259 1746.5h3M171 1728.5h3M220 1770.5h3M160 1703.5h3M302 1730.5h3M176 1695.5h3M177 1712.5h3M281 1758.5h3M314 1726.5h3M306 1744.5h3M242 1765.5h3M170 1726.5h3M270 1706.5h3" stroke="#000000" stroke-width="3" fill="none"/>
<path d="M287 1725h2M239 1713h2M282 1719h2M278 1721h2M265 1745h2M291 1744h2" stroke="#000000" stroke-width="2" fill="none"/>
<path d="M242 1718.5h3M261 1713.5h3M271 1723.5h3M272 1746.5h3M234 1759.5h3M277 1743.5h3M259 1719.5h3M287 1709.5h3M285 1743.5h3" stroke="#000000" stroke-width="3" fill="none"/>
</g>
<rect x="122.4" y="1624.7" width="197.1" height="174.1" fill="none" stroke="#262626" stroke-width="2"/>
<clipPath id="cp62"><rect x="331.1" y="1624.7" width="196.7" height="174.1"/></clipPath>
<rect x="331.1" y="1624.7" width="196.7" height="174.1" fill="#f7f8fa"/>
<g clip-path="url(#cp62)">
<polygon points="331.1,1674.5 344.9,1665.3 363.3,1656.1 386.4,1651.5 409.4,1647.8 432.4,1645.9 455.5,1643.2 478.5,1639.9 506.1,1637.6 526.9,1635.3 526.9,1674.5 501.5,1679.1 478.5,1688.3 460.1,1695.2 432.4,1699.8 409.4,1704.4 386.4,1702.1 363.3,1697.5 340.3,1692.9 331.1,1686" fill="#e00404" stroke="#e00404" stroke-width="1.6" stroke-linejoin="round"/>
<path d="M397 1652h2M432 1650h2M413 1704h2M506 1678h2M463 1693h2M389 1652h2M436 1650h2M431 1698h2M485 1686h2M483 1645h2M366 1657h2M351 1696h2M497 1679h2M394 1703h2M507 1643h2M487 1642h2M467 1692h2M508 1640h2M375 1657h2M371 1659h2M477 1644h2M468 1646h2M484 1683h2M346 1666h2M423 1650h2M490 1681h2M362 1662h2M436 1647h2M422 1702h2M419 1651h2M402 1654h2M418 1701h2M406 1653h2M519 1675h2M474 1690h2M443 1694h2M425 1698h2M447 1647h2M437 1698h2M432 1651h2M348 1695h2M513 1676h2M397 1702h2M414 1653h2M422 1648h2" stroke="#f7f8fa" stroke-width="2" fill="none"/>
<path d="M502 1687h2M334 1691h2M393 1705h2M401 1647h2M383 1646h2M430 1710h2M438 1703h2M378 1644h2M492 1629h2M450 1643h2M502 1634h2M388 1704h2M416 1644h2M425 1703h2M455 1698h2M368 1705h2M343 1668h2M438 1633h2M507 1627h2M468 1638h2M500 1639h2M475 1695h2M450 1701h2M455 1702h2M523 1635h2M482 1637h2M517 1635h2M421 1710h2M337 1696h2M505 1632h2M385 1652h2M382 1704h2M346 1700h2M343 1664h2M442 1643h2M407 1649h2M350 1701h2M493 1639h2M376 1646h2M459 1644h2M466 1698h2M477 1638h2M487 1687h2M474 1638h2M346 1697h2M509 1681h2M462 1699h2M484 1690h2M434 1701h2M511 1637h2M339 1703h2M510 1680h2M381 1710h2M423 1644h2M404 1649h2M502 1686h2M406 1648h2M409 1644h2M388 1648h2M352 1706h2M441 1645h2M525 1634h2M397 1707h2M486 1640h2M497 1639h2M470 1693h2M377 1702h2M452 1700h2M438 1646h2M357 1660h2M416 1707h2M428 1644h2M357 1700h2M422 1647h2M413 1713h2M402 1649h2M520 1635h2M460 1635h2M370 1653h2M395 1650h2M364 1651h2M487 1688h2M503 1681h2M337 1671h2M418 1704h2M382 1650h2M514 1688h2M407 1706h2M365 1702h2M516 1678h2M342 1698h2M504 1638h2M457 1637h2M454 1698h2M473 1694h2M489 1686h2M338 1667h2M500 1685h2M384 1704h2M335 1673h2M350 1696h2M385 1705h2M376 1654h2M444 1699h2M429 1702h2M516 1679h2M504 1637h2M415 1707h2M435 1640h2M462 1697h2M441 1635h2M381 1648h2M457 1701h2M484 1690h2M481 1634h2M337 1664h2M476 1635h2M432 1709h2M453 1642h2M495 1685h2M342 1708h2M439 1700h2M520 1677h2M486 1689h2M414 1706h2M376 1651h2M495 1637h2M416 1708h2M502 1681h2M458 1701h2M435 1701h2M359 1656h2M367 1702h2M336 1668h2M401 1710h2" stroke="#e00404" stroke-width="2" fill="none"/>
<path d="M372 1706.5h3M417 1648.5h3M427 1646.5h3M498 1683.5h3M341 1666.5h3M406 1705.5h3M476 1694.5h3M479 1632.5h3M399 1712.5h3M382 1648.5h3M448 1635.5h3M500 1683.5h3M508 1681.5h3M345 1653.5h3M426 1647.5h3M384 1703.5h3M438 1702.5h3M391 1651.5h3M506 1689.5h3M472 1640.5h3M338 1698.5h3M383 1652.5h3M518 1681.5h3M450 1642.5h3M366 1656.5h3M461 1641.5h3M448 1639.5h3M341 1698.5h3M400 1650.5h3M415 1641.5h3M499 1682.5h3M451 1698.5h3M412 1647.5h3M347 1707.5h3M383 1703.5h3M352 1658.5h3M346 1660.5h3M504 1635.5h3M402 1708.5h3M471 1698.5h3M498 1684.5h3M462 1702.5h3M403 1641.5h3M516 1682.5h3M355 1700.5h3M512 1636.5h3M384 1631.5h3M368 1652.5h3M355 1658.5h3M367 1648.5h3M380 1702.5h3M448 1699.5h3M417 1704.5h3M426 1703.5h3M421 1704.5h3M351 1659.5h3M364 1639.5h3M477 1714.5h3M345 1715.5h3M377 1635.5h3M512 1718.5h3M444 1634.5h3M348 1631.5h3M384 1648.5h3M394 1637.5h3M343 1719.5h3" stroke="#a01010" stroke-width="3" fill="none"/>
<path d="M511 1702h2M402 1676h2M354 1691h2M441 1643h2M518 1644h2M452 1711h2M386 1663h2M360 1649h2M392 1691h2M496 1697h2M396 1687h2M373 1695h2M486 1635h2M487 1633h2M397 1677h2M405 1642h2M377 1667h2M404 1664h2M367 1689h2M366 1682h2M461 1692h2M416 1638h2M516 1700h2M379 1639h2M521 1696h2M402 1705h2M354 1666h2M418 1684h2M368 1676h2M460 1660h2M443 1642h2M397 1637h2M497 1638h2M424 1711h2M375 1709h2M436 1675h2M465 1637h2M477 1699h2" stroke="#e00404" stroke-width="2" fill="none"/>
<path d="M407 1651.5h3M398 1679.5h3M458 1708.5h3M438 1674.5h3M523 1636.5h3M469 1656.5h3M451 1669.5h3M359 1675.5h3M350 1695.5h3M454 1656.5h3M378 1687.5h3M458 1658.5h3M373 1646.5h3M446 1636.5h3M423 1687.5h3M506 1692.5h3M377 1698.5h3M508 1679.5h3M432 1696.5h3M441 1713.5h3M334 1710.5h3M513 1667.5h3" stroke="#a01010" stroke-width="3" fill="none"/>
<polygon points="333.4,1729.8 349.5,1722.9 367.9,1715.9 391,1711.3 414,1707.7 437,1705.8 460.1,1704.4 478.5,1702.1 487.7,1706.7 473.9,1720.5 455.5,1734.4 432.4,1745.9 409.4,1750.5 386.4,1752.8 363.3,1750.5 340.3,1745.9 333.4,1741.3" fill="#000000" stroke="#000000" stroke-width="1.6" stroke-linejoin="round"/>
<path d="M447 1710h2M427 1745h2M400 1751h2M465 1706h2M406 1751h2M478 1705h2M476 1718h2M464 1706h2M419 1711h2M406 1713h2M406 1750h2M368 1719h2M468 1726h2M477 1718h2M454 1733h2M447 1711h2M391 1716h2M458 1729h2M485 1709h2M438 1742h2M425 1712h2M352 1725h2M431 1712h2M441 1710h2M470 1719h2M340 1730h2M417 1750h2M377 1750h2M357 1725h2M475 1714h2M346 1747h2M364 1747h2M400 1748h2M475 1706h2" stroke="#f7f8fa" stroke-width="2" fill="none"/>
<path d="M360 1754h2M401 1704h2M354 1751h2M447 1740h2M413 1707h2M351 1749h2M421 1707h2M482 1705h2M453 1703h2M334 1728h2M465 1730h2M485 1716h2M401 1753h2M453 1737h2M389 1755h2M436 1758h2M438 1749h2M332 1741h2M445 1741h2M414 1751h2M464 1704h2M352 1752h2M357 1751h2M454 1738h2M430 1701h2M428 1749h2M491 1706h2M396 1708h2M466 1741h2M455 1705h2M478 1703h2M442 1759h2M404 1760h2M422 1707h2M356 1711h2M426 1749h2M361 1717h2M420 1707h2M389 1754h2M359 1715h2M440 1706h2M387 1754h2M359 1757h2M478 1702h2M452 1737h2M367 1761h2M375 1753h2M485 1717h2M345 1724h2M337 1748h2M389 1709h2M492 1712h2M349 1754h2M403 1754h2M403 1706h2M368 1754h2M445 1706h2M410 1705h2M456 1746h2M402 1709h2M481 1718h2M421 1751h2M435 1747h2M454 1738h2M461 1736h2M409 1708h2M332 1748h2M390 1712h2M370 1753h2M399 1708h2M477 1722h2M367 1758h2M481 1704h2M447 1763h2M483 1713h2M364 1754h2M492 1705h2M370 1709h2M396 1706h2M386 1754h2M370 1708h2M335 1722h2M376 1760h2M379 1753h2M406 1710h2M491 1708h2M424 1758h2M463 1736h2M470 1725h2M479 1718h2M378 1711h2M397 1709h2M450 1739h2" stroke="#000000" stroke-width="2" fill="none"/>
<path d="M458 1701.5h3M351 1719.5h3M347 1718.5h3M393 1754.5h3M353 1720.5h3M385 1708.5h3M466 1702.5h3M417 1751.5h3M426 1707.5h3M480 1695.5h3M375 1754.5h3M412 1755.5h3M484 1714.5h3M458 1737.5h3M447 1699.5h3M383 1710.5h3M333 1730.5h3M476 1722.5h3M398 1754.5h3M403 1709.5h3M452 1739.5h3M342 1747.5h3M365 1755.5h3M340 1727.5h3M483 1716.5h3M390 1709.5h3M422 1754.5h3M399 1699.5h3M374 1756.5h3M333 1734.5h3M480 1698.5h3M380 1756.5h3M413 1756.5h3M402 1702.5h3M381 1709.5h3M482 1714.5h3M345 1725.5h3M364 1758.5h3M366 1713.5h3M449 1739.5h3M487 1706.5h3M451 1698.5h3M351 1751.5h3M472 1723.5h3M369 1714.5h3M368 1715.5h3M332 1728.5h3M458 1705.5h3M362 1753.5h3M473 1726.5h3M509 1712.5h3M446 1692.5h3M460 1745.5h3M491 1688.5h3M488 1689.5h3M502 1754.5h3M351 1754.5h3M505 1711.5h3M472 1749.5h3M503 1748.5h3" stroke="#000000" stroke-width="3" fill="none"/>
<path d="M456 1728h2M407 1755h2M343 1739h2M376 1740h2M413 1747h2M367 1762h2M494 1743h2M396 1756h2M476 1720h2M367 1738h2M450 1722h2M413 1741h2" stroke="#000000" stroke-width="2" fill="none"/>
<path d="M416 1720.5h3M366 1732.5h3M486 1708.5h3M443 1748.5h3M424 1746.5h3M379 1755.5h3M386 1743.5h3M444 1731.5h3" stroke="#000000" stroke-width="3" fill="none"/>
</g>
<rect x="331.1" y="1624.7" width="196.7" height="174.1" fill="none" stroke="#262626" stroke-width="2"/>
<clipPath id="cp63"><rect x="540.7" y="1624.7" width="195.8" height="174.1"/></clipPath>
<rect x="540.7" y="1624.7" width="195.8" height="174.1" fill="#f7f8fa"/>
<g clip-path="url(#cp63)">
<polygon points="547.6,1679.1 561.4,1669.9 579.8,1663 602.9,1658.4 625.9,1656.1 648.9,1653.8 672,1649.2 695,1642.2 722.6,1633 736.4,1630.7 736.4,1660.7 708.8,1679.1 690.4,1692.9 662.7,1699.8 639.7,1702.1 616.7,1706.7 593.6,1706.7 570.6,1704.4 552.2,1699.8" fill="#e00404" stroke="#e00404" stroke-width="1.6" stroke-linejoin="round"/>
<path d="M624 1703h2M638 1701h2M646 1702h2M564 1673h2M675 1652h2M704 1679h2M621 1659h2M649 1698h2M715 1638h2M631 1659h2M668 1697h2M689 1690h2M615 1660h2M677 1653h2M640 1657h2M629 1660h2M688 1646h2M704 1645h2M704 1641h2M692 1689h2M553 1684h2M563 1672h2M688 1692h2M648 1698h2M661 1699h2M568 1674h2M710 1640h2M584 1665h2M628 1704h2M662 1698h2M664 1656h2M574 1702h2M558 1699h2M635 1703h2M551 1679h2M648 1657h2M676 1694h2M695 1686h2M707 1641h2M573 1705h2M669 1695h2M693 1648h2M676 1694h2M619 1706h2" stroke="#f7f8fa" stroke-width="2" fill="none"/>
<path d="M719 1628h2M705 1685h2M732 1632h2M701 1636h2M584 1715h2M608 1708h2M559 1707h2M670 1705h2M668 1647h2M705 1683h2M589 1709h2M716 1636h2M564 1706h2M635 1649h2M700 1687h2M603 1651h2M700 1640h2M551 1700h2M647 1706h2M726 1628h2M695 1639h2M648 1703h2M722 1633h2M683 1641h2M641 1651h2M617 1711h2M658 1650h2M702 1686h2M680 1697h2M599 1708h2M662 1705h2M569 1705h2M628 1655h2M647 1705h2M580 1711h2M578 1711h2M582 1713h2M582 1659h2M649 1650h2M638 1650h2M685 1703h2M709 1687h2M627 1707h2M715 1678h2M702 1692h2M597 1709h2M595 1660h2M581 1662h2M550 1702h2M589 1712h2M634 1706h2M705 1690h2M635 1656h2M548 1688h2M714 1679h2M718 1634h2M694 1692h2M701 1641h2M718 1678h2M589 1661h2M595 1660h2M661 1708h2M597 1708h2M688 1643h2M594 1716h2M630 1655h2M660 1706h2M730 1667h2M718 1682h2M720 1674h2M679 1698h2M586 1660h2M558 1672h2M546 1694h2M547 1684h2M658 1705h2M646 1703h2M712 1682h2M672 1699h2M566 1708h2M548 1700h2M666 1650h2M693 1639h2M699 1642h2M614 1656h2M551 1704h2M588 1653h2M727 1627h2M717 1681h2M635 1709h2M610 1658h2M613 1709h2M613 1647h2M559 1704h2M582 1713h2M636 1656h2M673 1700h2M681 1700h2M609 1714h2M702 1638h2M694 1633h2M724 1674h2M642 1707h2M700 1692h2M689 1632h2M647 1704h2M660 1703h2M542 1683h2M581 1709h2M677 1700h2M719 1629h2M611 1711h2M638 1706h2M643 1706h2M641 1650h2M678 1698h2M550 1676h2M580 1710h2M654 1644h2M685 1642h2M698 1689h2M648 1704h2M572 1659h2M699 1688h2M558 1657h2M697 1690h2M696 1698h2M609 1656h2M576 1708h2M672 1702h2M640 1717h2M569 1706h2M660 1650h2" stroke="#e00404" stroke-width="2" fill="none"/>
<path d="M598 1659.5h3M587 1715.5h3M695 1633.5h3M614 1654.5h3M623 1657.5h3M575 1707.5h3M612 1652.5h3M662 1651.5h3M718 1634.5h3M542 1696.5h3M587 1707.5h3M556 1669.5h3M693 1644.5h3M663 1704.5h3M600 1659.5h3M561 1714.5h3M669 1705.5h3M557 1702.5h3M678 1644.5h3M550 1677.5h3M574 1666.5h3M658 1701.5h3M696 1633.5h3M655 1703.5h3M578 1665.5h3M571 1708.5h3M668 1649.5h3M689 1697.5h3M592 1709.5h3M707 1639.5h3M641 1705.5h3M670 1646.5h3M587 1709.5h3M685 1642.5h3M594 1709.5h3M673 1708.5h3M639 1704.5h3M687 1645.5h3M547 1685.5h3M624 1707.5h3M601 1714.5h3M645 1654.5h3M700 1635.5h3M547 1691.5h3M628 1656.5h3M548 1686.5h3M569 1652.5h3M587 1649.5h3M581 1707.5h3M646 1654.5h3M581 1716.5h3M664 1704.5h3M683 1696.5h3M612 1653.5h3M682 1630.5h3M585 1643.5h3M659 1713.5h3M647 1717.5h3M628 1640.5h3M619 1634.5h3M667 1647.5h3M607 1635.5h3M701 1719.5h3" stroke="#a01010" stroke-width="3" fill="none"/>
<path d="M721 1627h2M654 1705h2M683 1686h2M644 1636h2M678 1641h2M710 1678h2M594 1655h2M562 1713h2M555 1647h2M620 1652h2M594 1680h2M658 1684h2M568 1683h2M700 1650h2M683 1654h2M635 1669h2M584 1659h2M607 1709h2M706 1672h2M731 1647h2M642 1632h2M687 1641h2M654 1695h2M571 1698h2M637 1705h2M680 1649h2M660 1647h2M662 1668h2M576 1712h2M596 1670h2M615 1704h2M652 1653h2" stroke="#e00404" stroke-width="2" fill="none"/>
<path d="M651 1691.5h3M622 1702.5h3M597 1680.5h3M576 1688.5h3M621 1685.5h3M563 1668.5h3M691 1702.5h3M651 1704.5h3M624 1650.5h3M645 1654.5h3M560 1691.5h3M637 1635.5h3M670 1693.5h3M685 1662.5h3M645 1694.5h3M691 1700.5h3M587 1686.5h3M556 1656.5h3M691 1651.5h3M559 1642.5h3M701 1645.5h3M549 1691.5h3M599 1640.5h3M688 1660.5h3M722 1676.5h3M654 1655.5h3M570 1651.5h3M614 1662.5h3" stroke="#a01010" stroke-width="3" fill="none"/>
<polygon points="543,1729.8 556.8,1722.9 575.2,1713.6 598.3,1706.7 621.3,1702.1 644.3,1699.8 667.3,1697.5 690.4,1695.2 690.4,1704.4 676.6,1720.5 658.1,1734.4 635.1,1745.9 612.1,1752.8 589,1755.1 566,1752.8 547.6,1748.2 543,1743.6" fill="#000000" stroke="#000000" stroke-width="1.6" stroke-linejoin="round"/>
<path d="M597 1709h2M671 1720h2M607 1711h2M638 1741h2M673 1723h2M558 1724h2M677 1701h2M547 1738h2M582 1715h2M624 1707h2M589 1752h2M591 1713h2M562 1724h2M633 1704h2M657 1732h2M633 1704h2M600 1711h2M685 1704h2M640 1705h2M635 1745h2M586 1716h2M671 1720h2M562 1725h2M656 1735h2M683 1697h2M654 1701h2M664 1729h2M654 1734h2M685 1697h2M588 1711h2M580 1717h2M655 1703h2M611 1752h2M665 1701h2" stroke="#f7f8fa" stroke-width="2" fill="none"/>
<path d="M661 1743h2M655 1742h2M674 1696h2M545 1722h2M601 1758h2M690 1709h2M570 1714h2M609 1761h2M652 1741h2M641 1695h2M579 1711h2M667 1698h2M628 1699h2M585 1710h2M693 1688h2M686 1722h2M633 1749h2M685 1718h2M598 1764h2M686 1730h2M628 1700h2M542 1749h2M610 1704h2M557 1757h2M679 1725h2M602 1755h2M560 1718h2M687 1696h2M569 1762h2M569 1703h2M636 1701h2M562 1717h2M630 1749h2M670 1694h2M594 1709h2M573 1757h2M646 1745h2M687 1696h2M640 1744h2M694 1712h2M613 1703h2M596 1707h2M590 1759h2M615 1704h2M636 1701h2M544 1730h2M589 1710h2M545 1753h2M690 1694h2M651 1692h2M609 1755h2M628 1749h2M550 1718h2M649 1741h2M638 1697h2M639 1753h2M552 1723h2M654 1699h2M629 1758h2M626 1699h2M610 1756h2M643 1698h2M638 1758h2M660 1734h2M653 1694h2M666 1731h2M685 1687h2M580 1704h2M691 1704h2M597 1704h2M668 1732h2M685 1712h2M646 1743h2M621 1754h2M568 1717h2M597 1694h2M598 1757h2M548 1760h2M564 1760h2M547 1752h2M653 1696h2M598 1759h2M595 1757h2M659 1699h2M619 1701h2M616 1756h2M551 1751h2M563 1754h2M654 1698h2M616 1697h2M576 1757h2M662 1735h2M686 1695h2M691 1707h2M621 1703h2" stroke="#000000" stroke-width="2" fill="none"/>
<path d="M623 1751.5h3M565 1716.5h3M556 1722.5h3M692 1698.5h3M695 1700.5h3M692 1693.5h3M670 1728.5h3M632 1752.5h3M683 1725.5h3M657 1696.5h3M604 1756.5h3M654 1697.5h3M653 1698.5h3M698 1696.5h3M590 1710.5h3M577 1759.5h3M670 1698.5h3M619 1702.5h3M559 1756.5h3M588 1758.5h3M591 1709.5h3M644 1744.5h3M565 1719.5h3M580 1701.5h3M655 1691.5h3M687 1716.5h3M635 1696.5h3M546 1728.5h3M596 1701.5h3M698 1698.5h3M626 1689.5h3M553 1754.5h3M573 1755.5h3M570 1697.5h3M602 1758.5h3M630 1700.5h3M617 1695.5h3M596 1757.5h3M630 1697.5h3M620 1753.5h3M608 1705.5h3M633 1750.5h3M637 1700.5h3M569 1715.5h3M664 1734.5h3M587 1758.5h3M640 1745.5h3M662 1734.5h3M694 1739.5h3M630 1675.5h3M643 1691.5h3M694 1715.5h3M614 1700.5h3M706 1690.5h3M543 1733.5h3M553 1761.5h3M653 1766.5h3M624 1761.5h3" stroke="#000000" stroke-width="3" fill="none"/>
<path d="M688 1736h2M679 1748h2M649 1739h2M617 1740h2M656 1739h2M594 1758h2M680 1738h2M684 1716h2M616 1737h2M577 1745h2M555 1751h2M691 1712h2M674 1732h2M664 1713h2M591 1737h2M608 1762h2M663 1733h2M593 1736h2M614 1759h2M548 1766h2" stroke="#000000" stroke-width="2" fill="none"/>
<path d="M662 1713.5h3M594 1762.5h3M568 1752.5h3M596 1751.5h3M647 1740.5h3" stroke="#000000" stroke-width="3" fill="none"/>
</g>
<rect x="540.7" y="1624.7" width="195.8" height="174.1" fill="none" stroke="#262626" stroke-width="2"/>
<clipPath id="cp64"><rect x="745.5" y="1622.9" width="195.6" height="175.4"/></clipPath>
<rect x="745.5" y="1622.9" width="195.6" height="175.4" fill="#f7f8fa"/>
<g clip-path="url(#cp64)">
<polygon points="746.9,1697.2 763,1690.3 785.9,1685.8 808.9,1681.2 831.8,1676.6 854.8,1669.7 877.7,1665.1 900.7,1658.2 923.7,1649 939.7,1644.4 941.1,1701.8 923.7,1699.5 900.7,1701.8 877.7,1715.6 854.8,1729.4 831.8,1743.1 808.9,1743.1 785.9,1738.6 763,1734 746.9,1729.4" fill="#e00404" stroke="#e00404" stroke-width="1.6" stroke-linejoin="round"/>
<path d="M757 1729h2M883 1668h2M809 1743h2M934 1697h2M909 1698h2M854 1730h2M782 1689h2M850 1674h2M924 1653h2M755 1698h2M856 1673h2M914 1659h2M880 1710h2M761 1731h2M904 1663h2M811 1744h2M883 1712h2M783 1688h2M829 1683h2M773 1694h2M922 1652h2M904 1659h2M836 1740h2M788 1736h2M818 1740h2M871 1717h2M904 1701h2M788 1738h2M872 1719h2M844 1732h2M861 1726h2M838 1678h2M833 1681h2M863 1672h2M770 1733h2M931 1698h2M797 1687h2M920 1652h2M780 1689h2M869 1720h2M858 1728h2M900 1698h2M830 1682h2M828 1743h2M840 1733h2M872 1719h2M791 1739h2M861 1722h2M838 1739h2" stroke="#f7f8fa" stroke-width="2" fill="none"/>
<path d="M920 1705h2M872 1662h2M860 1662h2M909 1646h2M900 1655h2M931 1705h2M919 1705h2M872 1666h2M915 1651h2M900 1657h2M902 1655h2M898 1713h2M817 1745h2M756 1692h2M825 1678h2M851 1738h2M903 1646h2M780 1682h2M758 1749h2M922 1645h2M793 1745h2M844 1745h2M839 1742h2M905 1654h2M801 1752h2M931 1702h2M825 1747h2M753 1734h2M936 1642h2M842 1672h2M747 1697h2M855 1737h2M880 1731h2M878 1665h2M883 1715h2M813 1745h2M778 1685h2M844 1671h2M863 1658h2M924 1701h2M901 1708h2M853 1736h2M809 1745h2M825 1677h2M849 1671h2M912 1648h2M750 1731h2M760 1692h2M828 1747h2M936 1641h2M761 1736h2M750 1694h2M767 1737h2M801 1682h2M896 1659h2M932 1709h2M936 1642h2M912 1704h2M935 1636h2M805 1747h2M895 1655h2M869 1667h2M864 1729h2M767 1689h2M853 1731h2M882 1721h2M820 1676h2M851 1733h2M846 1736h2M789 1743h2M760 1686h2M747 1731h2M916 1651h2M932 1642h2M928 1644h2M897 1654h2M852 1733h2M867 1668h2M936 1646h2M777 1686h2M909 1703h2M909 1655h2M884 1660h2M935 1639h2M800 1744h2M830 1748h2M752 1693h2M757 1734h2M911 1707h2M873 1665h2M920 1648h2M802 1743h2M936 1645h2M784 1744h2M890 1712h2M918 1707h2M838 1670h2M786 1755h2M846 1751h2M934 1711h2M908 1706h2M793 1679h2M882 1664h2M897 1660h2M811 1745h2M770 1737h2M841 1674h2M778 1688h2M918 1651h2M767 1689h2M786 1683h2M910 1703h2M909 1703h2M837 1743h2M868 1723h2M835 1671h2M849 1672h2M897 1707h2M849 1670h2M869 1728h2M853 1671h2M921 1701h2M879 1717h2M817 1747h2M839 1673h2M794 1746h2M828 1749h2M793 1683h2M901 1715h2M924 1703h2M926 1707h2M753 1694h2M819 1678h2M896 1706h2M799 1680h2M809 1680h2M895 1708h2M936 1645h2" stroke="#e00404" stroke-width="2" fill="none"/>
<path d="M887 1662.5h3M759 1693.5h3M818 1680.5h3M769 1738.5h3M795 1682.5h3M837 1749.5h3M840 1741.5h3M763 1740.5h3M826 1746.5h3M772 1740.5h3M858 1668.5h3M776 1741.5h3M923 1650.5h3M907 1656.5h3M846 1664.5h3M761 1688.5h3M899 1656.5h3M936 1645.5h3M810 1745.5h3M931 1646.5h3M833 1746.5h3M868 1663.5h3M754 1695.5h3M871 1727.5h3M894 1708.5h3M909 1654.5h3M820 1744.5h3M779 1740.5h3M875 1663.5h3M891 1717.5h3M865 1668.5h3M807 1745.5h3M859 1728.5h3M825 1675.5h3M916 1704.5h3M872 1725.5h3M758 1736.5h3M922 1702.5h3M894 1658.5h3M869 1664.5h3M850 1668.5h3M819 1744.5h3M864 1741.5h3M808 1677.5h3M793 1749.5h3M754 1742.5h3M785 1683.5h3M810 1749.5h3M922 1707.5h3M776 1689.5h3M775 1739.5h3M865 1728.5h3M861 1668.5h3M826 1676.5h3M766 1737.5h3M822 1677.5h3M747 1714.5h3M805 1681.5h3M774 1688.5h3M927 1702.5h3M788 1748.5h3M866 1725.5h3M897 1715.5h3M933 1645.5h3M786 1740.5h3M764 1683.5h3M876 1718.5h3M813 1677.5h3M836 1675.5h3M874 1666.5h3M887 1721.5h3M759 1657.5h3M794 1747.5h3M885 1634.5h3M876 1652.5h3M843 1633.5h3M915 1741.5h3M800 1649.5h3M876 1638.5h3M825 1747.5h3" stroke="#a01010" stroke-width="3" fill="none"/>
<path d="M861 1655h2M922 1687h2M891 1671h2M864 1671h2M868 1720h2M911 1650h2M857 1700h2M919 1678h2M912 1669h2M936 1679h2M901 1687h2M908 1708h2M884 1678h2M929 1686h2M917 1643h2M926 1646h2M862 1702h2M883 1645h2M911 1678h2M933 1653h2M911 1692h2M863 1693h2M864 1684h2M876 1642h2M910 1662h2M898 1684h2" stroke="#e00404" stroke-width="2" fill="none"/>
<path d="M896 1700.5h3M868 1678.5h3M864 1661.5h3M900 1655.5h3M861 1712.5h3M938 1675.5h3M874 1664.5h3M861 1656.5h3M864 1702.5h3M897 1659.5h3M908 1708.5h3M924 1688.5h3M883 1689.5h3M933 1635.5h3M886 1701.5h3M874 1665.5h3M915 1654.5h3M908 1687.5h3M862 1704.5h3M911 1707.5h3M873 1695.5h3M880 1719.5h3M873 1677.5h3M922 1643.5h3" stroke="#a01010" stroke-width="3" fill="none"/>
<polygon points="746.9,1711 763,1706.4 785.9,1699.5 808.9,1692.6 831.8,1688.1 854.8,1683.5 877.7,1681.2 896.1,1683.5 886.9,1697.2 873.1,1715.6 859.4,1734 845.6,1747.7 822.6,1750 795.1,1743.1 772.1,1738.6 746.9,1738.6" fill="#000000" stroke="#000000" stroke-width="1.6" stroke-linejoin="round"/>
<path d="M827 1747h2M870 1686h2M777 1738h2M832 1692h2M799 1744h2M845 1746h2M754 1737h2M853 1686h2M820 1746h2M809 1699h2M777 1707h2M861 1685h2M873 1711h2M774 1735h2M859 1687h2M845 1749h2M872 1683h2M865 1722h2M871 1684h2M775 1738h2M864 1687h2M808 1697h2M821 1746h2M883 1685h2M879 1683h2M869 1714h2M825 1694h2M777 1737h2M861 1688h2M799 1700h2M799 1744h2M883 1703h2M758 1739h2M824 1746h2M883 1686h2M887 1686h2" stroke="#f7f8fa" stroke-width="2" fill="none"/>
<path d="M795 1746h2M864 1674h2M885 1682h2M887 1681h2M768 1702h2M810 1685h2M856 1744h2M843 1686h2M794 1698h2M897 1687h2M837 1751h2M828 1752h2M827 1687h2M860 1682h2M766 1705h2M783 1743h2M886 1677h2M879 1708h2M856 1739h2M800 1696h2M820 1674h2M806 1691h2M826 1751h2M889 1702h2M894 1680h2M767 1741h2M857 1738h2M885 1677h2M804 1748h2M864 1740h2M762 1740h2M891 1679h2M901 1691h2M747 1727h2M903 1683h2M876 1714h2M892 1691h2M847 1754h2M763 1746h2M787 1700h2M897 1681h2M889 1697h2M824 1753h2M826 1761h2M754 1744h2M858 1684h2M865 1728h2M755 1706h2M768 1703h2M818 1673h2M792 1692h2M790 1743h2M768 1705h2M893 1690h2M804 1691h2M875 1716h2M790 1745h2M758 1706h2M882 1708h2M872 1724h2M850 1679h2M850 1674h2M861 1681h2M755 1741h2M848 1684h2M869 1741h2M861 1746h2M777 1700h2M795 1696h2M770 1700h2M891 1678h2M886 1700h2M815 1753h2M852 1762h2M767 1745h2M787 1700h2M827 1690h2M878 1711h2M866 1734h2M848 1681h2M811 1685h2M866 1681h2M768 1705h2M877 1720h2M843 1749h2M752 1708h2M844 1752h2M812 1692h2M783 1742h2M768 1742h2M883 1712h2M877 1681h2M847 1686h2M749 1706h2M895 1686h2M747 1722h2M892 1699h2M839 1682h2M895 1692h2M845 1684h2M766 1702h2M775 1749h2" stroke="#000000" stroke-width="2" fill="none"/>
<path d="M891 1697.5h3M787 1746.5h3M755 1740.5h3M858 1682.5h3M765 1742.5h3M903 1686.5h3M840 1686.5h3M852 1743.5h3M851 1678.5h3M792 1695.5h3M867 1735.5h3M853 1683.5h3M882 1710.5h3M753 1741.5h3M806 1694.5h3M870 1740.5h3M834 1750.5h3M840 1752.5h3M891 1692.5h3M803 1752.5h3M821 1691.5h3M882 1721.5h3M826 1752.5h3M837 1753.5h3M828 1689.5h3M889 1714.5h3M812 1752.5h3M836 1760.5h3M821 1686.5h3M862 1741.5h3M870 1676.5h3M888 1701.5h3M896 1687.5h3M786 1744.5h3M879 1716.5h3M837 1750.5h3M862 1735.5h3M833 1682.5h3M800 1757.5h3M773 1701.5h3M849 1685.5h3M871 1722.5h3M769 1706.5h3M778 1693.5h3M858 1750.5h3M770 1700.5h3M899 1686.5h3M835 1754.5h3M844 1753.5h3M752 1753.5h3M812 1661.5h3M799 1690.5h3M820 1669.5h3M840 1753.5h3M781 1680.5h3M832 1660.5h3M925 1731.5h3M879 1675.5h3M804 1683.5h3M888 1755.5h3" stroke="#000000" stroke-width="3" fill="none"/>
<path d="M873 1738h2M856 1730h2M763 1750h2M864 1750h2M847 1736h2M801 1778h2M815 1752h2M755 1748h2M852 1776h2M859 1747h2M775 1776h2M820 1757h2M836 1731h2M772 1774h2M762 1764h2M861 1763h2M853 1773h2M820 1747h2M863 1750h2" stroke="#000000" stroke-width="2" fill="none"/>
<path d="M801 1740.5h3M831 1765.5h3M766 1750.5h3M836 1765.5h3M848 1745.5h3M799 1769.5h3M842 1757.5h3M869 1729.5h3M812 1765.5h3M796 1736.5h3M756 1744.5h3M848 1745.5h3M838 1768.5h3M819 1754.5h3M800 1772.5h3M776 1770.5h3M855 1739.5h3M849 1752.5h3M796 1773.5h3M829 1732.5h3M804 1747.5h3" stroke="#000000" stroke-width="3" fill="none"/>
</g>
<rect x="745.5" y="1622.9" width="195.6" height="175.4" fill="none" stroke="#262626" stroke-width="2"/>
<clipPath id="cp65"><rect x="952.1" y="1622.9" width="194.2" height="176.3"/></clipPath>
<rect x="952.1" y="1622.9" width="194.2" height="176.3" fill="#f7f8fa"/>
<g clip-path="url(#cp65)">
<polygon points="955.8,1729.4 965,1720.2 978.8,1715.6 997.1,1708.7 1015.5,1701.8 1038.4,1694.9 1061.4,1688.1 1084.4,1681.2 1107.3,1672 1130.3,1665.1 1145,1655.9 1145,1701.8 1130.3,1711 1107.3,1724.8 1084.4,1734 1061.4,1743.1 1038.4,1747.7 1015.5,1747.7 992.5,1743.1 969.6,1740.9 955.8,1738.6" fill="#e00404" stroke="#e00404" stroke-width="1.6" stroke-linejoin="round"/>
<path d="M1067 1740h2M1023 1703h2M1119 1719h2M964 1726h2M1034 1698h2M1068 1689h2M1117 1718h2M1080 1736h2M1035 1747h2M1140 1702h2M981 1741h2M1094 1727h2M1081 1735h2M959 1736h2M1068 1692h2M1053 1742h2M1105 1676h2M1038 1699h2M1129 1711h2M1080 1684h2M1102 1679h2M1110 1674h2M992 1716h2M1003 1745h2M1066 1738h2M980 1720h2M1019 1705h2M1083 1730h2M997 1742h2M971 1741h2M1107 1724h2M959 1729h2M984 1742h2M1085 1732h2M1034 1747h2M1085 1733h2M1102 1726h2M1124 1711h2M999 1745h2M1026 1701h2M1031 1744h2M1063 1741h2M1064 1740h2M1115 1717h2M1071 1689h2M1097 1682h2" stroke="#f7f8fa" stroke-width="2" fill="none"/>
<path d="M1087 1735h2M1123 1663h2M1080 1670h2M1015 1755h2M1125 1663h2M959 1721h2M1110 1672h2M1108 1728h2M967 1743h2M1103 1728h2M1053 1746h2M1022 1750h2M954 1721h2M1057 1689h2M1042 1688h2M1111 1735h2M1046 1693h2M1142 1658h2M1031 1688h2M975 1744h2M1114 1730h2M1142 1656h2M1100 1730h2M1110 1669h2M977 1747h2M1083 1746h2M960 1744h2M1079 1739h2M1019 1752h2M978 1710h2M1047 1690h2M1032 1754h2M1047 1689h2M1025 1750h2M1142 1650h2M1087 1681h2M962 1724h2M1012 1702h2M1119 1722h2M1001 1708h2M1136 1714h2M1062 1688h2M1112 1724h2M1085 1669h2M1106 1670h2M1045 1688h2M1104 1735h2M1039 1751h2M995 1745h2M1069 1742h2M1067 1686h2M1061 1688h2M1104 1735h2M1131 1713h2M1043 1749h2M1131 1711h2M1067 1680h2M1072 1741h2M1000 1701h2M992 1710h2M1049 1692h2M986 1698h2M963 1744h2M1032 1693h2M976 1713h2M965 1720h2M955 1731h2M1001 1701h2M1132 1713h2M1060 1689h2M994 1708h2M1107 1668h2M961 1747h2M982 1711h2M988 1750h2M1078 1674h2M1142 1654h2M1090 1676h2M1127 1660h2M1083 1681h2M1043 1752h2M974 1715h2M988 1745h2M1079 1682h2M1113 1726h2M1017 1699h2M974 1748h2M1035 1754h2M1137 1709h2M968 1744h2M1140 1707h2M1048 1688h2M1103 1730h2M974 1717h2M1118 1729h2M1130 1719h2M969 1754h2M1003 1701h2M980 1746h2M1058 1686h2M1000 1750h2M1120 1729h2M1031 1698h2M1021 1700h2M1133 1664h2M1051 1751h2M983 1746h2M960 1724h2M1098 1730h2M1004 1748h2M1063 1746h2M1039 1687h2M1023 1752h2M995 1748h2M1116 1721h2M1126 1717h2M1098 1676h2M1022 1757h2M1049 1688h2M998 1706h2M1111 1727h2M1000 1708h2M1048 1687h2M1033 1749h2M986 1746h2M1121 1720h2M1019 1700h2M997 1749h2M1040 1695h2M1135 1658h2M1017 1700h2M1137 1660h2M1133 1711h2M1143 1654h2M1084 1682h2M1000 1704h2M1093 1676h2M1109 1728h2M1126 1666h2M1143 1708h2M983 1709h2M1032 1750h2" stroke="#e00404" stroke-width="2" fill="none"/>
<path d="M1002 1752.5h3M1053 1747.5h3M1001 1704.5h3M1126 1715.5h3M985 1744.5h3M1047 1755.5h3M1076 1683.5h3M960 1742.5h3M1010 1704.5h3M975 1750.5h3M1104 1728.5h3M1051 1690.5h3M1125 1664.5h3M1128 1715.5h3M1126 1666.5h3M1139 1712.5h3M976 1743.5h3M1076 1743.5h3M1119 1664.5h3M1139 1713.5h3M1093 1679.5h3M1089 1736.5h3M1141 1655.5h3M1103 1728.5h3M1074 1678.5h3M1015 1752.5h3M1034 1752.5h3M1073 1681.5h3M1015 1749.5h3M959 1724.5h3M1117 1729.5h3M1132 1665.5h3M977 1747.5h3M1142 1655.5h3M1117 1728.5h3M956 1743.5h3M1038 1694.5h3M1067 1682.5h3M1027 1699.5h3M965 1719.5h3M978 1713.5h3M1017 1701.5h3M1047 1747.5h3M1014 1757.5h3M1104 1672.5h3M1017 1702.5h3M973 1718.5h3M1003 1707.5h3M1055 1673.5h3M1029 1696.5h3M1073 1685.5h3M1098 1759.5h3M1132 1654.5h3M1114 1668.5h3M1136 1711.5h3M1097 1731.5h3M964 1751.5h3M961 1667.5h3M1027 1649.5h3M1133 1760.5h3M1125 1653.5h3" stroke="#a01010" stroke-width="3" fill="none"/>
<path d="M959 1742h2M969 1732h2M1024 1726h2M1044 1712h2M1050 1720h2M1133 1707h2M1088 1690h2M1038 1736h2M1085 1703h2M1040 1696h2M1087 1677h2M1122 1708h2M1015 1724h2M1012 1736h2M1138 1650h2M1126 1658h2M1005 1703h2M1034 1690h2M1005 1718h2M990 1740h2M1117 1702h2M1006 1687h2M981 1709h2M1071 1687h2M1080 1689h2M1072 1698h2M1005 1724h2M977 1733h2M1032 1723h2M993 1731h2M1101 1679h2" stroke="#e00404" stroke-width="2" fill="none"/>
<path d="M973 1724.5h3M1109 1723.5h3M981 1695.5h3M1005 1690.5h3M1141 1704.5h3M1096 1695.5h3M1131 1678.5h3M1077 1714.5h3M1135 1706.5h3M964 1734.5h3M960 1740.5h3M1086 1669.5h3M1015 1724.5h3M1133 1709.5h3M1007 1721.5h3M1026 1713.5h3M1027 1721.5h3M997 1729.5h3M1128 1677.5h3M1097 1662.5h3M993 1731.5h3M1034 1727.5h3M1126 1651.5h3M972 1725.5h3M1082 1717.5h3M989 1721.5h3M1080 1704.5h3M1100 1715.5h3M1115 1705.5h3" stroke="#a01010" stroke-width="3" fill="none"/>
<polygon points="953.5,1738.6 978.8,1736.3 1001.7,1734 1024.7,1731.7 1047.6,1727.1 1070.6,1722.5 1088.9,1720.2 1093.5,1729.4 1088.9,1747.7 1082.1,1766.1 1075.2,1784.5 1061.4,1798.2 953.5,1798.2" fill="#000000" stroke="#000000" stroke-width="1.6" stroke-linejoin="round"/>
<path d="M1000 1735h2M1065 1789h2M1038 1734h2M1069 1727h2M1023 1738h2M1071 1783h2M976 1739h2M1018 1736h2M1067 1727h2M1032 1733h2M1090 1741h2M983 1737h2M1067 1726h2M1067 1727h2M1084 1752h2M1081 1768h2M1026 1737h2M993 1740h2M1005 1737h2M1014 1736h2M1081 1758h2M1089 1726h2M1088 1739h2M1084 1753h2M1086 1726h2M958 1782h2M1091 1730h2M1057 1731h2M1092 1729h2M980 1741h2M1002 1738h2M1041 1734h2M1091 1736h2M1027 1734h2M1083 1765h2M1091 1733h2M1049 1729h2M1078 1767h2M958 1742h2" stroke="#f7f8fa" stroke-width="2" fill="none"/>
<path d="M1041 1728h2M967 1738h2M1078 1782h2M1081 1780h2M1053 1727h2M994 1734h2M1052 1720h2M1087 1762h2M1076 1790h2M956 1737h2M1014 1730h2M1047 1716h2M1077 1782h2M969 1731h2M1012 1732h2M971 1737h2M1095 1721h2M1027 1728h2M958 1734h2M993 1731h2M1076 1722h2M957 1737h2M1017 1733h2M1072 1723h2M1091 1746h2M1029 1731h2M1044 1725h2M1089 1721h2M1064 1724h2M1081 1772h2M1005 1732h2M1094 1727h2M1049 1721h2M1104 1740h2M1019 1731h2M1072 1791h2M970 1738h2M1079 1788h2M1038 1729h2M1076 1711h2M1013 1723h2M1088 1761h2M1089 1753h2M979 1732h2M974 1735h2M1058 1725h2M1048 1725h2M1077 1722h2M1060 1725h2M1057 1716h2M1093 1742h2M1075 1722h2M954 1738h2M1075 1722h2M1072 1719h2M969 1736h2M1094 1733h2M1085 1767h2M1071 1793h2M975 1737h2M1098 1734h2M1020 1730h2M1089 1758h2M1066 1796h2M1008 1721h2M1066 1724h2M1088 1760h2M1096 1734h2M1082 1711h2M973 1737h2M1049 1724h2M1048 1727h2M1084 1768h2M1080 1790h2M953 1764h2M953 1771h2M998 1732h2M1021 1731h2M1088 1758h2M1085 1719h2M1079 1777h2M966 1735h2M974 1737h2M1093 1724h2M963 1730h2M1062 1725h2M1098 1729h2M1001 1735h2M1084 1717h2M1095 1743h2M1085 1783h2M1038 1729h2M981 1734h2M974 1737h2M1043 1719h2M1094 1726h2M1012 1732h2M1064 1717h2M1093 1776h2M1084 1768h2M1095 1741h2M1094 1741h2M1021 1731h2M1095 1726h2M1028 1726h2M968 1738h2M1098 1744h2M979 1731h2M957 1738h2M1054 1723h2M1098 1735h2M1082 1774h2" stroke="#000000" stroke-width="2" fill="none"/>
<path d="M1078 1785.5h3M1011 1730.5h3M1086 1770.5h3M1094 1753.5h3M995 1732.5h3M1068 1715.5h3M1023 1716.5h3M1002 1735.5h3M1036 1726.5h3M1027 1723.5h3M1082 1773.5h3M1006 1725.5h3M990 1721.5h3M995 1732.5h3M1085 1721.5h3M957 1739.5h3M976 1734.5h3M1081 1770.5h3M1072 1789.5h3M963 1738.5h3M1001 1733.5h3M1097 1724.5h3M1087 1792.5h3M953 1762.5h3M1078 1786.5h3M1092 1721.5h3M1092 1754.5h3M1036 1730.5h3M1065 1796.5h3M961 1733.5h3M979 1735.5h3M1007 1730.5h3M1079 1776.5h3M957 1733.5h3M1089 1774.5h3M958 1736.5h3M1021 1730.5h3M1064 1720.5h3M1017 1732.5h3M1095 1728.5h3M1095 1728.5h3M1097 1737.5h3M1075 1793.5h3M975 1731.5h3M1076 1784.5h3M1099 1738.5h3M964 1730.5h3M1007 1733.5h3M983 1731.5h3M1085 1720.5h3M1027 1730.5h3M993 1734.5h3M1022 1697.5h3M1097 1764.5h3M1098 1698.5h3M1100 1789.5h3M1041 1700.5h3M1060 1711.5h3M1107 1777.5h3M1014 1732.5h3M1061 1705.5h3M1104 1766.5h3" stroke="#000000" stroke-width="3" fill="none"/>
<path d="M1038 1765h2M1038 1794h2M1021 1782h2M1009 1764h2M1095 1778h2M983 1793h2M999 1784h2M976 1757h2M1038 1787h2M1080 1731h2M959 1765h2M1093 1742h2M957 1755h2M1075 1784h2M1015 1765h2M1045 1780h2M1058 1736h2" stroke="#000000" stroke-width="2" fill="none"/>
<path d="M1094 1796.5h3M1032 1776.5h3M1027 1752.5h3M1036 1774.5h3M1048 1769.5h3M1088 1761.5h3M999 1775.5h3M1003 1790.5h3M994 1757.5h3M1064 1757.5h3M1069 1758.5h3M1079 1751.5h3M1021 1760.5h3M969 1779.5h3M1079 1748.5h3M1058 1794.5h3M1045 1745.5h3M1018 1745.5h3M1001 1745.5h3M970 1746.5h3M1096 1776.5h3M1048 1796.5h3M1064 1794.5h3" stroke="#000000" stroke-width="3" fill="none"/>
</g>
<rect x="952.1" y="1622.9" width="194.2" height="176.3" fill="none" stroke="#262626" stroke-width="2"/>
<clipPath id="cp66"><rect x="1158.7" y="1622.9" width="193.3" height="177.7"/></clipPath>
<rect x="1158.7" y="1622.9" width="193.3" height="177.7" fill="#f7f8fa"/>
<g clip-path="url(#cp66)">
<polyline points="1160.2,1799 1161.2,1799 1162.2,1799 1163.2,1799 1164.2,1799 1165.2,1799 1166.2,1799 1167.2,1799 1168.2,1799 1169.2,1799 1170.2,1799 1171.2,1799 1172.2,1799 1173.2,1799 1174.2,1799 1175.2,1799 1176.2,1799 1177.2,1799 1178.2,1799 1179.2,1799 1180.2,1798.9 1181.2,1798.9 1182.2,1798.9 1183.2,1798.8 1184.2,1798.8 1185.2,1798.7 1186.2,1798.7 1187.2,1798.6 1188.2,1798.5 1189.2,1798.4 1190.2,1798.2 1191.2,1798.1 1192.2,1797.9 1193.2,1797.6 1194.2,1797.4 1195.2,1797.1 1196.2,1796.7 1197.2,1796.3 1198.2,1795.8 1199.2,1795.2 1200.2,1794.6 1201.2,1793.9 1202.2,1793.1 1203.2,1792.1 1204.2,1791 1205.2,1789.8 1206.2,1788.6 1207.2,1787.1 1208.2,1785.3 1209.2,1783.5 1210.2,1781.5 1211.2,1779.2 1212.2,1776.9 1213.2,1774.2 1214.2,1771.3 1215.2,1768.2 1216.2,1765.1 1217.2,1761.4 1218.2,1757.5 1219.2,1753.5 1220.2,1749 1221.2,1744.6 1222.2,1739.6 1223.2,1734.7 1224.2,1729.7 1225.2,1724.6 1226.2,1719 1227.2,1713.7 1228.2,1707.9 1229.2,1702.2 1230.2,1696.1 1231.2,1691.2 1232.2,1685.3 1233.2,1679 1234.2,1674.5 1235.2,1668.3 1236.2,1664.4 1237.2,1659.2 1238.2,1654.1 1239.2,1650.6 1240.2,1645.9 1241.2,1643.8 1242.2,1639.9 1243.2,1638.7 1244.2,1636.9 1245.2,1634.8 1246.2,1633.9 1247.2,1635 1248.2,1633.6 1249.2,1635.8 1250.2,1638.2 1251.2,1640.4 1252.2,1644.3 1253.2,1649.1 1254.2,1653.4 1255.2,1659.2 1256.2,1665.4 1257.2,1672.9 1258.2,1679.1 1259.2,1686.6 1260.2,1693.1 1261.2,1700.3 1262.2,1707.2 1263.2,1715 1264.2,1722.1 1265.2,1729 1266.2,1735.3 1267.2,1741.9 1268.2,1747.5 1269.2,1753 1270.2,1758.3 1271.2,1763 1272.2,1767.4 1273.2,1771.5 1274.2,1775.2 1275.2,1778.3 1276.2,1781.2 1277.2,1783.8 1278.2,1786.1 1279.2,1788.1 1280.2,1789.9 1281.2,1791.3 1282.2,1792.6 1283.2,1793.8 1284.2,1794.7 1285.2,1795.5 1286.2,1796.1 1287.2,1796.7 1288.2,1797.1 1289.2,1797.5 1290.2,1797.8 1291.2,1798.1 1292.2,1798.3 1293.2,1798.4 1294.2,1798.6 1295.2,1798.7 1296.2,1798.8 1297.2,1798.8 1298.2,1798.9 1299.2,1798.9 1300.2,1798.9 1301.2,1799 1302.2,1799 1303.2,1799 1304.2,1799 1305.2,1799 1306.2,1799 1307.2,1799 1308.2,1799 1309.2,1799 1310.2,1799 1311.2,1799 1312.2,1799 1313.2,1799 1314.2,1799 1315.2,1799 1316.2,1799 1317.2,1799 1318.2,1799 1319.2,1799 1320.2,1799 1321.2,1799 1322.2,1799 1323.2,1799 1324.2,1799 1325.2,1799 1326.2,1799 1327.2,1799 1328.2,1799 1329.2,1799 1330.2,1799 1331.2,1799 1332.2,1799 1333.2,1799 1334.2,1799 1335.2,1799 1336.2,1799 1337.2,1799 1338.2,1799 1339.2,1799 1340.2,1799 1341.2,1799 1342.2,1799 1343.2,1799 1344.2,1799 1345.2,1799 1346.2,1799 1347.2,1799 1348.2,1799 1349.2,1799 1350.2,1799" fill="none" stroke="#1e1e1e" stroke-width="1.2" stroke-linejoin="round"/>
<polyline points="1160.2,1799 1161.2,1799 1162.2,1799 1163.2,1799 1164.2,1799 1165.2,1799 1166.2,1799 1167.2,1799 1168.2,1799 1169.2,1799 1170.2,1799 1171.2,1799 1172.2,1799 1173.2,1799 1174.2,1799 1175.2,1799 1176.2,1799 1177.2,1799 1178.2,1799 1179.2,1799 1180.2,1799 1181.2,1799 1182.2,1799 1183.2,1799 1184.2,1799 1185.2,1799 1186.2,1799 1187.2,1799 1188.2,1799 1189.2,1799 1190.2,1799 1191.2,1799 1192.2,1799 1193.2,1799 1194.2,1799 1195.2,1799 1196.2,1798.9 1197.2,1798.9 1198.2,1798.9 1199.2,1798.8 1200.2,1798.8 1201.2,1798.7 1202.2,1798.6 1203.2,1798.5 1204.2,1798.4 1205.2,1798.3 1206.2,1798.2 1207.2,1798 1208.2,1797.7 1209.2,1797.5 1210.2,1797.2 1211.2,1796.8 1212.2,1796.4 1213.2,1795.9 1214.2,1795.3 1215.2,1794.7 1216.2,1793.9 1217.2,1793 1218.2,1792 1219.2,1790.9 1220.2,1789.6 1221.2,1788.2 1222.2,1786.5 1223.2,1784.7 1224.2,1782.8 1225.2,1780.5 1226.2,1778.1 1227.2,1775.5 1228.2,1772.7 1229.2,1769.6 1230.2,1766.1 1231.2,1762.2 1232.2,1758.5 1233.2,1754.4 1234.2,1749.9 1235.2,1744.7 1236.2,1739.7 1237.2,1734.9 1238.2,1729.5 1239.2,1724 1240.2,1717.9 1241.2,1712.1 1242.2,1706.5 1243.2,1700.8 1244.2,1694.7 1245.2,1689.3 1246.2,1682.6 1247.2,1676.6 1248.2,1672 1249.2,1665.8 1250.2,1660.1 1251.2,1655.8 1252.2,1651.4 1253.2,1648.7 1254.2,1644.7 1255.2,1642.1 1256.2,1638.2 1257.2,1636.2 1258.2,1633.9 1259.2,1633.9 1260.2,1634.1 1261.2,1633.9 1262.2,1635.2 1263.2,1638.6 1264.2,1642 1265.2,1646.5 1266.2,1652.2 1267.2,1657.9 1268.2,1664.7 1269.2,1671.3 1270.2,1679.9 1271.2,1686.7 1272.2,1695.1 1273.2,1703 1274.2,1711.5 1275.2,1719.2 1276.2,1726.3 1277.2,1733.5 1278.2,1740.6 1279.2,1747.2 1280.2,1753.3 1281.2,1759 1282.2,1764.2 1283.2,1769 1284.2,1773.1 1285.2,1776.9 1286.2,1780.2 1287.2,1783.2 1288.2,1785.7 1289.2,1787.9 1290.2,1789.8 1291.2,1791.5 1292.2,1792.9 1293.2,1794 1294.2,1795 1295.2,1795.8 1296.2,1796.4 1297.2,1797 1298.2,1797.4 1299.2,1797.8 1300.2,1798.1 1301.2,1798.3 1302.2,1798.5 1303.2,1798.6 1304.2,1798.7 1305.2,1798.8 1306.2,1798.9 1307.2,1798.9 1308.2,1798.9 1309.2,1799 1310.2,1799 1311.2,1799 1312.2,1799 1313.2,1799 1314.2,1799 1315.2,1799 1316.2,1799 1317.2,1799 1318.2,1799 1319.2,1799 1320.2,1799 1321.2,1799 1322.2,1799 1323.2,1799 1324.2,1799 1325.2,1799 1326.2,1799 1327.2,1799 1328.2,1799 1329.2,1799 1330.2,1799 1331.2,1799 1332.2,1799 1333.2,1799 1334.2,1799 1335.2,1799 1336.2,1799 1337.2,1799 1338.2,1799 1339.2,1799 1340.2,1799 1341.2,1799 1342.2,1799 1343.2,1799 1344.2,1799 1345.2,1799 1346.2,1799 1347.2,1799 1348.2,1799 1349.2,1799 1350.2,1799" fill="none" stroke="#dd3a3a" stroke-width="1.2" stroke-linejoin="round"/>
<polyline points="1160.2,1799 1161.2,1799 1162.2,1799 1163.2,1799 1164.2,1799 1165.2,1799 1166.2,1799 1167.2,1799 1168.2,1799 1169.2,1799 1170.2,1799 1171.2,1799 1172.2,1799 1173.2,1799 1174.2,1799 1175.2,1799 1176.2,1799 1177.2,1799 1178.2,1799 1179.2,1799 1180.2,1799 1181.2,1799 1182.2,1799 1183.2,1799 1184.2,1799 1185.2,1799 1186.2,1799 1187.2,1799 1188.2,1799 1189.2,1799 1190.2,1799 1191.2,1799 1192.2,1799 1193.2,1799 1194.2,1799 1195.2,1799 1196.2,1799 1197.2,1799 1198.2,1799 1199.2,1799 1200.2,1799 1201.2,1799 1202.2,1799 1203.2,1799 1204.2,1799 1205.2,1799 1206.2,1799 1207.2,1799 1208.2,1799 1209.2,1799 1210.2,1799 1211.2,1799 1212.2,1799 1213.2,1799 1214.2,1799 1215.2,1799 1216.2,1799 1217.2,1799 1218.2,1799 1219.2,1799 1220.2,1799 1221.2,1799 1222.2,1799 1223.2,1799 1224.2,1799 1225.2,1799 1226.2,1799 1227.2,1799 1228.2,1799 1229.2,1799 1230.2,1799 1231.2,1799 1232.2,1798.9 1233.2,1798.9 1234.2,1798.8 1235.2,1798.8 1236.2,1798.7 1237.2,1798.6 1238.2,1798.5 1239.2,1798.3 1240.2,1798.1 1241.2,1797.9 1242.2,1797.6 1243.2,1797.3 1244.2,1796.8 1245.2,1796.3 1246.2,1795.6 1247.2,1794.9 1248.2,1794 1249.2,1793 1250.2,1791.7 1251.2,1790.2 1252.2,1788.6 1253.2,1786.7 1254.2,1784.5 1255.2,1782 1256.2,1779.3 1257.2,1776.1 1258.2,1772.6 1259.2,1768.6 1260.2,1764.5 1261.2,1759.8 1262.2,1754.7 1263.2,1749.7 1264.2,1744.1 1265.2,1737.3 1266.2,1731.1 1267.2,1724.2 1268.2,1717.7 1269.2,1710.5 1270.2,1703.5 1271.2,1696.8 1272.2,1689.4 1273.2,1682.6 1274.2,1676.9 1275.2,1670.1 1276.2,1664.3 1277.2,1658.6 1278.2,1653.3 1279.2,1648.7 1280.2,1645.2 1281.2,1642.7 1282.2,1640.8 1283.2,1639.8 1284.2,1640.2 1285.2,1639.9 1286.2,1640.2 1287.2,1641.3 1288.2,1642.7 1289.2,1642.3 1290.2,1643.1 1291.2,1645.8 1292.2,1646.2 1293.2,1647.8 1294.2,1648.9 1295.2,1651.3 1296.2,1653 1297.2,1655.1 1298.2,1656.6 1299.2,1660.5 1300.2,1662.4 1301.2,1664.9 1302.2,1668.1 1303.2,1670.5 1304.2,1673.8 1305.2,1676 1306.2,1679.7 1307.2,1683.6 1308.2,1686.1 1309.2,1689.3 1310.2,1692.8 1311.2,1696 1312.2,1698.5 1313.2,1701.8 1314.2,1706.4 1315.2,1709 1316.2,1712.2 1317.2,1715.2 1318.2,1718.5 1319.2,1721.6 1320.2,1725 1321.2,1728.5 1322.2,1731 1323.2,1734.3 1324.2,1736.7 1325.2,1739.9 1326.2,1742.9 1327.2,1745.8 1328.2,1747.7 1329.2,1750.7 1330.2,1753.1 1331.2,1755.6 1332.2,1758 1333.2,1760.2 1334.2,1762.3 1335.2,1764.7 1336.2,1766.7 1337.2,1768.2 1338.2,1770.4 1339.2,1772.2 1340.2,1773.7 1341.2,1775.5 1342.2,1776.8 1343.2,1778.4 1344.2,1779.7 1345.2,1781.1 1346.2,1782.3 1347.2,1783.5 1348.2,1784.6 1349.2,1785.7 1350.2,1786.7" fill="none" stroke="#4444e8" stroke-width="1.2" stroke-linejoin="round"/>
</g>
<rect x="1158.7" y="1622.9" width="193.3" height="177.7" fill="none" stroke="#262626" stroke-width="2"/>
<rect x="1348.6" y="1645" width="2.6" height="152" fill="#2c2c96"/>
<polygon points="1337,860 1356,860 1356,872 1349,872" fill="#fff"/>
<rect x="153" y="1846.6" width="71" height="63" fill="#0000ff"/>
<rect x="596" y="1846.6" width="72" height="63" fill="#ff0000"/>
<rect x="1019.6" y="1846.6" width="71" height="63.4" fill="#000"/>
<text x="262" y="1887.5" font-size="38" font-weight="normal" text-anchor="start" fill="#000" textLength="293.4" lengthAdjust="spacingAndGlyphs" >Neonatal Human</text>
<text x="701.6" y="1887.5" font-size="38" font-weight="normal" text-anchor="start" fill="#000" textLength="268" lengthAdjust="spacingAndGlyphs" >Neonatal Ovine</text>
<text x="1150" y="1887.5" font-size="38" font-weight="normal" text-anchor="start" fill="#000" textLength="176" lengthAdjust="spacingAndGlyphs" >Unstained</text>
<text x="5.6" y="1966.6" font-size="53" font-weight="normal" text-anchor="start" fill="#000" >C</text>
<defs><linearGradient id="gl1" x1="0" y1="0" x2="0" y2="1"><stop offset="0" stop-color="#121212"/><stop offset="0.1" stop-color="#1c1c1c"/><stop offset="0.7" stop-color="#1d1d1d"/><stop offset="1" stop-color="#252525"/></linearGradient><radialGradient id="gblk1" cx="0.5" cy="0.5" r="0.5"><stop offset="0" stop-color="#000"/><stop offset="0.7" stop-color="#000" stop-opacity="0.95"/><stop offset="1" stop-color="#000" stop-opacity="0"/></radialGradient><radialGradient id="gband1" cx="0.5" cy="0.5" r="0.5"><stop offset="0" stop-color="#fff"/><stop offset="0.5" stop-color="#f4f4f4"/><stop offset="1" stop-color="#fff" stop-opacity="0"/></radialGradient><radialGradient id="gglow1" cx="0.5" cy="0.3" r="0.6"><stop offset="0" stop-color="#9a9a9a" stop-opacity="0.9"/><stop offset="1" stop-color="#555" stop-opacity="0"/></radialGradient><clipPath id="cgl"><rect x="60.7" y="1954" width="144.3" height="350"/></clipPath></defs>
<rect x="60.7" y="1954" width="144.3" height="350" fill="url(#gl1)"/>
<g clip-path="url(#cgl)">
<ellipse cx="101" cy="2162" rx="40" ry="50" fill="#000" filter="url(#blur6)"/>
<ellipse cx="99.4" cy="1970" rx="13.5" ry="5" fill="#000" filter="url(#blur1)"/>
<ellipse cx="167.3" cy="1969" rx="13.5" ry="4" fill="#050505" filter="url(#blur1)"/>
<rect x="77" y="1983.6" width="46" height="8.2" rx="2" fill="#000" filter="url(#blur1)"/>
<rect x="145" y="1984" width="45.7" height="7.5" rx="2" fill="#000" filter="url(#blur1)"/>
<line x1="62" y1="1979" x2="203" y2="1979" stroke="#2e2e2e" stroke-width="1.5" filter="url(#blur1)"/>
<rect x="74.5" y="2022" width="50.5" height="11" rx="5" fill="#ffffff" filter="url(#blur1)"/>
<rect x="74.5" y="2041.5" width="50.5" height="10.5" rx="5" fill="#ffffff" filter="url(#blur1)"/>
<rect x="74.5" y="2062.2" width="50.5" height="9.5" rx="5" fill="#fcfcfc" filter="url(#blur1)"/>
<rect x="74.5" y="2101.1" width="50.5" height="8.5" rx="5" fill="#9c9c9c" filter="url(#blur1)"/>
<path d="M80,1980 q19,-2 38,0" stroke="#5a5a5a" stroke-width="2" fill="none" filter="url(#blur1)"/>
<circle cx="147.4" cy="1976.6" r="2.5" fill="#6a6a6a" filter="url(#blur1)"/><circle cx="189.5" cy="1976.6" r="2.5" fill="#6a6a6a" filter="url(#blur1)"/>
<ellipse cx="168.5" cy="2170" rx="25" ry="28" fill="url(#gglow1)" filter="url(#blur3)"/>
<ellipse cx="168.5" cy="2148" rx="24" ry="9" fill="#fff" filter="url(#blur3)"/>
<ellipse cx="168.5" cy="2148" rx="18" ry="5.5" fill="#fff" filter="url(#blur1)"/>
</g>
<defs><linearGradient id="gl2" x1="0" y1="0" x2="0" y2="1"><stop offset="0" stop-color="#141414"/><stop offset="0.5" stop-color="#111"/><stop offset="1" stop-color="#1e1e1e"/></linearGradient><radialGradient id="gglow2" cx="0.5" cy="0.35" r="0.6"><stop offset="0" stop-color="#c8c8c8"/><stop offset="0.6" stop-color="#7a7a7a" stop-opacity="0.6"/><stop offset="1" stop-color="#444" stop-opacity="0"/></radialGradient><clipPath id="cgr"><rect x="1205.2" y="1965.2" width="139.6" height="346.4"/></clipPath></defs>
<rect x="1205.2" y="1965.2" width="139.6" height="346.4" fill="url(#gl2)"/>
<g clip-path="url(#cgr)">
<ellipse cx="1248" cy="2182" rx="44" ry="64" fill="#000" filter="url(#blur6)"/>
<ellipse cx="1243" cy="1992" rx="20" ry="5" fill="#080808" filter="url(#blur1)"/>
<ellipse cx="1312" cy="1991" rx="20" ry="5" fill="#080808" filter="url(#blur1)"/>
<line x1="1206" y1="1996" x2="1343" y2="1996" stroke="#2c2c2c" stroke-width="1.5" filter="url(#blur1)"/>
<rect x="1229" y="2043" width="42" height="9" rx="4" fill="#ffffff" filter="url(#blur1)"/>
<rect x="1229" y="2066.7" width="42" height="9" rx="4" fill="#b5b5b5" filter="url(#blur1)"/>
<rect x="1229" y="2091.5" width="42" height="9" rx="4" fill="#8e8e8e" filter="url(#blur1)"/>
<ellipse cx="1313.5" cy="2172" rx="26" ry="26" fill="url(#gglow2)" filter="url(#blur3)"/>
<ellipse cx="1313.5" cy="2164" rx="21" ry="10" fill="#c9c9c9" filter="url(#blur3)"/>
</g>
<text x="491.3" y="1952" font-size="22.5" font-weight="bold" text-anchor="start" fill="#000" textLength="72.4" lengthAdjust="spacingAndGlyphs" >Human</text>
<text x="890.6" y="1952" font-size="22.5" font-weight="bold" text-anchor="start" fill="#000" textLength="65" lengthAdjust="spacingAndGlyphs" >Sheep</text>
<line x1="328.8" y1="1971" x2="328.8" y2="2318" stroke="#000" stroke-width="3"/>
<line x1="315" y1="2316.5" x2="329" y2="2316.5" stroke="#000" stroke-width="3"/>
<text x="315" y="2323.9" font-size="20.5" font-weight="bold" text-anchor="end" fill="#000" >0</text>
<line x1="315" y1="2247.8" x2="329" y2="2247.8" stroke="#000" stroke-width="3"/>
<text x="315" y="2255.2" font-size="20.5" font-weight="bold" text-anchor="end" fill="#000" >20</text>
<line x1="315" y1="2179.1" x2="329" y2="2179.1" stroke="#000" stroke-width="3"/>
<text x="315" y="2186.5" font-size="20.5" font-weight="bold" text-anchor="end" fill="#000" >40</text>
<line x1="315" y1="2110.4" x2="329" y2="2110.4" stroke="#000" stroke-width="3"/>
<text x="315" y="2117.8" font-size="20.5" font-weight="bold" text-anchor="end" fill="#000" >60</text>
<line x1="315" y1="2041.7" x2="329" y2="2041.7" stroke="#000" stroke-width="3"/>
<text x="315" y="2049.1" font-size="20.5" font-weight="bold" text-anchor="end" fill="#000" >80</text>
<line x1="315" y1="1973" x2="329" y2="1973" stroke="#000" stroke-width="3"/>
<text x="315" y="1980.4" font-size="20.5" font-weight="bold" text-anchor="end" fill="#000" >100</text>
<line x1="327.3" y1="2316.3" x2="1125" y2="2316.3" stroke="#000" stroke-width="3"/>
<line x1="725.8" y1="1972" x2="725.8" y2="2316" stroke="#000" stroke-width="2"/>
<rect x="362.7" y="2060.6" width="20" height="255.9" fill="#0000ff" stroke="#000" stroke-width="2.2"/>
<line x1="361.7" y1="2316" x2="361.7" y2="2329" stroke="#000" stroke-width="3"/>
<text x="0" y="0" font-size="19.5" font-weight="bold" text-anchor="end" transform="translate(366.2,2347) rotate(-45)">Mesp1</text>
<rect x="427.8" y="1997" width="20" height="319.5" fill="#0000ff" stroke="#000" stroke-width="2.2"/>
<line x1="426.8" y1="2316" x2="426.8" y2="2329" stroke="#000" stroke-width="3"/>
<text x="0" y="0" font-size="19.5" font-weight="bold" text-anchor="end" transform="translate(431.3,2347) rotate(-45)">Isl1</text>
<rect x="471" y="2310.3" width="20.5" height="6.2" fill="#000"/>
<rect x="492.5" y="1999.8" width="20" height="316.7" fill="#0000ff" stroke="#000" stroke-width="2.2"/>
<line x1="491.5" y1="2316" x2="491.5" y2="2329" stroke="#000" stroke-width="3"/>
<text x="0" y="0" font-size="19.5" font-weight="bold" text-anchor="end" transform="translate(496,2347) rotate(-45)">PDGFRα</text>
<rect x="536" y="2314.8" width="20.5" height="1.7" fill="#000"/>
<rect x="557.5" y="2190.8" width="20" height="125.7" fill="#0000ff" stroke="#000" stroke-width="2.2"/>
<line x1="556.5" y1="2316" x2="556.5" y2="2329" stroke="#000" stroke-width="3"/>
<text x="0" y="0" font-size="19.5" font-weight="bold" text-anchor="end" transform="translate(561,2347) rotate(-45)">CXCR4</text>
<rect x="601.5" y="2307.2" width="20.5" height="9.3" fill="#000"/>
<rect x="623" y="2034.8" width="20" height="281.7" fill="#0000ff" stroke="#000" stroke-width="2.2"/>
<line x1="622" y1="2316" x2="622" y2="2329" stroke="#000" stroke-width="3"/>
<text x="0" y="0" font-size="19.5" font-weight="bold" text-anchor="end" transform="translate(626.5,2347) rotate(-45)">c-Kit</text>
<rect x="666.1" y="2306.5" width="20.5" height="10" fill="#000"/>
<rect x="687.6" y="2169.8" width="20" height="146.7" fill="#0000ff" stroke="#000" stroke-width="2.2"/>
<line x1="686.6" y1="2316" x2="686.6" y2="2329" stroke="#000" stroke-width="3"/>
<text x="0" y="0" font-size="19.5" font-weight="bold" text-anchor="end" transform="translate(691.1,2347) rotate(-45)">SSEA1</text>
<rect x="763.9" y="2067.5" width="20" height="249" fill="#ff0000" stroke="#000" stroke-width="2.2"/>
<line x1="762.9" y1="2316" x2="762.9" y2="2329" stroke="#000" stroke-width="3"/>
<text x="0" y="0" font-size="19.5" font-weight="bold" text-anchor="end" transform="translate(767.4,2347) rotate(-45)">Mesp1</text>
<rect x="829" y="2031.4" width="20" height="285.1" fill="#ff0000" stroke="#000" stroke-width="2.2"/>
<line x1="828" y1="2316" x2="828" y2="2329" stroke="#000" stroke-width="3"/>
<text x="0" y="0" font-size="19.5" font-weight="bold" text-anchor="end" transform="translate(832.5,2347) rotate(-45)">Isl1</text>
<rect x="894" y="2040.7" width="20" height="275.8" fill="#ff0000" stroke="#000" stroke-width="2.2"/>
<line x1="893" y1="2316" x2="893" y2="2329" stroke="#000" stroke-width="3"/>
<text x="0" y="0" font-size="19.5" font-weight="bold" text-anchor="end" transform="translate(897.5,2347) rotate(-45)">PDGFRα</text>
<rect x="937.9" y="2306.5" width="20.5" height="10" fill="#000"/>
<rect x="959.4" y="2214.5" width="20" height="102" fill="#ff0000" stroke="#000" stroke-width="2.2"/>
<line x1="958.4" y1="2316" x2="958.4" y2="2329" stroke="#000" stroke-width="3"/>
<text x="0" y="0" font-size="19.5" font-weight="bold" text-anchor="end" transform="translate(962.9,2347) rotate(-45)">CXCR4</text>
<rect x="1003" y="2308.3" width="20.5" height="8.2" fill="#000"/>
<rect x="1024.5" y="2100.4" width="20" height="216.1" fill="#ff0000" stroke="#000" stroke-width="2.2"/>
<line x1="1023.5" y1="2316" x2="1023.5" y2="2329" stroke="#000" stroke-width="3"/>
<text x="0" y="0" font-size="19.5" font-weight="bold" text-anchor="end" transform="translate(1028,2347) rotate(-45)">c-Kit</text>
<rect x="1068" y="2306.5" width="20.5" height="10" fill="#000"/>
<rect x="1089.5" y="2255" width="20" height="61.5" fill="#ff0000" stroke="#000" stroke-width="2.2"/>
<line x1="1088.5" y1="2316" x2="1088.5" y2="2329" stroke="#000" stroke-width="3"/>
<text x="0" y="0" font-size="19.5" font-weight="bold" text-anchor="end" transform="translate(1093,2347) rotate(-45)">SSEA1</text>
<text x="0" y="0" font-size="22" font-weight="bold" text-anchor="middle" transform="translate(269.6,2144) rotate(-90)" textLength="159" lengthAdjust="spacingAndGlyphs">% Postive Cells</text>
<text x="22.9" y="2355.3" font-size="36" font-weight="normal" text-anchor="start" fill="#000" textLength="229.2" lengthAdjust="spacingAndGlyphs" >Human FOXA2</text>
<text x="1162.4" y="2378.4" font-size="33" font-weight="normal" text-anchor="start" fill="#000" textLength="205.6" lengthAdjust="spacingAndGlyphs" >Ovine FOXA2</text>
</svg>
</body></html>
